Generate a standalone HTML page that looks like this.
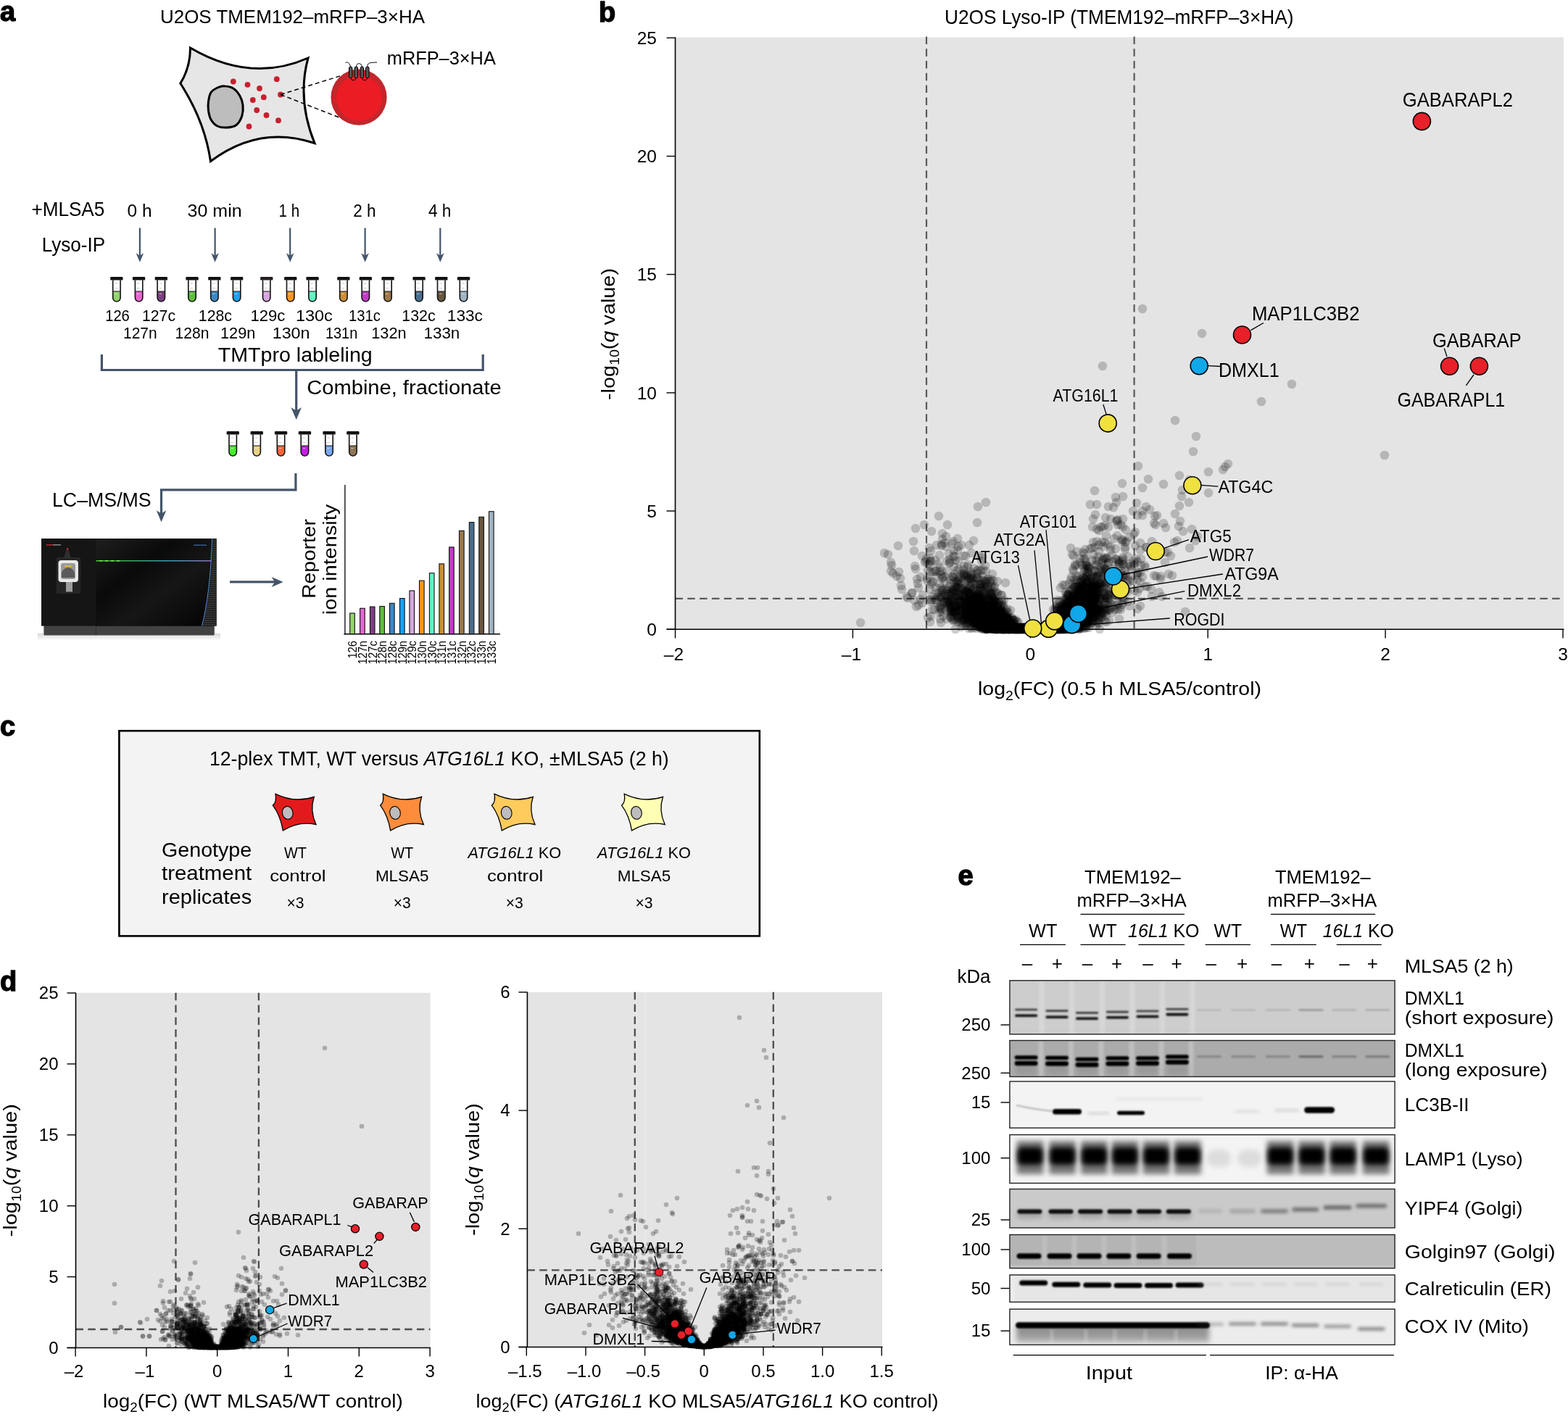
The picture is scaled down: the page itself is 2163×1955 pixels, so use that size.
<!DOCTYPE html>
<html><head><meta charset="utf-8"><title>Figure</title>
<style>
html,body{margin:0;padding:0;background:#fff;}
body{width:2163px;height:1955px;overflow:hidden;}
svg{display:block;font-family:"Liberation Sans", Arial, sans-serif;}
</style></head><body>
<svg width="2163" height="1955" viewBox="0 0 2163 1955">
<defs>
<filter id="b1" x="-20%" y="-100%" width="140%" height="300%"><feGaussianBlur stdDeviation="1.2"/></filter>
<filter id="b2" x="-20%" y="-100%" width="140%" height="300%"><feGaussianBlur stdDeviation="2"/></filter>
<filter id="b3" x="-20%" y="-100%" width="140%" height="300%"><feGaussianBlur stdDeviation="3.5"/></filter>
<filter id="b4" x="-20%" y="-100%" width="140%" height="300%"><feGaussianBlur stdDeviation="6"/></filter>
<filter id="bh" x="-30%" y="-100%" width="160%" height="300%"><feGaussianBlur stdDeviation="2.5 1.2"/></filter>
</defs>
<rect width="2163" height="1955" fill="#fff"/>
<text x="0" y="28.6" font-size="38" font-weight="bold" stroke="#000" stroke-width="1.3">a</text>
<text x="221" y="32" font-size="26" textLength="365" lengthAdjust="spacingAndGlyphs">U2OS TMEM192–mRFP–3×HA</text>
<path d="M262.5 66 Q346 115 425 80 Q409.5 137 434 197.5 Q357.7 172 290.5 222.5 Q282.4 167 248.8 115 Q262.4 93.5 262.5 66 Z" fill="#e6e6e6" stroke="#000" stroke-width="3" stroke-linejoin="miter"/>
<path d="M287.5 140 C288.1 135.8 288.9 130.7 291 127.5 C293.1 124.3 296.8 122.5 300 121 C303.2 119.5 306.2 118.5 310 118.8 C313.8 119 319 120.2 322.5 122.5 C326 124.8 328.9 128.8 331 132.5 C333.1 136.2 334.5 140.4 335 145 C335.5 149.6 335.2 155.4 333.8 160 C332.2 164.6 329.5 169.8 326 172.5 C322.5 175.2 316.8 175.8 312.5 176 C308.2 176.2 303.6 175.8 300 174 C296.4 172.2 293.1 168.6 291 165 C288.9 161.4 288.1 156.7 287.5 152.5 C286.9 148.3 286.9 144.2 287.5 140Z" fill="#bdbdbd" stroke="#000" stroke-width="3"/>
<circle cx="321.8" cy="112.5" r="3.9" fill="#c8202f"/>
<circle cx="341.5" cy="116.8" r="3.9" fill="#c8202f"/>
<circle cx="358" cy="122" r="3.9" fill="#c8202f"/>
<circle cx="381.8" cy="109.2" r="3.9" fill="#c8202f"/>
<circle cx="363.8" cy="134.2" r="3.9" fill="#c8202f"/>
<circle cx="387" cy="130.5" r="3.9" fill="#c8202f"/>
<circle cx="348.8" cy="138" r="3.9" fill="#c8202f"/>
<circle cx="354.2" cy="152" r="3.9" fill="#c8202f"/>
<circle cx="367.5" cy="159" r="3.9" fill="#c8202f"/>
<circle cx="384" cy="166.2" r="3.9" fill="#c8202f"/>
<circle cx="343.5" cy="174.5" r="3.9" fill="#c8202f"/>
<line x1="387" y1="130.5" x2="472.5" y2="103.8" stroke="#000" stroke-width="1.5" stroke-dasharray="6 4"/>
<line x1="387" y1="130.5" x2="475.5" y2="165" stroke="#000" stroke-width="1.5" stroke-dasharray="6 4"/>
<circle cx="495" cy="134.2" r="38.6" fill="#c1272d"/>
<circle cx="495.4" cy="135.2" r="31.6" fill="#ec1c24"/>
<path d="M476.5 86.5 C479 85 482 86 483.7 92.5 M483.7 107 C484 112 491 112 491.3 107 M491.3 92.5 C491.5 86 499 86 499.3 92.5 M499.3 107 C499.5 112 506.5 112 506.8 107 M506.8 92.5 C507 86 510 86.5 520 86" fill="none" stroke="#000" stroke-width="1"/>
<rect x="481.5" y="92" width="4.4" height="15.5" rx="2" fill="#555" stroke="#000" stroke-width="1"/>
<rect x="489.1" y="92" width="4.4" height="15.5" rx="2" fill="#555" stroke="#000" stroke-width="1"/>
<rect x="497.1" y="92" width="4.4" height="15.5" rx="2" fill="#555" stroke="#000" stroke-width="1"/>
<rect x="504.6" y="92" width="4.4" height="15.5" rx="2" fill="#555" stroke="#000" stroke-width="1"/>
<text x="533.8" y="88.8" font-size="26" textLength="150" lengthAdjust="spacingAndGlyphs">mRFP–3×HA</text>
<text x="43.4" y="298" font-size="27" textLength="100.9" lengthAdjust="spacingAndGlyphs">+MLSA5</text>
<text x="57.7" y="346.6" font-size="27" textLength="87.5" lengthAdjust="spacingAndGlyphs">Lyso-IP</text>
<text x="175.5" y="299.3" font-size="23" textLength="34" lengthAdjust="spacingAndGlyphs">0 h</text>
<text x="258.6" y="299.3" font-size="23" textLength="75" lengthAdjust="spacingAndGlyphs">30 min</text>
<text x="384.6" y="299.3" font-size="23" textLength="28.6" lengthAdjust="spacingAndGlyphs">1 h</text>
<text x="487.3" y="299.3" font-size="23" textLength="31.3" lengthAdjust="spacingAndGlyphs">2 h</text>
<text x="590.9" y="299.3" font-size="23" textLength="31.6" lengthAdjust="spacingAndGlyphs">4 h</text>
<line x1="192.9" y1="314.5" x2="192.9" y2="355.6" stroke="#44546a" stroke-width="2.2"/>
<path d="M192.9 361.8 L187.6 349.3 L192.9 352.8 L198.2 349.3 Z" fill="#44546a"/>
<line x1="296.6" y1="314.5" x2="296.6" y2="355.6" stroke="#44546a" stroke-width="2.2"/>
<path d="M296.6 361.8 L291.3 349.3 L296.6 352.8 L301.9 349.3 Z" fill="#44546a"/>
<line x1="400.2" y1="314.5" x2="400.2" y2="355.6" stroke="#44546a" stroke-width="2.2"/>
<path d="M400.2 361.8 L394.9 349.3 L400.2 352.8 L405.5 349.3 Z" fill="#44546a"/>
<line x1="503.6" y1="314.5" x2="503.6" y2="355.6" stroke="#44546a" stroke-width="2.2"/>
<path d="M503.6 361.8 L498.3 349.3 L503.6 352.8 L508.9 349.3 Z" fill="#44546a"/>
<line x1="607.3" y1="314.5" x2="607.3" y2="355.6" stroke="#44546a" stroke-width="2.2"/>
<path d="M607.3 361.8 L602 349.3 L607.3 352.8 L612.6 349.3 Z" fill="#44546a"/>
<rect x="152.2" y="382" width="17.3" height="4.6" rx="1.2" fill="#111"/>
<path d="M155.9 402 L165.9 402 L165.9 410.8 A5 5 0 0 1 155.9 410.8 Z" fill="#93d46d"/>
<path d="M155.7 386.6 L155.7 410.8 A5.2 5.2 0 0 0 166.1 410.8 L166.1 386.6" fill="none" stroke="#111" stroke-width="1.6"/>
<line x1="155.9" y1="402" x2="165.9" y2="402" stroke="#222" stroke-width="1.1"/>
<line x1="158.4" y1="391" x2="161.9" y2="391" stroke="#bbb" stroke-width="0.8"/>
<line x1="158.4" y1="397.5" x2="161.9" y2="397.5" stroke="#bbb" stroke-width="0.8"/>
<line x1="158.4" y1="405.5" x2="161.4" y2="405.5" stroke="#eee" stroke-width="1.0" opacity="0.7"/>
<rect x="182.9" y="382" width="17.3" height="4.6" rx="1.2" fill="#111"/>
<path d="M186.6 402 L196.6 402 L196.6 410.8 A5 5 0 0 1 186.6 410.8 Z" fill="#e865d0"/>
<path d="M186.4 386.6 L186.4 410.8 A5.2 5.2 0 0 0 196.8 410.8 L196.8 386.6" fill="none" stroke="#111" stroke-width="1.6"/>
<line x1="186.6" y1="402" x2="196.6" y2="402" stroke="#222" stroke-width="1.1"/>
<line x1="189.1" y1="391" x2="192.6" y2="391" stroke="#bbb" stroke-width="0.8"/>
<line x1="189.1" y1="397.5" x2="192.6" y2="397.5" stroke="#bbb" stroke-width="0.8"/>
<line x1="189.1" y1="405.5" x2="192.1" y2="405.5" stroke="#eee" stroke-width="1.0" opacity="0.7"/>
<rect x="213.7" y="382" width="17.3" height="4.6" rx="1.2" fill="#111"/>
<path d="M217.3 402 L227.3 402 L227.3 410.8 A5 5 0 0 1 217.3 410.8 Z" fill="#7d3f80"/>
<path d="M217.1 386.6 L217.1 410.8 A5.2 5.2 0 0 0 227.5 410.8 L227.5 386.6" fill="none" stroke="#111" stroke-width="1.6"/>
<line x1="217.3" y1="402" x2="227.3" y2="402" stroke="#222" stroke-width="1.1"/>
<line x1="219.8" y1="391" x2="223.3" y2="391" stroke="#bbb" stroke-width="0.8"/>
<line x1="219.8" y1="397.5" x2="223.3" y2="397.5" stroke="#bbb" stroke-width="0.8"/>
<line x1="219.8" y1="405.5" x2="222.8" y2="405.5" stroke="#eee" stroke-width="1.0" opacity="0.7"/>
<rect x="256.4" y="382" width="17.3" height="4.6" rx="1.2" fill="#111"/>
<path d="M260 402 L270 402 L270 410.8 A5 5 0 0 1 260 410.8 Z" fill="#5fbe3c"/>
<path d="M259.8 386.6 L259.8 410.8 A5.2 5.2 0 0 0 270.2 410.8 L270.2 386.6" fill="none" stroke="#111" stroke-width="1.6"/>
<line x1="260" y1="402" x2="270" y2="402" stroke="#222" stroke-width="1.1"/>
<line x1="262.5" y1="391" x2="266" y2="391" stroke="#bbb" stroke-width="0.8"/>
<line x1="262.5" y1="397.5" x2="266" y2="397.5" stroke="#bbb" stroke-width="0.8"/>
<line x1="262.5" y1="405.5" x2="265.5" y2="405.5" stroke="#eee" stroke-width="1.0" opacity="0.7"/>
<rect x="287.2" y="382" width="17.3" height="4.6" rx="1.2" fill="#111"/>
<path d="M290.9 402 L300.9 402 L300.9 410.8 A5 5 0 0 1 290.9 410.8 Z" fill="#3b88c4"/>
<path d="M290.7 386.6 L290.7 410.8 A5.2 5.2 0 0 0 301.1 410.8 L301.1 386.6" fill="none" stroke="#111" stroke-width="1.6"/>
<line x1="290.9" y1="402" x2="300.9" y2="402" stroke="#222" stroke-width="1.1"/>
<line x1="293.4" y1="391" x2="296.9" y2="391" stroke="#bbb" stroke-width="0.8"/>
<line x1="293.4" y1="397.5" x2="296.9" y2="397.5" stroke="#bbb" stroke-width="0.8"/>
<line x1="293.4" y1="405.5" x2="296.4" y2="405.5" stroke="#eee" stroke-width="1.0" opacity="0.7"/>
<rect x="318" y="382" width="17.3" height="4.6" rx="1.2" fill="#111"/>
<path d="M321.6 402 L331.6 402 L331.6 410.8 A5 5 0 0 1 321.6 410.8 Z" fill="#19a1f2"/>
<path d="M321.4 386.6 L321.4 410.8 A5.2 5.2 0 0 0 331.8 410.8 L331.8 386.6" fill="none" stroke="#111" stroke-width="1.6"/>
<line x1="321.6" y1="402" x2="331.6" y2="402" stroke="#222" stroke-width="1.1"/>
<line x1="324.1" y1="391" x2="327.6" y2="391" stroke="#bbb" stroke-width="0.8"/>
<line x1="324.1" y1="397.5" x2="327.6" y2="397.5" stroke="#bbb" stroke-width="0.8"/>
<line x1="324.1" y1="405.5" x2="327.1" y2="405.5" stroke="#eee" stroke-width="1.0" opacity="0.7"/>
<rect x="359.1" y="382" width="17.3" height="4.6" rx="1.2" fill="#231f20"/>
<path d="M362.7 402 L372.7 402 L372.7 410.8 A5 5 0 0 1 362.7 410.8 Z" fill="#d6a6dc"/>
<path d="M362.5 386.6 L362.5 410.8 A5.2 5.2 0 0 0 372.9 410.8 L372.9 386.6" fill="none" stroke="#111" stroke-width="1.6"/>
<line x1="362.7" y1="402" x2="372.7" y2="402" stroke="#222" stroke-width="1.1"/>
<line x1="365.2" y1="391" x2="368.7" y2="391" stroke="#bbb" stroke-width="0.8"/>
<line x1="365.2" y1="397.5" x2="368.7" y2="397.5" stroke="#bbb" stroke-width="0.8"/>
<line x1="365.2" y1="405.5" x2="368.2" y2="405.5" stroke="#eee" stroke-width="1.0" opacity="0.7"/>
<rect x="392.1" y="382" width="17.3" height="4.6" rx="1.2" fill="#111"/>
<path d="M395.7 402 L405.7 402 L405.7 410.8 A5 5 0 0 1 395.7 410.8 Z" fill="#f8961e"/>
<path d="M395.5 386.6 L395.5 410.8 A5.2 5.2 0 0 0 405.9 410.8 L405.9 386.6" fill="none" stroke="#111" stroke-width="1.6"/>
<line x1="395.7" y1="402" x2="405.7" y2="402" stroke="#222" stroke-width="1.1"/>
<line x1="398.2" y1="391" x2="401.7" y2="391" stroke="#bbb" stroke-width="0.8"/>
<line x1="398.2" y1="397.5" x2="401.7" y2="397.5" stroke="#bbb" stroke-width="0.8"/>
<line x1="398.2" y1="405.5" x2="401.2" y2="405.5" stroke="#eee" stroke-width="1.0" opacity="0.7"/>
<rect x="422.4" y="382" width="17.3" height="4.6" rx="1.2" fill="#111"/>
<path d="M426 402 L436 402 L436 410.8 A5 5 0 0 1 426 410.8 Z" fill="#5ff2c4"/>
<path d="M425.8 386.6 L425.8 410.8 A5.2 5.2 0 0 0 436.2 410.8 L436.2 386.6" fill="none" stroke="#111" stroke-width="1.6"/>
<line x1="426" y1="402" x2="436" y2="402" stroke="#222" stroke-width="1.1"/>
<line x1="428.5" y1="391" x2="432" y2="391" stroke="#bbb" stroke-width="0.8"/>
<line x1="428.5" y1="397.5" x2="432" y2="397.5" stroke="#bbb" stroke-width="0.8"/>
<line x1="428.5" y1="405.5" x2="431.5" y2="405.5" stroke="#eee" stroke-width="1.0" opacity="0.7"/>
<rect x="465.2" y="382" width="17.3" height="4.6" rx="1.2" fill="#111"/>
<path d="M468.9 402 L478.9 402 L478.9 410.8 A5 5 0 0 1 468.9 410.8 Z" fill="#c98e3a"/>
<path d="M468.7 386.6 L468.7 410.8 A5.2 5.2 0 0 0 479.1 410.8 L479.1 386.6" fill="none" stroke="#111" stroke-width="1.6"/>
<line x1="468.9" y1="402" x2="478.9" y2="402" stroke="#222" stroke-width="1.1"/>
<line x1="471.4" y1="391" x2="474.9" y2="391" stroke="#bbb" stroke-width="0.8"/>
<line x1="471.4" y1="397.5" x2="474.9" y2="397.5" stroke="#bbb" stroke-width="0.8"/>
<line x1="471.4" y1="405.5" x2="474.4" y2="405.5" stroke="#eee" stroke-width="1.0" opacity="0.7"/>
<rect x="495.7" y="382" width="17.3" height="4.6" rx="1.2" fill="#111"/>
<path d="M499.3 402 L509.3 402 L509.3 410.8 A5 5 0 0 1 499.3 410.8 Z" fill="#c23ac6"/>
<path d="M499.1 386.6 L499.1 410.8 A5.2 5.2 0 0 0 509.5 410.8 L509.5 386.6" fill="none" stroke="#111" stroke-width="1.6"/>
<line x1="499.3" y1="402" x2="509.3" y2="402" stroke="#222" stroke-width="1.1"/>
<line x1="501.8" y1="391" x2="505.3" y2="391" stroke="#bbb" stroke-width="0.8"/>
<line x1="501.8" y1="397.5" x2="505.3" y2="397.5" stroke="#bbb" stroke-width="0.8"/>
<line x1="501.8" y1="405.5" x2="504.8" y2="405.5" stroke="#eee" stroke-width="1.0" opacity="0.7"/>
<rect x="526.4" y="382" width="17.3" height="4.6" rx="1.2" fill="#111"/>
<path d="M530 402 L540 402 L540 410.8 A5 5 0 0 1 530 410.8 Z" fill="#9a7848"/>
<path d="M529.8 386.6 L529.8 410.8 A5.2 5.2 0 0 0 540.2 410.8 L540.2 386.6" fill="none" stroke="#111" stroke-width="1.6"/>
<line x1="530" y1="402" x2="540" y2="402" stroke="#222" stroke-width="1.1"/>
<line x1="532.5" y1="391" x2="536" y2="391" stroke="#bbb" stroke-width="0.8"/>
<line x1="532.5" y1="397.5" x2="536" y2="397.5" stroke="#bbb" stroke-width="0.8"/>
<line x1="532.5" y1="405.5" x2="535.5" y2="405.5" stroke="#eee" stroke-width="1.0" opacity="0.7"/>
<rect x="569.4" y="382" width="17.3" height="4.6" rx="1.2" fill="#111"/>
<path d="M573 402 L583 402 L583 410.8 A5 5 0 0 1 573 410.8 Z" fill="#4a6e8c"/>
<path d="M572.8 386.6 L572.8 410.8 A5.2 5.2 0 0 0 583.2 410.8 L583.2 386.6" fill="none" stroke="#111" stroke-width="1.6"/>
<line x1="573" y1="402" x2="583" y2="402" stroke="#222" stroke-width="1.1"/>
<line x1="575.5" y1="391" x2="579" y2="391" stroke="#bbb" stroke-width="0.8"/>
<line x1="575.5" y1="397.5" x2="579" y2="397.5" stroke="#bbb" stroke-width="0.8"/>
<line x1="575.5" y1="405.5" x2="578.5" y2="405.5" stroke="#eee" stroke-width="1.0" opacity="0.7"/>
<rect x="600.1" y="382" width="17.3" height="4.6" rx="1.2" fill="#111"/>
<path d="M603.8 402 L613.8 402 L613.8 410.8 A5 5 0 0 1 603.8 410.8 Z" fill="#67563f"/>
<path d="M603.5 386.6 L603.5 410.8 A5.2 5.2 0 0 0 614 410.8 L614 386.6" fill="none" stroke="#111" stroke-width="1.6"/>
<line x1="603.8" y1="402" x2="613.8" y2="402" stroke="#222" stroke-width="1.1"/>
<line x1="606.2" y1="391" x2="609.8" y2="391" stroke="#bbb" stroke-width="0.8"/>
<line x1="606.2" y1="397.5" x2="609.8" y2="397.5" stroke="#bbb" stroke-width="0.8"/>
<line x1="606.2" y1="405.5" x2="609.2" y2="405.5" stroke="#eee" stroke-width="1.0" opacity="0.7"/>
<rect x="630.9" y="382" width="17.3" height="4.6" rx="1.2" fill="#111"/>
<path d="M634.5 402 L644.5 402 L644.5 410.8 A5 5 0 0 1 634.5 410.8 Z" fill="#9fb3c2"/>
<path d="M634.3 386.6 L634.3 410.8 A5.2 5.2 0 0 0 644.7 410.8 L644.7 386.6" fill="none" stroke="#111" stroke-width="1.6"/>
<line x1="634.5" y1="402" x2="644.5" y2="402" stroke="#222" stroke-width="1.1"/>
<line x1="637" y1="391" x2="640.5" y2="391" stroke="#bbb" stroke-width="0.8"/>
<line x1="637" y1="397.5" x2="640.5" y2="397.5" stroke="#bbb" stroke-width="0.8"/>
<line x1="637" y1="405.5" x2="640" y2="405.5" stroke="#eee" stroke-width="1.0" opacity="0.7"/>
<text x="145.2" y="442.5" font-size="22.5" textLength="33.6" lengthAdjust="spacingAndGlyphs">126</text>
<text x="196" y="442.5" font-size="22.5" textLength="46" lengthAdjust="spacingAndGlyphs">127c</text>
<text x="273.8" y="442.5" font-size="22.5" textLength="46.2" lengthAdjust="spacingAndGlyphs">128c</text>
<text x="345.4" y="442.5" font-size="22.5" textLength="47.8" lengthAdjust="spacingAndGlyphs">129c</text>
<text x="407.9" y="442.5" font-size="22.5" textLength="50.9" lengthAdjust="spacingAndGlyphs">130c</text>
<text x="481" y="442.5" font-size="22.5" textLength="43.8" lengthAdjust="spacingAndGlyphs">131c</text>
<text x="554.3" y="442.5" font-size="22.5" textLength="46.4" lengthAdjust="spacingAndGlyphs">132c</text>
<text x="616.8" y="442.5" font-size="22.5" textLength="49.1" lengthAdjust="spacingAndGlyphs">133c</text>
<text x="170" y="466.8" font-size="22.5" textLength="46.6" lengthAdjust="spacingAndGlyphs">127n</text>
<text x="241.6" y="466.8" font-size="22.5" textLength="46.8" lengthAdjust="spacingAndGlyphs">128n</text>
<text x="304" y="466.8" font-size="22.5" textLength="48.3" lengthAdjust="spacingAndGlyphs">129n</text>
<text x="375.7" y="466.8" font-size="22.5" textLength="51.8" lengthAdjust="spacingAndGlyphs">130n</text>
<text x="449" y="466.8" font-size="22.5" textLength="44.2" lengthAdjust="spacingAndGlyphs">131n</text>
<text x="512.3" y="466.8" font-size="22.5" textLength="48.2" lengthAdjust="spacingAndGlyphs">132n</text>
<text x="584.6" y="466.8" font-size="22.5" textLength="49.7" lengthAdjust="spacingAndGlyphs">133n</text>
<path d="M140.4 489 V510.5 H666.2 V489" fill="none" stroke="#44546a" stroke-width="3.2"/>
<text x="300.8" y="499.4" font-size="27" textLength="212.9" lengthAdjust="spacingAndGlyphs">TMTpro lableling</text>
<line x1="408.7" y1="510.5" x2="408.7" y2="570.5" stroke="#44546a" stroke-width="3.2"/>
<path d="M408.7 579 L401.4 562 L408.7 566.8 L416 562 Z" fill="#44546a"/>
<text x="423.3" y="544" font-size="27" textLength="268.4" lengthAdjust="spacingAndGlyphs">Combine, fractionate</text>
<rect x="312.6" y="595" width="17.3" height="4.6" rx="1.2" fill="#111"/>
<path d="M316.2 615 L326.2 615 L326.2 623.8 A5 5 0 0 1 316.2 623.8 Z" fill="#48ef2e"/>
<path d="M316 599.6 L316 623.8 A5.2 5.2 0 0 0 326.4 623.8 L326.4 599.6" fill="none" stroke="#111" stroke-width="1.6"/>
<line x1="316.2" y1="615" x2="326.2" y2="615" stroke="#222" stroke-width="1.1"/>
<line x1="318.7" y1="604" x2="322.2" y2="604" stroke="#bbb" stroke-width="0.8"/>
<line x1="318.7" y1="610.5" x2="322.2" y2="610.5" stroke="#bbb" stroke-width="0.8"/>
<line x1="318.7" y1="618.5" x2="321.7" y2="618.5" stroke="#eee" stroke-width="1.0" opacity="0.7"/>
<rect x="345.6" y="595" width="17.3" height="4.6" rx="1.2" fill="#111"/>
<path d="M349.2 615 L359.2 615 L359.2 623.8 A5 5 0 0 1 349.2 623.8 Z" fill="#ebd182"/>
<path d="M349 599.6 L349 623.8 A5.2 5.2 0 0 0 359.4 623.8 L359.4 599.6" fill="none" stroke="#111" stroke-width="1.6"/>
<line x1="349.2" y1="615" x2="359.2" y2="615" stroke="#222" stroke-width="1.1"/>
<line x1="351.7" y1="604" x2="355.2" y2="604" stroke="#bbb" stroke-width="0.8"/>
<line x1="351.7" y1="610.5" x2="355.2" y2="610.5" stroke="#bbb" stroke-width="0.8"/>
<line x1="351.7" y1="618.5" x2="354.7" y2="618.5" stroke="#eee" stroke-width="1.0" opacity="0.7"/>
<rect x="378.9" y="595" width="17.3" height="4.6" rx="1.2" fill="#111"/>
<path d="M382.5 615 L392.5 615 L392.5 623.8 A5 5 0 0 1 382.5 623.8 Z" fill="#f4693a"/>
<path d="M382.3 599.6 L382.3 623.8 A5.2 5.2 0 0 0 392.7 623.8 L392.7 599.6" fill="none" stroke="#111" stroke-width="1.6"/>
<line x1="382.5" y1="615" x2="392.5" y2="615" stroke="#222" stroke-width="1.1"/>
<line x1="385" y1="604" x2="388.5" y2="604" stroke="#bbb" stroke-width="0.8"/>
<line x1="385" y1="610.5" x2="388.5" y2="610.5" stroke="#bbb" stroke-width="0.8"/>
<line x1="385" y1="618.5" x2="388" y2="618.5" stroke="#eee" stroke-width="1.0" opacity="0.7"/>
<rect x="411.8" y="595" width="17.3" height="4.6" rx="1.2" fill="#111"/>
<path d="M415.4 615 L425.4 615 L425.4 623.8 A5 5 0 0 1 415.4 623.8 Z" fill="#c41fe6"/>
<path d="M415.2 599.6 L415.2 623.8 A5.2 5.2 0 0 0 425.6 623.8 L425.6 599.6" fill="none" stroke="#111" stroke-width="1.6"/>
<line x1="415.4" y1="615" x2="425.4" y2="615" stroke="#222" stroke-width="1.1"/>
<line x1="417.9" y1="604" x2="421.4" y2="604" stroke="#bbb" stroke-width="0.8"/>
<line x1="417.9" y1="610.5" x2="421.4" y2="610.5" stroke="#bbb" stroke-width="0.8"/>
<line x1="417.9" y1="618.5" x2="420.9" y2="618.5" stroke="#eee" stroke-width="1.0" opacity="0.7"/>
<rect x="445.4" y="595" width="17.3" height="4.6" rx="1.2" fill="#111"/>
<path d="M449 615 L459 615 L459 623.8 A5 5 0 0 1 449 623.8 Z" fill="#7aa9f3"/>
<path d="M448.8 599.6 L448.8 623.8 A5.2 5.2 0 0 0 459.2 623.8 L459.2 599.6" fill="none" stroke="#111" stroke-width="1.6"/>
<line x1="449" y1="615" x2="459" y2="615" stroke="#222" stroke-width="1.1"/>
<line x1="451.5" y1="604" x2="455" y2="604" stroke="#bbb" stroke-width="0.8"/>
<line x1="451.5" y1="610.5" x2="455" y2="610.5" stroke="#bbb" stroke-width="0.8"/>
<line x1="451.5" y1="618.5" x2="454.5" y2="618.5" stroke="#eee" stroke-width="1.0" opacity="0.7"/>
<rect x="478.2" y="595" width="17.3" height="4.6" rx="1.2" fill="#111"/>
<path d="M481.9 615 L491.9 615 L491.9 623.8 A5 5 0 0 1 481.9 623.8 Z" fill="#8d7554"/>
<path d="M481.7 599.6 L481.7 623.8 A5.2 5.2 0 0 0 492.1 623.8 L492.1 599.6" fill="none" stroke="#111" stroke-width="1.6"/>
<line x1="481.9" y1="615" x2="491.9" y2="615" stroke="#222" stroke-width="1.1"/>
<line x1="484.4" y1="604" x2="487.9" y2="604" stroke="#bbb" stroke-width="0.8"/>
<line x1="484.4" y1="610.5" x2="487.9" y2="610.5" stroke="#bbb" stroke-width="0.8"/>
<line x1="484.4" y1="618.5" x2="487.4" y2="618.5" stroke="#eee" stroke-width="1.0" opacity="0.7"/>
<path d="M407.9 653 V675.8 H222.5 V712" fill="none" stroke="#44546a" stroke-width="3.2"/>
<path d="M222.5 720.3 L215.8 704.3 L222.5 708.5 L229.2 704.3 Z" fill="#44546a"/>
<text x="72" y="698.6" font-size="27" textLength="136.7" lengthAdjust="spacingAndGlyphs">LC–MS/MS</text>
<defs><linearGradient id="msg" x1="0" y1="0" x2="1" y2="1">
<stop offset="0" stop-color="#1e1e1e"/><stop offset="0.35" stop-color="#0a0a0a"/><stop offset="0.6" stop-color="#161616"/><stop offset="1" stop-color="#030303"/></linearGradient>
<linearGradient id="lcl" x1="0" x2="1"><stop offset="0" stop-color="#58e03a"/><stop offset="0.25" stop-color="#3cc85a"/><stop offset="0.6" stop-color="#38b6c8"/><stop offset="1" stop-color="#9a7fd0"/></linearGradient>
<linearGradient id="shd" x1="0" y1="0" x2="0" y2="1"><stop offset="0" stop-color="#d8d8d8"/><stop offset="1" stop-color="#fff"/></linearGradient></defs>
<rect x="52" y="874" width="252" height="10" fill="url(#shd)"/>
<rect x="60.4" y="862" width="235.4" height="14.4" fill="#424242" rx="1.5"/>
<line x1="132.4" y1="863" x2="132.4" y2="876.4" stroke="#2a2a2a" stroke-width="0.8"/>
<rect x="57" y="743" width="241.6" height="120.6" fill="#151515"/>
<rect x="132.4" y="743" width="160" height="120.6" fill="url(#msg)"/>
<path d="M292.6 743 L298.6 743 L298.6 863.6 L278.5 863.6 Q290 820 292.6 743 Z" fill="#1a1a1a"/>
<line x1="293.6" y1="745" x2="298.4" y2="745" stroke="#4d4d4d" stroke-width="1"/>
<line x1="293.6" y1="748" x2="298.4" y2="748" stroke="#4d4d4d" stroke-width="1"/>
<line x1="293.5" y1="751" x2="298.4" y2="751" stroke="#4d4d4d" stroke-width="1"/>
<line x1="293.5" y1="754" x2="298.4" y2="754" stroke="#4d4d4d" stroke-width="1"/>
<line x1="293.4" y1="757" x2="298.4" y2="757" stroke="#4d4d4d" stroke-width="1"/>
<line x1="293.3" y1="760" x2="298.4" y2="760" stroke="#4d4d4d" stroke-width="1"/>
<line x1="293.2" y1="763" x2="298.4" y2="763" stroke="#4d4d4d" stroke-width="1"/>
<line x1="293.1" y1="766" x2="298.4" y2="766" stroke="#4d4d4d" stroke-width="1"/>
<line x1="293" y1="769" x2="298.4" y2="769" stroke="#4d4d4d" stroke-width="1"/>
<line x1="292.8" y1="772" x2="298.4" y2="772" stroke="#4d4d4d" stroke-width="1"/>
<line x1="292.6" y1="775" x2="298.4" y2="775" stroke="#4d4d4d" stroke-width="1"/>
<line x1="292.4" y1="778" x2="298.4" y2="778" stroke="#4d4d4d" stroke-width="1"/>
<line x1="292.2" y1="781" x2="298.4" y2="781" stroke="#4d4d4d" stroke-width="1"/>
<line x1="292" y1="784" x2="298.4" y2="784" stroke="#4d4d4d" stroke-width="1"/>
<line x1="291.8" y1="787" x2="298.4" y2="787" stroke="#4d4d4d" stroke-width="1"/>
<line x1="291.5" y1="790" x2="298.4" y2="790" stroke="#4d4d4d" stroke-width="1"/>
<line x1="291.2" y1="793" x2="298.4" y2="793" stroke="#4d4d4d" stroke-width="1"/>
<line x1="290.9" y1="796" x2="298.4" y2="796" stroke="#4d4d4d" stroke-width="1"/>
<line x1="290.6" y1="799" x2="298.4" y2="799" stroke="#4d4d4d" stroke-width="1"/>
<line x1="290.3" y1="802" x2="298.4" y2="802" stroke="#4d4d4d" stroke-width="1"/>
<line x1="289.9" y1="805" x2="298.4" y2="805" stroke="#4d4d4d" stroke-width="1"/>
<line x1="289.5" y1="808" x2="298.4" y2="808" stroke="#4d4d4d" stroke-width="1"/>
<line x1="289.1" y1="811" x2="298.4" y2="811" stroke="#4d4d4d" stroke-width="1"/>
<line x1="288.7" y1="814" x2="298.4" y2="814" stroke="#4d4d4d" stroke-width="1"/>
<line x1="288.3" y1="817" x2="298.4" y2="817" stroke="#4d4d4d" stroke-width="1"/>
<line x1="287.9" y1="820" x2="298.4" y2="820" stroke="#4d4d4d" stroke-width="1"/>
<line x1="287.4" y1="823" x2="298.4" y2="823" stroke="#4d4d4d" stroke-width="1"/>
<line x1="286.9" y1="826" x2="298.4" y2="826" stroke="#4d4d4d" stroke-width="1"/>
<line x1="286.5" y1="829" x2="298.4" y2="829" stroke="#4d4d4d" stroke-width="1"/>
<line x1="285.9" y1="832" x2="298.4" y2="832" stroke="#4d4d4d" stroke-width="1"/>
<line x1="285.4" y1="835" x2="298.4" y2="835" stroke="#4d4d4d" stroke-width="1"/>
<line x1="284.9" y1="838" x2="298.4" y2="838" stroke="#4d4d4d" stroke-width="1"/>
<line x1="284.3" y1="841" x2="298.4" y2="841" stroke="#4d4d4d" stroke-width="1"/>
<line x1="283.7" y1="844" x2="298.4" y2="844" stroke="#4d4d4d" stroke-width="1"/>
<line x1="283.1" y1="847" x2="298.4" y2="847" stroke="#4d4d4d" stroke-width="1"/>
<line x1="282.5" y1="850" x2="298.4" y2="850" stroke="#4d4d4d" stroke-width="1"/>
<line x1="281.9" y1="853" x2="298.4" y2="853" stroke="#4d4d4d" stroke-width="1"/>
<line x1="281.2" y1="856" x2="298.4" y2="856" stroke="#4d4d4d" stroke-width="1"/>
<line x1="280.6" y1="859" x2="298.4" y2="859" stroke="#4d4d4d" stroke-width="1"/>
<line x1="279.9" y1="862" x2="298.4" y2="862" stroke="#4d4d4d" stroke-width="1"/>
<path d="M292.6 743.5 Q290 820 278.5 863.6" fill="none" stroke="#4f8fd8" stroke-width="1"/>
<rect x="132.4" y="773.1" width="159.1" height="1.3" fill="url(#lcl)"/>
<line x1="137" y1="773.7" x2="141" y2="773.7" stroke="#7dff4a" stroke-width="1.4"/>
<line x1="145" y1="773.7" x2="149" y2="773.7" stroke="#7dff4a" stroke-width="1.4"/>
<line x1="153" y1="773.7" x2="157" y2="773.7" stroke="#7dff4a" stroke-width="1.4"/>
<line x1="161" y1="773.7" x2="165" y2="773.7" stroke="#7dff4a" stroke-width="1.4"/>
<rect x="77.7" y="769" width="33.5" height="50" fill="#262626" rx="2"/>
<rect x="80.5" y="773" width="27.4" height="30" fill="#e9e9e9" rx="4"/>
<rect x="84" y="777" width="20" height="22" fill="#9a9a9a" rx="3"/>
<path d="M85 792 A9 9 0 0 1 103 792 L103 797 L85 797 Z" fill="#5a5a5a"/>
<rect x="91" y="803" width="9" height="13.5" fill="#9c9c9c"/>
<path d="M88 770 L91 760 L93 758 L95 760 L98 770 Z" fill="#2e2e2e"/>
<circle cx="93" cy="757.5" r="1.2" fill="#d33"/>
<rect x="89.5" y="780" width="4" height="2" fill="#e8c01a"/>
<rect x="94.5" y="780" width="4" height="2" fill="#e8c01a"/>
<rect x="64" y="751" width="9" height="1.5" fill="#c0262d"/>
<rect x="73" y="751" width="11" height="1.5" fill="#888"/>
<rect x="267" y="751.5" width="18" height="1.2" fill="#3a6fae"/>
<line x1="317" y1="802.9" x2="382.6" y2="802.9" stroke="#44546a" stroke-width="3.2"/>
<path d="M390.6 802.9 L374.6 795.9 L379.1 802.9 L374.6 809.9 Z" fill="#44546a"/>
<line x1="475.9" y1="668.9" x2="475.9" y2="875.5" stroke="#000" stroke-width="1.3"/>
<line x1="474.4" y1="874.7" x2="689.9" y2="874.7" stroke="#000" stroke-width="1.6"/>
<rect x="482.7" y="846" width="6.6" height="28.7" fill="#93d46d" stroke="#111" stroke-width="1.1"/>
<rect x="496.6" y="839.3" width="6.6" height="35.4" fill="#e865d0" stroke="#111" stroke-width="1.1"/>
<rect x="510.4" y="837.1" width="6.6" height="37.6" fill="#7d3f80" stroke="#111" stroke-width="1.1"/>
<rect x="523.8" y="836.6" width="6.6" height="38.1" fill="#5fbe3c" stroke="#111" stroke-width="1.1"/>
<rect x="537.5" y="832.3" width="6.6" height="42.4" fill="#3b88c4" stroke="#111" stroke-width="1.1"/>
<rect x="551.5" y="825.6" width="6.6" height="49.1" fill="#19a1f2" stroke="#111" stroke-width="1.1"/>
<rect x="564.9" y="815" width="6.6" height="59.7" fill="#d6a6dc" stroke="#111" stroke-width="1.1"/>
<rect x="578.5" y="801.1" width="6.6" height="73.6" fill="#f8961e" stroke="#111" stroke-width="1.1"/>
<rect x="592.4" y="790.7" width="6.6" height="84" fill="#5ff2c4" stroke="#111" stroke-width="1.1"/>
<rect x="605.9" y="777.9" width="6.6" height="96.8" fill="#c98e3a" stroke="#111" stroke-width="1.1"/>
<rect x="619.6" y="754.9" width="6.6" height="119.8" fill="#c23ac6" stroke="#111" stroke-width="1.1"/>
<rect x="633.5" y="732.2" width="6.6" height="142.5" fill="#9a7848" stroke="#111" stroke-width="1.1"/>
<rect x="647.3" y="720.6" width="6.6" height="154.1" fill="#4a6e8c" stroke="#111" stroke-width="1.1"/>
<rect x="660.8" y="713.3" width="6.6" height="161.4" fill="#67563f" stroke="#111" stroke-width="1.1"/>
<rect x="674.5" y="705.7" width="6.6" height="169" fill="#9fb3c2" stroke="#111" stroke-width="1.1"/>
<text x="491.8" y="884" font-size="17" text-anchor="end" textLength="24.6" lengthAdjust="spacingAndGlyphs" transform="rotate(-90 491.8 884)">126</text>
<text x="505.7" y="884" font-size="17" text-anchor="end" textLength="32.5" lengthAdjust="spacingAndGlyphs" transform="rotate(-90 505.7 884)">127n</text>
<text x="519.5" y="884" font-size="17" text-anchor="end" textLength="32.5" lengthAdjust="spacingAndGlyphs" transform="rotate(-90 519.5 884)">127c</text>
<text x="532.9" y="884" font-size="17" text-anchor="end" textLength="32.5" lengthAdjust="spacingAndGlyphs" transform="rotate(-90 532.9 884)">128n</text>
<text x="546.6" y="884" font-size="17" text-anchor="end" textLength="32.5" lengthAdjust="spacingAndGlyphs" transform="rotate(-90 546.6 884)">128c</text>
<text x="560.6" y="884" font-size="17" text-anchor="end" textLength="32.5" lengthAdjust="spacingAndGlyphs" transform="rotate(-90 560.6 884)">129n</text>
<text x="574" y="884" font-size="17" text-anchor="end" textLength="32.5" lengthAdjust="spacingAndGlyphs" transform="rotate(-90 574 884)">129c</text>
<text x="587.6" y="884" font-size="17" text-anchor="end" textLength="32.5" lengthAdjust="spacingAndGlyphs" transform="rotate(-90 587.6 884)">130n</text>
<text x="601.5" y="884" font-size="17" text-anchor="end" textLength="32.5" lengthAdjust="spacingAndGlyphs" transform="rotate(-90 601.5 884)">130c</text>
<text x="615" y="884" font-size="17" text-anchor="end" textLength="32.5" lengthAdjust="spacingAndGlyphs" transform="rotate(-90 615 884)">131n</text>
<text x="628.7" y="884" font-size="17" text-anchor="end" textLength="32.5" lengthAdjust="spacingAndGlyphs" transform="rotate(-90 628.7 884)">131c</text>
<text x="642.6" y="884" font-size="17" text-anchor="end" textLength="32.5" lengthAdjust="spacingAndGlyphs" transform="rotate(-90 642.6 884)">132n</text>
<text x="656.4" y="884" font-size="17" text-anchor="end" textLength="32.5" lengthAdjust="spacingAndGlyphs" transform="rotate(-90 656.4 884)">132c</text>
<text x="669.9" y="884" font-size="17" text-anchor="end" textLength="32.5" lengthAdjust="spacingAndGlyphs" transform="rotate(-90 669.9 884)">133n</text>
<text x="683.6" y="884" font-size="17" text-anchor="end" textLength="32.5" lengthAdjust="spacingAndGlyphs" transform="rotate(-90 683.6 884)">133c</text>
<text x="435" y="771" font-size="26" text-anchor="middle" textLength="109.5" lengthAdjust="spacingAndGlyphs" transform="rotate(-90 435 771)">Reporter</text>
<text x="463.5" y="772" font-size="26" text-anchor="middle" textLength="152.5" lengthAdjust="spacingAndGlyphs" transform="rotate(-90 463.5 772)">ion intensity</text>
<text x="826" y="29.5" font-size="38" font-weight="bold" stroke="#000" stroke-width="1.3">b</text>
<text x="1303" y="32.7" font-size="28" textLength="481.4" lengthAdjust="spacingAndGlyphs">U2OS Lyso-IP (TMEM192–mRFP–3×HA)</text>
<rect x="931.5" y="51.4" width="1225.5" height="816.9" fill="#e4e4e4"/>
<line x1="1278" y1="50.4" x2="1278" y2="868" stroke="#5a5a5a" stroke-width="2.2" stroke-dasharray="10.5 6.3"/>
<line x1="1564.6" y1="50.4" x2="1564.6" y2="868" stroke="#5a5a5a" stroke-width="2.2" stroke-dasharray="10.5 6.3"/>
<line x1="931.5" y1="825.8" x2="2157" y2="825.8" stroke="#5a5a5a" stroke-width="2.2" stroke-dasharray="10.5 6.3"/>
<line x1="931.5" y1="51.4" x2="931.5" y2="868.2" stroke="#000" stroke-width="1.6"/>
<line x1="919.5" y1="868.2" x2="2157.5" y2="868.2" stroke="#000" stroke-width="1.6"/>
<line x1="919.5" y1="868.2" x2="931.5" y2="868.2" stroke="#000" stroke-width="1.4"/>
<line x1="919.5" y1="705" x2="931.5" y2="705" stroke="#000" stroke-width="1.4"/>
<line x1="919.5" y1="541.9" x2="931.5" y2="541.9" stroke="#000" stroke-width="1.4"/>
<line x1="919.5" y1="378.6" x2="931.5" y2="378.6" stroke="#000" stroke-width="1.4"/>
<line x1="919.5" y1="215.5" x2="931.5" y2="215.5" stroke="#000" stroke-width="1.4"/>
<line x1="919.5" y1="52.2" x2="931.5" y2="52.2" stroke="#000" stroke-width="1.4"/>
<line x1="931.5" y1="868.2" x2="931.5" y2="880.5" stroke="#000" stroke-width="1.4"/>
<line x1="1176.4" y1="868.2" x2="1176.4" y2="880.5" stroke="#000" stroke-width="1.4"/>
<line x1="1421.3" y1="868.2" x2="1421.3" y2="880.5" stroke="#000" stroke-width="1.4"/>
<line x1="1666.2" y1="868.2" x2="1666.2" y2="880.5" stroke="#000" stroke-width="1.4"/>
<line x1="1911.1" y1="868.2" x2="1911.1" y2="880.5" stroke="#000" stroke-width="1.4"/>
<line x1="2156" y1="868.2" x2="2156" y2="880.5" stroke="#000" stroke-width="1.4"/>
<g fill="#000" fill-opacity="0.2"><circle cx="1576" cy="426" r="6.3"/><circle cx="1658" cy="460" r="6.3"/><circle cx="1521" cy="505" r="6.3"/><circle cx="1782" cy="530" r="6.3"/><circle cx="1740" cy="554" r="6.3"/><circle cx="1621" cy="580" r="6.3"/><circle cx="1646" cy="623" r="6.3"/><circle cx="1910" cy="628" r="6.3"/><circle cx="1694" cy="640" r="6.3"/><circle cx="1690" cy="644" r="6.3"/><circle cx="1687" cy="648" r="6.3"/><circle cx="1667" cy="651" r="6.3"/><circle cx="1627" cy="656" r="6.3"/><circle cx="1584" cy="661" r="6.3"/><circle cx="1605" cy="668" r="6.3"/><circle cx="1548" cy="667" r="6.3"/><circle cx="1539" cy="686" r="6.3"/><circle cx="1549" cy="685" r="6.3"/><circle cx="1630" cy="685" r="6.3"/><circle cx="1540" cy="693" r="6.3"/><circle cx="1640" cy="693" r="6.3"/><circle cx="1581" cy="699" r="6.3"/><circle cx="1627" cy="698" r="6.3"/><circle cx="1576" cy="711" r="6.3"/><circle cx="1592" cy="722" r="6.3"/><circle cx="1540" cy="719" r="6.3"/><circle cx="1549" cy="727" r="6.3"/><circle cx="1507" cy="727" r="6.3"/><circle cx="1518" cy="727" r="6.3"/><circle cx="1608" cy="728" r="6.3"/><circle cx="1626" cy="726" r="6.3"/><circle cx="1644" cy="730" r="6.3"/><circle cx="1566" cy="734" r="6.3"/><circle cx="1649" cy="746" r="6.3"/><circle cx="1624" cy="746" r="6.3"/><circle cx="1581" cy="755" r="6.3"/><circle cx="1617" cy="794" r="6.3"/><circle cx="1599" cy="817" r="6.3"/><circle cx="1573" cy="803" r="6.3"/><circle cx="1592" cy="794" r="6.3"/><circle cx="1607" cy="776" r="6.3"/><circle cx="1579" cy="780" r="6.3"/><circle cx="1566" cy="753" r="6.3"/><circle cx="1360" cy="693" r="6.3"/><circle cx="1349" cy="699" r="6.3"/><circle cx="1295" cy="712" r="6.3"/><circle cx="1348" cy="721" r="6.3"/><circle cx="1263" cy="729" r="6.3"/><circle cx="1305" cy="740" r="6.3"/><circle cx="1315" cy="747" r="6.3"/><circle cx="1343" cy="746" r="6.3"/><circle cx="1220" cy="763" r="6.3"/><circle cx="1240" cy="789" r="6.3"/><circle cx="1262" cy="781" r="6.3"/><circle cx="1267" cy="811" r="6.3"/><circle cx="1187" cy="859" r="6.3"/><circle cx="1284" cy="760" r="6.3"/><circle cx="1272" cy="832" r="6.3"/><circle cx="1357" cy="852" r="6.3"/><circle cx="1361" cy="847" r="6.3"/><circle cx="1383" cy="853" r="6.3"/><circle cx="1324" cy="839" r="6.3"/><circle cx="1315" cy="767" r="6.3"/><circle cx="1414" cy="868" r="6.3"/><circle cx="1404" cy="867" r="6.3"/><circle cx="1318" cy="823" r="6.3"/><circle cx="1353" cy="841" r="6.3"/><circle cx="1403" cy="868" r="6.3"/><circle cx="1416" cy="867" r="6.3"/><circle cx="1348" cy="820" r="6.3"/><circle cx="1384" cy="862" r="6.3"/><circle cx="1350" cy="851" r="6.3"/><circle cx="1379" cy="866" r="6.3"/><circle cx="1390" cy="868" r="6.3"/><circle cx="1412" cy="867" r="6.3"/><circle cx="1375" cy="867" r="6.3"/><circle cx="1375" cy="867" r="6.3"/><circle cx="1348" cy="824" r="6.3"/><circle cx="1404" cy="867" r="6.3"/><circle cx="1415" cy="868" r="6.3"/><circle cx="1356" cy="856" r="6.3"/><circle cx="1375" cy="867" r="6.3"/><circle cx="1360" cy="825" r="6.3"/><circle cx="1369" cy="838" r="6.3"/><circle cx="1416" cy="866" r="6.3"/><circle cx="1386" cy="861" r="6.3"/><circle cx="1283" cy="774" r="6.3"/><circle cx="1412" cy="867" r="6.3"/><circle cx="1367" cy="868" r="6.3"/><circle cx="1355" cy="822" r="6.3"/><circle cx="1395" cy="868" r="6.3"/><circle cx="1403" cy="867" r="6.3"/><circle cx="1399" cy="866" r="6.3"/><circle cx="1358" cy="842" r="6.3"/><circle cx="1411" cy="866" r="6.3"/><circle cx="1403" cy="866" r="6.3"/><circle cx="1343" cy="833" r="6.3"/><circle cx="1359" cy="855" r="6.3"/><circle cx="1415" cy="866" r="6.3"/><circle cx="1358" cy="862" r="6.3"/><circle cx="1327" cy="838" r="6.3"/><circle cx="1394" cy="867" r="6.3"/><circle cx="1349" cy="850" r="6.3"/><circle cx="1414" cy="867" r="6.3"/><circle cx="1319" cy="824" r="6.3"/><circle cx="1354" cy="848" r="6.3"/><circle cx="1407" cy="866" r="6.3"/><circle cx="1419" cy="866" r="6.3"/><circle cx="1409" cy="867" r="6.3"/><circle cx="1306" cy="812" r="6.3"/><circle cx="1398" cy="866" r="6.3"/><circle cx="1393" cy="867" r="6.3"/><circle cx="1373" cy="866" r="6.3"/><circle cx="1407" cy="868" r="6.3"/><circle cx="1382" cy="867" r="6.3"/><circle cx="1391" cy="865" r="6.3"/><circle cx="1372" cy="858" r="6.3"/><circle cx="1410" cy="867" r="6.3"/><circle cx="1370" cy="868" r="6.3"/><circle cx="1409" cy="868" r="6.3"/><circle cx="1409" cy="867" r="6.3"/><circle cx="1388" cy="859" r="6.3"/><circle cx="1409" cy="868" r="6.3"/><circle cx="1367" cy="857" r="6.3"/><circle cx="1411" cy="867" r="6.3"/><circle cx="1380" cy="850" r="6.3"/><circle cx="1404" cy="866" r="6.3"/><circle cx="1375" cy="866" r="6.3"/><circle cx="1363" cy="862" r="6.3"/><circle cx="1378" cy="859" r="6.3"/><circle cx="1411" cy="866" r="6.3"/><circle cx="1375" cy="866" r="6.3"/><circle cx="1352" cy="827" r="6.3"/><circle cx="1399" cy="867" r="6.3"/><circle cx="1358" cy="834" r="6.3"/><circle cx="1414" cy="868" r="6.3"/><circle cx="1353" cy="864" r="6.3"/><circle cx="1352" cy="834" r="6.3"/><circle cx="1376" cy="858" r="6.3"/><circle cx="1404" cy="866" r="6.3"/><circle cx="1393" cy="866" r="6.3"/><circle cx="1397" cy="866" r="6.3"/><circle cx="1377" cy="867" r="6.3"/><circle cx="1395" cy="867" r="6.3"/><circle cx="1411" cy="867" r="6.3"/><circle cx="1327" cy="842" r="6.3"/><circle cx="1414" cy="867" r="6.3"/><circle cx="1339" cy="798" r="6.3"/><circle cx="1376" cy="866" r="6.3"/><circle cx="1379" cy="864" r="6.3"/><circle cx="1400" cy="868" r="6.3"/><circle cx="1405" cy="867" r="6.3"/><circle cx="1364" cy="864" r="6.3"/><circle cx="1369" cy="865" r="6.3"/><circle cx="1375" cy="859" r="6.3"/><circle cx="1394" cy="867" r="6.3"/><circle cx="1393" cy="866" r="6.3"/><circle cx="1402" cy="866" r="6.3"/><circle cx="1392" cy="866" r="6.3"/><circle cx="1318" cy="868" r="6.3"/><circle cx="1411" cy="868" r="6.3"/><circle cx="1402" cy="868" r="6.3"/><circle cx="1345" cy="852" r="6.3"/><circle cx="1398" cy="864" r="6.3"/><circle cx="1345" cy="829" r="6.3"/><circle cx="1412" cy="868" r="6.3"/><circle cx="1374" cy="856" r="6.3"/><circle cx="1404" cy="866" r="6.3"/><circle cx="1402" cy="866" r="6.3"/><circle cx="1335" cy="832" r="6.3"/><circle cx="1373" cy="860" r="6.3"/><circle cx="1405" cy="867" r="6.3"/><circle cx="1417" cy="868" r="6.3"/><circle cx="1411" cy="866" r="6.3"/><circle cx="1406" cy="867" r="6.3"/><circle cx="1385" cy="861" r="6.3"/><circle cx="1408" cy="866" r="6.3"/><circle cx="1406" cy="866" r="6.3"/><circle cx="1404" cy="867" r="6.3"/><circle cx="1416" cy="867" r="6.3"/><circle cx="1376" cy="862" r="6.3"/><circle cx="1392" cy="867" r="6.3"/><circle cx="1397" cy="867" r="6.3"/><circle cx="1355" cy="842" r="6.3"/><circle cx="1409" cy="866" r="6.3"/><circle cx="1416" cy="868" r="6.3"/><circle cx="1403" cy="866" r="6.3"/><circle cx="1374" cy="855" r="6.3"/><circle cx="1356" cy="844" r="6.3"/><circle cx="1374" cy="844" r="6.3"/><circle cx="1382" cy="867" r="6.3"/><circle cx="1408" cy="867" r="6.3"/><circle cx="1364" cy="848" r="6.3"/><circle cx="1396" cy="866" r="6.3"/><circle cx="1417" cy="868" r="6.3"/><circle cx="1353" cy="861" r="6.3"/><circle cx="1419" cy="866" r="6.3"/><circle cx="1300" cy="814" r="6.3"/><circle cx="1387" cy="866" r="6.3"/><circle cx="1413" cy="866" r="6.3"/><circle cx="1403" cy="867" r="6.3"/><circle cx="1414" cy="868" r="6.3"/><circle cx="1345" cy="845" r="6.3"/><circle cx="1385" cy="863" r="6.3"/><circle cx="1310" cy="777" r="6.3"/><circle cx="1307" cy="834" r="6.3"/><circle cx="1391" cy="867" r="6.3"/><circle cx="1378" cy="854" r="6.3"/><circle cx="1417" cy="866" r="6.3"/><circle cx="1403" cy="867" r="6.3"/><circle cx="1406" cy="868" r="6.3"/><circle cx="1345" cy="849" r="6.3"/><circle cx="1372" cy="867" r="6.3"/><circle cx="1417" cy="868" r="6.3"/><circle cx="1404" cy="868" r="6.3"/><circle cx="1384" cy="867" r="6.3"/><circle cx="1385" cy="828" r="6.3"/><circle cx="1418" cy="867" r="6.3"/><circle cx="1309" cy="832" r="6.3"/><circle cx="1378" cy="859" r="6.3"/><circle cx="1416" cy="867" r="6.3"/><circle cx="1381" cy="866" r="6.3"/><circle cx="1413" cy="866" r="6.3"/><circle cx="1402" cy="867" r="6.3"/><circle cx="1356" cy="806" r="6.3"/><circle cx="1409" cy="867" r="6.3"/><circle cx="1353" cy="814" r="6.3"/><circle cx="1383" cy="867" r="6.3"/><circle cx="1390" cy="867" r="6.3"/><circle cx="1398" cy="866" r="6.3"/><circle cx="1397" cy="867" r="6.3"/><circle cx="1369" cy="851" r="6.3"/><circle cx="1414" cy="866" r="6.3"/><circle cx="1402" cy="866" r="6.3"/><circle cx="1350" cy="851" r="6.3"/><circle cx="1403" cy="866" r="6.3"/><circle cx="1349" cy="830" r="6.3"/><circle cx="1360" cy="841" r="6.3"/><circle cx="1399" cy="866" r="6.3"/><circle cx="1393" cy="858" r="6.3"/><circle cx="1355" cy="837" r="6.3"/><circle cx="1395" cy="866" r="6.3"/><circle cx="1397" cy="867" r="6.3"/><circle cx="1347" cy="867" r="6.3"/><circle cx="1353" cy="858" r="6.3"/><circle cx="1366" cy="858" r="6.3"/><circle cx="1397" cy="868" r="6.3"/><circle cx="1408" cy="868" r="6.3"/><circle cx="1400" cy="866" r="6.3"/><circle cx="1388" cy="867" r="6.3"/><circle cx="1407" cy="867" r="6.3"/><circle cx="1335" cy="782" r="6.3"/><circle cx="1287" cy="789" r="6.3"/><circle cx="1369" cy="852" r="6.3"/><circle cx="1404" cy="867" r="6.3"/><circle cx="1335" cy="851" r="6.3"/><circle cx="1402" cy="868" r="6.3"/><circle cx="1392" cy="864" r="6.3"/><circle cx="1410" cy="866" r="6.3"/><circle cx="1336" cy="819" r="6.3"/><circle cx="1384" cy="868" r="6.3"/><circle cx="1367" cy="856" r="6.3"/><circle cx="1400" cy="867" r="6.3"/><circle cx="1403" cy="868" r="6.3"/><circle cx="1372" cy="853" r="6.3"/><circle cx="1400" cy="867" r="6.3"/><circle cx="1342" cy="836" r="6.3"/><circle cx="1376" cy="865" r="6.3"/><circle cx="1398" cy="867" r="6.3"/><circle cx="1396" cy="867" r="6.3"/><circle cx="1403" cy="867" r="6.3"/><circle cx="1417" cy="867" r="6.3"/><circle cx="1372" cy="853" r="6.3"/><circle cx="1411" cy="868" r="6.3"/><circle cx="1400" cy="867" r="6.3"/><circle cx="1398" cy="868" r="6.3"/><circle cx="1404" cy="868" r="6.3"/><circle cx="1384" cy="862" r="6.3"/><circle cx="1414" cy="867" r="6.3"/><circle cx="1412" cy="866" r="6.3"/><circle cx="1346" cy="826" r="6.3"/><circle cx="1378" cy="863" r="6.3"/><circle cx="1377" cy="866" r="6.3"/><circle cx="1400" cy="866" r="6.3"/><circle cx="1383" cy="859" r="6.3"/><circle cx="1352" cy="860" r="6.3"/><circle cx="1409" cy="866" r="6.3"/><circle cx="1401" cy="868" r="6.3"/><circle cx="1371" cy="845" r="6.3"/><circle cx="1376" cy="866" r="6.3"/><circle cx="1310" cy="843" r="6.3"/><circle cx="1389" cy="866" r="6.3"/><circle cx="1402" cy="866" r="6.3"/><circle cx="1374" cy="867" r="6.3"/><circle cx="1407" cy="868" r="6.3"/><circle cx="1390" cy="866" r="6.3"/><circle cx="1402" cy="866" r="6.3"/><circle cx="1360" cy="862" r="6.3"/><circle cx="1397" cy="867" r="6.3"/><circle cx="1396" cy="868" r="6.3"/><circle cx="1387" cy="867" r="6.3"/><circle cx="1409" cy="867" r="6.3"/><circle cx="1371" cy="859" r="6.3"/><circle cx="1417" cy="866" r="6.3"/><circle cx="1392" cy="859" r="6.3"/><circle cx="1352" cy="811" r="6.3"/><circle cx="1301" cy="813" r="6.3"/><circle cx="1412" cy="867" r="6.3"/><circle cx="1419" cy="868" r="6.3"/><circle cx="1375" cy="867" r="6.3"/><circle cx="1342" cy="842" r="6.3"/><circle cx="1398" cy="868" r="6.3"/><circle cx="1356" cy="795" r="6.3"/><circle cx="1325" cy="834" r="6.3"/><circle cx="1353" cy="811" r="6.3"/><circle cx="1366" cy="865" r="6.3"/><circle cx="1417" cy="868" r="6.3"/><circle cx="1374" cy="842" r="6.3"/><circle cx="1408" cy="866" r="6.3"/><circle cx="1392" cy="866" r="6.3"/><circle cx="1388" cy="866" r="6.3"/><circle cx="1398" cy="867" r="6.3"/><circle cx="1391" cy="866" r="6.3"/><circle cx="1390" cy="866" r="6.3"/><circle cx="1398" cy="867" r="6.3"/><circle cx="1370" cy="833" r="6.3"/><circle cx="1402" cy="868" r="6.3"/><circle cx="1410" cy="868" r="6.3"/><circle cx="1402" cy="866" r="6.3"/><circle cx="1354" cy="859" r="6.3"/><circle cx="1412" cy="867" r="6.3"/><circle cx="1402" cy="866" r="6.3"/><circle cx="1360" cy="856" r="6.3"/><circle cx="1394" cy="866" r="6.3"/><circle cx="1383" cy="868" r="6.3"/><circle cx="1403" cy="866" r="6.3"/><circle cx="1407" cy="866" r="6.3"/><circle cx="1292" cy="828" r="6.3"/><circle cx="1368" cy="846" r="6.3"/><circle cx="1411" cy="866" r="6.3"/><circle cx="1404" cy="868" r="6.3"/><circle cx="1415" cy="868" r="6.3"/><circle cx="1331" cy="833" r="6.3"/><circle cx="1412" cy="867" r="6.3"/><circle cx="1407" cy="866" r="6.3"/><circle cx="1358" cy="823" r="6.3"/><circle cx="1365" cy="854" r="6.3"/><circle cx="1407" cy="866" r="6.3"/><circle cx="1376" cy="856" r="6.3"/><circle cx="1390" cy="867" r="6.3"/><circle cx="1389" cy="864" r="6.3"/><circle cx="1322" cy="836" r="6.3"/><circle cx="1363" cy="865" r="6.3"/><circle cx="1371" cy="862" r="6.3"/><circle cx="1406" cy="866" r="6.3"/><circle cx="1394" cy="866" r="6.3"/><circle cx="1385" cy="868" r="6.3"/><circle cx="1384" cy="868" r="6.3"/><circle cx="1413" cy="868" r="6.3"/><circle cx="1298" cy="793" r="6.3"/><circle cx="1361" cy="846" r="6.3"/><circle cx="1411" cy="866" r="6.3"/><circle cx="1391" cy="864" r="6.3"/><circle cx="1319" cy="839" r="6.3"/><circle cx="1402" cy="868" r="6.3"/><circle cx="1407" cy="868" r="6.3"/><circle cx="1401" cy="866" r="6.3"/><circle cx="1413" cy="868" r="6.3"/><circle cx="1384" cy="864" r="6.3"/><circle cx="1412" cy="867" r="6.3"/><circle cx="1306" cy="823" r="6.3"/><circle cx="1404" cy="868" r="6.3"/><circle cx="1393" cy="868" r="6.3"/><circle cx="1394" cy="868" r="6.3"/><circle cx="1397" cy="866" r="6.3"/><circle cx="1375" cy="866" r="6.3"/><circle cx="1404" cy="868" r="6.3"/><circle cx="1352" cy="844" r="6.3"/><circle cx="1383" cy="864" r="6.3"/><circle cx="1395" cy="866" r="6.3"/><circle cx="1400" cy="868" r="6.3"/><circle cx="1373" cy="864" r="6.3"/><circle cx="1384" cy="868" r="6.3"/><circle cx="1367" cy="862" r="6.3"/><circle cx="1417" cy="867" r="6.3"/><circle cx="1370" cy="867" r="6.3"/><circle cx="1416" cy="867" r="6.3"/><circle cx="1371" cy="862" r="6.3"/><circle cx="1383" cy="862" r="6.3"/><circle cx="1376" cy="863" r="6.3"/><circle cx="1371" cy="819" r="6.3"/><circle cx="1360" cy="834" r="6.3"/><circle cx="1372" cy="863" r="6.3"/><circle cx="1393" cy="868" r="6.3"/><circle cx="1372" cy="867" r="6.3"/><circle cx="1394" cy="868" r="6.3"/><circle cx="1389" cy="867" r="6.3"/><circle cx="1367" cy="846" r="6.3"/><circle cx="1382" cy="863" r="6.3"/><circle cx="1374" cy="866" r="6.3"/><circle cx="1348" cy="822" r="6.3"/><circle cx="1360" cy="850" r="6.3"/><circle cx="1419" cy="868" r="6.3"/><circle cx="1404" cy="868" r="6.3"/><circle cx="1372" cy="865" r="6.3"/><circle cx="1337" cy="860" r="6.3"/><circle cx="1417" cy="867" r="6.3"/><circle cx="1413" cy="867" r="6.3"/><circle cx="1358" cy="864" r="6.3"/><circle cx="1382" cy="861" r="6.3"/><circle cx="1396" cy="864" r="6.3"/><circle cx="1406" cy="868" r="6.3"/><circle cx="1358" cy="809" r="6.3"/><circle cx="1337" cy="752" r="6.3"/><circle cx="1409" cy="866" r="6.3"/><circle cx="1396" cy="868" r="6.3"/><circle cx="1374" cy="857" r="6.3"/><circle cx="1380" cy="851" r="6.3"/><circle cx="1406" cy="868" r="6.3"/><circle cx="1408" cy="868" r="6.3"/><circle cx="1396" cy="868" r="6.3"/><circle cx="1398" cy="868" r="6.3"/><circle cx="1408" cy="868" r="6.3"/><circle cx="1403" cy="867" r="6.3"/><circle cx="1391" cy="866" r="6.3"/><circle cx="1369" cy="867" r="6.3"/><circle cx="1395" cy="866" r="6.3"/><circle cx="1376" cy="802" r="6.3"/><circle cx="1415" cy="868" r="6.3"/><circle cx="1405" cy="866" r="6.3"/><circle cx="1390" cy="868" r="6.3"/><circle cx="1413" cy="866" r="6.3"/><circle cx="1407" cy="866" r="6.3"/><circle cx="1380" cy="862" r="6.3"/><circle cx="1411" cy="868" r="6.3"/><circle cx="1379" cy="866" r="6.3"/><circle cx="1359" cy="863" r="6.3"/><circle cx="1391" cy="867" r="6.3"/><circle cx="1418" cy="867" r="6.3"/><circle cx="1409" cy="868" r="6.3"/><circle cx="1382" cy="867" r="6.3"/><circle cx="1381" cy="866" r="6.3"/><circle cx="1369" cy="866" r="6.3"/><circle cx="1229" cy="788" r="6.3"/><circle cx="1407" cy="868" r="6.3"/><circle cx="1396" cy="868" r="6.3"/><circle cx="1396" cy="868" r="6.3"/><circle cx="1375" cy="836" r="6.3"/><circle cx="1362" cy="848" r="6.3"/><circle cx="1391" cy="867" r="6.3"/><circle cx="1380" cy="857" r="6.3"/><circle cx="1415" cy="866" r="6.3"/><circle cx="1408" cy="868" r="6.3"/><circle cx="1386" cy="857" r="6.3"/><circle cx="1359" cy="854" r="6.3"/><circle cx="1389" cy="857" r="6.3"/><circle cx="1413" cy="868" r="6.3"/><circle cx="1375" cy="833" r="6.3"/><circle cx="1384" cy="868" r="6.3"/><circle cx="1392" cy="868" r="6.3"/><circle cx="1379" cy="853" r="6.3"/><circle cx="1370" cy="850" r="6.3"/><circle cx="1352" cy="838" r="6.3"/><circle cx="1322" cy="832" r="6.3"/><circle cx="1316" cy="782" r="6.3"/><circle cx="1410" cy="866" r="6.3"/><circle cx="1381" cy="867" r="6.3"/><circle cx="1383" cy="863" r="6.3"/><circle cx="1280" cy="787" r="6.3"/><circle cx="1396" cy="867" r="6.3"/><circle cx="1398" cy="865" r="6.3"/><circle cx="1303" cy="828" r="6.3"/><circle cx="1346" cy="856" r="6.3"/><circle cx="1365" cy="813" r="6.3"/><circle cx="1399" cy="866" r="6.3"/><circle cx="1403" cy="858" r="6.3"/><circle cx="1349" cy="852" r="6.3"/><circle cx="1418" cy="867" r="6.3"/><circle cx="1383" cy="853" r="6.3"/><circle cx="1325" cy="811" r="6.3"/><circle cx="1331" cy="847" r="6.3"/><circle cx="1364" cy="864" r="6.3"/><circle cx="1378" cy="860" r="6.3"/><circle cx="1353" cy="854" r="6.3"/><circle cx="1413" cy="866" r="6.3"/><circle cx="1397" cy="866" r="6.3"/><circle cx="1386" cy="853" r="6.3"/><circle cx="1372" cy="851" r="6.3"/><circle cx="1384" cy="868" r="6.3"/><circle cx="1378" cy="867" r="6.3"/><circle cx="1367" cy="860" r="6.3"/><circle cx="1360" cy="856" r="6.3"/><circle cx="1386" cy="867" r="6.3"/><circle cx="1373" cy="861" r="6.3"/><circle cx="1360" cy="802" r="6.3"/><circle cx="1387" cy="867" r="6.3"/><circle cx="1389" cy="866" r="6.3"/><circle cx="1399" cy="868" r="6.3"/><circle cx="1394" cy="866" r="6.3"/><circle cx="1351" cy="846" r="6.3"/><circle cx="1413" cy="866" r="6.3"/><circle cx="1396" cy="853" r="6.3"/><circle cx="1368" cy="860" r="6.3"/><circle cx="1417" cy="866" r="6.3"/><circle cx="1399" cy="868" r="6.3"/><circle cx="1332" cy="862" r="6.3"/><circle cx="1315" cy="843" r="6.3"/><circle cx="1349" cy="837" r="6.3"/><circle cx="1338" cy="849" r="6.3"/><circle cx="1382" cy="859" r="6.3"/><circle cx="1410" cy="868" r="6.3"/><circle cx="1321" cy="827" r="6.3"/><circle cx="1351" cy="849" r="6.3"/><circle cx="1419" cy="866" r="6.3"/><circle cx="1344" cy="839" r="6.3"/><circle cx="1393" cy="868" r="6.3"/><circle cx="1415" cy="866" r="6.3"/><circle cx="1377" cy="868" r="6.3"/><circle cx="1419" cy="868" r="6.3"/><circle cx="1386" cy="861" r="6.3"/><circle cx="1390" cy="853" r="6.3"/><circle cx="1291" cy="795" r="6.3"/><circle cx="1376" cy="857" r="6.3"/><circle cx="1400" cy="867" r="6.3"/><circle cx="1357" cy="849" r="6.3"/><circle cx="1388" cy="859" r="6.3"/><circle cx="1392" cy="867" r="6.3"/><circle cx="1366" cy="851" r="6.3"/><circle cx="1364" cy="865" r="6.3"/><circle cx="1342" cy="798" r="6.3"/><circle cx="1365" cy="854" r="6.3"/><circle cx="1384" cy="860" r="6.3"/><circle cx="1318" cy="773" r="6.3"/><circle cx="1377" cy="830" r="6.3"/><circle cx="1417" cy="868" r="6.3"/><circle cx="1414" cy="866" r="6.3"/><circle cx="1332" cy="840" r="6.3"/><circle cx="1225" cy="765" r="6.3"/><circle cx="1351" cy="767" r="6.3"/><circle cx="1330" cy="822" r="6.3"/><circle cx="1371" cy="866" r="6.3"/><circle cx="1312" cy="850" r="6.3"/><circle cx="1382" cy="853" r="6.3"/><circle cx="1391" cy="868" r="6.3"/><circle cx="1369" cy="851" r="6.3"/><circle cx="1402" cy="868" r="6.3"/><circle cx="1373" cy="867" r="6.3"/><circle cx="1391" cy="867" r="6.3"/><circle cx="1417" cy="866" r="6.3"/><circle cx="1354" cy="843" r="6.3"/><circle cx="1360" cy="858" r="6.3"/><circle cx="1402" cy="866" r="6.3"/><circle cx="1345" cy="851" r="6.3"/><circle cx="1317" cy="792" r="6.3"/><circle cx="1366" cy="854" r="6.3"/><circle cx="1352" cy="844" r="6.3"/><circle cx="1400" cy="868" r="6.3"/><circle cx="1396" cy="864" r="6.3"/><circle cx="1372" cy="857" r="6.3"/><circle cx="1367" cy="854" r="6.3"/><circle cx="1395" cy="862" r="6.3"/><circle cx="1348" cy="860" r="6.3"/><circle cx="1371" cy="848" r="6.3"/><circle cx="1242" cy="798" r="6.3"/><circle cx="1385" cy="854" r="6.3"/><circle cx="1349" cy="799" r="6.3"/><circle cx="1381" cy="868" r="6.3"/><circle cx="1323" cy="857" r="6.3"/><circle cx="1367" cy="847" r="6.3"/><circle cx="1319" cy="814" r="6.3"/><circle cx="1418" cy="867" r="6.3"/><circle cx="1416" cy="868" r="6.3"/><circle cx="1373" cy="867" r="6.3"/><circle cx="1416" cy="866" r="6.3"/><circle cx="1395" cy="866" r="6.3"/><circle cx="1391" cy="868" r="6.3"/><circle cx="1372" cy="866" r="6.3"/><circle cx="1294" cy="778" r="6.3"/><circle cx="1383" cy="867" r="6.3"/><circle cx="1377" cy="866" r="6.3"/><circle cx="1349" cy="853" r="6.3"/><circle cx="1341" cy="840" r="6.3"/><circle cx="1358" cy="846" r="6.3"/><circle cx="1377" cy="867" r="6.3"/><circle cx="1365" cy="857" r="6.3"/><circle cx="1308" cy="838" r="6.3"/><circle cx="1347" cy="853" r="6.3"/><circle cx="1347" cy="846" r="6.3"/><circle cx="1322" cy="754" r="6.3"/><circle cx="1398" cy="866" r="6.3"/><circle cx="1354" cy="867" r="6.3"/><circle cx="1398" cy="865" r="6.3"/><circle cx="1418" cy="867" r="6.3"/><circle cx="1395" cy="867" r="6.3"/><circle cx="1371" cy="854" r="6.3"/><circle cx="1381" cy="854" r="6.3"/><circle cx="1307" cy="724" r="6.3"/><circle cx="1348" cy="860" r="6.3"/><circle cx="1354" cy="860" r="6.3"/><circle cx="1377" cy="834" r="6.3"/><circle cx="1398" cy="865" r="6.3"/><circle cx="1373" cy="852" r="6.3"/><circle cx="1402" cy="866" r="6.3"/><circle cx="1374" cy="849" r="6.3"/><circle cx="1343" cy="840" r="6.3"/><circle cx="1368" cy="851" r="6.3"/><circle cx="1252" cy="825" r="6.3"/><circle cx="1386" cy="867" r="6.3"/><circle cx="1418" cy="867" r="6.3"/><circle cx="1385" cy="858" r="6.3"/><circle cx="1369" cy="851" r="6.3"/><circle cx="1417" cy="868" r="6.3"/><circle cx="1383" cy="849" r="6.3"/><circle cx="1418" cy="867" r="6.3"/><circle cx="1369" cy="792" r="6.3"/><circle cx="1401" cy="868" r="6.3"/><circle cx="1384" cy="868" r="6.3"/><circle cx="1347" cy="797" r="6.3"/><circle cx="1380" cy="857" r="6.3"/><circle cx="1378" cy="853" r="6.3"/><circle cx="1387" cy="868" r="6.3"/><circle cx="1332" cy="837" r="6.3"/><circle cx="1331" cy="827" r="6.3"/><circle cx="1392" cy="866" r="6.3"/><circle cx="1390" cy="864" r="6.3"/><circle cx="1414" cy="866" r="6.3"/><circle cx="1390" cy="867" r="6.3"/><circle cx="1393" cy="864" r="6.3"/><circle cx="1363" cy="857" r="6.3"/><circle cx="1312" cy="826" r="6.3"/><circle cx="1323" cy="817" r="6.3"/><circle cx="1416" cy="866" r="6.3"/><circle cx="1394" cy="868" r="6.3"/><circle cx="1386" cy="868" r="6.3"/><circle cx="1388" cy="868" r="6.3"/><circle cx="1400" cy="868" r="6.3"/><circle cx="1385" cy="860" r="6.3"/><circle cx="1349" cy="858" r="6.3"/><circle cx="1390" cy="858" r="6.3"/><circle cx="1342" cy="805" r="6.3"/><circle cx="1334" cy="815" r="6.3"/><circle cx="1382" cy="868" r="6.3"/><circle cx="1379" cy="867" r="6.3"/><circle cx="1381" cy="821" r="6.3"/><circle cx="1343" cy="834" r="6.3"/><circle cx="1380" cy="867" r="6.3"/><circle cx="1417" cy="868" r="6.3"/><circle cx="1414" cy="866" r="6.3"/><circle cx="1417" cy="868" r="6.3"/><circle cx="1387" cy="861" r="6.3"/><circle cx="1395" cy="852" r="6.3"/><circle cx="1343" cy="825" r="6.3"/><circle cx="1340" cy="822" r="6.3"/><circle cx="1375" cy="847" r="6.3"/><circle cx="1314" cy="845" r="6.3"/><circle cx="1378" cy="849" r="6.3"/><circle cx="1373" cy="844" r="6.3"/><circle cx="1368" cy="847" r="6.3"/><circle cx="1372" cy="841" r="6.3"/><circle cx="1370" cy="865" r="6.3"/><circle cx="1418" cy="868" r="6.3"/><circle cx="1363" cy="846" r="6.3"/><circle cx="1380" cy="855" r="6.3"/><circle cx="1373" cy="817" r="6.3"/><circle cx="1378" cy="867" r="6.3"/><circle cx="1397" cy="864" r="6.3"/><circle cx="1418" cy="866" r="6.3"/><circle cx="1390" cy="868" r="6.3"/><circle cx="1361" cy="865" r="6.3"/><circle cx="1378" cy="867" r="6.3"/><circle cx="1383" cy="868" r="6.3"/><circle cx="1386" cy="855" r="6.3"/><circle cx="1305" cy="842" r="6.3"/><circle cx="1332" cy="850" r="6.3"/><circle cx="1362" cy="847" r="6.3"/><circle cx="1417" cy="866" r="6.3"/><circle cx="1352" cy="836" r="6.3"/><circle cx="1392" cy="867" r="6.3"/><circle cx="1366" cy="859" r="6.3"/><circle cx="1363" cy="849" r="6.3"/><circle cx="1383" cy="868" r="6.3"/><circle cx="1285" cy="733" r="6.3"/><circle cx="1343" cy="861" r="6.3"/><circle cx="1417" cy="868" r="6.3"/><circle cx="1367" cy="860" r="6.3"/><circle cx="1344" cy="842" r="6.3"/><circle cx="1355" cy="825" r="6.3"/><circle cx="1339" cy="829" r="6.3"/><circle cx="1377" cy="868" r="6.3"/><circle cx="1400" cy="864" r="6.3"/><circle cx="1395" cy="865" r="6.3"/><circle cx="1360" cy="858" r="6.3"/><circle cx="1360" cy="856" r="6.3"/><circle cx="1419" cy="866" r="6.3"/><circle cx="1378" cy="850" r="6.3"/><circle cx="1366" cy="849" r="6.3"/><circle cx="1367" cy="824" r="6.3"/><circle cx="1283" cy="827" r="6.3"/><circle cx="1348" cy="859" r="6.3"/><circle cx="1357" cy="868" r="6.3"/><circle cx="1340" cy="847" r="6.3"/><circle cx="1375" cy="866" r="6.3"/><circle cx="1353" cy="850" r="6.3"/><circle cx="1369" cy="837" r="6.3"/><circle cx="1349" cy="845" r="6.3"/><circle cx="1388" cy="868" r="6.3"/><circle cx="1417" cy="866" r="6.3"/><circle cx="1409" cy="866" r="6.3"/><circle cx="1362" cy="827" r="6.3"/><circle cx="1320" cy="803" r="6.3"/><circle cx="1403" cy="868" r="6.3"/><circle cx="1388" cy="868" r="6.3"/><circle cx="1342" cy="847" r="6.3"/><circle cx="1322" cy="810" r="6.3"/><circle cx="1399" cy="866" r="6.3"/><circle cx="1398" cy="856" r="6.3"/><circle cx="1384" cy="857" r="6.3"/><circle cx="1362" cy="846" r="6.3"/><circle cx="1386" cy="868" r="6.3"/><circle cx="1325" cy="833" r="6.3"/><circle cx="1392" cy="868" r="6.3"/><circle cx="1360" cy="867" r="6.3"/><circle cx="1386" cy="868" r="6.3"/><circle cx="1345" cy="827" r="6.3"/><circle cx="1387" cy="860" r="6.3"/><circle cx="1345" cy="847" r="6.3"/><circle cx="1355" cy="769" r="6.3"/><circle cx="1307" cy="815" r="6.3"/><circle cx="1330" cy="794" r="6.3"/><circle cx="1418" cy="868" r="6.3"/><circle cx="1284" cy="830" r="6.3"/><circle cx="1286" cy="841" r="6.3"/><circle cx="1351" cy="851" r="6.3"/><circle cx="1418" cy="867" r="6.3"/><circle cx="1343" cy="850" r="6.3"/><circle cx="1290" cy="828" r="6.3"/><circle cx="1237" cy="795" r="6.3"/><circle cx="1325" cy="836" r="6.3"/><circle cx="1353" cy="858" r="6.3"/><circle cx="1378" cy="852" r="6.3"/><circle cx="1320" cy="811" r="6.3"/><circle cx="1315" cy="796" r="6.3"/><circle cx="1312" cy="821" r="6.3"/><circle cx="1374" cy="830" r="6.3"/><circle cx="1344" cy="845" r="6.3"/><circle cx="1369" cy="867" r="6.3"/><circle cx="1296" cy="845" r="6.3"/><circle cx="1347" cy="859" r="6.3"/><circle cx="1360" cy="827" r="6.3"/><circle cx="1367" cy="819" r="6.3"/><circle cx="1385" cy="851" r="6.3"/><circle cx="1361" cy="868" r="6.3"/><circle cx="1345" cy="839" r="6.3"/><circle cx="1353" cy="787" r="6.3"/><circle cx="1415" cy="866" r="6.3"/><circle cx="1381" cy="868" r="6.3"/><circle cx="1292" cy="752" r="6.3"/><circle cx="1312" cy="818" r="6.3"/><circle cx="1359" cy="851" r="6.3"/><circle cx="1316" cy="857" r="6.3"/><circle cx="1348" cy="815" r="6.3"/><circle cx="1371" cy="851" r="6.3"/><circle cx="1229" cy="776" r="6.3"/><circle cx="1331" cy="816" r="6.3"/><circle cx="1361" cy="843" r="6.3"/><circle cx="1376" cy="851" r="6.3"/><circle cx="1352" cy="838" r="6.3"/><circle cx="1371" cy="843" r="6.3"/><circle cx="1348" cy="853" r="6.3"/><circle cx="1360" cy="858" r="6.3"/><circle cx="1358" cy="844" r="6.3"/><circle cx="1323" cy="830" r="6.3"/><circle cx="1390" cy="852" r="6.3"/><circle cx="1417" cy="868" r="6.3"/><circle cx="1341" cy="823" r="6.3"/><circle cx="1370" cy="801" r="6.3"/><circle cx="1414" cy="866" r="6.3"/><circle cx="1397" cy="865" r="6.3"/><circle cx="1285" cy="806" r="6.3"/><circle cx="1363" cy="810" r="6.3"/><circle cx="1381" cy="847" r="6.3"/><circle cx="1353" cy="833" r="6.3"/><circle cx="1381" cy="854" r="6.3"/><circle cx="1335" cy="855" r="6.3"/><circle cx="1378" cy="867" r="6.3"/><circle cx="1354" cy="860" r="6.3"/><circle cx="1383" cy="854" r="6.3"/><circle cx="1386" cy="868" r="6.3"/><circle cx="1418" cy="867" r="6.3"/><circle cx="1410" cy="866" r="6.3"/><circle cx="1350" cy="839" r="6.3"/><circle cx="1391" cy="868" r="6.3"/><circle cx="1418" cy="866" r="6.3"/><circle cx="1328" cy="821" r="6.3"/><circle cx="1373" cy="866" r="6.3"/><circle cx="1287" cy="803" r="6.3"/><circle cx="1359" cy="836" r="6.3"/><circle cx="1373" cy="866" r="6.3"/><circle cx="1284" cy="774" r="6.3"/><circle cx="1352" cy="850" r="6.3"/><circle cx="1365" cy="866" r="6.3"/><circle cx="1414" cy="866" r="6.3"/><circle cx="1379" cy="849" r="6.3"/><circle cx="1377" cy="868" r="6.3"/><circle cx="1390" cy="851" r="6.3"/><circle cx="1387" cy="868" r="6.3"/><circle cx="1391" cy="862" r="6.3"/><circle cx="1338" cy="834" r="6.3"/><circle cx="1337" cy="841" r="6.3"/><circle cx="1340" cy="851" r="6.3"/><circle cx="1393" cy="861" r="6.3"/><circle cx="1419" cy="867" r="6.3"/><circle cx="1417" cy="866" r="6.3"/><circle cx="1335" cy="801" r="6.3"/><circle cx="1299" cy="753" r="6.3"/><circle cx="1386" cy="854" r="6.3"/><circle cx="1354" cy="846" r="6.3"/><circle cx="1364" cy="840" r="6.3"/><circle cx="1348" cy="859" r="6.3"/><circle cx="1329" cy="831" r="6.3"/><circle cx="1375" cy="868" r="6.3"/><circle cx="1335" cy="799" r="6.3"/><circle cx="1392" cy="868" r="6.3"/><circle cx="1365" cy="835" r="6.3"/><circle cx="1350" cy="842" r="6.3"/><circle cx="1365" cy="867" r="6.3"/><circle cx="1328" cy="838" r="6.3"/><circle cx="1293" cy="823" r="6.3"/><circle cx="1400" cy="868" r="6.3"/><circle cx="1281" cy="778" r="6.3"/><circle cx="1366" cy="847" r="6.3"/><circle cx="1384" cy="853" r="6.3"/><circle cx="1339" cy="823" r="6.3"/><circle cx="1418" cy="867" r="6.3"/><circle cx="1374" cy="846" r="6.3"/><circle cx="1401" cy="865" r="6.3"/><circle cx="1346" cy="854" r="6.3"/><circle cx="1399" cy="860" r="6.3"/><circle cx="1333" cy="808" r="6.3"/><circle cx="1395" cy="865" r="6.3"/><circle cx="1363" cy="824" r="6.3"/><circle cx="1359" cy="838" r="6.3"/><circle cx="1368" cy="865" r="6.3"/><circle cx="1349" cy="823" r="6.3"/><circle cx="1381" cy="867" r="6.3"/><circle cx="1409" cy="866" r="6.3"/><circle cx="1381" cy="840" r="6.3"/><circle cx="1327" cy="849" r="6.3"/><circle cx="1356" cy="801" r="6.3"/><circle cx="1364" cy="845" r="6.3"/><circle cx="1324" cy="829" r="6.3"/><circle cx="1384" cy="867" r="6.3"/><circle cx="1337" cy="817" r="6.3"/><circle cx="1373" cy="866" r="6.3"/><circle cx="1350" cy="836" r="6.3"/><circle cx="1317" cy="768" r="6.3"/><circle cx="1337" cy="819" r="6.3"/><circle cx="1410" cy="866" r="6.3"/><circle cx="1317" cy="838" r="6.3"/><circle cx="1412" cy="868" r="6.3"/><circle cx="1347" cy="824" r="6.3"/><circle cx="1362" cy="836" r="6.3"/><circle cx="1315" cy="844" r="6.3"/><circle cx="1363" cy="866" r="6.3"/><circle cx="1316" cy="803" r="6.3"/><circle cx="1412" cy="866" r="6.3"/><circle cx="1381" cy="844" r="6.3"/><circle cx="1367" cy="831" r="6.3"/><circle cx="1302" cy="830" r="6.3"/><circle cx="1298" cy="821" r="6.3"/><circle cx="1380" cy="849" r="6.3"/><circle cx="1402" cy="866" r="6.3"/><circle cx="1368" cy="847" r="6.3"/><circle cx="1331" cy="826" r="6.3"/><circle cx="1413" cy="866" r="6.3"/><circle cx="1415" cy="866" r="6.3"/><circle cx="1327" cy="797" r="6.3"/><circle cx="1335" cy="796" r="6.3"/><circle cx="1414" cy="866" r="6.3"/><circle cx="1353" cy="807" r="6.3"/><circle cx="1313" cy="816" r="6.3"/><circle cx="1364" cy="837" r="6.3"/><circle cx="1354" cy="834" r="6.3"/><circle cx="1343" cy="838" r="6.3"/><circle cx="1390" cy="861" r="6.3"/><circle cx="1385" cy="868" r="6.3"/><circle cx="1320" cy="842" r="6.3"/><circle cx="1365" cy="842" r="6.3"/><circle cx="1359" cy="838" r="6.3"/><circle cx="1310" cy="776" r="6.3"/><circle cx="1344" cy="847" r="6.3"/><circle cx="1276" cy="776" r="6.3"/><circle cx="1419" cy="866" r="6.3"/><circle cx="1355" cy="834" r="6.3"/><circle cx="1341" cy="852" r="6.3"/><circle cx="1373" cy="848" r="6.3"/><circle cx="1339" cy="800" r="6.3"/><circle cx="1321" cy="824" r="6.3"/><circle cx="1369" cy="835" r="6.3"/><circle cx="1390" cy="860" r="6.3"/><circle cx="1360" cy="863" r="6.3"/><circle cx="1380" cy="849" r="6.3"/><circle cx="1345" cy="852" r="6.3"/><circle cx="1317" cy="855" r="6.3"/><circle cx="1417" cy="866" r="6.3"/><circle cx="1358" cy="835" r="6.3"/><circle cx="1346" cy="854" r="6.3"/><circle cx="1388" cy="857" r="6.3"/><circle cx="1415" cy="868" r="6.3"/><circle cx="1322" cy="851" r="6.3"/><circle cx="1398" cy="868" r="6.3"/><circle cx="1380" cy="850" r="6.3"/><circle cx="1326" cy="865" r="6.3"/><circle cx="1382" cy="868" r="6.3"/><circle cx="1299" cy="824" r="6.3"/><circle cx="1351" cy="829" r="6.3"/><circle cx="1404" cy="868" r="6.3"/><circle cx="1411" cy="866" r="6.3"/><circle cx="1418" cy="866" r="6.3"/><circle cx="1310" cy="835" r="6.3"/><circle cx="1381" cy="851" r="6.3"/><circle cx="1293" cy="832" r="6.3"/><circle cx="1396" cy="864" r="6.3"/><circle cx="1408" cy="866" r="6.3"/><circle cx="1377" cy="848" r="6.3"/><circle cx="1312" cy="838" r="6.3"/><circle cx="1320" cy="837" r="6.3"/><circle cx="1295" cy="818" r="6.3"/><circle cx="1355" cy="863" r="6.3"/><circle cx="1395" cy="861" r="6.3"/><circle cx="1367" cy="865" r="6.3"/><circle cx="1323" cy="820" r="6.3"/><circle cx="1349" cy="834" r="6.3"/><circle cx="1333" cy="854" r="6.3"/><circle cx="1327" cy="860" r="6.3"/><circle cx="1350" cy="819" r="6.3"/><circle cx="1348" cy="842" r="6.3"/><circle cx="1375" cy="868" r="6.3"/><circle cx="1403" cy="868" r="6.3"/><circle cx="1296" cy="789" r="6.3"/><circle cx="1311" cy="852" r="6.3"/><circle cx="1338" cy="798" r="6.3"/><circle cx="1283" cy="789" r="6.3"/><circle cx="1372" cy="867" r="6.3"/><circle cx="1301" cy="832" r="6.3"/><circle cx="1366" cy="867" r="6.3"/><circle cx="1351" cy="824" r="6.3"/><circle cx="1366" cy="802" r="6.3"/><circle cx="1367" cy="845" r="6.3"/><circle cx="1367" cy="866" r="6.3"/><circle cx="1343" cy="855" r="6.3"/><circle cx="1395" cy="861" r="6.3"/><circle cx="1412" cy="868" r="6.3"/><circle cx="1277" cy="774" r="6.3"/><circle cx="1312" cy="847" r="6.3"/><circle cx="1406" cy="866" r="6.3"/><circle cx="1338" cy="835" r="6.3"/><circle cx="1390" cy="860" r="6.3"/><circle cx="1419" cy="867" r="6.3"/><circle cx="1384" cy="850" r="6.3"/><circle cx="1330" cy="781" r="6.3"/><circle cx="1364" cy="841" r="6.3"/><circle cx="1405" cy="866" r="6.3"/><circle cx="1284" cy="850" r="6.3"/><circle cx="1401" cy="861" r="6.3"/><circle cx="1350" cy="858" r="6.3"/><circle cx="1338" cy="856" r="6.3"/><circle cx="1382" cy="830" r="6.3"/><circle cx="1354" cy="861" r="6.3"/><circle cx="1409" cy="866" r="6.3"/><circle cx="1371" cy="868" r="6.3"/><circle cx="1418" cy="866" r="6.3"/><circle cx="1356" cy="864" r="6.3"/><circle cx="1335" cy="858" r="6.3"/><circle cx="1270" cy="827" r="6.3"/><circle cx="1298" cy="811" r="6.3"/><circle cx="1244" cy="813" r="6.3"/><circle cx="1384" cy="838" r="6.3"/><circle cx="1297" cy="783" r="6.3"/><circle cx="1409" cy="866" r="6.3"/><circle cx="1379" cy="847" r="6.3"/><circle cx="1359" cy="829" r="6.3"/><circle cx="1348" cy="852" r="6.3"/><circle cx="1366" cy="803" r="6.3"/><circle cx="1350" cy="786" r="6.3"/><circle cx="1284" cy="802" r="6.3"/><circle cx="1300" cy="798" r="6.3"/><circle cx="1363" cy="865" r="6.3"/><circle cx="1367" cy="810" r="6.3"/><circle cx="1419" cy="868" r="6.3"/><circle cx="1311" cy="818" r="6.3"/><circle cx="1404" cy="858" r="6.3"/><circle cx="1332" cy="803" r="6.3"/><circle cx="1354" cy="864" r="6.3"/><circle cx="1391" cy="845" r="6.3"/><circle cx="1354" cy="868" r="6.3"/><circle cx="1321" cy="854" r="6.3"/><circle cx="1337" cy="833" r="6.3"/><circle cx="1361" cy="821" r="6.3"/><circle cx="1383" cy="868" r="6.3"/><circle cx="1368" cy="809" r="6.3"/><circle cx="1339" cy="827" r="6.3"/><circle cx="1407" cy="868" r="6.3"/><circle cx="1376" cy="819" r="6.3"/><circle cx="1335" cy="829" r="6.3"/><circle cx="1374" cy="868" r="6.3"/><circle cx="1385" cy="853" r="6.3"/><circle cx="1280" cy="852" r="6.3"/><circle cx="1413" cy="866" r="6.3"/><circle cx="1414" cy="868" r="6.3"/><circle cx="1418" cy="868" r="6.3"/><circle cx="1371" cy="844" r="6.3"/><circle cx="1382" cy="868" r="6.3"/><circle cx="1362" cy="866" r="6.3"/><circle cx="1353" cy="864" r="6.3"/><circle cx="1380" cy="844" r="6.3"/><circle cx="1325" cy="804" r="6.3"/><circle cx="1336" cy="867" r="6.3"/><circle cx="1316" cy="830" r="6.3"/><circle cx="1332" cy="829" r="6.3"/><circle cx="1339" cy="829" r="6.3"/><circle cx="1381" cy="841" r="6.3"/><circle cx="1377" cy="837" r="6.3"/><circle cx="1413" cy="866" r="6.3"/><circle cx="1361" cy="845" r="6.3"/><circle cx="1381" cy="868" r="6.3"/><circle cx="1351" cy="865" r="6.3"/><circle cx="1409" cy="866" r="6.3"/><circle cx="1344" cy="846" r="6.3"/><circle cx="1368" cy="866" r="6.3"/><circle cx="1289" cy="841" r="6.3"/><circle cx="1375" cy="849" r="6.3"/><circle cx="1347" cy="855" r="6.3"/><circle cx="1337" cy="818" r="6.3"/><circle cx="1409" cy="866" r="6.3"/><circle cx="1390" cy="868" r="6.3"/><circle cx="1316" cy="760" r="6.3"/><circle cx="1354" cy="823" r="6.3"/><circle cx="1298" cy="859" r="6.3"/><circle cx="1299" cy="844" r="6.3"/><circle cx="1346" cy="830" r="6.3"/><circle cx="1413" cy="868" r="6.3"/><circle cx="1356" cy="816" r="6.3"/><circle cx="1363" cy="867" r="6.3"/><circle cx="1360" cy="866" r="6.3"/><circle cx="1338" cy="809" r="6.3"/><circle cx="1346" cy="836" r="6.3"/><circle cx="1418" cy="868" r="6.3"/><circle cx="1361" cy="843" r="6.3"/><circle cx="1357" cy="842" r="6.3"/><circle cx="1412" cy="866" r="6.3"/><circle cx="1360" cy="868" r="6.3"/><circle cx="1351" cy="862" r="6.3"/><circle cx="1418" cy="866" r="6.3"/><circle cx="1318" cy="842" r="6.3"/><circle cx="1355" cy="810" r="6.3"/><circle cx="1362" cy="868" r="6.3"/><circle cx="1368" cy="837" r="6.3"/><circle cx="1321" cy="850" r="6.3"/><circle cx="1374" cy="848" r="6.3"/><circle cx="1373" cy="847" r="6.3"/><circle cx="1361" cy="834" r="6.3"/><circle cx="1389" cy="852" r="6.3"/><circle cx="1380" cy="836" r="6.3"/><circle cx="1343" cy="854" r="6.3"/><circle cx="1368" cy="843" r="6.3"/><circle cx="1342" cy="859" r="6.3"/><circle cx="1360" cy="837" r="6.3"/><circle cx="1356" cy="831" r="6.3"/><circle cx="1313" cy="833" r="6.3"/><circle cx="1366" cy="819" r="6.3"/><circle cx="1419" cy="868" r="6.3"/><circle cx="1306" cy="826" r="6.3"/><circle cx="1345" cy="848" r="6.3"/><circle cx="1392" cy="861" r="6.3"/><circle cx="1382" cy="851" r="6.3"/><circle cx="1337" cy="849" r="6.3"/><circle cx="1387" cy="852" r="6.3"/><circle cx="1364" cy="836" r="6.3"/><circle cx="1343" cy="843" r="6.3"/><circle cx="1279" cy="801" r="6.3"/><circle cx="1402" cy="866" r="6.3"/><circle cx="1394" cy="862" r="6.3"/><circle cx="1417" cy="866" r="6.3"/><circle cx="1370" cy="827" r="6.3"/><circle cx="1368" cy="866" r="6.3"/><circle cx="1362" cy="837" r="6.3"/><circle cx="1418" cy="867" r="6.3"/><circle cx="1354" cy="862" r="6.3"/><circle cx="1419" cy="868" r="6.3"/><circle cx="1322" cy="800" r="6.3"/><circle cx="1329" cy="862" r="6.3"/><circle cx="1348" cy="860" r="6.3"/><circle cx="1412" cy="866" r="6.3"/><circle cx="1341" cy="819" r="6.3"/><circle cx="1381" cy="842" r="6.3"/><circle cx="1333" cy="862" r="6.3"/><circle cx="1392" cy="860" r="6.3"/><circle cx="1393" cy="860" r="6.3"/><circle cx="1285" cy="828" r="6.3"/><circle cx="1414" cy="866" r="6.3"/><circle cx="1346" cy="860" r="6.3"/><circle cx="1418" cy="868" r="6.3"/><circle cx="1391" cy="860" r="6.3"/><circle cx="1383" cy="852" r="6.3"/><circle cx="1265" cy="799" r="6.3"/><circle cx="1408" cy="866" r="6.3"/><circle cx="1291" cy="811" r="6.3"/><circle cx="1325" cy="851" r="6.3"/><circle cx="1353" cy="865" r="6.3"/><circle cx="1304" cy="819" r="6.3"/><circle cx="1264" cy="837" r="6.3"/><circle cx="1342" cy="854" r="6.3"/><circle cx="1417" cy="868" r="6.3"/><circle cx="1419" cy="868" r="6.3"/><circle cx="1414" cy="866" r="6.3"/><circle cx="1380" cy="867" r="6.3"/><circle cx="1335" cy="812" r="6.3"/><circle cx="1372" cy="867" r="6.3"/><circle cx="1401" cy="868" r="6.3"/><circle cx="1391" cy="856" r="6.3"/><circle cx="1273" cy="821" r="6.3"/><circle cx="1356" cy="866" r="6.3"/><circle cx="1411" cy="866" r="6.3"/><circle cx="1323" cy="797" r="6.3"/><circle cx="1342" cy="849" r="6.3"/><circle cx="1370" cy="835" r="6.3"/><circle cx="1367" cy="830" r="6.3"/><circle cx="1334" cy="792" r="6.3"/><circle cx="1239" cy="753" r="6.3"/><circle cx="1354" cy="865" r="6.3"/><circle cx="1377" cy="841" r="6.3"/><circle cx="1375" cy="868" r="6.3"/><circle cx="1338" cy="819" r="6.3"/><circle cx="1395" cy="862" r="6.3"/><circle cx="1343" cy="838" r="6.3"/><circle cx="1390" cy="854" r="6.3"/><circle cx="1416" cy="866" r="6.3"/><circle cx="1310" cy="822" r="6.3"/><circle cx="1367" cy="838" r="6.3"/><circle cx="1327" cy="812" r="6.3"/><circle cx="1334" cy="829" r="6.3"/><circle cx="1349" cy="837" r="6.3"/><circle cx="1349" cy="861" r="6.3"/><circle cx="1338" cy="832" r="6.3"/><circle cx="1371" cy="868" r="6.3"/><circle cx="1313" cy="837" r="6.3"/><circle cx="1398" cy="855" r="6.3"/><circle cx="1317" cy="818" r="6.3"/><circle cx="1292" cy="788" r="6.3"/><circle cx="1368" cy="867" r="6.3"/><circle cx="1409" cy="866" r="6.3"/><circle cx="1416" cy="868" r="6.3"/><circle cx="1386" cy="847" r="6.3"/><circle cx="1309" cy="820" r="6.3"/><circle cx="1311" cy="809" r="6.3"/><circle cx="1306" cy="854" r="6.3"/><circle cx="1335" cy="841" r="6.3"/><circle cx="1301" cy="850" r="6.3"/><circle cx="1329" cy="792" r="6.3"/><circle cx="1345" cy="852" r="6.3"/><circle cx="1263" cy="785" r="6.3"/><circle cx="1391" cy="868" r="6.3"/><circle cx="1384" cy="845" r="6.3"/><circle cx="1419" cy="867" r="6.3"/><circle cx="1314" cy="819" r="6.3"/><circle cx="1411" cy="868" r="6.3"/><circle cx="1312" cy="844" r="6.3"/><circle cx="1267" cy="835" r="6.3"/><circle cx="1372" cy="841" r="6.3"/><circle cx="1384" cy="868" r="6.3"/><circle cx="1314" cy="855" r="6.3"/><circle cx="1329" cy="854" r="6.3"/><circle cx="1405" cy="868" r="6.3"/><circle cx="1343" cy="812" r="6.3"/><circle cx="1377" cy="846" r="6.3"/><circle cx="1344" cy="828" r="6.3"/><circle cx="1230" cy="780" r="6.3"/><circle cx="1300" cy="817" r="6.3"/><circle cx="1397" cy="861" r="6.3"/><circle cx="1370" cy="832" r="6.3"/><circle cx="1335" cy="851" r="6.3"/><circle cx="1332" cy="847" r="6.3"/><circle cx="1419" cy="868" r="6.3"/><circle cx="1375" cy="868" r="6.3"/><circle cx="1371" cy="830" r="6.3"/><circle cx="1341" cy="824" r="6.3"/><circle cx="1406" cy="868" r="6.3"/><circle cx="1372" cy="867" r="6.3"/><circle cx="1336" cy="841" r="6.3"/><circle cx="1349" cy="859" r="6.3"/><circle cx="1325" cy="854" r="6.3"/><circle cx="1369" cy="825" r="6.3"/><circle cx="1392" cy="858" r="6.3"/><circle cx="1352" cy="806" r="6.3"/><circle cx="1348" cy="858" r="6.3"/><circle cx="1300" cy="736" r="6.3"/><circle cx="1364" cy="866" r="6.3"/><circle cx="1352" cy="806" r="6.3"/><circle cx="1353" cy="864" r="6.3"/><circle cx="1258" cy="818" r="6.3"/><circle cx="1323" cy="805" r="6.3"/><circle cx="1302" cy="822" r="6.3"/><circle cx="1361" cy="800" r="6.3"/><circle cx="1314" cy="795" r="6.3"/><circle cx="1346" cy="823" r="6.3"/><circle cx="1322" cy="774" r="6.3"/><circle cx="1378" cy="846" r="6.3"/><circle cx="1381" cy="842" r="6.3"/><circle cx="1317" cy="837" r="6.3"/><circle cx="1332" cy="831" r="6.3"/><circle cx="1322" cy="802" r="6.3"/><circle cx="1368" cy="867" r="6.3"/><circle cx="1356" cy="867" r="6.3"/><circle cx="1260" cy="747" r="6.3"/><circle cx="1323" cy="836" r="6.3"/><circle cx="1417" cy="868" r="6.3"/><circle cx="1402" cy="866" r="6.3"/><circle cx="1365" cy="839" r="6.3"/><circle cx="1301" cy="796" r="6.3"/><circle cx="1332" cy="794" r="6.3"/><circle cx="1380" cy="868" r="6.3"/><circle cx="1313" cy="750" r="6.3"/><circle cx="1359" cy="867" r="6.3"/><circle cx="1270" cy="796" r="6.3"/><circle cx="1418" cy="866" r="6.3"/><circle cx="1382" cy="835" r="6.3"/><circle cx="1340" cy="803" r="6.3"/><circle cx="1322" cy="847" r="6.3"/><circle cx="1296" cy="839" r="6.3"/><circle cx="1361" cy="868" r="6.3"/><circle cx="1344" cy="859" r="6.3"/><circle cx="1355" cy="806" r="6.3"/><circle cx="1311" cy="805" r="6.3"/><circle cx="1342" cy="850" r="6.3"/><circle cx="1347" cy="857" r="6.3"/><circle cx="1345" cy="837" r="6.3"/><circle cx="1324" cy="822" r="6.3"/><circle cx="1388" cy="856" r="6.3"/><circle cx="1369" cy="825" r="6.3"/><circle cx="1416" cy="868" r="6.3"/><circle cx="1333" cy="844" r="6.3"/><circle cx="1336" cy="844" r="6.3"/><circle cx="1348" cy="787" r="6.3"/><circle cx="1368" cy="837" r="6.3"/><circle cx="1348" cy="858" r="6.3"/><circle cx="1299" cy="824" r="6.3"/><circle cx="1419" cy="868" r="6.3"/><circle cx="1370" cy="827" r="6.3"/><circle cx="1339" cy="841" r="6.3"/><circle cx="1327" cy="848" r="6.3"/><circle cx="1418" cy="866" r="6.3"/><circle cx="1338" cy="839" r="6.3"/><circle cx="1315" cy="797" r="6.3"/><circle cx="1317" cy="844" r="6.3"/><circle cx="1363" cy="866" r="6.3"/><circle cx="1311" cy="834" r="6.3"/><circle cx="1363" cy="814" r="6.3"/><circle cx="1342" cy="813" r="6.3"/><circle cx="1364" cy="827" r="6.3"/><circle cx="1419" cy="868" r="6.3"/><circle cx="1334" cy="847" r="6.3"/><circle cx="1348" cy="826" r="6.3"/><circle cx="1414" cy="866" r="6.3"/><circle cx="1321" cy="811" r="6.3"/><circle cx="1356" cy="864" r="6.3"/><circle cx="1282" cy="813" r="6.3"/><circle cx="1337" cy="829" r="6.3"/><circle cx="1332" cy="856" r="6.3"/><circle cx="1381" cy="844" r="6.3"/><circle cx="1330" cy="856" r="6.3"/><circle cx="1390" cy="858" r="6.3"/><circle cx="1315" cy="814" r="6.3"/><circle cx="1417" cy="866" r="6.3"/><circle cx="1366" cy="821" r="6.3"/><circle cx="1319" cy="810" r="6.3"/><circle cx="1334" cy="828" r="6.3"/><circle cx="1321" cy="826" r="6.3"/><circle cx="1322" cy="843" r="6.3"/><circle cx="1337" cy="833" r="6.3"/><circle cx="1333" cy="839" r="6.3"/><circle cx="1329" cy="818" r="6.3"/><circle cx="1330" cy="828" r="6.3"/><circle cx="1370" cy="868" r="6.3"/><circle cx="1403" cy="866" r="6.3"/><circle cx="1344" cy="784" r="6.3"/><circle cx="1331" cy="815" r="6.3"/><circle cx="1331" cy="829" r="6.3"/><circle cx="1378" cy="868" r="6.3"/><circle cx="1318" cy="847" r="6.3"/><circle cx="1404" cy="866" r="6.3"/><circle cx="1356" cy="786" r="6.3"/><circle cx="1405" cy="866" r="6.3"/><circle cx="1340" cy="862" r="6.3"/><circle cx="1334" cy="844" r="6.3"/><circle cx="1387" cy="842" r="6.3"/><circle cx="1310" cy="832" r="6.3"/><circle cx="1323" cy="785" r="6.3"/><circle cx="1389" cy="849" r="6.3"/><circle cx="1366" cy="867" r="6.3"/><circle cx="1326" cy="814" r="6.3"/><circle cx="1333" cy="845" r="6.3"/><circle cx="1367" cy="868" r="6.3"/><circle cx="1343" cy="858" r="6.3"/><circle cx="1290" cy="788" r="6.3"/><circle cx="1394" cy="856" r="6.3"/><circle cx="1358" cy="866" r="6.3"/><circle cx="1290" cy="773" r="6.3"/><circle cx="1332" cy="847" r="6.3"/><circle cx="1345" cy="862" r="6.3"/><circle cx="1312" cy="852" r="6.3"/><circle cx="1283" cy="781" r="6.3"/><circle cx="1419" cy="868" r="6.3"/><circle cx="1358" cy="813" r="6.3"/><circle cx="1370" cy="867" r="6.3"/><circle cx="1338" cy="829" r="6.3"/><circle cx="1370" cy="840" r="6.3"/><circle cx="1387" cy="851" r="6.3"/><circle cx="1347" cy="815" r="6.3"/><circle cx="1418" cy="866" r="6.3"/><circle cx="1345" cy="836" r="6.3"/><circle cx="1322" cy="822" r="6.3"/><circle cx="1350" cy="862" r="6.3"/><circle cx="1331" cy="821" r="6.3"/><circle cx="1362" cy="866" r="6.3"/><circle cx="1381" cy="868" r="6.3"/><circle cx="1329" cy="767" r="6.3"/><circle cx="1350" cy="796" r="6.3"/><circle cx="1303" cy="813" r="6.3"/><circle cx="1266" cy="805" r="6.3"/><circle cx="1315" cy="814" r="6.3"/><circle cx="1336" cy="855" r="6.3"/><circle cx="1375" cy="868" r="6.3"/><circle cx="1359" cy="802" r="6.3"/><circle cx="1402" cy="868" r="6.3"/><circle cx="1363" cy="799" r="6.3"/><circle cx="1392" cy="868" r="6.3"/><circle cx="1419" cy="868" r="6.3"/><circle cx="1329" cy="839" r="6.3"/><circle cx="1320" cy="802" r="6.3"/><circle cx="1374" cy="868" r="6.3"/><circle cx="1371" cy="811" r="6.3"/><circle cx="1380" cy="867" r="6.3"/><circle cx="1379" cy="844" r="6.3"/><circle cx="1352" cy="828" r="6.3"/><circle cx="1392" cy="858" r="6.3"/><circle cx="1418" cy="868" r="6.3"/><circle cx="1275" cy="724" r="6.3"/><circle cx="1392" cy="868" r="6.3"/><circle cx="1376" cy="867" r="6.3"/><circle cx="1407" cy="866" r="6.3"/><circle cx="1368" cy="867" r="6.3"/><circle cx="1314" cy="831" r="6.3"/><circle cx="1414" cy="866" r="6.3"/><circle cx="1314" cy="830" r="6.3"/><circle cx="1312" cy="844" r="6.3"/><circle cx="1367" cy="799" r="6.3"/><circle cx="1373" cy="868" r="6.3"/><circle cx="1360" cy="868" r="6.3"/><circle cx="1359" cy="805" r="6.3"/><circle cx="1389" cy="845" r="6.3"/><circle cx="1337" cy="852" r="6.3"/><circle cx="1374" cy="840" r="6.3"/><circle cx="1348" cy="797" r="6.3"/><circle cx="1331" cy="842" r="6.3"/><circle cx="1340" cy="843" r="6.3"/><circle cx="1414" cy="866" r="6.3"/><circle cx="1353" cy="818" r="6.3"/><circle cx="1377" cy="867" r="6.3"/><circle cx="1291" cy="818" r="6.3"/><circle cx="1351" cy="822" r="6.3"/><circle cx="1326" cy="752" r="6.3"/><circle cx="1376" cy="841" r="6.3"/><circle cx="1332" cy="811" r="6.3"/><circle cx="1415" cy="866" r="6.3"/><circle cx="1412" cy="868" r="6.3"/><circle cx="1332" cy="767" r="6.3"/><circle cx="1328" cy="856" r="6.3"/><circle cx="1335" cy="779" r="6.3"/><circle cx="1387" cy="804" r="6.3"/><circle cx="1360" cy="866" r="6.3"/><circle cx="1333" cy="816" r="6.3"/><circle cx="1351" cy="835" r="6.3"/><circle cx="1232" cy="791" r="6.3"/><circle cx="1355" cy="864" r="6.3"/><circle cx="1388" cy="855" r="6.3"/><circle cx="1310" cy="838" r="6.3"/><circle cx="1373" cy="829" r="6.3"/><circle cx="1397" cy="868" r="6.3"/><circle cx="1419" cy="866" r="6.3"/><circle cx="1391" cy="856" r="6.3"/><circle cx="1372" cy="809" r="6.3"/><circle cx="1364" cy="868" r="6.3"/><circle cx="1401" cy="855" r="6.3"/><circle cx="1393" cy="858" r="6.3"/><circle cx="1379" cy="845" r="6.3"/><circle cx="1368" cy="819" r="6.3"/><circle cx="1378" cy="831" r="6.3"/><circle cx="1365" cy="818" r="6.3"/><circle cx="1419" cy="866" r="6.3"/><circle cx="1348" cy="831" r="6.3"/><circle cx="1409" cy="868" r="6.3"/><circle cx="1358" cy="830" r="6.3"/><circle cx="1339" cy="829" r="6.3"/><circle cx="1369" cy="823" r="6.3"/><circle cx="1299" cy="751" r="6.3"/><circle cx="1405" cy="868" r="6.3"/><circle cx="1350" cy="865" r="6.3"/><circle cx="1335" cy="839" r="6.3"/><circle cx="1339" cy="789" r="6.3"/><circle cx="1386" cy="868" r="6.3"/><circle cx="1368" cy="867" r="6.3"/><circle cx="1334" cy="814" r="6.3"/><circle cx="1305" cy="754" r="6.3"/><circle cx="1412" cy="866" r="6.3"/><circle cx="1338" cy="836" r="6.3"/><circle cx="1326" cy="831" r="6.3"/><circle cx="1297" cy="854" r="6.3"/><circle cx="1359" cy="827" r="6.3"/><circle cx="1368" cy="831" r="6.3"/><circle cx="1309" cy="830" r="6.3"/><circle cx="1398" cy="863" r="6.3"/><circle cx="1336" cy="831" r="6.3"/><circle cx="1419" cy="866" r="6.3"/><circle cx="1340" cy="763" r="6.3"/><circle cx="1418" cy="868" r="6.3"/><circle cx="1355" cy="866" r="6.3"/><circle cx="1375" cy="838" r="6.3"/><circle cx="1338" cy="812" r="6.3"/><circle cx="1350" cy="822" r="6.3"/><circle cx="1359" cy="780" r="6.3"/><circle cx="1418" cy="866" r="6.3"/><circle cx="1333" cy="859" r="6.3"/><circle cx="1347" cy="858" r="6.3"/><circle cx="1318" cy="833" r="6.3"/><circle cx="1331" cy="854" r="6.3"/><circle cx="1390" cy="868" r="6.3"/><circle cx="1330" cy="791" r="6.3"/><circle cx="1243" cy="808" r="6.3"/><circle cx="1327" cy="821" r="6.3"/><circle cx="1411" cy="866" r="6.3"/><circle cx="1278" cy="771" r="6.3"/><circle cx="1272" cy="767" r="6.3"/><circle cx="1251" cy="823" r="6.3"/><circle cx="1382" cy="821" r="6.3"/><circle cx="1361" cy="868" r="6.3"/><circle cx="1372" cy="828" r="6.3"/><circle cx="1327" cy="844" r="6.3"/><circle cx="1384" cy="835" r="6.3"/><circle cx="1368" cy="867" r="6.3"/><circle cx="1332" cy="826" r="6.3"/><circle cx="1372" cy="868" r="6.3"/><circle cx="1344" cy="821" r="6.3"/><circle cx="1314" cy="813" r="6.3"/><circle cx="1298" cy="841" r="6.3"/><circle cx="1332" cy="828" r="6.3"/><circle cx="1345" cy="811" r="6.3"/><circle cx="1324" cy="842" r="6.3"/><circle cx="1303" cy="749" r="6.3"/><circle cx="1306" cy="832" r="6.3"/><circle cx="1343" cy="816" r="6.3"/><circle cx="1348" cy="791" r="6.3"/><circle cx="1354" cy="774" r="6.3"/><circle cx="1410" cy="866" r="6.3"/><circle cx="1334" cy="837" r="6.3"/><circle cx="1303" cy="801" r="6.3"/><circle cx="1282" cy="756" r="6.3"/><circle cx="1344" cy="859" r="6.3"/><circle cx="1418" cy="866" r="6.3"/><circle cx="1312" cy="827" r="6.3"/><circle cx="1384" cy="847" r="6.3"/><circle cx="1316" cy="843" r="6.3"/><circle cx="1376" cy="818" r="6.3"/><circle cx="1310" cy="828" r="6.3"/><circle cx="1332" cy="817" r="6.3"/><circle cx="1396" cy="855" r="6.3"/><circle cx="1352" cy="831" r="6.3"/><circle cx="1297" cy="837" r="6.3"/><circle cx="1346" cy="859" r="6.3"/><circle cx="1361" cy="811" r="6.3"/><circle cx="1306" cy="774" r="6.3"/><circle cx="1321" cy="743" r="6.3"/><circle cx="1353" cy="865" r="6.3"/><circle cx="1389" cy="840" r="6.3"/><circle cx="1296" cy="766" r="6.3"/><circle cx="1416" cy="868" r="6.3"/><circle cx="1347" cy="864" r="6.3"/><circle cx="1409" cy="866" r="6.3"/><circle cx="1400" cy="868" r="6.3"/><circle cx="1360" cy="788" r="6.3"/><circle cx="1349" cy="827" r="6.3"/><circle cx="1340" cy="793" r="6.3"/><circle cx="1389" cy="853" r="6.3"/><circle cx="1345" cy="824" r="6.3"/><circle cx="1403" cy="866" r="6.3"/><circle cx="1321" cy="858" r="6.3"/><circle cx="1315" cy="849" r="6.3"/><circle cx="1329" cy="786" r="6.3"/><circle cx="1321" cy="759" r="6.3"/><circle cx="1372" cy="831" r="6.3"/><circle cx="1315" cy="828" r="6.3"/><circle cx="1339" cy="865" r="6.3"/><circle cx="1373" cy="867" r="6.3"/><circle cx="1336" cy="836" r="6.3"/><circle cx="1394" cy="855" r="6.3"/><circle cx="1394" cy="842" r="6.3"/><circle cx="1341" cy="857" r="6.3"/><circle cx="1368" cy="820" r="6.3"/><circle cx="1296" cy="824" r="6.3"/><circle cx="1298" cy="839" r="6.3"/><circle cx="1286" cy="823" r="6.3"/><circle cx="1390" cy="854" r="6.3"/><circle cx="1336" cy="838" r="6.3"/><circle cx="1346" cy="808" r="6.3"/><circle cx="1418" cy="866" r="6.3"/><circle cx="1310" cy="772" r="6.3"/><circle cx="1340" cy="867" r="6.3"/><circle cx="1319" cy="835" r="6.3"/><circle cx="1307" cy="788" r="6.3"/><circle cx="1414" cy="866" r="6.3"/><circle cx="1356" cy="827" r="6.3"/><circle cx="1283" cy="858" r="6.3"/><circle cx="1324" cy="821" r="6.3"/><circle cx="1261" cy="760" r="6.3"/><circle cx="1261" cy="828" r="6.3"/><circle cx="1377" cy="842" r="6.3"/><circle cx="1336" cy="854" r="6.3"/><circle cx="1321" cy="807" r="6.3"/><circle cx="1324" cy="849" r="6.3"/><circle cx="1413" cy="868" r="6.3"/><circle cx="1350" cy="820" r="6.3"/><circle cx="1381" cy="830" r="6.3"/><circle cx="1303" cy="795" r="6.3"/><circle cx="1407" cy="866" r="6.3"/><circle cx="1283" cy="770" r="6.3"/><circle cx="1399" cy="862" r="6.3"/><circle cx="1330" cy="794" r="6.3"/><circle cx="1312" cy="841" r="6.3"/><circle cx="1416" cy="866" r="6.3"/><circle cx="1377" cy="868" r="6.3"/><circle cx="1258" cy="818" r="6.3"/><circle cx="1409" cy="866" r="6.3"/><circle cx="1336" cy="818" r="6.3"/><circle cx="1311" cy="800" r="6.3"/><circle cx="1373" cy="868" r="6.3"/><circle cx="1376" cy="868" r="6.3"/><circle cx="1358" cy="820" r="6.3"/><circle cx="1312" cy="841" r="6.3"/><circle cx="1361" cy="835" r="6.3"/><circle cx="1339" cy="795" r="6.3"/><circle cx="1322" cy="853" r="6.3"/><circle cx="1341" cy="791" r="6.3"/><circle cx="1320" cy="787" r="6.3"/><circle cx="1373" cy="868" r="6.3"/><circle cx="1326" cy="792" r="6.3"/><circle cx="1361" cy="868" r="6.3"/><circle cx="1372" cy="829" r="6.3"/><circle cx="1370" cy="867" r="6.3"/><circle cx="1299" cy="834" r="6.3"/><circle cx="1299" cy="788" r="6.3"/><circle cx="1368" cy="867" r="6.3"/><circle cx="1392" cy="868" r="6.3"/><circle cx="1300" cy="744" r="6.3"/><circle cx="1304" cy="831" r="6.3"/><circle cx="1355" cy="832" r="6.3"/><circle cx="1414" cy="866" r="6.3"/><circle cx="1344" cy="866" r="6.3"/><circle cx="1344" cy="801" r="6.3"/><circle cx="1350" cy="865" r="6.3"/><circle cx="1343" cy="858" r="6.3"/><circle cx="1334" cy="842" r="6.3"/><circle cx="1345" cy="805" r="6.3"/><circle cx="1317" cy="810" r="6.3"/><circle cx="1332" cy="849" r="6.3"/><circle cx="1366" cy="830" r="6.3"/><circle cx="1279" cy="798" r="6.3"/><circle cx="1340" cy="825" r="6.3"/><circle cx="1371" cy="833" r="6.3"/><circle cx="1309" cy="764" r="6.3"/><circle cx="1359" cy="817" r="6.3"/><circle cx="1325" cy="843" r="6.3"/><circle cx="1333" cy="847" r="6.3"/><circle cx="1318" cy="845" r="6.3"/><circle cx="1350" cy="823" r="6.3"/><circle cx="1399" cy="856" r="6.3"/><circle cx="1316" cy="816" r="6.3"/><circle cx="1296" cy="805" r="6.3"/><circle cx="1385" cy="847" r="6.3"/><circle cx="1363" cy="867" r="6.3"/><circle cx="1437" cy="866" r="6.3"/><circle cx="1463" cy="866" r="6.3"/><circle cx="1441" cy="868" r="6.3"/><circle cx="1452" cy="867" r="6.3"/><circle cx="1451" cy="868" r="6.3"/><circle cx="1472" cy="868" r="6.3"/><circle cx="1473" cy="867" r="6.3"/><circle cx="1461" cy="855" r="6.3"/><circle cx="1487" cy="859" r="6.3"/><circle cx="1507" cy="837" r="6.3"/><circle cx="1460" cy="866" r="6.3"/><circle cx="1437" cy="867" r="6.3"/><circle cx="1438" cy="868" r="6.3"/><circle cx="1456" cy="867" r="6.3"/><circle cx="1452" cy="866" r="6.3"/><circle cx="1466" cy="846" r="6.3"/><circle cx="1460" cy="867" r="6.3"/><circle cx="1504" cy="840" r="6.3"/><circle cx="1468" cy="855" r="6.3"/><circle cx="1507" cy="842" r="6.3"/><circle cx="1473" cy="860" r="6.3"/><circle cx="1456" cy="868" r="6.3"/><circle cx="1487" cy="859" r="6.3"/><circle cx="1438" cy="868" r="6.3"/><circle cx="1438" cy="868" r="6.3"/><circle cx="1563" cy="705" r="6.3"/><circle cx="1437" cy="866" r="6.3"/><circle cx="1448" cy="867" r="6.3"/><circle cx="1489" cy="828" r="6.3"/><circle cx="1459" cy="866" r="6.3"/><circle cx="1450" cy="868" r="6.3"/><circle cx="1450" cy="866" r="6.3"/><circle cx="1549" cy="796" r="6.3"/><circle cx="1469" cy="847" r="6.3"/><circle cx="1457" cy="868" r="6.3"/><circle cx="1478" cy="826" r="6.3"/><circle cx="1441" cy="866" r="6.3"/><circle cx="1470" cy="856" r="6.3"/><circle cx="1470" cy="861" r="6.3"/><circle cx="1462" cy="856" r="6.3"/><circle cx="1479" cy="858" r="6.3"/><circle cx="1451" cy="868" r="6.3"/><circle cx="1448" cy="867" r="6.3"/><circle cx="1435" cy="867" r="6.3"/><circle cx="1471" cy="860" r="6.3"/><circle cx="1487" cy="856" r="6.3"/><circle cx="1465" cy="851" r="6.3"/><circle cx="1450" cy="867" r="6.3"/><circle cx="1467" cy="868" r="6.3"/><circle cx="1469" cy="867" r="6.3"/><circle cx="1449" cy="866" r="6.3"/><circle cx="1468" cy="859" r="6.3"/><circle cx="1456" cy="868" r="6.3"/><circle cx="1499" cy="796" r="6.3"/><circle cx="1457" cy="867" r="6.3"/><circle cx="1473" cy="867" r="6.3"/><circle cx="1452" cy="868" r="6.3"/><circle cx="1499" cy="861" r="6.3"/><circle cx="1469" cy="861" r="6.3"/><circle cx="1457" cy="856" r="6.3"/><circle cx="1450" cy="868" r="6.3"/><circle cx="1466" cy="866" r="6.3"/><circle cx="1440" cy="867" r="6.3"/><circle cx="1453" cy="867" r="6.3"/><circle cx="1455" cy="866" r="6.3"/><circle cx="1439" cy="866" r="6.3"/><circle cx="1441" cy="867" r="6.3"/><circle cx="1467" cy="866" r="6.3"/><circle cx="1434" cy="867" r="6.3"/><circle cx="1475" cy="851" r="6.3"/><circle cx="1489" cy="863" r="6.3"/><circle cx="1435" cy="867" r="6.3"/><circle cx="1460" cy="865" r="6.3"/><circle cx="1434" cy="867" r="6.3"/><circle cx="1454" cy="866" r="6.3"/><circle cx="1436" cy="868" r="6.3"/><circle cx="1465" cy="856" r="6.3"/><circle cx="1485" cy="864" r="6.3"/><circle cx="1506" cy="840" r="6.3"/><circle cx="1537" cy="743" r="6.3"/><circle cx="1449" cy="867" r="6.3"/><circle cx="1475" cy="847" r="6.3"/><circle cx="1445" cy="868" r="6.3"/><circle cx="1452" cy="866" r="6.3"/><circle cx="1437" cy="866" r="6.3"/><circle cx="1441" cy="867" r="6.3"/><circle cx="1499" cy="812" r="6.3"/><circle cx="1442" cy="866" r="6.3"/><circle cx="1487" cy="847" r="6.3"/><circle cx="1498" cy="775" r="6.3"/><circle cx="1497" cy="758" r="6.3"/><circle cx="1452" cy="867" r="6.3"/><circle cx="1479" cy="856" r="6.3"/><circle cx="1441" cy="868" r="6.3"/><circle cx="1492" cy="841" r="6.3"/><circle cx="1510" cy="819" r="6.3"/><circle cx="1494" cy="839" r="6.3"/><circle cx="1544" cy="778" r="6.3"/><circle cx="1492" cy="831" r="6.3"/><circle cx="1467" cy="867" r="6.3"/><circle cx="1473" cy="856" r="6.3"/><circle cx="1465" cy="863" r="6.3"/><circle cx="1459" cy="851" r="6.3"/><circle cx="1465" cy="866" r="6.3"/><circle cx="1435" cy="867" r="6.3"/><circle cx="1470" cy="866" r="6.3"/><circle cx="1465" cy="866" r="6.3"/><circle cx="1464" cy="867" r="6.3"/><circle cx="1436" cy="866" r="6.3"/><circle cx="1454" cy="866" r="6.3"/><circle cx="1465" cy="862" r="6.3"/><circle cx="1442" cy="867" r="6.3"/><circle cx="1479" cy="846" r="6.3"/><circle cx="1451" cy="868" r="6.3"/><circle cx="1456" cy="867" r="6.3"/><circle cx="1447" cy="867" r="6.3"/><circle cx="1449" cy="867" r="6.3"/><circle cx="1480" cy="858" r="6.3"/><circle cx="1497" cy="819" r="6.3"/><circle cx="1442" cy="866" r="6.3"/><circle cx="1467" cy="867" r="6.3"/><circle cx="1506" cy="829" r="6.3"/><circle cx="1503" cy="842" r="6.3"/><circle cx="1513" cy="780" r="6.3"/><circle cx="1443" cy="868" r="6.3"/><circle cx="1476" cy="859" r="6.3"/><circle cx="1449" cy="866" r="6.3"/><circle cx="1446" cy="868" r="6.3"/><circle cx="1510" cy="803" r="6.3"/><circle cx="1457" cy="867" r="6.3"/><circle cx="1459" cy="868" r="6.3"/><circle cx="1443" cy="866" r="6.3"/><circle cx="1561" cy="785" r="6.3"/><circle cx="1450" cy="867" r="6.3"/><circle cx="1467" cy="853" r="6.3"/><circle cx="1467" cy="861" r="6.3"/><circle cx="1437" cy="868" r="6.3"/><circle cx="1480" cy="806" r="6.3"/><circle cx="1470" cy="817" r="6.3"/><circle cx="1451" cy="868" r="6.3"/><circle cx="1499" cy="828" r="6.3"/><circle cx="1445" cy="868" r="6.3"/><circle cx="1442" cy="868" r="6.3"/><circle cx="1449" cy="867" r="6.3"/><circle cx="1448" cy="868" r="6.3"/><circle cx="1440" cy="866" r="6.3"/><circle cx="1442" cy="866" r="6.3"/><circle cx="1491" cy="854" r="6.3"/><circle cx="1453" cy="866" r="6.3"/><circle cx="1462" cy="866" r="6.3"/><circle cx="1436" cy="866" r="6.3"/><circle cx="1442" cy="868" r="6.3"/><circle cx="1481" cy="866" r="6.3"/><circle cx="1444" cy="867" r="6.3"/><circle cx="1447" cy="867" r="6.3"/><circle cx="1446" cy="867" r="6.3"/><circle cx="1490" cy="846" r="6.3"/><circle cx="1436" cy="867" r="6.3"/><circle cx="1471" cy="853" r="6.3"/><circle cx="1465" cy="854" r="6.3"/><circle cx="1552" cy="755" r="6.3"/><circle cx="1448" cy="866" r="6.3"/><circle cx="1576" cy="705" r="6.3"/><circle cx="1463" cy="867" r="6.3"/><circle cx="1450" cy="866" r="6.3"/><circle cx="1458" cy="853" r="6.3"/><circle cx="1442" cy="866" r="6.3"/><circle cx="1434" cy="867" r="6.3"/><circle cx="1487" cy="854" r="6.3"/><circle cx="1486" cy="803" r="6.3"/><circle cx="1485" cy="854" r="6.3"/><circle cx="1483" cy="857" r="6.3"/><circle cx="1461" cy="866" r="6.3"/><circle cx="1471" cy="858" r="6.3"/><circle cx="1489" cy="849" r="6.3"/><circle cx="1463" cy="864" r="6.3"/><circle cx="1487" cy="813" r="6.3"/><circle cx="1448" cy="866" r="6.3"/><circle cx="1466" cy="866" r="6.3"/><circle cx="1457" cy="861" r="6.3"/><circle cx="1443" cy="866" r="6.3"/><circle cx="1461" cy="858" r="6.3"/><circle cx="1443" cy="867" r="6.3"/><circle cx="1444" cy="867" r="6.3"/><circle cx="1444" cy="867" r="6.3"/><circle cx="1501" cy="854" r="6.3"/><circle cx="1448" cy="867" r="6.3"/><circle cx="1442" cy="866" r="6.3"/><circle cx="1545" cy="838" r="6.3"/><circle cx="1439" cy="866" r="6.3"/><circle cx="1442" cy="866" r="6.3"/><circle cx="1512" cy="827" r="6.3"/><circle cx="1446" cy="868" r="6.3"/><circle cx="1455" cy="868" r="6.3"/><circle cx="1512" cy="814" r="6.3"/><circle cx="1438" cy="868" r="6.3"/><circle cx="1479" cy="848" r="6.3"/><circle cx="1451" cy="866" r="6.3"/><circle cx="1448" cy="868" r="6.3"/><circle cx="1491" cy="815" r="6.3"/><circle cx="1511" cy="816" r="6.3"/><circle cx="1480" cy="851" r="6.3"/><circle cx="1447" cy="866" r="6.3"/><circle cx="1454" cy="866" r="6.3"/><circle cx="1443" cy="868" r="6.3"/><circle cx="1460" cy="868" r="6.3"/><circle cx="1490" cy="818" r="6.3"/><circle cx="1495" cy="783" r="6.3"/><circle cx="1468" cy="866" r="6.3"/><circle cx="1443" cy="868" r="6.3"/><circle cx="1444" cy="866" r="6.3"/><circle cx="1434" cy="868" r="6.3"/><circle cx="1472" cy="855" r="6.3"/><circle cx="1448" cy="867" r="6.3"/><circle cx="1459" cy="867" r="6.3"/><circle cx="1484" cy="848" r="6.3"/><circle cx="1447" cy="868" r="6.3"/><circle cx="1506" cy="851" r="6.3"/><circle cx="1442" cy="866" r="6.3"/><circle cx="1477" cy="821" r="6.3"/><circle cx="1454" cy="866" r="6.3"/><circle cx="1461" cy="866" r="6.3"/><circle cx="1492" cy="862" r="6.3"/><circle cx="1445" cy="868" r="6.3"/><circle cx="1528" cy="751" r="6.3"/><circle cx="1554" cy="814" r="6.3"/><circle cx="1469" cy="864" r="6.3"/><circle cx="1469" cy="866" r="6.3"/><circle cx="1441" cy="868" r="6.3"/><circle cx="1484" cy="853" r="6.3"/><circle cx="1447" cy="868" r="6.3"/><circle cx="1451" cy="865" r="6.3"/><circle cx="1438" cy="866" r="6.3"/><circle cx="1436" cy="867" r="6.3"/><circle cx="1451" cy="866" r="6.3"/><circle cx="1482" cy="863" r="6.3"/><circle cx="1439" cy="868" r="6.3"/><circle cx="1495" cy="828" r="6.3"/><circle cx="1446" cy="866" r="6.3"/><circle cx="1436" cy="868" r="6.3"/><circle cx="1434" cy="867" r="6.3"/><circle cx="1480" cy="840" r="6.3"/><circle cx="1477" cy="836" r="6.3"/><circle cx="1502" cy="853" r="6.3"/><circle cx="1442" cy="866" r="6.3"/><circle cx="1434" cy="867" r="6.3"/><circle cx="1459" cy="860" r="6.3"/><circle cx="1441" cy="868" r="6.3"/><circle cx="1446" cy="866" r="6.3"/><circle cx="1435" cy="868" r="6.3"/><circle cx="1477" cy="867" r="6.3"/><circle cx="1453" cy="863" r="6.3"/><circle cx="1448" cy="866" r="6.3"/><circle cx="1469" cy="854" r="6.3"/><circle cx="1583" cy="809" r="6.3"/><circle cx="1513" cy="818" r="6.3"/><circle cx="1455" cy="867" r="6.3"/><circle cx="1499" cy="854" r="6.3"/><circle cx="1522" cy="754" r="6.3"/><circle cx="1435" cy="867" r="6.3"/><circle cx="1529" cy="820" r="6.3"/><circle cx="1499" cy="843" r="6.3"/><circle cx="1485" cy="846" r="6.3"/><circle cx="1493" cy="780" r="6.3"/><circle cx="1439" cy="866" r="6.3"/><circle cx="1589" cy="823" r="6.3"/><circle cx="1465" cy="855" r="6.3"/><circle cx="1491" cy="866" r="6.3"/><circle cx="1445" cy="867" r="6.3"/><circle cx="1483" cy="828" r="6.3"/><circle cx="1448" cy="866" r="6.3"/><circle cx="1462" cy="867" r="6.3"/><circle cx="1458" cy="867" r="6.3"/><circle cx="1478" cy="844" r="6.3"/><circle cx="1473" cy="820" r="6.3"/><circle cx="1449" cy="866" r="6.3"/><circle cx="1463" cy="860" r="6.3"/><circle cx="1450" cy="868" r="6.3"/><circle cx="1505" cy="834" r="6.3"/><circle cx="1452" cy="866" r="6.3"/><circle cx="1490" cy="824" r="6.3"/><circle cx="1498" cy="801" r="6.3"/><circle cx="1448" cy="868" r="6.3"/><circle cx="1489" cy="851" r="6.3"/><circle cx="1459" cy="867" r="6.3"/><circle cx="1502" cy="827" r="6.3"/><circle cx="1456" cy="868" r="6.3"/><circle cx="1440" cy="866" r="6.3"/><circle cx="1450" cy="866" r="6.3"/><circle cx="1446" cy="868" r="6.3"/><circle cx="1456" cy="868" r="6.3"/><circle cx="1463" cy="861" r="6.3"/><circle cx="1440" cy="868" r="6.3"/><circle cx="1482" cy="858" r="6.3"/><circle cx="1442" cy="866" r="6.3"/><circle cx="1486" cy="849" r="6.3"/><circle cx="1437" cy="868" r="6.3"/><circle cx="1493" cy="809" r="6.3"/><circle cx="1454" cy="868" r="6.3"/><circle cx="1469" cy="866" r="6.3"/><circle cx="1456" cy="863" r="6.3"/><circle cx="1442" cy="868" r="6.3"/><circle cx="1508" cy="816" r="6.3"/><circle cx="1435" cy="867" r="6.3"/><circle cx="1456" cy="868" r="6.3"/><circle cx="1473" cy="863" r="6.3"/><circle cx="1438" cy="868" r="6.3"/><circle cx="1457" cy="867" r="6.3"/><circle cx="1554" cy="747" r="6.3"/><circle cx="1544" cy="782" r="6.3"/><circle cx="1454" cy="862" r="6.3"/><circle cx="1443" cy="867" r="6.3"/><circle cx="1511" cy="840" r="6.3"/><circle cx="1449" cy="867" r="6.3"/><circle cx="1496" cy="799" r="6.3"/><circle cx="1443" cy="867" r="6.3"/><circle cx="1466" cy="867" r="6.3"/><circle cx="1475" cy="839" r="6.3"/><circle cx="1473" cy="840" r="6.3"/><circle cx="1491" cy="837" r="6.3"/><circle cx="1473" cy="862" r="6.3"/><circle cx="1435" cy="868" r="6.3"/><circle cx="1445" cy="866" r="6.3"/><circle cx="1456" cy="867" r="6.3"/><circle cx="1479" cy="846" r="6.3"/><circle cx="1467" cy="867" r="6.3"/><circle cx="1473" cy="862" r="6.3"/><circle cx="1437" cy="866" r="6.3"/><circle cx="1457" cy="862" r="6.3"/><circle cx="1469" cy="866" r="6.3"/><circle cx="1469" cy="867" r="6.3"/><circle cx="1508" cy="716" r="6.3"/><circle cx="1480" cy="822" r="6.3"/><circle cx="1505" cy="811" r="6.3"/><circle cx="1471" cy="866" r="6.3"/><circle cx="1459" cy="867" r="6.3"/><circle cx="1475" cy="839" r="6.3"/><circle cx="1461" cy="858" r="6.3"/><circle cx="1488" cy="863" r="6.3"/><circle cx="1441" cy="868" r="6.3"/><circle cx="1487" cy="855" r="6.3"/><circle cx="1593" cy="712" r="6.3"/><circle cx="1458" cy="857" r="6.3"/><circle cx="1437" cy="866" r="6.3"/><circle cx="1498" cy="847" r="6.3"/><circle cx="1500" cy="824" r="6.3"/><circle cx="1438" cy="867" r="6.3"/><circle cx="1455" cy="867" r="6.3"/><circle cx="1490" cy="771" r="6.3"/><circle cx="1485" cy="866" r="6.3"/><circle cx="1490" cy="844" r="6.3"/><circle cx="1457" cy="863" r="6.3"/><circle cx="1446" cy="866" r="6.3"/><circle cx="1457" cy="863" r="6.3"/><circle cx="1545" cy="800" r="6.3"/><circle cx="1445" cy="866" r="6.3"/><circle cx="1456" cy="866" r="6.3"/><circle cx="1471" cy="837" r="6.3"/><circle cx="1494" cy="858" r="6.3"/><circle cx="1439" cy="866" r="6.3"/><circle cx="1444" cy="868" r="6.3"/><circle cx="1434" cy="868" r="6.3"/><circle cx="1469" cy="858" r="6.3"/><circle cx="1461" cy="866" r="6.3"/><circle cx="1631" cy="676" r="6.3"/><circle cx="1443" cy="868" r="6.3"/><circle cx="1451" cy="868" r="6.3"/><circle cx="1467" cy="853" r="6.3"/><circle cx="1481" cy="788" r="6.3"/><circle cx="1437" cy="866" r="6.3"/><circle cx="1514" cy="839" r="6.3"/><circle cx="1453" cy="868" r="6.3"/><circle cx="1569" cy="711" r="6.3"/><circle cx="1489" cy="843" r="6.3"/><circle cx="1476" cy="836" r="6.3"/><circle cx="1434" cy="866" r="6.3"/><circle cx="1445" cy="867" r="6.3"/><circle cx="1435" cy="868" r="6.3"/><circle cx="1475" cy="858" r="6.3"/><circle cx="1466" cy="868" r="6.3"/><circle cx="1438" cy="867" r="6.3"/><circle cx="1438" cy="866" r="6.3"/><circle cx="1605" cy="722" r="6.3"/><circle cx="1467" cy="854" r="6.3"/><circle cx="1498" cy="821" r="6.3"/><circle cx="1517" cy="805" r="6.3"/><circle cx="1489" cy="851" r="6.3"/><circle cx="1506" cy="828" r="6.3"/><circle cx="1443" cy="866" r="6.3"/><circle cx="1480" cy="834" r="6.3"/><circle cx="1468" cy="853" r="6.3"/><circle cx="1518" cy="794" r="6.3"/><circle cx="1471" cy="854" r="6.3"/><circle cx="1452" cy="868" r="6.3"/><circle cx="1496" cy="830" r="6.3"/><circle cx="1445" cy="868" r="6.3"/><circle cx="1452" cy="868" r="6.3"/><circle cx="1461" cy="868" r="6.3"/><circle cx="1456" cy="851" r="6.3"/><circle cx="1474" cy="866" r="6.3"/><circle cx="1463" cy="867" r="6.3"/><circle cx="1453" cy="865" r="6.3"/><circle cx="1438" cy="868" r="6.3"/><circle cx="1434" cy="866" r="6.3"/><circle cx="1515" cy="812" r="6.3"/><circle cx="1434" cy="866" r="6.3"/><circle cx="1446" cy="868" r="6.3"/><circle cx="1470" cy="867" r="6.3"/><circle cx="1497" cy="850" r="6.3"/><circle cx="1485" cy="850" r="6.3"/><circle cx="1447" cy="866" r="6.3"/><circle cx="1468" cy="849" r="6.3"/><circle cx="1493" cy="844" r="6.3"/><circle cx="1540" cy="810" r="6.3"/><circle cx="1470" cy="847" r="6.3"/><circle cx="1495" cy="854" r="6.3"/><circle cx="1471" cy="851" r="6.3"/><circle cx="1447" cy="866" r="6.3"/><circle cx="1580" cy="783" r="6.3"/><circle cx="1548" cy="774" r="6.3"/><circle cx="1573" cy="790" r="6.3"/><circle cx="1487" cy="830" r="6.3"/><circle cx="1539" cy="757" r="6.3"/><circle cx="1436" cy="868" r="6.3"/><circle cx="1472" cy="848" r="6.3"/><circle cx="1437" cy="868" r="6.3"/><circle cx="1484" cy="826" r="6.3"/><circle cx="1467" cy="866" r="6.3"/><circle cx="1478" cy="843" r="6.3"/><circle cx="1466" cy="867" r="6.3"/><circle cx="1441" cy="866" r="6.3"/><circle cx="1465" cy="855" r="6.3"/><circle cx="1557" cy="778" r="6.3"/><circle cx="1544" cy="773" r="6.3"/><circle cx="1469" cy="867" r="6.3"/><circle cx="1485" cy="832" r="6.3"/><circle cx="1434" cy="868" r="6.3"/><circle cx="1459" cy="867" r="6.3"/><circle cx="1515" cy="844" r="6.3"/><circle cx="1486" cy="866" r="6.3"/><circle cx="1458" cy="859" r="6.3"/><circle cx="1465" cy="867" r="6.3"/><circle cx="1449" cy="858" r="6.3"/><circle cx="1488" cy="858" r="6.3"/><circle cx="1516" cy="853" r="6.3"/><circle cx="1442" cy="866" r="6.3"/><circle cx="1475" cy="847" r="6.3"/><circle cx="1471" cy="834" r="6.3"/><circle cx="1549" cy="831" r="6.3"/><circle cx="1503" cy="784" r="6.3"/><circle cx="1475" cy="864" r="6.3"/><circle cx="1466" cy="836" r="6.3"/><circle cx="1461" cy="867" r="6.3"/><circle cx="1451" cy="868" r="6.3"/><circle cx="1462" cy="868" r="6.3"/><circle cx="1455" cy="867" r="6.3"/><circle cx="1514" cy="853" r="6.3"/><circle cx="1567" cy="771" r="6.3"/><circle cx="1455" cy="868" r="6.3"/><circle cx="1457" cy="867" r="6.3"/><circle cx="1532" cy="828" r="6.3"/><circle cx="1434" cy="866" r="6.3"/><circle cx="1455" cy="843" r="6.3"/><circle cx="1484" cy="867" r="6.3"/><circle cx="1484" cy="864" r="6.3"/><circle cx="1434" cy="868" r="6.3"/><circle cx="1549" cy="825" r="6.3"/><circle cx="1588" cy="813" r="6.3"/><circle cx="1455" cy="868" r="6.3"/><circle cx="1506" cy="829" r="6.3"/><circle cx="1522" cy="841" r="6.3"/><circle cx="1475" cy="846" r="6.3"/><circle cx="1484" cy="850" r="6.3"/><circle cx="1464" cy="868" r="6.3"/><circle cx="1513" cy="797" r="6.3"/><circle cx="1456" cy="858" r="6.3"/><circle cx="1434" cy="868" r="6.3"/><circle cx="1436" cy="866" r="6.3"/><circle cx="1507" cy="834" r="6.3"/><circle cx="1466" cy="867" r="6.3"/><circle cx="1472" cy="867" r="6.3"/><circle cx="1480" cy="864" r="6.3"/><circle cx="1563" cy="801" r="6.3"/><circle cx="1523" cy="780" r="6.3"/><circle cx="1451" cy="866" r="6.3"/><circle cx="1461" cy="867" r="6.3"/><circle cx="1547" cy="744" r="6.3"/><circle cx="1479" cy="862" r="6.3"/><circle cx="1461" cy="841" r="6.3"/><circle cx="1500" cy="807" r="6.3"/><circle cx="1472" cy="857" r="6.3"/><circle cx="1494" cy="865" r="6.3"/><circle cx="1500" cy="782" r="6.3"/><circle cx="1475" cy="860" r="6.3"/><circle cx="1436" cy="866" r="6.3"/><circle cx="1488" cy="852" r="6.3"/><circle cx="1437" cy="866" r="6.3"/><circle cx="1435" cy="866" r="6.3"/><circle cx="1529" cy="803" r="6.3"/><circle cx="1483" cy="851" r="6.3"/><circle cx="1487" cy="852" r="6.3"/><circle cx="1468" cy="853" r="6.3"/><circle cx="1513" cy="823" r="6.3"/><circle cx="1470" cy="854" r="6.3"/><circle cx="1462" cy="850" r="6.3"/><circle cx="1434" cy="867" r="6.3"/><circle cx="1469" cy="807" r="6.3"/><circle cx="1434" cy="867" r="6.3"/><circle cx="1489" cy="846" r="6.3"/><circle cx="1467" cy="850" r="6.3"/><circle cx="1471" cy="855" r="6.3"/><circle cx="1478" cy="857" r="6.3"/><circle cx="1569" cy="775" r="6.3"/><circle cx="1471" cy="866" r="6.3"/><circle cx="1530" cy="826" r="6.3"/><circle cx="1458" cy="861" r="6.3"/><circle cx="1491" cy="840" r="6.3"/><circle cx="1480" cy="863" r="6.3"/><circle cx="1489" cy="857" r="6.3"/><circle cx="1473" cy="866" r="6.3"/><circle cx="1499" cy="819" r="6.3"/><circle cx="1479" cy="828" r="6.3"/><circle cx="1467" cy="867" r="6.3"/><circle cx="1458" cy="868" r="6.3"/><circle cx="1489" cy="868" r="6.3"/><circle cx="1473" cy="832" r="6.3"/><circle cx="1498" cy="780" r="6.3"/><circle cx="1453" cy="868" r="6.3"/><circle cx="1479" cy="765" r="6.3"/><circle cx="1482" cy="849" r="6.3"/><circle cx="1506" cy="813" r="6.3"/><circle cx="1494" cy="846" r="6.3"/><circle cx="1483" cy="847" r="6.3"/><circle cx="1468" cy="852" r="6.3"/><circle cx="1435" cy="868" r="6.3"/><circle cx="1506" cy="839" r="6.3"/><circle cx="1488" cy="852" r="6.3"/><circle cx="1464" cy="847" r="6.3"/><circle cx="1455" cy="862" r="6.3"/><circle cx="1458" cy="867" r="6.3"/><circle cx="1467" cy="849" r="6.3"/><circle cx="1495" cy="847" r="6.3"/><circle cx="1480" cy="847" r="6.3"/><circle cx="1512" cy="826" r="6.3"/><circle cx="1505" cy="825" r="6.3"/><circle cx="1496" cy="855" r="6.3"/><circle cx="1479" cy="857" r="6.3"/><circle cx="1456" cy="867" r="6.3"/><circle cx="1477" cy="856" r="6.3"/><circle cx="1524" cy="748" r="6.3"/><circle cx="1456" cy="849" r="6.3"/><circle cx="1466" cy="867" r="6.3"/><circle cx="1467" cy="867" r="6.3"/><circle cx="1531" cy="841" r="6.3"/><circle cx="1615" cy="767" r="6.3"/><circle cx="1487" cy="822" r="6.3"/><circle cx="1435" cy="867" r="6.3"/><circle cx="1464" cy="868" r="6.3"/><circle cx="1472" cy="866" r="6.3"/><circle cx="1494" cy="837" r="6.3"/><circle cx="1490" cy="854" r="6.3"/><circle cx="1470" cy="868" r="6.3"/><circle cx="1525" cy="834" r="6.3"/><circle cx="1434" cy="867" r="6.3"/><circle cx="1461" cy="860" r="6.3"/><circle cx="1474" cy="851" r="6.3"/><circle cx="1502" cy="792" r="6.3"/><circle cx="1458" cy="842" r="6.3"/><circle cx="1483" cy="831" r="6.3"/><circle cx="1477" cy="845" r="6.3"/><circle cx="1460" cy="868" r="6.3"/><circle cx="1478" cy="856" r="6.3"/><circle cx="1469" cy="838" r="6.3"/><circle cx="1513" cy="730" r="6.3"/><circle cx="1434" cy="868" r="6.3"/><circle cx="1494" cy="797" r="6.3"/><circle cx="1484" cy="855" r="6.3"/><circle cx="1447" cy="866" r="6.3"/><circle cx="1450" cy="863" r="6.3"/><circle cx="1513" cy="841" r="6.3"/><circle cx="1450" cy="860" r="6.3"/><circle cx="1596" cy="711" r="6.3"/><circle cx="1482" cy="842" r="6.3"/><circle cx="1489" cy="837" r="6.3"/><circle cx="1508" cy="765" r="6.3"/><circle cx="1476" cy="848" r="6.3"/><circle cx="1494" cy="847" r="6.3"/><circle cx="1504" cy="757" r="6.3"/><circle cx="1453" cy="865" r="6.3"/><circle cx="1512" cy="849" r="6.3"/><circle cx="1434" cy="866" r="6.3"/><circle cx="1488" cy="842" r="6.3"/><circle cx="1552" cy="758" r="6.3"/><circle cx="1480" cy="868" r="6.3"/><circle cx="1451" cy="863" r="6.3"/><circle cx="1512" cy="773" r="6.3"/><circle cx="1467" cy="845" r="6.3"/><circle cx="1553" cy="731" r="6.3"/><circle cx="1435" cy="866" r="6.3"/><circle cx="1435" cy="866" r="6.3"/><circle cx="1521" cy="789" r="6.3"/><circle cx="1489" cy="815" r="6.3"/><circle cx="1520" cy="806" r="6.3"/><circle cx="1513" cy="747" r="6.3"/><circle cx="1451" cy="866" r="6.3"/><circle cx="1489" cy="855" r="6.3"/><circle cx="1458" cy="868" r="6.3"/><circle cx="1484" cy="866" r="6.3"/><circle cx="1473" cy="866" r="6.3"/><circle cx="1459" cy="867" r="6.3"/><circle cx="1465" cy="854" r="6.3"/><circle cx="1435" cy="868" r="6.3"/><circle cx="1546" cy="788" r="6.3"/><circle cx="1461" cy="837" r="6.3"/><circle cx="1495" cy="836" r="6.3"/><circle cx="1504" cy="831" r="6.3"/><circle cx="1489" cy="821" r="6.3"/><circle cx="1467" cy="867" r="6.3"/><circle cx="1515" cy="832" r="6.3"/><circle cx="1473" cy="868" r="6.3"/><circle cx="1468" cy="867" r="6.3"/><circle cx="1506" cy="817" r="6.3"/><circle cx="1463" cy="856" r="6.3"/><circle cx="1468" cy="840" r="6.3"/><circle cx="1521" cy="803" r="6.3"/><circle cx="1436" cy="866" r="6.3"/><circle cx="1493" cy="852" r="6.3"/><circle cx="1505" cy="823" r="6.3"/><circle cx="1479" cy="850" r="6.3"/><circle cx="1434" cy="867" r="6.3"/><circle cx="1486" cy="867" r="6.3"/><circle cx="1434" cy="867" r="6.3"/><circle cx="1473" cy="841" r="6.3"/><circle cx="1474" cy="867" r="6.3"/><circle cx="1482" cy="859" r="6.3"/><circle cx="1503" cy="857" r="6.3"/><circle cx="1495" cy="809" r="6.3"/><circle cx="1529" cy="776" r="6.3"/><circle cx="1477" cy="847" r="6.3"/><circle cx="1520" cy="848" r="6.3"/><circle cx="1445" cy="868" r="6.3"/><circle cx="1492" cy="857" r="6.3"/><circle cx="1492" cy="824" r="6.3"/><circle cx="1434" cy="867" r="6.3"/><circle cx="1500" cy="853" r="6.3"/><circle cx="1508" cy="846" r="6.3"/><circle cx="1506" cy="756" r="6.3"/><circle cx="1469" cy="838" r="6.3"/><circle cx="1489" cy="840" r="6.3"/><circle cx="1518" cy="827" r="6.3"/><circle cx="1551" cy="813" r="6.3"/><circle cx="1496" cy="844" r="6.3"/><circle cx="1522" cy="796" r="6.3"/><circle cx="1435" cy="866" r="6.3"/><circle cx="1576" cy="796" r="6.3"/><circle cx="1458" cy="867" r="6.3"/><circle cx="1457" cy="861" r="6.3"/><circle cx="1480" cy="861" r="6.3"/><circle cx="1486" cy="835" r="6.3"/><circle cx="1493" cy="802" r="6.3"/><circle cx="1458" cy="867" r="6.3"/><circle cx="1524" cy="769" r="6.3"/><circle cx="1489" cy="820" r="6.3"/><circle cx="1492" cy="814" r="6.3"/><circle cx="1477" cy="866" r="6.3"/><circle cx="1620" cy="748" r="6.3"/><circle cx="1504" cy="838" r="6.3"/><circle cx="1601" cy="799" r="6.3"/><circle cx="1437" cy="868" r="6.3"/><circle cx="1441" cy="866" r="6.3"/><circle cx="1499" cy="795" r="6.3"/><circle cx="1474" cy="867" r="6.3"/><circle cx="1517" cy="826" r="6.3"/><circle cx="1478" cy="867" r="6.3"/><circle cx="1458" cy="860" r="6.3"/><circle cx="1457" cy="856" r="6.3"/><circle cx="1483" cy="838" r="6.3"/><circle cx="1434" cy="866" r="6.3"/><circle cx="1499" cy="823" r="6.3"/><circle cx="1434" cy="866" r="6.3"/><circle cx="1434" cy="868" r="6.3"/><circle cx="1488" cy="846" r="6.3"/><circle cx="1490" cy="842" r="6.3"/><circle cx="1465" cy="868" r="6.3"/><circle cx="1501" cy="857" r="6.3"/><circle cx="1493" cy="807" r="6.3"/><circle cx="1458" cy="857" r="6.3"/><circle cx="1462" cy="868" r="6.3"/><circle cx="1526" cy="825" r="6.3"/><circle cx="1456" cy="860" r="6.3"/><circle cx="1499" cy="859" r="6.3"/><circle cx="1487" cy="838" r="6.3"/><circle cx="1448" cy="864" r="6.3"/><circle cx="1464" cy="868" r="6.3"/><circle cx="1435" cy="866" r="6.3"/><circle cx="1503" cy="804" r="6.3"/><circle cx="1518" cy="838" r="6.3"/><circle cx="1519" cy="852" r="6.3"/><circle cx="1525" cy="839" r="6.3"/><circle cx="1491" cy="846" r="6.3"/><circle cx="1459" cy="852" r="6.3"/><circle cx="1470" cy="866" r="6.3"/><circle cx="1490" cy="851" r="6.3"/><circle cx="1488" cy="859" r="6.3"/><circle cx="1459" cy="848" r="6.3"/><circle cx="1461" cy="868" r="6.3"/><circle cx="1459" cy="868" r="6.3"/><circle cx="1495" cy="855" r="6.3"/><circle cx="1443" cy="866" r="6.3"/><circle cx="1514" cy="810" r="6.3"/><circle cx="1482" cy="833" r="6.3"/><circle cx="1511" cy="795" r="6.3"/><circle cx="1474" cy="830" r="6.3"/><circle cx="1493" cy="854" r="6.3"/><circle cx="1482" cy="828" r="6.3"/><circle cx="1474" cy="850" r="6.3"/><circle cx="1466" cy="851" r="6.3"/><circle cx="1493" cy="836" r="6.3"/><circle cx="1503" cy="844" r="6.3"/><circle cx="1458" cy="855" r="6.3"/><circle cx="1524" cy="857" r="6.3"/><circle cx="1466" cy="848" r="6.3"/><circle cx="1460" cy="868" r="6.3"/><circle cx="1524" cy="784" r="6.3"/><circle cx="1440" cy="866" r="6.3"/><circle cx="1463" cy="854" r="6.3"/><circle cx="1468" cy="867" r="6.3"/><circle cx="1485" cy="828" r="6.3"/><circle cx="1447" cy="866" r="6.3"/><circle cx="1461" cy="868" r="6.3"/><circle cx="1488" cy="866" r="6.3"/><circle cx="1511" cy="806" r="6.3"/><circle cx="1489" cy="818" r="6.3"/><circle cx="1495" cy="816" r="6.3"/><circle cx="1534" cy="766" r="6.3"/><circle cx="1478" cy="847" r="6.3"/><circle cx="1493" cy="867" r="6.3"/><circle cx="1475" cy="816" r="6.3"/><circle cx="1443" cy="866" r="6.3"/><circle cx="1558" cy="836" r="6.3"/><circle cx="1512" cy="824" r="6.3"/><circle cx="1524" cy="804" r="6.3"/><circle cx="1486" cy="837" r="6.3"/><circle cx="1515" cy="849" r="6.3"/><circle cx="1516" cy="860" r="6.3"/><circle cx="1515" cy="819" r="6.3"/><circle cx="1491" cy="846" r="6.3"/><circle cx="1506" cy="841" r="6.3"/><circle cx="1478" cy="863" r="6.3"/><circle cx="1487" cy="815" r="6.3"/><circle cx="1465" cy="868" r="6.3"/><circle cx="1517" cy="838" r="6.3"/><circle cx="1478" cy="829" r="6.3"/><circle cx="1434" cy="866" r="6.3"/><circle cx="1525" cy="845" r="6.3"/><circle cx="1508" cy="824" r="6.3"/><circle cx="1435" cy="868" r="6.3"/><circle cx="1492" cy="853" r="6.3"/><circle cx="1492" cy="826" r="6.3"/><circle cx="1491" cy="811" r="6.3"/><circle cx="1513" cy="816" r="6.3"/><circle cx="1470" cy="838" r="6.3"/><circle cx="1444" cy="866" r="6.3"/><circle cx="1470" cy="867" r="6.3"/><circle cx="1501" cy="789" r="6.3"/><circle cx="1484" cy="834" r="6.3"/><circle cx="1465" cy="844" r="6.3"/><circle cx="1452" cy="859" r="6.3"/><circle cx="1498" cy="848" r="6.3"/><circle cx="1531" cy="839" r="6.3"/><circle cx="1472" cy="841" r="6.3"/><circle cx="1569" cy="790" r="6.3"/><circle cx="1516" cy="732" r="6.3"/><circle cx="1521" cy="819" r="6.3"/><circle cx="1473" cy="847" r="6.3"/><circle cx="1510" cy="825" r="6.3"/><circle cx="1508" cy="856" r="6.3"/><circle cx="1460" cy="856" r="6.3"/><circle cx="1568" cy="793" r="6.3"/><circle cx="1523" cy="825" r="6.3"/><circle cx="1650" cy="602" r="6.3"/><circle cx="1514" cy="842" r="6.3"/><circle cx="1497" cy="842" r="6.3"/><circle cx="1484" cy="822" r="6.3"/><circle cx="1486" cy="844" r="6.3"/><circle cx="1472" cy="846" r="6.3"/><circle cx="1498" cy="785" r="6.3"/><circle cx="1434" cy="867" r="6.3"/><circle cx="1499" cy="858" r="6.3"/><circle cx="1499" cy="845" r="6.3"/><circle cx="1569" cy="817" r="6.3"/><circle cx="1508" cy="813" r="6.3"/><circle cx="1451" cy="862" r="6.3"/><circle cx="1457" cy="860" r="6.3"/><circle cx="1477" cy="756" r="6.3"/><circle cx="1434" cy="866" r="6.3"/><circle cx="1541" cy="809" r="6.3"/><circle cx="1507" cy="859" r="6.3"/><circle cx="1435" cy="868" r="6.3"/><circle cx="1477" cy="866" r="6.3"/><circle cx="1463" cy="848" r="6.3"/><circle cx="1514" cy="833" r="6.3"/><circle cx="1488" cy="825" r="6.3"/><circle cx="1461" cy="853" r="6.3"/><circle cx="1471" cy="827" r="6.3"/><circle cx="1545" cy="818" r="6.3"/><circle cx="1434" cy="866" r="6.3"/><circle cx="1451" cy="868" r="6.3"/><circle cx="1470" cy="848" r="6.3"/><circle cx="1503" cy="844" r="6.3"/><circle cx="1474" cy="820" r="6.3"/><circle cx="1495" cy="797" r="6.3"/><circle cx="1490" cy="829" r="6.3"/><circle cx="1467" cy="849" r="6.3"/><circle cx="1496" cy="860" r="6.3"/><circle cx="1436" cy="868" r="6.3"/><circle cx="1519" cy="829" r="6.3"/><circle cx="1537" cy="819" r="6.3"/><circle cx="1482" cy="842" r="6.3"/><circle cx="1512" cy="810" r="6.3"/><circle cx="1516" cy="855" r="6.3"/><circle cx="1441" cy="866" r="6.3"/><circle cx="1480" cy="824" r="6.3"/><circle cx="1479" cy="865" r="6.3"/><circle cx="1494" cy="822" r="6.3"/><circle cx="1500" cy="841" r="6.3"/><circle cx="1521" cy="837" r="6.3"/><circle cx="1486" cy="835" r="6.3"/><circle cx="1456" cy="856" r="6.3"/><circle cx="1434" cy="867" r="6.3"/><circle cx="1535" cy="838" r="6.3"/><circle cx="1505" cy="830" r="6.3"/><circle cx="1515" cy="795" r="6.3"/><circle cx="1497" cy="855" r="6.3"/><circle cx="1482" cy="800" r="6.3"/><circle cx="1440" cy="868" r="6.3"/><circle cx="1469" cy="867" r="6.3"/><circle cx="1486" cy="828" r="6.3"/><circle cx="1503" cy="854" r="6.3"/><circle cx="1466" cy="837" r="6.3"/><circle cx="1434" cy="866" r="6.3"/><circle cx="1549" cy="716" r="6.3"/><circle cx="1526" cy="788" r="6.3"/><circle cx="1493" cy="853" r="6.3"/><circle cx="1482" cy="823" r="6.3"/><circle cx="1434" cy="866" r="6.3"/><circle cx="1526" cy="858" r="6.3"/><circle cx="1527" cy="770" r="6.3"/><circle cx="1444" cy="866" r="6.3"/><circle cx="1444" cy="866" r="6.3"/><circle cx="1508" cy="841" r="6.3"/><circle cx="1481" cy="822" r="6.3"/><circle cx="1508" cy="825" r="6.3"/><circle cx="1512" cy="845" r="6.3"/><circle cx="1506" cy="830" r="6.3"/><circle cx="1558" cy="741" r="6.3"/><circle cx="1481" cy="831" r="6.3"/><circle cx="1516" cy="840" r="6.3"/><circle cx="1492" cy="841" r="6.3"/><circle cx="1475" cy="844" r="6.3"/><circle cx="1435" cy="868" r="6.3"/><circle cx="1467" cy="846" r="6.3"/><circle cx="1516" cy="808" r="6.3"/><circle cx="1496" cy="764" r="6.3"/><circle cx="1490" cy="826" r="6.3"/><circle cx="1518" cy="799" r="6.3"/><circle cx="1483" cy="835" r="6.3"/><circle cx="1525" cy="807" r="6.3"/><circle cx="1520" cy="809" r="6.3"/><circle cx="1529" cy="827" r="6.3"/><circle cx="1549" cy="771" r="6.3"/><circle cx="1481" cy="843" r="6.3"/><circle cx="1529" cy="842" r="6.3"/><circle cx="1528" cy="825" r="6.3"/><circle cx="1459" cy="868" r="6.3"/><circle cx="1508" cy="829" r="6.3"/><circle cx="1468" cy="868" r="6.3"/><circle cx="1565" cy="777" r="6.3"/><circle cx="1526" cy="804" r="6.3"/><circle cx="1466" cy="867" r="6.3"/><circle cx="1497" cy="848" r="6.3"/><circle cx="1457" cy="856" r="6.3"/><circle cx="1481" cy="821" r="6.3"/><circle cx="1488" cy="862" r="6.3"/><circle cx="1482" cy="836" r="6.3"/><circle cx="1548" cy="818" r="6.3"/><circle cx="1483" cy="779" r="6.3"/><circle cx="1503" cy="862" r="6.3"/><circle cx="1510" cy="787" r="6.3"/><circle cx="1488" cy="839" r="6.3"/><circle cx="1514" cy="839" r="6.3"/><circle cx="1468" cy="840" r="6.3"/><circle cx="1555" cy="817" r="6.3"/><circle cx="1471" cy="828" r="6.3"/><circle cx="1450" cy="868" r="6.3"/><circle cx="1480" cy="785" r="6.3"/><circle cx="1434" cy="868" r="6.3"/><circle cx="1570" cy="791" r="6.3"/><circle cx="1580" cy="809" r="6.3"/><circle cx="1515" cy="768" r="6.3"/><circle cx="1667" cy="680" r="6.3"/><circle cx="1507" cy="834" r="6.3"/><circle cx="1436" cy="866" r="6.3"/><circle cx="1458" cy="834" r="6.3"/><circle cx="1476" cy="842" r="6.3"/><circle cx="1497" cy="825" r="6.3"/><circle cx="1495" cy="833" r="6.3"/><circle cx="1467" cy="868" r="6.3"/><circle cx="1488" cy="859" r="6.3"/><circle cx="1526" cy="843" r="6.3"/><circle cx="1492" cy="856" r="6.3"/><circle cx="1499" cy="828" r="6.3"/><circle cx="1467" cy="849" r="6.3"/><circle cx="1484" cy="834" r="6.3"/><circle cx="1493" cy="832" r="6.3"/><circle cx="1482" cy="810" r="6.3"/><circle cx="1492" cy="845" r="6.3"/><circle cx="1474" cy="823" r="6.3"/><circle cx="1543" cy="823" r="6.3"/><circle cx="1434" cy="868" r="6.3"/><circle cx="1434" cy="866" r="6.3"/><circle cx="1496" cy="867" r="6.3"/><circle cx="1524" cy="817" r="6.3"/><circle cx="1527" cy="770" r="6.3"/><circle cx="1473" cy="842" r="6.3"/><circle cx="1462" cy="854" r="6.3"/><circle cx="1498" cy="856" r="6.3"/><circle cx="1490" cy="858" r="6.3"/><circle cx="1481" cy="865" r="6.3"/><circle cx="1447" cy="866" r="6.3"/><circle cx="1500" cy="803" r="6.3"/><circle cx="1487" cy="823" r="6.3"/><circle cx="1435" cy="866" r="6.3"/><circle cx="1500" cy="859" r="6.3"/><circle cx="1459" cy="847" r="6.3"/><circle cx="1493" cy="839" r="6.3"/><circle cx="1434" cy="868" r="6.3"/><circle cx="1495" cy="841" r="6.3"/><circle cx="1498" cy="833" r="6.3"/><circle cx="1513" cy="809" r="6.3"/><circle cx="1488" cy="820" r="6.3"/><circle cx="1493" cy="831" r="6.3"/><circle cx="1517" cy="841" r="6.3"/><circle cx="1538" cy="841" r="6.3"/><circle cx="1464" cy="867" r="6.3"/><circle cx="1534" cy="819" r="6.3"/><circle cx="1477" cy="867" r="6.3"/><circle cx="1437" cy="866" r="6.3"/><circle cx="1440" cy="866" r="6.3"/><circle cx="1519" cy="783" r="6.3"/><circle cx="1434" cy="866" r="6.3"/><circle cx="1464" cy="852" r="6.3"/><circle cx="1473" cy="867" r="6.3"/><circle cx="1504" cy="825" r="6.3"/><circle cx="1447" cy="860" r="6.3"/><circle cx="1466" cy="807" r="6.3"/><circle cx="1483" cy="834" r="6.3"/><circle cx="1502" cy="855" r="6.3"/><circle cx="1500" cy="861" r="6.3"/><circle cx="1438" cy="868" r="6.3"/><circle cx="1490" cy="810" r="6.3"/><circle cx="1455" cy="863" r="6.3"/><circle cx="1470" cy="867" r="6.3"/><circle cx="1496" cy="852" r="6.3"/><circle cx="1500" cy="790" r="6.3"/><circle cx="1437" cy="866" r="6.3"/><circle cx="1479" cy="812" r="6.3"/><circle cx="1494" cy="762" r="6.3"/><circle cx="1467" cy="845" r="6.3"/><circle cx="1537" cy="816" r="6.3"/><circle cx="1498" cy="846" r="6.3"/><circle cx="1463" cy="840" r="6.3"/><circle cx="1497" cy="857" r="6.3"/><circle cx="1475" cy="835" r="6.3"/><circle cx="1488" cy="809" r="6.3"/><circle cx="1475" cy="867" r="6.3"/><circle cx="1475" cy="866" r="6.3"/><circle cx="1500" cy="795" r="6.3"/><circle cx="1492" cy="835" r="6.3"/><circle cx="1491" cy="813" r="6.3"/><circle cx="1572" cy="812" r="6.3"/><circle cx="1548" cy="747" r="6.3"/><circle cx="1504" cy="843" r="6.3"/><circle cx="1500" cy="814" r="6.3"/><circle cx="1486" cy="863" r="6.3"/><circle cx="1568" cy="694" r="6.3"/><circle cx="1481" cy="825" r="6.3"/><circle cx="1589" cy="747" r="6.3"/><circle cx="1457" cy="868" r="6.3"/><circle cx="1641" cy="756" r="6.3"/><circle cx="1539" cy="806" r="6.3"/><circle cx="1508" cy="834" r="6.3"/><circle cx="1485" cy="810" r="6.3"/><circle cx="1472" cy="868" r="6.3"/><circle cx="1499" cy="823" r="6.3"/><circle cx="1506" cy="826" r="6.3"/><circle cx="1482" cy="831" r="6.3"/><circle cx="1512" cy="841" r="6.3"/><circle cx="1472" cy="835" r="6.3"/><circle cx="1474" cy="837" r="6.3"/><circle cx="1497" cy="852" r="6.3"/><circle cx="1480" cy="864" r="6.3"/><circle cx="1490" cy="807" r="6.3"/><circle cx="1497" cy="851" r="6.3"/><circle cx="1454" cy="862" r="6.3"/><circle cx="1508" cy="809" r="6.3"/><circle cx="1467" cy="835" r="6.3"/><circle cx="1542" cy="841" r="6.3"/><circle cx="1546" cy="724" r="6.3"/><circle cx="1501" cy="826" r="6.3"/><circle cx="1440" cy="868" r="6.3"/><circle cx="1569" cy="840" r="6.3"/><circle cx="1471" cy="842" r="6.3"/><circle cx="1469" cy="846" r="6.3"/><circle cx="1573" cy="759" r="6.3"/><circle cx="1481" cy="830" r="6.3"/><circle cx="1532" cy="759" r="6.3"/><circle cx="1499" cy="853" r="6.3"/><circle cx="1508" cy="851" r="6.3"/><circle cx="1480" cy="844" r="6.3"/><circle cx="1486" cy="839" r="6.3"/><circle cx="1499" cy="840" r="6.3"/><circle cx="1483" cy="830" r="6.3"/><circle cx="1506" cy="814" r="6.3"/><circle cx="1509" cy="808" r="6.3"/><circle cx="1450" cy="868" r="6.3"/><circle cx="1512" cy="846" r="6.3"/><circle cx="1539" cy="771" r="6.3"/><circle cx="1574" cy="780" r="6.3"/><circle cx="1490" cy="831" r="6.3"/><circle cx="1509" cy="855" r="6.3"/><circle cx="1483" cy="781" r="6.3"/><circle cx="1460" cy="868" r="6.3"/><circle cx="1469" cy="868" r="6.3"/><circle cx="1548" cy="834" r="6.3"/><circle cx="1506" cy="841" r="6.3"/><circle cx="1611" cy="762" r="6.3"/><circle cx="1508" cy="841" r="6.3"/><circle cx="1461" cy="839" r="6.3"/><circle cx="1511" cy="821" r="6.3"/><circle cx="1497" cy="865" r="6.3"/><circle cx="1487" cy="822" r="6.3"/><circle cx="1573" cy="836" r="6.3"/><circle cx="1511" cy="807" r="6.3"/><circle cx="1486" cy="809" r="6.3"/><circle cx="1507" cy="809" r="6.3"/><circle cx="1506" cy="838" r="6.3"/><circle cx="1497" cy="855" r="6.3"/><circle cx="1435" cy="866" r="6.3"/><circle cx="1489" cy="867" r="6.3"/><circle cx="1478" cy="865" r="6.3"/><circle cx="1478" cy="867" r="6.3"/><circle cx="1462" cy="868" r="6.3"/><circle cx="1448" cy="868" r="6.3"/><circle cx="1498" cy="848" r="6.3"/><circle cx="1461" cy="868" r="6.3"/><circle cx="1524" cy="771" r="6.3"/><circle cx="1456" cy="838" r="6.3"/><circle cx="1454" cy="857" r="6.3"/><circle cx="1494" cy="859" r="6.3"/><circle cx="1504" cy="845" r="6.3"/><circle cx="1546" cy="841" r="6.3"/><circle cx="1461" cy="853" r="6.3"/><circle cx="1480" cy="867" r="6.3"/><circle cx="1489" cy="804" r="6.3"/><circle cx="1499" cy="839" r="6.3"/><circle cx="1441" cy="866" r="6.3"/><circle cx="1488" cy="865" r="6.3"/><circle cx="1541" cy="835" r="6.3"/><circle cx="1434" cy="866" r="6.3"/><circle cx="1463" cy="867" r="6.3"/><circle cx="1441" cy="866" r="6.3"/><circle cx="1527" cy="795" r="6.3"/><circle cx="1521" cy="845" r="6.3"/><circle cx="1500" cy="844" r="6.3"/><circle cx="1434" cy="866" r="6.3"/><circle cx="1508" cy="828" r="6.3"/><circle cx="1500" cy="855" r="6.3"/><circle cx="1556" cy="795" r="6.3"/><circle cx="1505" cy="847" r="6.3"/><circle cx="1469" cy="832" r="6.3"/><circle cx="1491" cy="861" r="6.3"/><circle cx="1459" cy="858" r="6.3"/><circle cx="1491" cy="815" r="6.3"/><circle cx="1493" cy="829" r="6.3"/><circle cx="1511" cy="828" r="6.3"/><circle cx="1446" cy="868" r="6.3"/><circle cx="1509" cy="831" r="6.3"/><circle cx="1492" cy="824" r="6.3"/><circle cx="1506" cy="825" r="6.3"/><circle cx="1504" cy="814" r="6.3"/><circle cx="1496" cy="838" r="6.3"/><circle cx="1537" cy="835" r="6.3"/><circle cx="1522" cy="819" r="6.3"/><circle cx="1481" cy="835" r="6.3"/><circle cx="1460" cy="843" r="6.3"/><circle cx="1510" cy="755" r="6.3"/><circle cx="1499" cy="822" r="6.3"/><circle cx="1453" cy="860" r="6.3"/><circle cx="1504" cy="837" r="6.3"/><circle cx="1521" cy="786" r="6.3"/><circle cx="1520" cy="852" r="6.3"/><circle cx="1462" cy="868" r="6.3"/><circle cx="1486" cy="820" r="6.3"/><circle cx="1506" cy="825" r="6.3"/><circle cx="1537" cy="820" r="6.3"/><circle cx="1496" cy="787" r="6.3"/><circle cx="1518" cy="805" r="6.3"/><circle cx="1491" cy="800" r="6.3"/><circle cx="1632" cy="733" r="6.3"/><circle cx="1498" cy="821" r="6.3"/><circle cx="1515" cy="774" r="6.3"/><circle cx="1607" cy="762" r="6.3"/><circle cx="1490" cy="817" r="6.3"/><circle cx="1519" cy="847" r="6.3"/><circle cx="1515" cy="807" r="6.3"/><circle cx="1471" cy="839" r="6.3"/><circle cx="1465" cy="845" r="6.3"/><circle cx="1440" cy="866" r="6.3"/><circle cx="1464" cy="847" r="6.3"/><circle cx="1434" cy="866" r="6.3"/><circle cx="1555" cy="806" r="6.3"/><circle cx="1482" cy="810" r="6.3"/><circle cx="1462" cy="852" r="6.3"/><circle cx="1494" cy="809" r="6.3"/><circle cx="1564" cy="774" r="6.3"/><circle cx="1510" cy="852" r="6.3"/><circle cx="1544" cy="854" r="6.3"/><circle cx="1549" cy="778" r="6.3"/><circle cx="1505" cy="814" r="6.3"/><circle cx="1434" cy="868" r="6.3"/><circle cx="1582" cy="755" r="6.3"/><circle cx="1486" cy="827" r="6.3"/><circle cx="1503" cy="857" r="6.3"/><circle cx="1482" cy="825" r="6.3"/><circle cx="1464" cy="843" r="6.3"/><circle cx="1496" cy="840" r="6.3"/><circle cx="1474" cy="868" r="6.3"/><circle cx="1471" cy="868" r="6.3"/><circle cx="1529" cy="777" r="6.3"/><circle cx="1434" cy="868" r="6.3"/><circle cx="1437" cy="866" r="6.3"/><circle cx="1541" cy="819" r="6.3"/><circle cx="1445" cy="866" r="6.3"/><circle cx="1495" cy="819" r="6.3"/><circle cx="1518" cy="826" r="6.3"/><circle cx="1477" cy="868" r="6.3"/><circle cx="1481" cy="767" r="6.3"/><circle cx="1435" cy="868" r="6.3"/><circle cx="1445" cy="866" r="6.3"/><circle cx="1469" cy="867" r="6.3"/><circle cx="1481" cy="819" r="6.3"/><circle cx="1480" cy="866" r="6.3"/><circle cx="1505" cy="857" r="6.3"/><circle cx="1525" cy="714" r="6.3"/><circle cx="1497" cy="841" r="6.3"/><circle cx="1464" cy="868" r="6.3"/><circle cx="1434" cy="868" r="6.3"/><circle cx="1505" cy="809" r="6.3"/><circle cx="1434" cy="868" r="6.3"/><circle cx="1641" cy="662" r="6.3"/><circle cx="1594" cy="724" r="6.3"/><circle cx="1492" cy="859" r="6.3"/><circle cx="1511" cy="779" r="6.3"/><circle cx="1531" cy="821" r="6.3"/><circle cx="1509" cy="851" r="6.3"/><circle cx="1486" cy="814" r="6.3"/><circle cx="1464" cy="868" r="6.3"/><circle cx="1514" cy="840" r="6.3"/><circle cx="1504" cy="817" r="6.3"/><circle cx="1458" cy="857" r="6.3"/><circle cx="1434" cy="868" r="6.3"/><circle cx="1479" cy="827" r="6.3"/><circle cx="1512" cy="830" r="6.3"/><circle cx="1434" cy="866" r="6.3"/><circle cx="1503" cy="811" r="6.3"/><circle cx="1443" cy="866" r="6.3"/><circle cx="1502" cy="837" r="6.3"/><circle cx="1499" cy="831" r="6.3"/><circle cx="1520" cy="748" r="6.3"/><circle cx="1510" cy="830" r="6.3"/><circle cx="1508" cy="809" r="6.3"/><circle cx="1506" cy="808" r="6.3"/><circle cx="1472" cy="833" r="6.3"/><circle cx="1569" cy="800" r="6.3"/><circle cx="1556" cy="768" r="6.3"/><circle cx="1531" cy="793" r="6.3"/><circle cx="1517" cy="842" r="6.3"/><circle cx="1493" cy="807" r="6.3"/><circle cx="1486" cy="761" r="6.3"/><circle cx="1533" cy="816" r="6.3"/><circle cx="1434" cy="867" r="6.3"/><circle cx="1529" cy="699" r="6.3"/><circle cx="1480" cy="821" r="6.3"/><circle cx="1485" cy="800" r="6.3"/><circle cx="1457" cy="854" r="6.3"/><circle cx="1478" cy="796" r="6.3"/><circle cx="1497" cy="857" r="6.3"/><circle cx="1504" cy="696" r="6.3"/><circle cx="1526" cy="787" r="6.3"/><circle cx="1509" cy="822" r="6.3"/><circle cx="1506" cy="836" r="6.3"/><circle cx="1532" cy="754" r="6.3"/><circle cx="1448" cy="866" r="6.3"/><circle cx="1533" cy="793" r="6.3"/><circle cx="1471" cy="833" r="6.3"/><circle cx="1508" cy="849" r="6.3"/><circle cx="1459" cy="840" r="6.3"/><circle cx="1474" cy="832" r="6.3"/><circle cx="1524" cy="785" r="6.3"/><circle cx="1556" cy="800" r="6.3"/><circle cx="1453" cy="857" r="6.3"/><circle cx="1513" cy="696" r="6.3"/><circle cx="1499" cy="836" r="6.3"/><circle cx="1500" cy="804" r="6.3"/><circle cx="1450" cy="859" r="6.3"/><circle cx="1439" cy="866" r="6.3"/><circle cx="1510" cy="677" r="6.3"/><circle cx="1435" cy="866" r="6.3"/><circle cx="1483" cy="810" r="6.3"/><circle cx="1434" cy="867" r="6.3"/><circle cx="1508" cy="748" r="6.3"/><circle cx="1437" cy="866" r="6.3"/><circle cx="1451" cy="861" r="6.3"/><circle cx="1519" cy="822" r="6.3"/><circle cx="1477" cy="866" r="6.3"/><circle cx="1464" cy="843" r="6.3"/><circle cx="1533" cy="791" r="6.3"/><circle cx="1493" cy="860" r="6.3"/><circle cx="1434" cy="868" r="6.3"/><circle cx="1482" cy="866" r="6.3"/><circle cx="1434" cy="868" r="6.3"/><circle cx="1621" cy="709" r="6.3"/><circle cx="1550" cy="779" r="6.3"/><circle cx="1504" cy="844" r="6.3"/><circle cx="1518" cy="825" r="6.3"/><circle cx="1518" cy="805" r="6.3"/><circle cx="1496" cy="837" r="6.3"/><circle cx="1446" cy="868" r="6.3"/><circle cx="1530" cy="831" r="6.3"/><circle cx="1559" cy="802" r="6.3"/><circle cx="1506" cy="804" r="6.3"/><circle cx="1434" cy="868" r="6.3"/><circle cx="1493" cy="794" r="6.3"/><circle cx="1524" cy="822" r="6.3"/><circle cx="1553" cy="793" r="6.3"/><circle cx="1536" cy="700" r="6.3"/><circle cx="1514" cy="859" r="6.3"/><circle cx="1465" cy="868" r="6.3"/><circle cx="1541" cy="739" r="6.3"/><circle cx="1484" cy="865" r="6.3"/><circle cx="1450" cy="868" r="6.3"/><circle cx="1551" cy="828" r="6.3"/><circle cx="1635" cy="844" r="6.3"/><circle cx="1546" cy="791" r="6.3"/><circle cx="1475" cy="805" r="6.3"/><circle cx="1477" cy="866" r="6.3"/><circle cx="1550" cy="794" r="6.3"/><circle cx="1467" cy="867" r="6.3"/><circle cx="1441" cy="866" r="6.3"/><circle cx="1564" cy="780" r="6.3"/><circle cx="1513" cy="836" r="6.3"/><circle cx="1434" cy="866" r="6.3"/><circle cx="1533" cy="807" r="6.3"/><circle cx="1499" cy="834" r="6.3"/><circle cx="1458" cy="851" r="6.3"/><circle cx="1478" cy="868" r="6.3"/><circle cx="1453" cy="841" r="6.3"/><circle cx="1455" cy="857" r="6.3"/><circle cx="1595" cy="795" r="6.3"/><circle cx="1461" cy="848" r="6.3"/><circle cx="1437" cy="866" r="6.3"/><circle cx="1499" cy="863" r="6.3"/><circle cx="1514" cy="816" r="6.3"/><circle cx="1512" cy="818" r="6.3"/><circle cx="1510" cy="849" r="6.3"/><circle cx="1501" cy="784" r="6.3"/><circle cx="1491" cy="864" r="6.3"/><circle cx="1470" cy="836" r="6.3"/><circle cx="1489" cy="866" r="6.3"/><circle cx="1471" cy="832" r="6.3"/><circle cx="1508" cy="832" r="6.3"/><circle cx="1495" cy="771" r="6.3"/><circle cx="1458" cy="868" r="6.3"/><circle cx="1652" cy="740" r="6.3"/><circle cx="1535" cy="845" r="6.3"/><circle cx="1517" cy="844" r="6.3"/><circle cx="1526" cy="812" r="6.3"/><circle cx="1479" cy="868" r="6.3"/><circle cx="1462" cy="850" r="6.3"/><circle cx="1504" cy="848" r="6.3"/><circle cx="1508" cy="810" r="6.3"/><circle cx="1502" cy="802" r="6.3"/><circle cx="1542" cy="833" r="6.3"/><circle cx="1496" cy="818" r="6.3"/><circle cx="1478" cy="831" r="6.3"/><circle cx="1526" cy="841" r="6.3"/><circle cx="1570" cy="643" r="6.3"/><circle cx="1451" cy="853" r="6.3"/><circle cx="1471" cy="826" r="6.3"/><circle cx="1456" cy="850" r="6.3"/><circle cx="1476" cy="815" r="6.3"/><circle cx="1460" cy="852" r="6.3"/><circle cx="1501" cy="824" r="6.3"/><circle cx="1488" cy="818" r="6.3"/><circle cx="1502" cy="784" r="6.3"/><circle cx="1529" cy="727" r="6.3"/><circle cx="1517" cy="868" r="6.3"/><circle cx="1522" cy="771" r="6.3"/><circle cx="1463" cy="846" r="6.3"/><circle cx="1524" cy="725" r="6.3"/><circle cx="1436" cy="866" r="6.3"/><circle cx="1505" cy="797" r="6.3"/><circle cx="1503" cy="818" r="6.3"/><circle cx="1548" cy="823" r="6.3"/><circle cx="1449" cy="864" r="6.3"/><circle cx="1473" cy="867" r="6.3"/><circle cx="1482" cy="864" r="6.3"/><circle cx="1438" cy="866" r="6.3"/><circle cx="1436" cy="868" r="6.3"/><circle cx="1460" cy="848" r="6.3"/><circle cx="1441" cy="866" r="6.3"/><circle cx="1517" cy="849" r="6.3"/><circle cx="1456" cy="857" r="6.3"/><circle cx="1552" cy="795" r="6.3"/><circle cx="1499" cy="780" r="6.3"/><circle cx="1473" cy="867" r="6.3"/><circle cx="1465" cy="842" r="6.3"/><circle cx="1504" cy="847" r="6.3"/><circle cx="1506" cy="859" r="6.3"/><circle cx="1512" cy="863" r="6.3"/><circle cx="1467" cy="828" r="6.3"/><circle cx="1483" cy="867" r="6.3"/><circle cx="1507" cy="811" r="6.3"/><circle cx="1552" cy="748" r="6.3"/><circle cx="1439" cy="868" r="6.3"/><circle cx="1508" cy="835" r="6.3"/><circle cx="1516" cy="836" r="6.3"/><circle cx="1480" cy="813" r="6.3"/><circle cx="1510" cy="788" r="6.3"/><circle cx="1490" cy="776" r="6.3"/><circle cx="1514" cy="786" r="6.3"/><circle cx="1443" cy="868" r="6.3"/><circle cx="1524" cy="831" r="6.3"/><circle cx="1509" cy="844" r="6.3"/><circle cx="1467" cy="868" r="6.3"/><circle cx="1440" cy="866" r="6.3"/><circle cx="1508" cy="833" r="6.3"/><circle cx="1493" cy="812" r="6.3"/><circle cx="1434" cy="868" r="6.3"/><circle cx="1471" cy="820" r="6.3"/><circle cx="1493" cy="820" r="6.3"/><circle cx="1565" cy="815" r="6.3"/><circle cx="1507" cy="805" r="6.3"/><circle cx="1542" cy="724" r="6.3"/><circle cx="1502" cy="853" r="6.3"/><circle cx="1459" cy="837" r="6.3"/><circle cx="1586" cy="703" r="6.3"/><circle cx="1495" cy="808" r="6.3"/><circle cx="1434" cy="867" r="6.3"/><circle cx="1472" cy="836" r="6.3"/><circle cx="1506" cy="811" r="6.3"/><circle cx="1442" cy="866" r="6.3"/><circle cx="1499" cy="866" r="6.3"/><circle cx="1435" cy="866" r="6.3"/><circle cx="1474" cy="821" r="6.3"/><circle cx="1440" cy="868" r="6.3"/><circle cx="1556" cy="830" r="6.3"/><circle cx="1576" cy="673" r="6.3"/><circle cx="1487" cy="818" r="6.3"/><circle cx="1546" cy="807" r="6.3"/><circle cx="1446" cy="868" r="6.3"/><circle cx="1509" cy="826" r="6.3"/><circle cx="1507" cy="821" r="6.3"/><circle cx="1471" cy="867" r="6.3"/><circle cx="1444" cy="866" r="6.3"/><circle cx="1504" cy="818" r="6.3"/><circle cx="1549" cy="769" r="6.3"/><circle cx="1511" cy="809" r="6.3"/><circle cx="1564" cy="737" r="6.3"/><circle cx="1459" cy="852" r="6.3"/><circle cx="1516" cy="752" r="6.3"/><circle cx="1473" cy="867" r="6.3"/><circle cx="1526" cy="739" r="6.3"/><circle cx="1473" cy="821" r="6.3"/><circle cx="1501" cy="858" r="6.3"/><circle cx="1508" cy="815" r="6.3"/><circle cx="1489" cy="794" r="6.3"/><circle cx="1512" cy="857" r="6.3"/><circle cx="1497" cy="809" r="6.3"/><circle cx="1540" cy="772" r="6.3"/><circle cx="1526" cy="785" r="6.3"/><circle cx="1496" cy="818" r="6.3"/><circle cx="1511" cy="816" r="6.3"/><circle cx="1628" cy="719" r="6.3"/><circle cx="1508" cy="805" r="6.3"/><circle cx="1516" cy="761" r="6.3"/><circle cx="1448" cy="861" r="6.3"/><circle cx="1507" cy="794" r="6.3"/><circle cx="1536" cy="785" r="6.3"/><circle cx="1452" cy="868" r="6.3"/><circle cx="1510" cy="797" r="6.3"/><circle cx="1555" cy="781" r="6.3"/><circle cx="1543" cy="775" r="6.3"/><circle cx="1542" cy="717" r="6.3"/><circle cx="1517" cy="811" r="6.3"/><circle cx="1530" cy="814" r="6.3"/><circle cx="1439" cy="868" r="6.3"/><circle cx="1498" cy="858" r="6.3"/><circle cx="1513" cy="821" r="6.3"/><circle cx="1523" cy="793" r="6.3"/><circle cx="1492" cy="816" r="6.3"/><circle cx="1480" cy="866" r="6.3"/><circle cx="1453" cy="858" r="6.3"/><circle cx="1502" cy="866" r="6.3"/><circle cx="1491" cy="803" r="6.3"/><circle cx="1479" cy="868" r="6.3"/><circle cx="1507" cy="802" r="6.3"/><circle cx="1473" cy="835" r="6.3"/><circle cx="1506" cy="844" r="6.3"/><circle cx="1467" cy="868" r="6.3"/><circle cx="1501" cy="806" r="6.3"/><circle cx="1546" cy="800" r="6.3"/><circle cx="1504" cy="811" r="6.3"/><circle cx="1509" cy="827" r="6.3"/><circle cx="1464" cy="841" r="6.3"/><circle cx="1506" cy="795" r="6.3"/><circle cx="1453" cy="859" r="6.3"/><circle cx="1437" cy="866" r="6.3"/><circle cx="1530" cy="856" r="6.3"/><circle cx="1434" cy="866" r="6.3"/><circle cx="1469" cy="826" r="6.3"/><circle cx="1560" cy="781" r="6.3"/><circle cx="1523" cy="846" r="6.3"/><circle cx="1477" cy="827" r="6.3"/><circle cx="1499" cy="802" r="6.3"/><circle cx="1523" cy="817" r="6.3"/><circle cx="1507" cy="847" r="6.3"/><circle cx="1442" cy="866" r="6.3"/><circle cx="1468" cy="868" r="6.3"/><circle cx="1535" cy="775" r="6.3"/><circle cx="1485" cy="795" r="6.3"/><circle cx="1458" cy="853" r="6.3"/><circle cx="1474" cy="868" r="6.3"/><circle cx="1471" cy="867" r="6.3"/><circle cx="1448" cy="868" r="6.3"/><circle cx="1476" cy="829" r="6.3"/><circle cx="1461" cy="868" r="6.3"/><circle cx="1517" cy="806" r="6.3"/><circle cx="1528" cy="833" r="6.3"/><circle cx="1549" cy="745" r="6.3"/><circle cx="1484" cy="867" r="6.3"/><circle cx="1437" cy="868" r="6.3"/><circle cx="1522" cy="810" r="6.3"/><circle cx="1524" cy="840" r="6.3"/><circle cx="1483" cy="866" r="6.3"/><circle cx="1434" cy="866" r="6.3"/><circle cx="1515" cy="790" r="6.3"/><circle cx="1440" cy="866" r="6.3"/><circle cx="1521" cy="773" r="6.3"/><circle cx="1544" cy="777" r="6.3"/><circle cx="1505" cy="799" r="6.3"/><circle cx="1516" cy="815" r="6.3"/><circle cx="1541" cy="718" r="6.3"/><circle cx="1469" cy="868" r="6.3"/><circle cx="1507" cy="853" r="6.3"/><circle cx="1500" cy="811" r="6.3"/><circle cx="1574" cy="771" r="6.3"/><circle cx="1534" cy="791" r="6.3"/><circle cx="1454" cy="868" r="6.3"/><circle cx="1544" cy="795" r="6.3"/><circle cx="1511" cy="710" r="6.3"/><circle cx="1459" cy="828" r="6.3"/><circle cx="1573" cy="749" r="6.3"/><circle cx="1552" cy="787" r="6.3"/><circle cx="1486" cy="779" r="6.3"/><circle cx="1462" cy="830" r="6.3"/><circle cx="1502" cy="781" r="6.3"/><circle cx="1497" cy="810" r="6.3"/><circle cx="1510" cy="821" r="6.3"/><circle cx="1477" cy="800" r="6.3"/><circle cx="1515" cy="794" r="6.3"/><circle cx="1519" cy="845" r="6.3"/><circle cx="1467" cy="832" r="6.3"/><circle cx="1526" cy="849" r="6.3"/><circle cx="1467" cy="838" r="6.3"/><circle cx="1487" cy="817" r="6.3"/><circle cx="1486" cy="866" r="6.3"/><circle cx="1464" cy="835" r="6.3"/><circle cx="1479" cy="867" r="6.3"/><circle cx="1439" cy="866" r="6.3"/><circle cx="1445" cy="868" r="6.3"/><circle cx="1463" cy="811" r="6.3"/><circle cx="1520" cy="777" r="6.3"/><circle cx="1506" cy="773" r="6.3"/><circle cx="1603" cy="823" r="6.3"/><circle cx="1512" cy="796" r="6.3"/><circle cx="1457" cy="856" r="6.3"/><circle cx="1442" cy="866" r="6.3"/><circle cx="1612" cy="792" r="6.3"/><circle cx="1497" cy="771" r="6.3"/><circle cx="1541" cy="808" r="6.3"/><circle cx="1481" cy="867" r="6.3"/><circle cx="1483" cy="866" r="6.3"/><circle cx="1494" cy="805" r="6.3"/><circle cx="1521" cy="727" r="6.3"/><circle cx="1497" cy="799" r="6.3"/><circle cx="1536" cy="795" r="6.3"/><circle cx="1525" cy="819" r="6.3"/><circle cx="1524" cy="833" r="6.3"/><circle cx="1476" cy="868" r="6.3"/><circle cx="1488" cy="868" r="6.3"/><circle cx="1601" cy="795" r="6.3"/><circle cx="1460" cy="850" r="6.3"/><circle cx="1469" cy="867" r="6.3"/><circle cx="1532" cy="716" r="6.3"/></g>
<line x1="1521.8" y1="558" x2="1526.3" y2="571.9" stroke="#000" stroke-width="1.3"/>
<line x1="1656.8" y1="669.3" x2="1680.4" y2="671.2" stroke="#000" stroke-width="1.3"/>
<line x1="1605.5" y1="756.3" x2="1640" y2="744.7" stroke="#000" stroke-width="1.3"/>
<line x1="1548" y1="793" x2="1666" y2="768" stroke="#000" stroke-width="1.3"/>
<line x1="1557.5" y1="811.8" x2="1686.8" y2="792" stroke="#000" stroke-width="1.3"/>
<line x1="1499.3" y1="843" x2="1634.3" y2="815.6" stroke="#000" stroke-width="1.3"/>
<line x1="1490" y1="862.5" x2="1613.7" y2="853" stroke="#000" stroke-width="1.3"/>
<line x1="1443" y1="731" x2="1454.4" y2="851" stroke="#000" stroke-width="1.3"/>
<line x1="1427" y1="759.4" x2="1436.7" y2="862.5" stroke="#000" stroke-width="1.3"/>
<line x1="1404.5" y1="780" x2="1420.6" y2="855" stroke="#000" stroke-width="1.3"/>
<line x1="1667" y1="504.7" x2="1683" y2="505.5" stroke="#000" stroke-width="1.3"/>
<line x1="1725.4" y1="455.6" x2="1743" y2="445.5" stroke="#000" stroke-width="1.3"/>
<line x1="1992.3" y1="480.6" x2="1996" y2="492" stroke="#000" stroke-width="1.3"/>
<line x1="2033" y1="517" x2="2022.4" y2="531.8" stroke="#000" stroke-width="1.3"/>
<circle cx="1961.4" cy="167.4" r="12" fill="#e8202a" stroke="#000" stroke-width="1.6"/>
<circle cx="1713.5" cy="462" r="12" fill="#e8202a" stroke="#000" stroke-width="1.6"/>
<circle cx="1999.6" cy="505.2" r="12" fill="#e8202a" stroke="#000" stroke-width="1.6"/>
<circle cx="2040.4" cy="505.2" r="12" fill="#e8202a" stroke="#000" stroke-width="1.6"/>
<circle cx="1654.2" cy="504.7" r="12" fill="#10a8e8" stroke="#000" stroke-width="1.6"/>
<circle cx="1528.2" cy="583.9" r="12" fill="#f0e040" stroke="#000" stroke-width="1.6"/>
<circle cx="1644.9" cy="669.7" r="12" fill="#f0e040" stroke="#000" stroke-width="1.6"/>
<circle cx="1594.2" cy="760.5" r="12" fill="#f0e040" stroke="#000" stroke-width="1.6"/>
<circle cx="1545.5" cy="813" r="12" fill="#f0e040" stroke="#000" stroke-width="1.6"/>
<circle cx="1535.7" cy="795" r="12" fill="#10a8e8" stroke="#000" stroke-width="1.6"/>
<circle cx="1478.7" cy="861.7" r="12" fill="#10a8e8" stroke="#000" stroke-width="1.6"/>
<circle cx="1487.4" cy="846.7" r="12" fill="#10a8e8" stroke="#000" stroke-width="1.6"/>
<circle cx="1446.5" cy="867.4" r="12" fill="#f0e040" stroke="#000" stroke-width="1.6"/>
<circle cx="1424.7" cy="867" r="12" fill="#f0e040" stroke="#000" stroke-width="1.6"/>
<circle cx="1454.7" cy="856.9" r="12" fill="#f0e040" stroke="#000" stroke-width="1.6"/>
<text x="1452.5" y="553.9" font-size="23" textLength="90" lengthAdjust="spacingAndGlyphs">ATG16L1</text>
<text x="1680.4" y="679.5" font-size="23" textLength="75.8" lengthAdjust="spacingAndGlyphs">ATG4C</text>
<text x="1641.8" y="748" font-size="23" textLength="57" lengthAdjust="spacingAndGlyphs">ATG5</text>
<text x="1668" y="774.3" font-size="23" textLength="62" lengthAdjust="spacingAndGlyphs">WDR7</text>
<text x="1689.5" y="799.8" font-size="23" textLength="74.2" lengthAdjust="spacingAndGlyphs">ATG9A</text>
<text x="1638" y="823" font-size="23" textLength="74" lengthAdjust="spacingAndGlyphs">DMXL2</text>
<text x="1619.3" y="862.5" font-size="23" textLength="70.2" lengthAdjust="spacingAndGlyphs">ROGDI</text>
<text x="1406.7" y="728.2" font-size="23" textLength="78.8" lengthAdjust="spacingAndGlyphs">ATG101</text>
<text x="1370.7" y="753" font-size="23" textLength="71.3" lengthAdjust="spacingAndGlyphs">ATG2A</text>
<text x="1340" y="777" font-size="23" textLength="66.7" lengthAdjust="spacingAndGlyphs">ATG13</text>
<text x="1934.8" y="147" font-size="27.5" textLength="152.2" lengthAdjust="spacingAndGlyphs">GABARAPL2</text>
<text x="1975.9" y="478.9" font-size="27.5" textLength="122.7" lengthAdjust="spacingAndGlyphs">GABARAP</text>
<text x="1927.5" y="561.1" font-size="27.5" textLength="148.7" lengthAdjust="spacingAndGlyphs">GABARAPL1</text>
<text x="1726.9" y="442" font-size="27.5" textLength="148.7" lengthAdjust="spacingAndGlyphs">MAP1LC3B2</text>
<text x="1680.9" y="520.3" font-size="27.5" textLength="83.8" lengthAdjust="spacingAndGlyphs">DMXL1</text>
<text x="906" y="876.9" font-size="24.5" text-anchor="end">0</text>
<text x="906" y="713.6" font-size="24.5" text-anchor="end">5</text>
<text x="906" y="550.5" font-size="24.5" text-anchor="end">10</text>
<text x="906" y="387.2" font-size="24.5" text-anchor="end">15</text>
<text x="906" y="224.1" font-size="24.5" text-anchor="end">20</text>
<text x="906" y="60.9" font-size="24.5" text-anchor="end">25</text>
<text x="929.5" y="911.2" font-size="24.5" text-anchor="middle">–2</text>
<text x="1174.4" y="911.2" font-size="24.5" text-anchor="middle">–1</text>
<text x="1421.3" y="911.2" font-size="24.5" text-anchor="middle">0</text>
<text x="1666.2" y="911.2" font-size="24.5" text-anchor="middle">1</text>
<text x="1911.1" y="911.2" font-size="24.5" text-anchor="middle">2</text>
<text x="2156" y="911.2" font-size="24.5" text-anchor="middle">3</text>
<text x="1349" y="958.5" font-size="26.5" textLength="391" lengthAdjust="spacingAndGlyphs">log<tspan font-size="18" dy="7.5">2</tspan><tspan dy="-7.5">(FC) (0.5 h MLSA5/control)</tspan></text>
<text transform="translate(847.5 552) rotate(-90)" x="0" y="0" font-size="26.5" textLength="182" lengthAdjust="spacingAndGlyphs">-log<tspan font-size="18" dy="6">10</tspan><tspan dy="-6">(</tspan><tspan font-style="italic">q</tspan> value)</text>
<text x="0" y="1015" font-size="38" font-weight="bold" stroke="#000" stroke-width="1.3">c</text>
<rect x="164.4" y="1008.3" width="883.4" height="283.1" fill="#f3f3f3" stroke="#000" stroke-width="2.6"/>
<text x="288.9" y="1056" font-size="28" textLength="633.8" lengthAdjust="spacingAndGlyphs">12-plex TMT, WT versus <tspan font-style="italic">ATG16L1</tspan> KO, ±MLSA5 (2 h)</text>
<text x="347.2" y="1181.7" font-size="27.5" text-anchor="end" textLength="124.2" lengthAdjust="spacingAndGlyphs">Genotype</text>
<text x="347.2" y="1214.4" font-size="27.5" text-anchor="end" textLength="124.2" lengthAdjust="spacingAndGlyphs">treatment</text>
<text x="347.2" y="1247" font-size="27.5" text-anchor="end" textLength="124.2" lengthAdjust="spacingAndGlyphs">replicates</text>
<path d="M380 1095.3 Q407 1108.3 433.3 1099.3 Q427 1118.3 436 1137.5 Q412 1132.3 390.3 1145.9 Q387 1125.3 376.4 1111.1 Q382 1106.3 380 1095.3 Z" fill="#e31a1c" stroke="#000" stroke-width="1.3" stroke-linejoin="miter"/>
<ellipse cx="396.7" cy="1121.4" rx="7.3" ry="8.9" transform="rotate(-10 396.7 1121.4)" fill="#bdbdbd" stroke="#000" stroke-width="1.1"/>
<path d="M528.3 1095.3 Q555.3 1108.3 581.6 1099.3 Q575.3 1118.3 584.3 1137.5 Q560.3 1132.3 538.6 1145.9 Q535.3 1125.3 524.7 1111.1 Q530.3 1106.3 528.3 1095.3 Z" fill="#fd8c3c" stroke="#000" stroke-width="1.3" stroke-linejoin="miter"/>
<ellipse cx="545" cy="1121.4" rx="7.3" ry="8.9" transform="rotate(-10 545 1121.4)" fill="#bdbdbd" stroke="#000" stroke-width="1.1"/>
<path d="M682 1095.3 Q709 1108.3 735.3 1099.3 Q729 1118.3 738 1137.5 Q714 1132.3 692.3 1145.9 Q689 1125.3 678.4 1111.1 Q684 1106.3 682 1095.3 Z" fill="#fecb5c" stroke="#000" stroke-width="1.3" stroke-linejoin="miter"/>
<ellipse cx="698.7" cy="1121.4" rx="7.3" ry="8.9" transform="rotate(-10 698.7 1121.4)" fill="#bdbdbd" stroke="#000" stroke-width="1.1"/>
<path d="M861.2 1095.3 Q888.2 1108.3 914.5 1099.3 Q908.2 1118.3 917.2 1137.5 Q893.2 1132.3 871.5 1145.9 Q868.2 1125.3 857.6 1111.1 Q863.2 1106.3 861.2 1095.3 Z" fill="#ffffb4" stroke="#000" stroke-width="1.3" stroke-linejoin="miter"/>
<ellipse cx="877.9" cy="1121.4" rx="7.3" ry="8.9" transform="rotate(-10 877.9 1121.4)" fill="#bdbdbd" stroke="#000" stroke-width="1.1"/>
<text x="407.5" y="1183.6" font-size="22.5" text-anchor="middle" textLength="31" lengthAdjust="spacingAndGlyphs">WT</text>
<text x="554.7" y="1183.6" font-size="22.5" text-anchor="middle" textLength="31" lengthAdjust="spacingAndGlyphs">WT</text>
<text x="709.8" y="1183.6" font-size="22.5" text-anchor="middle" textLength="128.8" lengthAdjust="spacingAndGlyphs"><tspan font-style="italic">ATG16L1</tspan> KO</text>
<text x="888.5" y="1183.6" font-size="22.5" text-anchor="middle" textLength="128.8" lengthAdjust="spacingAndGlyphs"><tspan font-style="italic">ATG16L1</tspan> KO</text>
<text x="410.8" y="1216.4" font-size="22.5" text-anchor="middle" textLength="77.3" lengthAdjust="spacingAndGlyphs">control</text>
<text x="554.7" y="1216.4" font-size="22.5" text-anchor="middle" textLength="73.6" lengthAdjust="spacingAndGlyphs">MLSA5</text>
<text x="710.6" y="1216.4" font-size="22.5" text-anchor="middle" textLength="77.3" lengthAdjust="spacingAndGlyphs">control</text>
<text x="888.5" y="1216.4" font-size="22.5" text-anchor="middle" textLength="73.6" lengthAdjust="spacingAndGlyphs">MLSA5</text>
<text x="407.5" y="1252.5" font-size="22.5" text-anchor="middle" textLength="24" lengthAdjust="spacingAndGlyphs">×3</text>
<text x="554.7" y="1252.5" font-size="22.5" text-anchor="middle" textLength="24" lengthAdjust="spacingAndGlyphs">×3</text>
<text x="709.8" y="1252.5" font-size="22.5" text-anchor="middle" textLength="24" lengthAdjust="spacingAndGlyphs">×3</text>
<text x="888.5" y="1252.5" font-size="22.5" text-anchor="middle" textLength="24" lengthAdjust="spacingAndGlyphs">×3</text>
<text x="0" y="1367" font-size="38" font-weight="bold" stroke="#000" stroke-width="1.3">d</text>
<rect x="104.5" y="1369.8" width="489" height="489.7" fill="#e4e4e4"/>
<line x1="242.5" y1="1369.8" x2="242.5" y2="1859" stroke="#4d4d4d" stroke-width="2.3" stroke-dasharray="10.5 6.3"/>
<line x1="356.9" y1="1369.8" x2="356.9" y2="1859" stroke="#4d4d4d" stroke-width="2.3" stroke-dasharray="10.5 6.3"/>
<line x1="104.5" y1="1834" x2="593.5" y2="1834" stroke="#4d4d4d" stroke-width="2.3" stroke-dasharray="10.5 6.3"/>
<line x1="104.5" y1="1369.8" x2="104.5" y2="1859.5" stroke="#000" stroke-width="1.6"/>
<line x1="92.5" y1="1859.5" x2="594" y2="1859.5" stroke="#000" stroke-width="1.6"/>
<line x1="92.5" y1="1859.5" x2="104.5" y2="1859.5" stroke="#000" stroke-width="1.4"/>
<line x1="92.5" y1="1761.6" x2="104.5" y2="1761.6" stroke="#000" stroke-width="1.4"/>
<line x1="92.5" y1="1663.7" x2="104.5" y2="1663.7" stroke="#000" stroke-width="1.4"/>
<line x1="92.5" y1="1565.8" x2="104.5" y2="1565.8" stroke="#000" stroke-width="1.4"/>
<line x1="92.5" y1="1467.9" x2="104.5" y2="1467.9" stroke="#000" stroke-width="1.4"/>
<line x1="92.5" y1="1370" x2="104.5" y2="1370" stroke="#000" stroke-width="1.4"/>
<line x1="104.1" y1="1859.5" x2="104.1" y2="1871.5" stroke="#000" stroke-width="1.4"/>
<line x1="201.9" y1="1859.5" x2="201.9" y2="1871.5" stroke="#000" stroke-width="1.4"/>
<line x1="299.7" y1="1859.5" x2="299.7" y2="1871.5" stroke="#000" stroke-width="1.4"/>
<line x1="397.5" y1="1859.5" x2="397.5" y2="1871.5" stroke="#000" stroke-width="1.4"/>
<line x1="495.3" y1="1859.5" x2="495.3" y2="1871.5" stroke="#000" stroke-width="1.4"/>
<line x1="593.1" y1="1859.5" x2="593.1" y2="1871.5" stroke="#000" stroke-width="1.4"/>
<g fill="#000" fill-opacity="0.25"><circle cx="285" cy="1848" r="3.3"/><circle cx="299" cy="1859" r="3.3"/><circle cx="278" cy="1845" r="3.3"/><circle cx="284" cy="1857" r="3.3"/><circle cx="286" cy="1857" r="3.3"/><circle cx="299" cy="1859" r="3.3"/><circle cx="290" cy="1859" r="3.3"/><circle cx="261" cy="1859" r="3.3"/><circle cx="279" cy="1849" r="3.3"/><circle cx="277" cy="1842" r="3.3"/><circle cx="291" cy="1859" r="3.3"/><circle cx="282" cy="1857" r="3.3"/><circle cx="294" cy="1858" r="3.3"/><circle cx="282" cy="1855" r="3.3"/><circle cx="225" cy="1798" r="3.3"/><circle cx="298" cy="1859" r="3.3"/><circle cx="297" cy="1859" r="3.3"/><circle cx="288" cy="1858" r="3.3"/><circle cx="285" cy="1855" r="3.3"/><circle cx="298" cy="1858" r="3.3"/><circle cx="297" cy="1859" r="3.3"/><circle cx="276" cy="1857" r="3.3"/><circle cx="282" cy="1851" r="3.3"/><circle cx="296" cy="1858" r="3.3"/><circle cx="288" cy="1858" r="3.3"/><circle cx="282" cy="1853" r="3.3"/><circle cx="293" cy="1859" r="3.3"/><circle cx="296" cy="1858" r="3.3"/><circle cx="264" cy="1850" r="3.3"/><circle cx="298" cy="1859" r="3.3"/><circle cx="293" cy="1858" r="3.3"/><circle cx="287" cy="1836" r="3.3"/><circle cx="298" cy="1859" r="3.3"/><circle cx="284" cy="1858" r="3.3"/><circle cx="288" cy="1857" r="3.3"/><circle cx="290" cy="1859" r="3.3"/><circle cx="296" cy="1858" r="3.3"/><circle cx="299" cy="1859" r="3.3"/><circle cx="264" cy="1834" r="3.3"/><circle cx="278" cy="1845" r="3.3"/><circle cx="287" cy="1857" r="3.3"/><circle cx="293" cy="1859" r="3.3"/><circle cx="288" cy="1853" r="3.3"/><circle cx="289" cy="1850" r="3.3"/><circle cx="280" cy="1850" r="3.3"/><circle cx="289" cy="1848" r="3.3"/><circle cx="297" cy="1858" r="3.3"/><circle cx="281" cy="1846" r="3.3"/><circle cx="297" cy="1859" r="3.3"/><circle cx="283" cy="1859" r="3.3"/><circle cx="293" cy="1859" r="3.3"/><circle cx="299" cy="1859" r="3.3"/><circle cx="293" cy="1859" r="3.3"/><circle cx="270" cy="1853" r="3.3"/><circle cx="299" cy="1859" r="3.3"/><circle cx="291" cy="1859" r="3.3"/><circle cx="270" cy="1845" r="3.3"/><circle cx="278" cy="1857" r="3.3"/><circle cx="254" cy="1837" r="3.3"/><circle cx="274" cy="1855" r="3.3"/><circle cx="276" cy="1844" r="3.3"/><circle cx="290" cy="1859" r="3.3"/><circle cx="272" cy="1855" r="3.3"/><circle cx="285" cy="1858" r="3.3"/><circle cx="224" cy="1828" r="3.3"/><circle cx="289" cy="1859" r="3.3"/><circle cx="228" cy="1848" r="3.3"/><circle cx="289" cy="1859" r="3.3"/><circle cx="281" cy="1859" r="3.3"/><circle cx="285" cy="1856" r="3.3"/><circle cx="299" cy="1858" r="3.3"/><circle cx="287" cy="1858" r="3.3"/><circle cx="283" cy="1845" r="3.3"/><circle cx="287" cy="1859" r="3.3"/><circle cx="280" cy="1850" r="3.3"/><circle cx="295" cy="1859" r="3.3"/><circle cx="277" cy="1831" r="3.3"/><circle cx="297" cy="1858" r="3.3"/><circle cx="289" cy="1857" r="3.3"/><circle cx="250" cy="1840" r="3.3"/><circle cx="297" cy="1858" r="3.3"/><circle cx="283" cy="1856" r="3.3"/><circle cx="279" cy="1858" r="3.3"/><circle cx="293" cy="1858" r="3.3"/><circle cx="285" cy="1858" r="3.3"/><circle cx="298" cy="1858" r="3.3"/><circle cx="269" cy="1838" r="3.3"/><circle cx="290" cy="1858" r="3.3"/><circle cx="286" cy="1859" r="3.3"/><circle cx="288" cy="1856" r="3.3"/><circle cx="290" cy="1859" r="3.3"/><circle cx="270" cy="1847" r="3.3"/><circle cx="280" cy="1858" r="3.3"/><circle cx="250" cy="1808" r="3.3"/><circle cx="297" cy="1859" r="3.3"/><circle cx="284" cy="1852" r="3.3"/><circle cx="287" cy="1857" r="3.3"/><circle cx="288" cy="1858" r="3.3"/><circle cx="275" cy="1859" r="3.3"/><circle cx="296" cy="1859" r="3.3"/><circle cx="293" cy="1859" r="3.3"/><circle cx="298" cy="1859" r="3.3"/><circle cx="234" cy="1843" r="3.3"/><circle cx="272" cy="1855" r="3.3"/><circle cx="277" cy="1858" r="3.3"/><circle cx="255" cy="1847" r="3.3"/><circle cx="251" cy="1831" r="3.3"/><circle cx="278" cy="1842" r="3.3"/><circle cx="286" cy="1858" r="3.3"/><circle cx="255" cy="1819" r="3.3"/><circle cx="288" cy="1857" r="3.3"/><circle cx="292" cy="1859" r="3.3"/><circle cx="293" cy="1859" r="3.3"/><circle cx="288" cy="1859" r="3.3"/><circle cx="247" cy="1813" r="3.3"/><circle cx="293" cy="1858" r="3.3"/><circle cx="267" cy="1850" r="3.3"/><circle cx="299" cy="1859" r="3.3"/><circle cx="299" cy="1858" r="3.3"/><circle cx="285" cy="1859" r="3.3"/><circle cx="291" cy="1850" r="3.3"/><circle cx="298" cy="1858" r="3.3"/><circle cx="294" cy="1858" r="3.3"/><circle cx="282" cy="1855" r="3.3"/><circle cx="286" cy="1855" r="3.3"/><circle cx="299" cy="1859" r="3.3"/><circle cx="299" cy="1859" r="3.3"/><circle cx="233" cy="1796" r="3.3"/><circle cx="273" cy="1853" r="3.3"/><circle cx="273" cy="1853" r="3.3"/><circle cx="293" cy="1859" r="3.3"/><circle cx="273" cy="1846" r="3.3"/><circle cx="295" cy="1859" r="3.3"/><circle cx="258" cy="1842" r="3.3"/><circle cx="293" cy="1859" r="3.3"/><circle cx="270" cy="1849" r="3.3"/><circle cx="299" cy="1858" r="3.3"/><circle cx="299" cy="1858" r="3.3"/><circle cx="288" cy="1843" r="3.3"/><circle cx="291" cy="1859" r="3.3"/><circle cx="288" cy="1858" r="3.3"/><circle cx="298" cy="1859" r="3.3"/><circle cx="286" cy="1839" r="3.3"/><circle cx="280" cy="1856" r="3.3"/><circle cx="278" cy="1837" r="3.3"/><circle cx="288" cy="1859" r="3.3"/><circle cx="275" cy="1836" r="3.3"/><circle cx="285" cy="1854" r="3.3"/><circle cx="298" cy="1858" r="3.3"/><circle cx="225" cy="1795" r="3.3"/><circle cx="255" cy="1821" r="3.3"/><circle cx="300" cy="1859" r="3.3"/><circle cx="265" cy="1826" r="3.3"/><circle cx="290" cy="1859" r="3.3"/><circle cx="287" cy="1858" r="3.3"/><circle cx="292" cy="1856" r="3.3"/><circle cx="288" cy="1859" r="3.3"/><circle cx="294" cy="1858" r="3.3"/><circle cx="273" cy="1855" r="3.3"/><circle cx="279" cy="1841" r="3.3"/><circle cx="299" cy="1858" r="3.3"/><circle cx="293" cy="1857" r="3.3"/><circle cx="290" cy="1859" r="3.3"/><circle cx="277" cy="1848" r="3.3"/><circle cx="283" cy="1850" r="3.3"/><circle cx="283" cy="1839" r="3.3"/><circle cx="299" cy="1859" r="3.3"/><circle cx="291" cy="1853" r="3.3"/><circle cx="272" cy="1851" r="3.3"/><circle cx="291" cy="1859" r="3.3"/><circle cx="290" cy="1859" r="3.3"/><circle cx="293" cy="1858" r="3.3"/><circle cx="290" cy="1846" r="3.3"/><circle cx="287" cy="1843" r="3.3"/><circle cx="259" cy="1845" r="3.3"/><circle cx="283" cy="1830" r="3.3"/><circle cx="286" cy="1859" r="3.3"/><circle cx="292" cy="1858" r="3.3"/><circle cx="283" cy="1854" r="3.3"/><circle cx="267" cy="1851" r="3.3"/><circle cx="293" cy="1858" r="3.3"/><circle cx="298" cy="1859" r="3.3"/><circle cx="269" cy="1839" r="3.3"/><circle cx="277" cy="1853" r="3.3"/><circle cx="283" cy="1858" r="3.3"/><circle cx="276" cy="1847" r="3.3"/><circle cx="280" cy="1857" r="3.3"/><circle cx="279" cy="1854" r="3.3"/><circle cx="268" cy="1859" r="3.3"/><circle cx="283" cy="1858" r="3.3"/><circle cx="293" cy="1858" r="3.3"/><circle cx="269" cy="1847" r="3.3"/><circle cx="246" cy="1832" r="3.3"/><circle cx="263" cy="1851" r="3.3"/><circle cx="283" cy="1857" r="3.3"/><circle cx="284" cy="1859" r="3.3"/><circle cx="280" cy="1836" r="3.3"/><circle cx="290" cy="1849" r="3.3"/><circle cx="290" cy="1859" r="3.3"/><circle cx="287" cy="1858" r="3.3"/><circle cx="260" cy="1848" r="3.3"/><circle cx="272" cy="1840" r="3.3"/><circle cx="274" cy="1812" r="3.3"/><circle cx="296" cy="1859" r="3.3"/><circle cx="254" cy="1817" r="3.3"/><circle cx="273" cy="1845" r="3.3"/><circle cx="282" cy="1855" r="3.3"/><circle cx="286" cy="1855" r="3.3"/><circle cx="270" cy="1812" r="3.3"/><circle cx="247" cy="1849" r="3.3"/><circle cx="298" cy="1858" r="3.3"/><circle cx="287" cy="1859" r="3.3"/><circle cx="279" cy="1858" r="3.3"/><circle cx="224" cy="1837" r="3.3"/><circle cx="259" cy="1822" r="3.3"/><circle cx="263" cy="1849" r="3.3"/><circle cx="276" cy="1859" r="3.3"/><circle cx="288" cy="1848" r="3.3"/><circle cx="287" cy="1848" r="3.3"/><circle cx="286" cy="1855" r="3.3"/><circle cx="289" cy="1859" r="3.3"/><circle cx="285" cy="1852" r="3.3"/><circle cx="296" cy="1859" r="3.3"/><circle cx="287" cy="1854" r="3.3"/><circle cx="298" cy="1859" r="3.3"/><circle cx="291" cy="1856" r="3.3"/><circle cx="269" cy="1852" r="3.3"/><circle cx="282" cy="1858" r="3.3"/><circle cx="297" cy="1859" r="3.3"/><circle cx="286" cy="1854" r="3.3"/><circle cx="275" cy="1853" r="3.3"/><circle cx="290" cy="1859" r="3.3"/><circle cx="269" cy="1852" r="3.3"/><circle cx="294" cy="1859" r="3.3"/><circle cx="283" cy="1851" r="3.3"/><circle cx="283" cy="1851" r="3.3"/><circle cx="277" cy="1854" r="3.3"/><circle cx="272" cy="1856" r="3.3"/><circle cx="299" cy="1858" r="3.3"/><circle cx="260" cy="1848" r="3.3"/><circle cx="290" cy="1856" r="3.3"/><circle cx="295" cy="1859" r="3.3"/><circle cx="278" cy="1855" r="3.3"/><circle cx="289" cy="1855" r="3.3"/><circle cx="251" cy="1835" r="3.3"/><circle cx="297" cy="1859" r="3.3"/><circle cx="295" cy="1859" r="3.3"/><circle cx="280" cy="1851" r="3.3"/><circle cx="266" cy="1825" r="3.3"/><circle cx="299" cy="1859" r="3.3"/><circle cx="265" cy="1843" r="3.3"/><circle cx="295" cy="1859" r="3.3"/><circle cx="295" cy="1859" r="3.3"/><circle cx="284" cy="1848" r="3.3"/><circle cx="254" cy="1821" r="3.3"/><circle cx="281" cy="1856" r="3.3"/><circle cx="283" cy="1858" r="3.3"/><circle cx="284" cy="1848" r="3.3"/><circle cx="278" cy="1853" r="3.3"/><circle cx="266" cy="1846" r="3.3"/><circle cx="300" cy="1859" r="3.3"/><circle cx="268" cy="1828" r="3.3"/><circle cx="288" cy="1859" r="3.3"/><circle cx="274" cy="1846" r="3.3"/><circle cx="252" cy="1852" r="3.3"/><circle cx="261" cy="1830" r="3.3"/><circle cx="286" cy="1853" r="3.3"/><circle cx="254" cy="1833" r="3.3"/><circle cx="291" cy="1858" r="3.3"/><circle cx="282" cy="1857" r="3.3"/><circle cx="280" cy="1859" r="3.3"/><circle cx="267" cy="1847" r="3.3"/><circle cx="274" cy="1849" r="3.3"/><circle cx="287" cy="1859" r="3.3"/><circle cx="295" cy="1859" r="3.3"/><circle cx="263" cy="1858" r="3.3"/><circle cx="238" cy="1844" r="3.3"/><circle cx="286" cy="1859" r="3.3"/><circle cx="263" cy="1826" r="3.3"/><circle cx="290" cy="1857" r="3.3"/><circle cx="280" cy="1858" r="3.3"/><circle cx="272" cy="1855" r="3.3"/><circle cx="262" cy="1840" r="3.3"/><circle cx="299" cy="1859" r="3.3"/><circle cx="291" cy="1859" r="3.3"/><circle cx="263" cy="1824" r="3.3"/><circle cx="286" cy="1818" r="3.3"/><circle cx="298" cy="1859" r="3.3"/><circle cx="235" cy="1824" r="3.3"/><circle cx="282" cy="1843" r="3.3"/><circle cx="292" cy="1859" r="3.3"/><circle cx="267" cy="1859" r="3.3"/><circle cx="290" cy="1855" r="3.3"/><circle cx="289" cy="1853" r="3.3"/><circle cx="260" cy="1827" r="3.3"/><circle cx="288" cy="1852" r="3.3"/><circle cx="273" cy="1846" r="3.3"/><circle cx="274" cy="1849" r="3.3"/><circle cx="279" cy="1847" r="3.3"/><circle cx="280" cy="1858" r="3.3"/><circle cx="235" cy="1829" r="3.3"/><circle cx="298" cy="1859" r="3.3"/><circle cx="240" cy="1832" r="3.3"/><circle cx="280" cy="1859" r="3.3"/><circle cx="276" cy="1849" r="3.3"/><circle cx="277" cy="1845" r="3.3"/><circle cx="286" cy="1851" r="3.3"/><circle cx="286" cy="1851" r="3.3"/><circle cx="267" cy="1783" r="3.3"/><circle cx="272" cy="1834" r="3.3"/><circle cx="271" cy="1843" r="3.3"/><circle cx="276" cy="1820" r="3.3"/><circle cx="287" cy="1852" r="3.3"/><circle cx="270" cy="1842" r="3.3"/><circle cx="259" cy="1856" r="3.3"/><circle cx="300" cy="1859" r="3.3"/><circle cx="274" cy="1858" r="3.3"/><circle cx="300" cy="1859" r="3.3"/><circle cx="275" cy="1855" r="3.3"/><circle cx="269" cy="1824" r="3.3"/><circle cx="248" cy="1822" r="3.3"/><circle cx="278" cy="1828" r="3.3"/><circle cx="279" cy="1850" r="3.3"/><circle cx="288" cy="1855" r="3.3"/><circle cx="280" cy="1857" r="3.3"/><circle cx="278" cy="1859" r="3.3"/><circle cx="244" cy="1831" r="3.3"/><circle cx="298" cy="1858" r="3.3"/><circle cx="290" cy="1859" r="3.3"/><circle cx="271" cy="1826" r="3.3"/><circle cx="250" cy="1855" r="3.3"/><circle cx="289" cy="1849" r="3.3"/><circle cx="280" cy="1855" r="3.3"/><circle cx="230" cy="1820" r="3.3"/><circle cx="295" cy="1859" r="3.3"/><circle cx="279" cy="1859" r="3.3"/><circle cx="265" cy="1838" r="3.3"/><circle cx="244" cy="1806" r="3.3"/><circle cx="280" cy="1846" r="3.3"/><circle cx="297" cy="1859" r="3.3"/><circle cx="267" cy="1840" r="3.3"/><circle cx="265" cy="1843" r="3.3"/><circle cx="260" cy="1859" r="3.3"/><circle cx="285" cy="1849" r="3.3"/><circle cx="227" cy="1845" r="3.3"/><circle cx="279" cy="1845" r="3.3"/><circle cx="271" cy="1852" r="3.3"/><circle cx="284" cy="1843" r="3.3"/><circle cx="275" cy="1852" r="3.3"/><circle cx="300" cy="1859" r="3.3"/><circle cx="256" cy="1846" r="3.3"/><circle cx="291" cy="1858" r="3.3"/><circle cx="280" cy="1840" r="3.3"/><circle cx="283" cy="1849" r="3.3"/><circle cx="245" cy="1828" r="3.3"/><circle cx="287" cy="1846" r="3.3"/><circle cx="263" cy="1810" r="3.3"/><circle cx="286" cy="1826" r="3.3"/><circle cx="266" cy="1851" r="3.3"/><circle cx="299" cy="1859" r="3.3"/><circle cx="282" cy="1858" r="3.3"/><circle cx="281" cy="1846" r="3.3"/><circle cx="256" cy="1818" r="3.3"/><circle cx="283" cy="1851" r="3.3"/><circle cx="277" cy="1856" r="3.3"/><circle cx="244" cy="1826" r="3.3"/><circle cx="296" cy="1859" r="3.3"/><circle cx="300" cy="1858" r="3.3"/><circle cx="278" cy="1856" r="3.3"/><circle cx="269" cy="1815" r="3.3"/><circle cx="253" cy="1821" r="3.3"/><circle cx="251" cy="1820" r="3.3"/><circle cx="274" cy="1850" r="3.3"/><circle cx="277" cy="1857" r="3.3"/><circle cx="288" cy="1848" r="3.3"/><circle cx="286" cy="1858" r="3.3"/><circle cx="237" cy="1823" r="3.3"/><circle cx="280" cy="1858" r="3.3"/><circle cx="266" cy="1844" r="3.3"/><circle cx="282" cy="1859" r="3.3"/><circle cx="253" cy="1831" r="3.3"/><circle cx="278" cy="1852" r="3.3"/><circle cx="275" cy="1855" r="3.3"/><circle cx="299" cy="1859" r="3.3"/><circle cx="299" cy="1859" r="3.3"/><circle cx="265" cy="1853" r="3.3"/><circle cx="275" cy="1841" r="3.3"/><circle cx="265" cy="1848" r="3.3"/><circle cx="274" cy="1852" r="3.3"/><circle cx="284" cy="1858" r="3.3"/><circle cx="269" cy="1853" r="3.3"/><circle cx="281" cy="1830" r="3.3"/><circle cx="285" cy="1842" r="3.3"/><circle cx="284" cy="1858" r="3.3"/><circle cx="248" cy="1842" r="3.3"/><circle cx="287" cy="1859" r="3.3"/><circle cx="266" cy="1858" r="3.3"/><circle cx="264" cy="1844" r="3.3"/><circle cx="299" cy="1859" r="3.3"/><circle cx="249" cy="1828" r="3.3"/><circle cx="239" cy="1807" r="3.3"/><circle cx="279" cy="1858" r="3.3"/><circle cx="300" cy="1859" r="3.3"/><circle cx="264" cy="1852" r="3.3"/><circle cx="262" cy="1848" r="3.3"/><circle cx="250" cy="1850" r="3.3"/><circle cx="276" cy="1850" r="3.3"/><circle cx="267" cy="1833" r="3.3"/><circle cx="288" cy="1856" r="3.3"/><circle cx="274" cy="1856" r="3.3"/><circle cx="229" cy="1812" r="3.3"/><circle cx="293" cy="1857" r="3.3"/><circle cx="218" cy="1821" r="3.3"/><circle cx="245" cy="1821" r="3.3"/><circle cx="283" cy="1859" r="3.3"/><circle cx="281" cy="1859" r="3.3"/><circle cx="285" cy="1858" r="3.3"/><circle cx="297" cy="1859" r="3.3"/><circle cx="293" cy="1859" r="3.3"/><circle cx="282" cy="1859" r="3.3"/><circle cx="230" cy="1823" r="3.3"/><circle cx="279" cy="1846" r="3.3"/><circle cx="281" cy="1859" r="3.3"/><circle cx="279" cy="1849" r="3.3"/><circle cx="273" cy="1856" r="3.3"/><circle cx="297" cy="1859" r="3.3"/><circle cx="281" cy="1849" r="3.3"/><circle cx="269" cy="1843" r="3.3"/><circle cx="291" cy="1856" r="3.3"/><circle cx="274" cy="1848" r="3.3"/><circle cx="264" cy="1836" r="3.3"/><circle cx="270" cy="1853" r="3.3"/><circle cx="288" cy="1850" r="3.3"/><circle cx="264" cy="1827" r="3.3"/><circle cx="277" cy="1859" r="3.3"/><circle cx="299" cy="1858" r="3.3"/><circle cx="274" cy="1801" r="3.3"/><circle cx="292" cy="1856" r="3.3"/><circle cx="252" cy="1839" r="3.3"/><circle cx="272" cy="1857" r="3.3"/><circle cx="299" cy="1858" r="3.3"/><circle cx="277" cy="1826" r="3.3"/><circle cx="293" cy="1859" r="3.3"/><circle cx="294" cy="1859" r="3.3"/><circle cx="260" cy="1835" r="3.3"/><circle cx="259" cy="1848" r="3.3"/><circle cx="290" cy="1859" r="3.3"/><circle cx="265" cy="1842" r="3.3"/><circle cx="225" cy="1847" r="3.3"/><circle cx="290" cy="1856" r="3.3"/><circle cx="295" cy="1859" r="3.3"/><circle cx="278" cy="1857" r="3.3"/><circle cx="243" cy="1841" r="3.3"/><circle cx="282" cy="1847" r="3.3"/><circle cx="279" cy="1838" r="3.3"/><circle cx="297" cy="1859" r="3.3"/><circle cx="227" cy="1831" r="3.3"/><circle cx="268" cy="1844" r="3.3"/><circle cx="263" cy="1842" r="3.3"/><circle cx="281" cy="1849" r="3.3"/><circle cx="300" cy="1859" r="3.3"/><circle cx="262" cy="1846" r="3.3"/><circle cx="299" cy="1858" r="3.3"/><circle cx="264" cy="1841" r="3.3"/><circle cx="277" cy="1858" r="3.3"/><circle cx="289" cy="1859" r="3.3"/><circle cx="292" cy="1851" r="3.3"/><circle cx="266" cy="1831" r="3.3"/><circle cx="282" cy="1833" r="3.3"/><circle cx="288" cy="1854" r="3.3"/><circle cx="278" cy="1839" r="3.3"/><circle cx="296" cy="1859" r="3.3"/><circle cx="286" cy="1859" r="3.3"/><circle cx="296" cy="1859" r="3.3"/><circle cx="263" cy="1801" r="3.3"/><circle cx="289" cy="1859" r="3.3"/><circle cx="288" cy="1854" r="3.3"/><circle cx="273" cy="1856" r="3.3"/><circle cx="299" cy="1858" r="3.3"/><circle cx="271" cy="1851" r="3.3"/><circle cx="261" cy="1846" r="3.3"/><circle cx="294" cy="1859" r="3.3"/><circle cx="295" cy="1857" r="3.3"/><circle cx="254" cy="1823" r="3.3"/><circle cx="274" cy="1849" r="3.3"/><circle cx="270" cy="1851" r="3.3"/><circle cx="284" cy="1859" r="3.3"/><circle cx="285" cy="1859" r="3.3"/><circle cx="278" cy="1817" r="3.3"/><circle cx="290" cy="1843" r="3.3"/><circle cx="289" cy="1839" r="3.3"/><circle cx="263" cy="1820" r="3.3"/><circle cx="266" cy="1853" r="3.3"/><circle cx="286" cy="1851" r="3.3"/><circle cx="253" cy="1829" r="3.3"/><circle cx="271" cy="1846" r="3.3"/><circle cx="233" cy="1844" r="3.3"/><circle cx="248" cy="1841" r="3.3"/><circle cx="267" cy="1830" r="3.3"/><circle cx="293" cy="1859" r="3.3"/><circle cx="278" cy="1859" r="3.3"/><circle cx="295" cy="1859" r="3.3"/><circle cx="272" cy="1835" r="3.3"/><circle cx="273" cy="1842" r="3.3"/><circle cx="235" cy="1808" r="3.3"/><circle cx="283" cy="1846" r="3.3"/><circle cx="292" cy="1855" r="3.3"/><circle cx="263" cy="1802" r="3.3"/><circle cx="272" cy="1841" r="3.3"/><circle cx="251" cy="1820" r="3.3"/><circle cx="248" cy="1826" r="3.3"/><circle cx="293" cy="1859" r="3.3"/><circle cx="283" cy="1859" r="3.3"/><circle cx="294" cy="1859" r="3.3"/><circle cx="281" cy="1859" r="3.3"/><circle cx="264" cy="1857" r="3.3"/><circle cx="263" cy="1806" r="3.3"/><circle cx="251" cy="1823" r="3.3"/><circle cx="288" cy="1852" r="3.3"/><circle cx="270" cy="1848" r="3.3"/><circle cx="274" cy="1841" r="3.3"/><circle cx="267" cy="1850" r="3.3"/><circle cx="276" cy="1827" r="3.3"/><circle cx="285" cy="1847" r="3.3"/><circle cx="293" cy="1859" r="3.3"/><circle cx="265" cy="1854" r="3.3"/><circle cx="299" cy="1859" r="3.3"/><circle cx="294" cy="1859" r="3.3"/><circle cx="229" cy="1813" r="3.3"/><circle cx="280" cy="1845" r="3.3"/><circle cx="257" cy="1840" r="3.3"/><circle cx="279" cy="1813" r="3.3"/><circle cx="265" cy="1838" r="3.3"/><circle cx="284" cy="1843" r="3.3"/><circle cx="255" cy="1824" r="3.3"/><circle cx="233" cy="1857" r="3.3"/><circle cx="278" cy="1846" r="3.3"/><circle cx="245" cy="1853" r="3.3"/><circle cx="253" cy="1831" r="3.3"/><circle cx="295" cy="1855" r="3.3"/><circle cx="291" cy="1859" r="3.3"/><circle cx="268" cy="1853" r="3.3"/><circle cx="300" cy="1859" r="3.3"/><circle cx="253" cy="1814" r="3.3"/><circle cx="250" cy="1833" r="3.3"/><circle cx="255" cy="1833" r="3.3"/><circle cx="275" cy="1857" r="3.3"/><circle cx="269" cy="1838" r="3.3"/><circle cx="285" cy="1826" r="3.3"/><circle cx="272" cy="1840" r="3.3"/><circle cx="274" cy="1856" r="3.3"/><circle cx="272" cy="1817" r="3.3"/><circle cx="278" cy="1859" r="3.3"/><circle cx="251" cy="1851" r="3.3"/><circle cx="259" cy="1854" r="3.3"/><circle cx="270" cy="1849" r="3.3"/><circle cx="264" cy="1848" r="3.3"/><circle cx="293" cy="1857" r="3.3"/><circle cx="251" cy="1848" r="3.3"/><circle cx="283" cy="1859" r="3.3"/><circle cx="285" cy="1842" r="3.3"/><circle cx="282" cy="1830" r="3.3"/><circle cx="281" cy="1845" r="3.3"/><circle cx="248" cy="1846" r="3.3"/><circle cx="272" cy="1856" r="3.3"/><circle cx="266" cy="1849" r="3.3"/><circle cx="228" cy="1849" r="3.3"/><circle cx="300" cy="1859" r="3.3"/><circle cx="273" cy="1855" r="3.3"/><circle cx="275" cy="1832" r="3.3"/><circle cx="266" cy="1832" r="3.3"/><circle cx="292" cy="1851" r="3.3"/><circle cx="262" cy="1847" r="3.3"/><circle cx="262" cy="1845" r="3.3"/><circle cx="268" cy="1853" r="3.3"/><circle cx="279" cy="1830" r="3.3"/><circle cx="276" cy="1858" r="3.3"/><circle cx="291" cy="1856" r="3.3"/><circle cx="275" cy="1827" r="3.3"/><circle cx="241" cy="1824" r="3.3"/><circle cx="260" cy="1819" r="3.3"/><circle cx="261" cy="1832" r="3.3"/><circle cx="273" cy="1838" r="3.3"/><circle cx="288" cy="1859" r="3.3"/><circle cx="276" cy="1859" r="3.3"/><circle cx="250" cy="1813" r="3.3"/><circle cx="271" cy="1842" r="3.3"/><circle cx="276" cy="1840" r="3.3"/><circle cx="271" cy="1826" r="3.3"/><circle cx="291" cy="1855" r="3.3"/><circle cx="285" cy="1859" r="3.3"/><circle cx="274" cy="1857" r="3.3"/><circle cx="249" cy="1811" r="3.3"/><circle cx="260" cy="1840" r="3.3"/><circle cx="281" cy="1859" r="3.3"/><circle cx="272" cy="1809" r="3.3"/><circle cx="275" cy="1844" r="3.3"/><circle cx="264" cy="1799" r="3.3"/><circle cx="269" cy="1844" r="3.3"/><circle cx="261" cy="1845" r="3.3"/><circle cx="255" cy="1829" r="3.3"/><circle cx="251" cy="1840" r="3.3"/><circle cx="249" cy="1812" r="3.3"/><circle cx="286" cy="1847" r="3.3"/><circle cx="265" cy="1837" r="3.3"/><circle cx="281" cy="1797" r="3.3"/><circle cx="279" cy="1845" r="3.3"/><circle cx="300" cy="1859" r="3.3"/><circle cx="264" cy="1837" r="3.3"/><circle cx="292" cy="1859" r="3.3"/><circle cx="287" cy="1846" r="3.3"/><circle cx="245" cy="1832" r="3.3"/><circle cx="277" cy="1846" r="3.3"/><circle cx="258" cy="1828" r="3.3"/><circle cx="268" cy="1834" r="3.3"/><circle cx="282" cy="1838" r="3.3"/><circle cx="264" cy="1850" r="3.3"/><circle cx="291" cy="1859" r="3.3"/><circle cx="262" cy="1858" r="3.3"/><circle cx="267" cy="1849" r="3.3"/><circle cx="269" cy="1846" r="3.3"/><circle cx="257" cy="1857" r="3.3"/><circle cx="274" cy="1858" r="3.3"/><circle cx="282" cy="1837" r="3.3"/><circle cx="242" cy="1817" r="3.3"/><circle cx="287" cy="1859" r="3.3"/><circle cx="237" cy="1820" r="3.3"/><circle cx="266" cy="1855" r="3.3"/><circle cx="258" cy="1845" r="3.3"/><circle cx="268" cy="1824" r="3.3"/><circle cx="250" cy="1838" r="3.3"/><circle cx="291" cy="1854" r="3.3"/><circle cx="273" cy="1855" r="3.3"/><circle cx="243" cy="1847" r="3.3"/><circle cx="281" cy="1830" r="3.3"/><circle cx="291" cy="1852" r="3.3"/><circle cx="239" cy="1812" r="3.3"/><circle cx="257" cy="1828" r="3.3"/><circle cx="273" cy="1843" r="3.3"/><circle cx="253" cy="1830" r="3.3"/><circle cx="270" cy="1857" r="3.3"/><circle cx="283" cy="1844" r="3.3"/><circle cx="263" cy="1838" r="3.3"/><circle cx="272" cy="1836" r="3.3"/><circle cx="272" cy="1828" r="3.3"/><circle cx="238" cy="1836" r="3.3"/><circle cx="287" cy="1859" r="3.3"/><circle cx="288" cy="1859" r="3.3"/><circle cx="268" cy="1828" r="3.3"/><circle cx="264" cy="1834" r="3.3"/><circle cx="255" cy="1848" r="3.3"/><circle cx="274" cy="1830" r="3.3"/><circle cx="282" cy="1842" r="3.3"/><circle cx="271" cy="1842" r="3.3"/><circle cx="261" cy="1840" r="3.3"/><circle cx="272" cy="1842" r="3.3"/><circle cx="263" cy="1826" r="3.3"/><circle cx="241" cy="1781" r="3.3"/><circle cx="268" cy="1854" r="3.3"/><circle cx="274" cy="1859" r="3.3"/><circle cx="282" cy="1838" r="3.3"/><circle cx="291" cy="1855" r="3.3"/><circle cx="271" cy="1844" r="3.3"/><circle cx="266" cy="1846" r="3.3"/><circle cx="285" cy="1846" r="3.3"/><circle cx="292" cy="1857" r="3.3"/><circle cx="268" cy="1845" r="3.3"/><circle cx="288" cy="1850" r="3.3"/><circle cx="279" cy="1859" r="3.3"/><circle cx="271" cy="1853" r="3.3"/><circle cx="266" cy="1841" r="3.3"/><circle cx="276" cy="1844" r="3.3"/><circle cx="280" cy="1842" r="3.3"/><circle cx="275" cy="1859" r="3.3"/><circle cx="286" cy="1840" r="3.3"/><circle cx="291" cy="1855" r="3.3"/><circle cx="285" cy="1834" r="3.3"/><circle cx="290" cy="1850" r="3.3"/><circle cx="250" cy="1848" r="3.3"/><circle cx="289" cy="1859" r="3.3"/><circle cx="268" cy="1841" r="3.3"/><circle cx="266" cy="1845" r="3.3"/><circle cx="277" cy="1836" r="3.3"/><circle cx="290" cy="1852" r="3.3"/><circle cx="268" cy="1838" r="3.3"/><circle cx="281" cy="1859" r="3.3"/><circle cx="276" cy="1827" r="3.3"/><circle cx="290" cy="1859" r="3.3"/><circle cx="270" cy="1858" r="3.3"/><circle cx="264" cy="1841" r="3.3"/><circle cx="279" cy="1842" r="3.3"/><circle cx="242" cy="1834" r="3.3"/><circle cx="277" cy="1828" r="3.3"/><circle cx="266" cy="1843" r="3.3"/><circle cx="275" cy="1833" r="3.3"/><circle cx="265" cy="1841" r="3.3"/><circle cx="239" cy="1828" r="3.3"/><circle cx="266" cy="1831" r="3.3"/><circle cx="255" cy="1845" r="3.3"/><circle cx="282" cy="1859" r="3.3"/><circle cx="277" cy="1843" r="3.3"/><circle cx="291" cy="1853" r="3.3"/><circle cx="286" cy="1859" r="3.3"/><circle cx="264" cy="1811" r="3.3"/><circle cx="280" cy="1844" r="3.3"/><circle cx="268" cy="1831" r="3.3"/><circle cx="273" cy="1799" r="3.3"/><circle cx="269" cy="1856" r="3.3"/><circle cx="270" cy="1854" r="3.3"/><circle cx="300" cy="1859" r="3.3"/><circle cx="252" cy="1833" r="3.3"/><circle cx="290" cy="1854" r="3.3"/><circle cx="263" cy="1836" r="3.3"/><circle cx="268" cy="1839" r="3.3"/><circle cx="263" cy="1815" r="3.3"/><circle cx="259" cy="1837" r="3.3"/><circle cx="245" cy="1827" r="3.3"/><circle cx="243" cy="1804" r="3.3"/><circle cx="267" cy="1806" r="3.3"/><circle cx="280" cy="1844" r="3.3"/><circle cx="292" cy="1846" r="3.3"/><circle cx="289" cy="1859" r="3.3"/><circle cx="253" cy="1824" r="3.3"/><circle cx="293" cy="1859" r="3.3"/><circle cx="269" cy="1817" r="3.3"/><circle cx="283" cy="1859" r="3.3"/><circle cx="267" cy="1856" r="3.3"/><circle cx="267" cy="1852" r="3.3"/><circle cx="247" cy="1840" r="3.3"/><circle cx="276" cy="1843" r="3.3"/><circle cx="265" cy="1817" r="3.3"/><circle cx="257" cy="1801" r="3.3"/><circle cx="299" cy="1858" r="3.3"/><circle cx="254" cy="1833" r="3.3"/><circle cx="285" cy="1859" r="3.3"/><circle cx="275" cy="1832" r="3.3"/><circle cx="252" cy="1845" r="3.3"/><circle cx="251" cy="1840" r="3.3"/><circle cx="269" cy="1858" r="3.3"/><circle cx="275" cy="1842" r="3.3"/><circle cx="287" cy="1859" r="3.3"/><circle cx="237" cy="1823" r="3.3"/><circle cx="244" cy="1807" r="3.3"/><circle cx="269" cy="1816" r="3.3"/><circle cx="245" cy="1815" r="3.3"/><circle cx="239" cy="1802" r="3.3"/><circle cx="271" cy="1842" r="3.3"/><circle cx="276" cy="1822" r="3.3"/><circle cx="262" cy="1839" r="3.3"/><circle cx="259" cy="1830" r="3.3"/><circle cx="292" cy="1859" r="3.3"/><circle cx="264" cy="1793" r="3.3"/><circle cx="293" cy="1856" r="3.3"/><circle cx="275" cy="1832" r="3.3"/><circle cx="257" cy="1853" r="3.3"/><circle cx="284" cy="1841" r="3.3"/><circle cx="257" cy="1823" r="3.3"/><circle cx="286" cy="1859" r="3.3"/><circle cx="262" cy="1834" r="3.3"/><circle cx="285" cy="1859" r="3.3"/><circle cx="238" cy="1837" r="3.3"/><circle cx="300" cy="1858" r="3.3"/><circle cx="292" cy="1859" r="3.3"/><circle cx="276" cy="1840" r="3.3"/><circle cx="257" cy="1852" r="3.3"/><circle cx="270" cy="1856" r="3.3"/><circle cx="274" cy="1841" r="3.3"/><circle cx="264" cy="1837" r="3.3"/><circle cx="272" cy="1857" r="3.3"/><circle cx="267" cy="1857" r="3.3"/><circle cx="256" cy="1833" r="3.3"/><circle cx="291" cy="1859" r="3.3"/><circle cx="292" cy="1859" r="3.3"/><circle cx="257" cy="1812" r="3.3"/><circle cx="269" cy="1824" r="3.3"/><circle cx="264" cy="1840" r="3.3"/><circle cx="274" cy="1815" r="3.3"/><circle cx="257" cy="1852" r="3.3"/><circle cx="279" cy="1837" r="3.3"/><circle cx="261" cy="1850" r="3.3"/><circle cx="256" cy="1824" r="3.3"/><circle cx="277" cy="1821" r="3.3"/><circle cx="261" cy="1829" r="3.3"/><circle cx="286" cy="1847" r="3.3"/><circle cx="241" cy="1841" r="3.3"/><circle cx="254" cy="1826" r="3.3"/><circle cx="289" cy="1859" r="3.3"/><circle cx="264" cy="1852" r="3.3"/><circle cx="271" cy="1831" r="3.3"/><circle cx="258" cy="1835" r="3.3"/><circle cx="255" cy="1850" r="3.3"/><circle cx="222" cy="1848" r="3.3"/><circle cx="268" cy="1840" r="3.3"/><circle cx="266" cy="1806" r="3.3"/><circle cx="248" cy="1829" r="3.3"/><circle cx="269" cy="1809" r="3.3"/><circle cx="270" cy="1829" r="3.3"/><circle cx="282" cy="1859" r="3.3"/><circle cx="264" cy="1820" r="3.3"/><circle cx="273" cy="1835" r="3.3"/><circle cx="233" cy="1841" r="3.3"/><circle cx="235" cy="1796" r="3.3"/><circle cx="232" cy="1842" r="3.3"/><circle cx="293" cy="1859" r="3.3"/><circle cx="277" cy="1828" r="3.3"/><circle cx="260" cy="1838" r="3.3"/><circle cx="294" cy="1857" r="3.3"/><circle cx="273" cy="1859" r="3.3"/><circle cx="269" cy="1825" r="3.3"/><circle cx="267" cy="1830" r="3.3"/><circle cx="258" cy="1824" r="3.3"/><circle cx="281" cy="1838" r="3.3"/><circle cx="289" cy="1848" r="3.3"/><circle cx="236" cy="1831" r="3.3"/><circle cx="292" cy="1855" r="3.3"/><circle cx="270" cy="1857" r="3.3"/><circle cx="276" cy="1834" r="3.3"/><circle cx="246" cy="1818" r="3.3"/><circle cx="277" cy="1859" r="3.3"/><circle cx="276" cy="1823" r="3.3"/><circle cx="272" cy="1856" r="3.3"/><circle cx="273" cy="1858" r="3.3"/><circle cx="257" cy="1852" r="3.3"/><circle cx="256" cy="1825" r="3.3"/><circle cx="270" cy="1805" r="3.3"/><circle cx="277" cy="1836" r="3.3"/><circle cx="265" cy="1852" r="3.3"/><circle cx="294" cy="1857" r="3.3"/><circle cx="266" cy="1813" r="3.3"/><circle cx="289" cy="1859" r="3.3"/><circle cx="255" cy="1853" r="3.3"/><circle cx="275" cy="1859" r="3.3"/><circle cx="279" cy="1859" r="3.3"/><circle cx="291" cy="1859" r="3.3"/><circle cx="255" cy="1846" r="3.3"/><circle cx="262" cy="1829" r="3.3"/><circle cx="291" cy="1848" r="3.3"/><circle cx="283" cy="1844" r="3.3"/><circle cx="256" cy="1784" r="3.3"/><circle cx="261" cy="1843" r="3.3"/><circle cx="247" cy="1846" r="3.3"/><circle cx="259" cy="1801" r="3.3"/><circle cx="273" cy="1859" r="3.3"/><circle cx="262" cy="1835" r="3.3"/><circle cx="287" cy="1845" r="3.3"/><circle cx="244" cy="1853" r="3.3"/><circle cx="268" cy="1834" r="3.3"/><circle cx="273" cy="1776" r="3.3"/><circle cx="249" cy="1846" r="3.3"/><circle cx="271" cy="1858" r="3.3"/><circle cx="263" cy="1801" r="3.3"/><circle cx="292" cy="1859" r="3.3"/><circle cx="261" cy="1834" r="3.3"/><circle cx="258" cy="1847" r="3.3"/><circle cx="282" cy="1859" r="3.3"/><circle cx="269" cy="1824" r="3.3"/><circle cx="283" cy="1841" r="3.3"/><circle cx="287" cy="1859" r="3.3"/><circle cx="283" cy="1842" r="3.3"/><circle cx="275" cy="1842" r="3.3"/><circle cx="289" cy="1843" r="3.3"/><circle cx="271" cy="1831" r="3.3"/><circle cx="263" cy="1791" r="3.3"/><circle cx="288" cy="1846" r="3.3"/><circle cx="235" cy="1833" r="3.3"/><circle cx="277" cy="1859" r="3.3"/><circle cx="236" cy="1830" r="3.3"/><circle cx="224" cy="1837" r="3.3"/><circle cx="260" cy="1832" r="3.3"/><circle cx="286" cy="1859" r="3.3"/><circle cx="274" cy="1836" r="3.3"/><circle cx="280" cy="1815" r="3.3"/><circle cx="272" cy="1857" r="3.3"/><circle cx="271" cy="1839" r="3.3"/><circle cx="276" cy="1825" r="3.3"/><circle cx="270" cy="1808" r="3.3"/><circle cx="248" cy="1837" r="3.3"/><circle cx="273" cy="1820" r="3.3"/><circle cx="255" cy="1812" r="3.3"/><circle cx="269" cy="1856" r="3.3"/><circle cx="260" cy="1847" r="3.3"/><circle cx="257" cy="1837" r="3.3"/><circle cx="268" cy="1857" r="3.3"/><circle cx="259" cy="1857" r="3.3"/><circle cx="268" cy="1830" r="3.3"/><circle cx="273" cy="1825" r="3.3"/><circle cx="284" cy="1841" r="3.3"/><circle cx="283" cy="1822" r="3.3"/><circle cx="256" cy="1856" r="3.3"/><circle cx="275" cy="1859" r="3.3"/><circle cx="221" cy="1774" r="3.3"/><circle cx="272" cy="1859" r="3.3"/><circle cx="264" cy="1839" r="3.3"/><circle cx="283" cy="1835" r="3.3"/><circle cx="270" cy="1836" r="3.3"/><circle cx="282" cy="1839" r="3.3"/><circle cx="270" cy="1833" r="3.3"/><circle cx="288" cy="1848" r="3.3"/><circle cx="262" cy="1764" r="3.3"/><circle cx="269" cy="1834" r="3.3"/><circle cx="243" cy="1845" r="3.3"/><circle cx="227" cy="1804" r="3.3"/><circle cx="228" cy="1824" r="3.3"/><circle cx="286" cy="1845" r="3.3"/><circle cx="262" cy="1845" r="3.3"/><circle cx="251" cy="1808" r="3.3"/><circle cx="273" cy="1833" r="3.3"/><circle cx="280" cy="1859" r="3.3"/><circle cx="224" cy="1819" r="3.3"/><circle cx="274" cy="1839" r="3.3"/><circle cx="279" cy="1859" r="3.3"/><circle cx="282" cy="1841" r="3.3"/><circle cx="272" cy="1833" r="3.3"/><circle cx="275" cy="1859" r="3.3"/><circle cx="300" cy="1859" r="3.3"/><circle cx="265" cy="1837" r="3.3"/><circle cx="244" cy="1816" r="3.3"/><circle cx="284" cy="1838" r="3.3"/><circle cx="295" cy="1854" r="3.3"/><circle cx="289" cy="1833" r="3.3"/><circle cx="244" cy="1810" r="3.3"/><circle cx="245" cy="1826" r="3.3"/><circle cx="281" cy="1830" r="3.3"/><circle cx="255" cy="1853" r="3.3"/><circle cx="223" cy="1815" r="3.3"/><circle cx="247" cy="1833" r="3.3"/><circle cx="223" cy="1767" r="3.3"/><circle cx="251" cy="1847" r="3.3"/><circle cx="253" cy="1831" r="3.3"/><circle cx="251" cy="1833" r="3.3"/><circle cx="221" cy="1823" r="3.3"/><circle cx="286" cy="1845" r="3.3"/><circle cx="276" cy="1840" r="3.3"/><circle cx="270" cy="1835" r="3.3"/><circle cx="247" cy="1806" r="3.3"/><circle cx="262" cy="1846" r="3.3"/><circle cx="271" cy="1859" r="3.3"/><circle cx="278" cy="1836" r="3.3"/><circle cx="260" cy="1843" r="3.3"/><circle cx="260" cy="1803" r="3.3"/><circle cx="249" cy="1845" r="3.3"/><circle cx="245" cy="1831" r="3.3"/><circle cx="289" cy="1849" r="3.3"/><circle cx="292" cy="1855" r="3.3"/><circle cx="268" cy="1858" r="3.3"/><circle cx="291" cy="1848" r="3.3"/><circle cx="257" cy="1840" r="3.3"/><circle cx="273" cy="1833" r="3.3"/><circle cx="258" cy="1828" r="3.3"/><circle cx="261" cy="1820" r="3.3"/><circle cx="279" cy="1836" r="3.3"/><circle cx="268" cy="1814" r="3.3"/><circle cx="266" cy="1816" r="3.3"/><circle cx="238" cy="1848" r="3.3"/><circle cx="259" cy="1855" r="3.3"/><circle cx="274" cy="1838" r="3.3"/><circle cx="244" cy="1812" r="3.3"/><circle cx="286" cy="1840" r="3.3"/><circle cx="289" cy="1844" r="3.3"/><circle cx="252" cy="1825" r="3.3"/><circle cx="266" cy="1851" r="3.3"/><circle cx="257" cy="1834" r="3.3"/><circle cx="249" cy="1821" r="3.3"/><circle cx="292" cy="1844" r="3.3"/><circle cx="258" cy="1837" r="3.3"/><circle cx="282" cy="1859" r="3.3"/><circle cx="287" cy="1842" r="3.3"/><circle cx="285" cy="1859" r="3.3"/><circle cx="250" cy="1845" r="3.3"/><circle cx="259" cy="1845" r="3.3"/><circle cx="273" cy="1819" r="3.3"/><circle cx="260" cy="1827" r="3.3"/><circle cx="295" cy="1856" r="3.3"/><circle cx="259" cy="1855" r="3.3"/><circle cx="241" cy="1843" r="3.3"/><circle cx="258" cy="1836" r="3.3"/><circle cx="245" cy="1825" r="3.3"/><circle cx="261" cy="1831" r="3.3"/><circle cx="262" cy="1828" r="3.3"/><circle cx="247" cy="1827" r="3.3"/><circle cx="279" cy="1825" r="3.3"/><circle cx="263" cy="1849" r="3.3"/><circle cx="278" cy="1827" r="3.3"/><circle cx="264" cy="1833" r="3.3"/><circle cx="308" cy="1859" r="3.3"/><circle cx="314" cy="1855" r="3.3"/><circle cx="307" cy="1859" r="3.3"/><circle cx="305" cy="1859" r="3.3"/><circle cx="321" cy="1858" r="3.3"/><circle cx="308" cy="1857" r="3.3"/><circle cx="332" cy="1832" r="3.3"/><circle cx="301" cy="1858" r="3.3"/><circle cx="306" cy="1856" r="3.3"/><circle cx="326" cy="1842" r="3.3"/><circle cx="308" cy="1859" r="3.3"/><circle cx="300" cy="1859" r="3.3"/><circle cx="304" cy="1859" r="3.3"/><circle cx="319" cy="1855" r="3.3"/><circle cx="305" cy="1859" r="3.3"/><circle cx="301" cy="1859" r="3.3"/><circle cx="311" cy="1859" r="3.3"/><circle cx="305" cy="1859" r="3.3"/><circle cx="328" cy="1833" r="3.3"/><circle cx="308" cy="1859" r="3.3"/><circle cx="326" cy="1841" r="3.3"/><circle cx="345" cy="1768" r="3.3"/><circle cx="314" cy="1858" r="3.3"/><circle cx="318" cy="1844" r="3.3"/><circle cx="333" cy="1835" r="3.3"/><circle cx="316" cy="1850" r="3.3"/><circle cx="305" cy="1859" r="3.3"/><circle cx="349" cy="1817" r="3.3"/><circle cx="315" cy="1856" r="3.3"/><circle cx="325" cy="1843" r="3.3"/><circle cx="324" cy="1851" r="3.3"/><circle cx="310" cy="1859" r="3.3"/><circle cx="306" cy="1856" r="3.3"/><circle cx="303" cy="1859" r="3.3"/><circle cx="307" cy="1858" r="3.3"/><circle cx="309" cy="1859" r="3.3"/><circle cx="313" cy="1859" r="3.3"/><circle cx="300" cy="1858" r="3.3"/><circle cx="320" cy="1854" r="3.3"/><circle cx="314" cy="1853" r="3.3"/><circle cx="303" cy="1859" r="3.3"/><circle cx="310" cy="1858" r="3.3"/><circle cx="312" cy="1859" r="3.3"/><circle cx="340" cy="1833" r="3.3"/><circle cx="306" cy="1858" r="3.3"/><circle cx="302" cy="1859" r="3.3"/><circle cx="311" cy="1856" r="3.3"/><circle cx="323" cy="1856" r="3.3"/><circle cx="300" cy="1858" r="3.3"/><circle cx="313" cy="1848" r="3.3"/><circle cx="316" cy="1857" r="3.3"/><circle cx="309" cy="1859" r="3.3"/><circle cx="305" cy="1859" r="3.3"/><circle cx="370" cy="1779" r="3.3"/><circle cx="326" cy="1841" r="3.3"/><circle cx="306" cy="1858" r="3.3"/><circle cx="317" cy="1843" r="3.3"/><circle cx="352" cy="1836" r="3.3"/><circle cx="312" cy="1854" r="3.3"/><circle cx="336" cy="1840" r="3.3"/><circle cx="304" cy="1859" r="3.3"/><circle cx="305" cy="1858" r="3.3"/><circle cx="310" cy="1855" r="3.3"/><circle cx="325" cy="1840" r="3.3"/><circle cx="308" cy="1859" r="3.3"/><circle cx="324" cy="1833" r="3.3"/><circle cx="325" cy="1844" r="3.3"/><circle cx="304" cy="1859" r="3.3"/><circle cx="301" cy="1858" r="3.3"/><circle cx="300" cy="1858" r="3.3"/><circle cx="309" cy="1853" r="3.3"/><circle cx="302" cy="1859" r="3.3"/><circle cx="317" cy="1852" r="3.3"/><circle cx="316" cy="1855" r="3.3"/><circle cx="312" cy="1857" r="3.3"/><circle cx="355" cy="1795" r="3.3"/><circle cx="324" cy="1844" r="3.3"/><circle cx="303" cy="1859" r="3.3"/><circle cx="364" cy="1830" r="3.3"/><circle cx="303" cy="1859" r="3.3"/><circle cx="330" cy="1821" r="3.3"/><circle cx="312" cy="1858" r="3.3"/><circle cx="319" cy="1832" r="3.3"/><circle cx="306" cy="1855" r="3.3"/><circle cx="309" cy="1858" r="3.3"/><circle cx="315" cy="1859" r="3.3"/><circle cx="305" cy="1858" r="3.3"/><circle cx="309" cy="1859" r="3.3"/><circle cx="318" cy="1854" r="3.3"/><circle cx="312" cy="1858" r="3.3"/><circle cx="302" cy="1858" r="3.3"/><circle cx="304" cy="1858" r="3.3"/><circle cx="326" cy="1814" r="3.3"/><circle cx="382" cy="1827" r="3.3"/><circle cx="308" cy="1857" r="3.3"/><circle cx="314" cy="1846" r="3.3"/><circle cx="304" cy="1858" r="3.3"/><circle cx="317" cy="1858" r="3.3"/><circle cx="311" cy="1859" r="3.3"/><circle cx="303" cy="1859" r="3.3"/><circle cx="302" cy="1858" r="3.3"/><circle cx="317" cy="1856" r="3.3"/><circle cx="332" cy="1850" r="3.3"/><circle cx="314" cy="1844" r="3.3"/><circle cx="303" cy="1859" r="3.3"/><circle cx="343" cy="1800" r="3.3"/><circle cx="305" cy="1858" r="3.3"/><circle cx="321" cy="1855" r="3.3"/><circle cx="309" cy="1859" r="3.3"/><circle cx="325" cy="1843" r="3.3"/><circle cx="349" cy="1847" r="3.3"/><circle cx="324" cy="1854" r="3.3"/><circle cx="309" cy="1855" r="3.3"/><circle cx="322" cy="1842" r="3.3"/><circle cx="326" cy="1848" r="3.3"/><circle cx="303" cy="1858" r="3.3"/><circle cx="358" cy="1817" r="3.3"/><circle cx="330" cy="1848" r="3.3"/><circle cx="309" cy="1859" r="3.3"/><circle cx="338" cy="1853" r="3.3"/><circle cx="318" cy="1844" r="3.3"/><circle cx="311" cy="1852" r="3.3"/><circle cx="318" cy="1855" r="3.3"/><circle cx="314" cy="1857" r="3.3"/><circle cx="318" cy="1843" r="3.3"/><circle cx="317" cy="1853" r="3.3"/><circle cx="324" cy="1845" r="3.3"/><circle cx="303" cy="1858" r="3.3"/><circle cx="324" cy="1834" r="3.3"/><circle cx="336" cy="1825" r="3.3"/><circle cx="310" cy="1857" r="3.3"/><circle cx="320" cy="1855" r="3.3"/><circle cx="304" cy="1858" r="3.3"/><circle cx="321" cy="1858" r="3.3"/><circle cx="312" cy="1847" r="3.3"/><circle cx="313" cy="1851" r="3.3"/><circle cx="311" cy="1859" r="3.3"/><circle cx="366" cy="1840" r="3.3"/><circle cx="315" cy="1857" r="3.3"/><circle cx="302" cy="1859" r="3.3"/><circle cx="309" cy="1859" r="3.3"/><circle cx="304" cy="1859" r="3.3"/><circle cx="319" cy="1848" r="3.3"/><circle cx="334" cy="1833" r="3.3"/><circle cx="324" cy="1845" r="3.3"/><circle cx="306" cy="1859" r="3.3"/><circle cx="319" cy="1859" r="3.3"/><circle cx="321" cy="1853" r="3.3"/><circle cx="307" cy="1859" r="3.3"/><circle cx="323" cy="1854" r="3.3"/><circle cx="313" cy="1852" r="3.3"/><circle cx="314" cy="1859" r="3.3"/><circle cx="326" cy="1836" r="3.3"/><circle cx="323" cy="1845" r="3.3"/><circle cx="313" cy="1856" r="3.3"/><circle cx="308" cy="1856" r="3.3"/><circle cx="317" cy="1846" r="3.3"/><circle cx="322" cy="1858" r="3.3"/><circle cx="348" cy="1837" r="3.3"/><circle cx="311" cy="1856" r="3.3"/><circle cx="359" cy="1833" r="3.3"/><circle cx="331" cy="1849" r="3.3"/><circle cx="311" cy="1853" r="3.3"/><circle cx="329" cy="1849" r="3.3"/><circle cx="304" cy="1859" r="3.3"/><circle cx="389" cy="1771" r="3.3"/><circle cx="315" cy="1846" r="3.3"/><circle cx="322" cy="1850" r="3.3"/><circle cx="315" cy="1852" r="3.3"/><circle cx="313" cy="1858" r="3.3"/><circle cx="322" cy="1844" r="3.3"/><circle cx="313" cy="1847" r="3.3"/><circle cx="300" cy="1859" r="3.3"/><circle cx="315" cy="1848" r="3.3"/><circle cx="325" cy="1814" r="3.3"/><circle cx="337" cy="1844" r="3.3"/><circle cx="313" cy="1859" r="3.3"/><circle cx="338" cy="1854" r="3.3"/><circle cx="324" cy="1853" r="3.3"/><circle cx="322" cy="1847" r="3.3"/><circle cx="313" cy="1857" r="3.3"/><circle cx="310" cy="1856" r="3.3"/><circle cx="330" cy="1835" r="3.3"/><circle cx="319" cy="1835" r="3.3"/><circle cx="329" cy="1804" r="3.3"/><circle cx="311" cy="1856" r="3.3"/><circle cx="331" cy="1844" r="3.3"/><circle cx="312" cy="1858" r="3.3"/><circle cx="308" cy="1853" r="3.3"/><circle cx="322" cy="1840" r="3.3"/><circle cx="318" cy="1858" r="3.3"/><circle cx="323" cy="1841" r="3.3"/><circle cx="308" cy="1859" r="3.3"/><circle cx="318" cy="1856" r="3.3"/><circle cx="305" cy="1859" r="3.3"/><circle cx="318" cy="1831" r="3.3"/><circle cx="315" cy="1849" r="3.3"/><circle cx="323" cy="1856" r="3.3"/><circle cx="341" cy="1838" r="3.3"/><circle cx="326" cy="1846" r="3.3"/><circle cx="337" cy="1847" r="3.3"/><circle cx="320" cy="1836" r="3.3"/><circle cx="322" cy="1831" r="3.3"/><circle cx="301" cy="1859" r="3.3"/><circle cx="312" cy="1859" r="3.3"/><circle cx="318" cy="1853" r="3.3"/><circle cx="329" cy="1851" r="3.3"/><circle cx="326" cy="1843" r="3.3"/><circle cx="309" cy="1852" r="3.3"/><circle cx="316" cy="1857" r="3.3"/><circle cx="317" cy="1855" r="3.3"/><circle cx="319" cy="1806" r="3.3"/><circle cx="305" cy="1859" r="3.3"/><circle cx="328" cy="1843" r="3.3"/><circle cx="335" cy="1851" r="3.3"/><circle cx="316" cy="1802" r="3.3"/><circle cx="348" cy="1796" r="3.3"/><circle cx="345" cy="1825" r="3.3"/><circle cx="310" cy="1846" r="3.3"/><circle cx="319" cy="1853" r="3.3"/><circle cx="316" cy="1859" r="3.3"/><circle cx="308" cy="1854" r="3.3"/><circle cx="330" cy="1838" r="3.3"/><circle cx="330" cy="1840" r="3.3"/><circle cx="319" cy="1859" r="3.3"/><circle cx="321" cy="1842" r="3.3"/><circle cx="308" cy="1857" r="3.3"/><circle cx="304" cy="1859" r="3.3"/><circle cx="323" cy="1841" r="3.3"/><circle cx="314" cy="1856" r="3.3"/><circle cx="311" cy="1859" r="3.3"/><circle cx="321" cy="1856" r="3.3"/><circle cx="350" cy="1806" r="3.3"/><circle cx="371" cy="1779" r="3.3"/><circle cx="310" cy="1851" r="3.3"/><circle cx="325" cy="1836" r="3.3"/><circle cx="326" cy="1816" r="3.3"/><circle cx="302" cy="1859" r="3.3"/><circle cx="313" cy="1858" r="3.3"/><circle cx="314" cy="1851" r="3.3"/><circle cx="320" cy="1852" r="3.3"/><circle cx="309" cy="1855" r="3.3"/><circle cx="318" cy="1856" r="3.3"/><circle cx="333" cy="1762" r="3.3"/><circle cx="312" cy="1859" r="3.3"/><circle cx="317" cy="1849" r="3.3"/><circle cx="342" cy="1807" r="3.3"/><circle cx="329" cy="1852" r="3.3"/><circle cx="316" cy="1851" r="3.3"/><circle cx="335" cy="1816" r="3.3"/><circle cx="343" cy="1768" r="3.3"/><circle cx="303" cy="1859" r="3.3"/><circle cx="321" cy="1849" r="3.3"/><circle cx="317" cy="1830" r="3.3"/><circle cx="313" cy="1847" r="3.3"/><circle cx="321" cy="1840" r="3.3"/><circle cx="308" cy="1845" r="3.3"/><circle cx="313" cy="1859" r="3.3"/><circle cx="330" cy="1845" r="3.3"/><circle cx="338" cy="1821" r="3.3"/><circle cx="308" cy="1854" r="3.3"/><circle cx="336" cy="1835" r="3.3"/><circle cx="325" cy="1821" r="3.3"/><circle cx="316" cy="1859" r="3.3"/><circle cx="336" cy="1858" r="3.3"/><circle cx="320" cy="1859" r="3.3"/><circle cx="313" cy="1854" r="3.3"/><circle cx="322" cy="1850" r="3.3"/><circle cx="306" cy="1859" r="3.3"/><circle cx="302" cy="1859" r="3.3"/><circle cx="321" cy="1850" r="3.3"/><circle cx="316" cy="1847" r="3.3"/><circle cx="326" cy="1855" r="3.3"/><circle cx="339" cy="1834" r="3.3"/><circle cx="321" cy="1855" r="3.3"/><circle cx="319" cy="1853" r="3.3"/><circle cx="325" cy="1856" r="3.3"/><circle cx="323" cy="1850" r="3.3"/><circle cx="322" cy="1850" r="3.3"/><circle cx="318" cy="1846" r="3.3"/><circle cx="337" cy="1838" r="3.3"/><circle cx="322" cy="1855" r="3.3"/><circle cx="316" cy="1847" r="3.3"/><circle cx="353" cy="1827" r="3.3"/><circle cx="314" cy="1854" r="3.3"/><circle cx="302" cy="1859" r="3.3"/><circle cx="310" cy="1859" r="3.3"/><circle cx="307" cy="1857" r="3.3"/><circle cx="319" cy="1852" r="3.3"/><circle cx="325" cy="1855" r="3.3"/><circle cx="327" cy="1847" r="3.3"/><circle cx="320" cy="1853" r="3.3"/><circle cx="311" cy="1859" r="3.3"/><circle cx="332" cy="1844" r="3.3"/><circle cx="325" cy="1846" r="3.3"/><circle cx="306" cy="1858" r="3.3"/><circle cx="325" cy="1844" r="3.3"/><circle cx="343" cy="1787" r="3.3"/><circle cx="305" cy="1859" r="3.3"/><circle cx="315" cy="1837" r="3.3"/><circle cx="341" cy="1847" r="3.3"/><circle cx="338" cy="1826" r="3.3"/><circle cx="322" cy="1835" r="3.3"/><circle cx="314" cy="1845" r="3.3"/><circle cx="309" cy="1847" r="3.3"/><circle cx="304" cy="1859" r="3.3"/><circle cx="311" cy="1859" r="3.3"/><circle cx="326" cy="1850" r="3.3"/><circle cx="338" cy="1781" r="3.3"/><circle cx="306" cy="1859" r="3.3"/><circle cx="392" cy="1818" r="3.3"/><circle cx="316" cy="1858" r="3.3"/><circle cx="332" cy="1840" r="3.3"/><circle cx="321" cy="1853" r="3.3"/><circle cx="316" cy="1859" r="3.3"/><circle cx="329" cy="1846" r="3.3"/><circle cx="304" cy="1859" r="3.3"/><circle cx="337" cy="1851" r="3.3"/><circle cx="334" cy="1828" r="3.3"/><circle cx="320" cy="1848" r="3.3"/><circle cx="357" cy="1855" r="3.3"/><circle cx="338" cy="1836" r="3.3"/><circle cx="312" cy="1859" r="3.3"/><circle cx="322" cy="1836" r="3.3"/><circle cx="322" cy="1834" r="3.3"/><circle cx="330" cy="1856" r="3.3"/><circle cx="314" cy="1838" r="3.3"/><circle cx="330" cy="1825" r="3.3"/><circle cx="309" cy="1855" r="3.3"/><circle cx="326" cy="1851" r="3.3"/><circle cx="307" cy="1857" r="3.3"/><circle cx="315" cy="1850" r="3.3"/><circle cx="302" cy="1859" r="3.3"/><circle cx="319" cy="1857" r="3.3"/><circle cx="315" cy="1849" r="3.3"/><circle cx="313" cy="1849" r="3.3"/><circle cx="313" cy="1859" r="3.3"/><circle cx="317" cy="1829" r="3.3"/><circle cx="313" cy="1852" r="3.3"/><circle cx="321" cy="1851" r="3.3"/><circle cx="334" cy="1852" r="3.3"/><circle cx="302" cy="1859" r="3.3"/><circle cx="317" cy="1859" r="3.3"/><circle cx="319" cy="1842" r="3.3"/><circle cx="312" cy="1859" r="3.3"/><circle cx="359" cy="1834" r="3.3"/><circle cx="310" cy="1859" r="3.3"/><circle cx="325" cy="1857" r="3.3"/><circle cx="327" cy="1847" r="3.3"/><circle cx="301" cy="1859" r="3.3"/><circle cx="349" cy="1806" r="3.3"/><circle cx="315" cy="1859" r="3.3"/><circle cx="363" cy="1851" r="3.3"/><circle cx="302" cy="1859" r="3.3"/><circle cx="306" cy="1850" r="3.3"/><circle cx="327" cy="1844" r="3.3"/><circle cx="342" cy="1846" r="3.3"/><circle cx="324" cy="1859" r="3.3"/><circle cx="342" cy="1806" r="3.3"/><circle cx="320" cy="1858" r="3.3"/><circle cx="344" cy="1821" r="3.3"/><circle cx="312" cy="1859" r="3.3"/><circle cx="346" cy="1856" r="3.3"/><circle cx="325" cy="1835" r="3.3"/><circle cx="300" cy="1859" r="3.3"/><circle cx="316" cy="1849" r="3.3"/><circle cx="312" cy="1851" r="3.3"/><circle cx="325" cy="1847" r="3.3"/><circle cx="366" cy="1835" r="3.3"/><circle cx="327" cy="1858" r="3.3"/><circle cx="332" cy="1831" r="3.3"/><circle cx="315" cy="1859" r="3.3"/><circle cx="327" cy="1848" r="3.3"/><circle cx="334" cy="1828" r="3.3"/><circle cx="342" cy="1842" r="3.3"/><circle cx="338" cy="1846" r="3.3"/><circle cx="318" cy="1847" r="3.3"/><circle cx="312" cy="1859" r="3.3"/><circle cx="329" cy="1852" r="3.3"/><circle cx="358" cy="1772" r="3.3"/><circle cx="330" cy="1848" r="3.3"/><circle cx="301" cy="1859" r="3.3"/><circle cx="317" cy="1847" r="3.3"/><circle cx="341" cy="1837" r="3.3"/><circle cx="335" cy="1836" r="3.3"/><circle cx="306" cy="1859" r="3.3"/><circle cx="312" cy="1852" r="3.3"/><circle cx="300" cy="1859" r="3.3"/><circle cx="311" cy="1859" r="3.3"/><circle cx="319" cy="1837" r="3.3"/><circle cx="347" cy="1813" r="3.3"/><circle cx="313" cy="1853" r="3.3"/><circle cx="317" cy="1836" r="3.3"/><circle cx="319" cy="1847" r="3.3"/><circle cx="329" cy="1833" r="3.3"/><circle cx="322" cy="1852" r="3.3"/><circle cx="322" cy="1849" r="3.3"/><circle cx="324" cy="1854" r="3.3"/><circle cx="350" cy="1829" r="3.3"/><circle cx="343" cy="1844" r="3.3"/><circle cx="352" cy="1761" r="3.3"/><circle cx="305" cy="1858" r="3.3"/><circle cx="343" cy="1833" r="3.3"/><circle cx="331" cy="1845" r="3.3"/><circle cx="308" cy="1859" r="3.3"/><circle cx="330" cy="1819" r="3.3"/><circle cx="324" cy="1853" r="3.3"/><circle cx="325" cy="1855" r="3.3"/><circle cx="346" cy="1847" r="3.3"/><circle cx="389" cy="1786" r="3.3"/><circle cx="307" cy="1859" r="3.3"/><circle cx="379" cy="1761" r="3.3"/><circle cx="320" cy="1845" r="3.3"/><circle cx="320" cy="1848" r="3.3"/><circle cx="352" cy="1818" r="3.3"/><circle cx="325" cy="1853" r="3.3"/><circle cx="333" cy="1845" r="3.3"/><circle cx="320" cy="1848" r="3.3"/><circle cx="311" cy="1850" r="3.3"/><circle cx="300" cy="1859" r="3.3"/><circle cx="330" cy="1852" r="3.3"/><circle cx="314" cy="1859" r="3.3"/><circle cx="349" cy="1830" r="3.3"/><circle cx="318" cy="1857" r="3.3"/><circle cx="329" cy="1830" r="3.3"/><circle cx="325" cy="1815" r="3.3"/><circle cx="307" cy="1859" r="3.3"/><circle cx="314" cy="1859" r="3.3"/><circle cx="306" cy="1859" r="3.3"/><circle cx="335" cy="1819" r="3.3"/><circle cx="325" cy="1847" r="3.3"/><circle cx="311" cy="1844" r="3.3"/><circle cx="354" cy="1835" r="3.3"/><circle cx="358" cy="1827" r="3.3"/><circle cx="321" cy="1856" r="3.3"/><circle cx="306" cy="1847" r="3.3"/><circle cx="306" cy="1859" r="3.3"/><circle cx="325" cy="1843" r="3.3"/><circle cx="302" cy="1859" r="3.3"/><circle cx="333" cy="1853" r="3.3"/><circle cx="323" cy="1843" r="3.3"/><circle cx="325" cy="1858" r="3.3"/><circle cx="343" cy="1844" r="3.3"/><circle cx="324" cy="1849" r="3.3"/><circle cx="332" cy="1832" r="3.3"/><circle cx="328" cy="1846" r="3.3"/><circle cx="336" cy="1859" r="3.3"/><circle cx="306" cy="1859" r="3.3"/><circle cx="329" cy="1849" r="3.3"/><circle cx="329" cy="1858" r="3.3"/><circle cx="309" cy="1859" r="3.3"/><circle cx="306" cy="1857" r="3.3"/><circle cx="308" cy="1850" r="3.3"/><circle cx="345" cy="1859" r="3.3"/><circle cx="318" cy="1844" r="3.3"/><circle cx="314" cy="1859" r="3.3"/><circle cx="326" cy="1838" r="3.3"/><circle cx="305" cy="1859" r="3.3"/><circle cx="308" cy="1854" r="3.3"/><circle cx="334" cy="1840" r="3.3"/><circle cx="316" cy="1841" r="3.3"/><circle cx="318" cy="1842" r="3.3"/><circle cx="308" cy="1859" r="3.3"/><circle cx="324" cy="1810" r="3.3"/><circle cx="339" cy="1827" r="3.3"/><circle cx="318" cy="1859" r="3.3"/><circle cx="310" cy="1859" r="3.3"/><circle cx="309" cy="1852" r="3.3"/><circle cx="332" cy="1839" r="3.3"/><circle cx="313" cy="1803" r="3.3"/><circle cx="317" cy="1811" r="3.3"/><circle cx="301" cy="1859" r="3.3"/><circle cx="302" cy="1859" r="3.3"/><circle cx="308" cy="1852" r="3.3"/><circle cx="354" cy="1851" r="3.3"/><circle cx="317" cy="1859" r="3.3"/><circle cx="308" cy="1859" r="3.3"/><circle cx="318" cy="1845" r="3.3"/><circle cx="321" cy="1842" r="3.3"/><circle cx="321" cy="1826" r="3.3"/><circle cx="342" cy="1836" r="3.3"/><circle cx="311" cy="1847" r="3.3"/><circle cx="304" cy="1858" r="3.3"/><circle cx="329" cy="1809" r="3.3"/><circle cx="328" cy="1848" r="3.3"/><circle cx="341" cy="1845" r="3.3"/><circle cx="323" cy="1834" r="3.3"/><circle cx="341" cy="1837" r="3.3"/><circle cx="308" cy="1859" r="3.3"/><circle cx="309" cy="1847" r="3.3"/><circle cx="315" cy="1859" r="3.3"/><circle cx="327" cy="1859" r="3.3"/><circle cx="383" cy="1763" r="3.3"/><circle cx="320" cy="1836" r="3.3"/><circle cx="313" cy="1859" r="3.3"/><circle cx="337" cy="1843" r="3.3"/><circle cx="327" cy="1835" r="3.3"/><circle cx="329" cy="1852" r="3.3"/><circle cx="358" cy="1781" r="3.3"/><circle cx="307" cy="1859" r="3.3"/><circle cx="350" cy="1785" r="3.3"/><circle cx="332" cy="1855" r="3.3"/><circle cx="300" cy="1859" r="3.3"/><circle cx="312" cy="1843" r="3.3"/><circle cx="311" cy="1836" r="3.3"/><circle cx="322" cy="1858" r="3.3"/><circle cx="311" cy="1840" r="3.3"/><circle cx="343" cy="1847" r="3.3"/><circle cx="307" cy="1859" r="3.3"/><circle cx="331" cy="1858" r="3.3"/><circle cx="331" cy="1839" r="3.3"/><circle cx="331" cy="1848" r="3.3"/><circle cx="334" cy="1857" r="3.3"/><circle cx="332" cy="1857" r="3.3"/><circle cx="315" cy="1843" r="3.3"/><circle cx="313" cy="1859" r="3.3"/><circle cx="336" cy="1815" r="3.3"/><circle cx="348" cy="1853" r="3.3"/><circle cx="355" cy="1839" r="3.3"/><circle cx="323" cy="1856" r="3.3"/><circle cx="354" cy="1841" r="3.3"/><circle cx="320" cy="1844" r="3.3"/><circle cx="307" cy="1859" r="3.3"/><circle cx="349" cy="1792" r="3.3"/><circle cx="322" cy="1833" r="3.3"/><circle cx="318" cy="1858" r="3.3"/><circle cx="363" cy="1842" r="3.3"/><circle cx="323" cy="1859" r="3.3"/><circle cx="337" cy="1838" r="3.3"/><circle cx="308" cy="1855" r="3.3"/><circle cx="308" cy="1842" r="3.3"/><circle cx="376" cy="1837" r="3.3"/><circle cx="311" cy="1848" r="3.3"/><circle cx="310" cy="1859" r="3.3"/><circle cx="309" cy="1859" r="3.3"/><circle cx="319" cy="1840" r="3.3"/><circle cx="330" cy="1841" r="3.3"/><circle cx="325" cy="1856" r="3.3"/><circle cx="341" cy="1843" r="3.3"/><circle cx="317" cy="1859" r="3.3"/><circle cx="327" cy="1857" r="3.3"/><circle cx="346" cy="1843" r="3.3"/><circle cx="325" cy="1857" r="3.3"/><circle cx="304" cy="1859" r="3.3"/><circle cx="321" cy="1859" r="3.3"/><circle cx="317" cy="1833" r="3.3"/><circle cx="342" cy="1834" r="3.3"/><circle cx="313" cy="1859" r="3.3"/><circle cx="321" cy="1820" r="3.3"/><circle cx="335" cy="1829" r="3.3"/><circle cx="346" cy="1840" r="3.3"/><circle cx="316" cy="1859" r="3.3"/><circle cx="308" cy="1842" r="3.3"/><circle cx="325" cy="1824" r="3.3"/><circle cx="336" cy="1841" r="3.3"/><circle cx="320" cy="1834" r="3.3"/><circle cx="326" cy="1813" r="3.3"/><circle cx="306" cy="1858" r="3.3"/><circle cx="339" cy="1793" r="3.3"/><circle cx="330" cy="1852" r="3.3"/><circle cx="329" cy="1842" r="3.3"/><circle cx="347" cy="1817" r="3.3"/><circle cx="347" cy="1827" r="3.3"/><circle cx="333" cy="1853" r="3.3"/><circle cx="319" cy="1842" r="3.3"/><circle cx="342" cy="1835" r="3.3"/><circle cx="318" cy="1859" r="3.3"/><circle cx="328" cy="1845" r="3.3"/><circle cx="335" cy="1812" r="3.3"/><circle cx="344" cy="1820" r="3.3"/><circle cx="325" cy="1838" r="3.3"/><circle cx="338" cy="1825" r="3.3"/><circle cx="362" cy="1822" r="3.3"/><circle cx="338" cy="1801" r="3.3"/><circle cx="339" cy="1856" r="3.3"/><circle cx="377" cy="1826" r="3.3"/><circle cx="316" cy="1825" r="3.3"/><circle cx="343" cy="1813" r="3.3"/><circle cx="324" cy="1814" r="3.3"/><circle cx="311" cy="1848" r="3.3"/><circle cx="329" cy="1853" r="3.3"/><circle cx="329" cy="1847" r="3.3"/><circle cx="354" cy="1794" r="3.3"/><circle cx="364" cy="1828" r="3.3"/><circle cx="318" cy="1835" r="3.3"/><circle cx="305" cy="1856" r="3.3"/><circle cx="333" cy="1837" r="3.3"/><circle cx="316" cy="1839" r="3.3"/><circle cx="312" cy="1859" r="3.3"/><circle cx="351" cy="1796" r="3.3"/><circle cx="307" cy="1854" r="3.3"/><circle cx="328" cy="1809" r="3.3"/><circle cx="371" cy="1806" r="3.3"/><circle cx="354" cy="1840" r="3.3"/><circle cx="320" cy="1824" r="3.3"/><circle cx="339" cy="1843" r="3.3"/><circle cx="317" cy="1838" r="3.3"/><circle cx="330" cy="1851" r="3.3"/><circle cx="341" cy="1801" r="3.3"/><circle cx="323" cy="1856" r="3.3"/><circle cx="349" cy="1839" r="3.3"/><circle cx="318" cy="1836" r="3.3"/><circle cx="332" cy="1843" r="3.3"/><circle cx="313" cy="1847" r="3.3"/><circle cx="339" cy="1842" r="3.3"/><circle cx="324" cy="1824" r="3.3"/><circle cx="346" cy="1838" r="3.3"/><circle cx="310" cy="1852" r="3.3"/><circle cx="359" cy="1848" r="3.3"/><circle cx="314" cy="1859" r="3.3"/><circle cx="335" cy="1816" r="3.3"/><circle cx="321" cy="1838" r="3.3"/><circle cx="326" cy="1839" r="3.3"/><circle cx="324" cy="1857" r="3.3"/><circle cx="310" cy="1859" r="3.3"/><circle cx="315" cy="1845" r="3.3"/><circle cx="341" cy="1834" r="3.3"/><circle cx="381" cy="1829" r="3.3"/><circle cx="313" cy="1843" r="3.3"/><circle cx="368" cy="1838" r="3.3"/><circle cx="310" cy="1852" r="3.3"/><circle cx="339" cy="1819" r="3.3"/><circle cx="318" cy="1859" r="3.3"/><circle cx="336" cy="1856" r="3.3"/><circle cx="359" cy="1814" r="3.3"/><circle cx="343" cy="1815" r="3.3"/><circle cx="324" cy="1858" r="3.3"/><circle cx="330" cy="1844" r="3.3"/><circle cx="322" cy="1839" r="3.3"/><circle cx="326" cy="1856" r="3.3"/><circle cx="322" cy="1836" r="3.3"/><circle cx="325" cy="1857" r="3.3"/><circle cx="309" cy="1859" r="3.3"/><circle cx="342" cy="1838" r="3.3"/><circle cx="310" cy="1845" r="3.3"/><circle cx="330" cy="1853" r="3.3"/><circle cx="308" cy="1851" r="3.3"/><circle cx="329" cy="1850" r="3.3"/><circle cx="316" cy="1836" r="3.3"/><circle cx="319" cy="1832" r="3.3"/><circle cx="328" cy="1855" r="3.3"/><circle cx="336" cy="1840" r="3.3"/><circle cx="314" cy="1834" r="3.3"/><circle cx="323" cy="1830" r="3.3"/><circle cx="327" cy="1840" r="3.3"/><circle cx="328" cy="1820" r="3.3"/><circle cx="323" cy="1840" r="3.3"/><circle cx="328" cy="1839" r="3.3"/><circle cx="342" cy="1765" r="3.3"/><circle cx="326" cy="1816" r="3.3"/><circle cx="372" cy="1837" r="3.3"/><circle cx="332" cy="1808" r="3.3"/><circle cx="337" cy="1850" r="3.3"/><circle cx="333" cy="1840" r="3.3"/><circle cx="323" cy="1837" r="3.3"/><circle cx="329" cy="1847" r="3.3"/><circle cx="305" cy="1858" r="3.3"/><circle cx="338" cy="1845" r="3.3"/><circle cx="328" cy="1853" r="3.3"/><circle cx="314" cy="1840" r="3.3"/><circle cx="337" cy="1841" r="3.3"/><circle cx="319" cy="1841" r="3.3"/><circle cx="362" cy="1824" r="3.3"/><circle cx="317" cy="1859" r="3.3"/><circle cx="325" cy="1857" r="3.3"/><circle cx="325" cy="1837" r="3.3"/><circle cx="314" cy="1838" r="3.3"/><circle cx="344" cy="1788" r="3.3"/><circle cx="329" cy="1819" r="3.3"/><circle cx="319" cy="1859" r="3.3"/><circle cx="323" cy="1822" r="3.3"/><circle cx="343" cy="1853" r="3.3"/><circle cx="342" cy="1848" r="3.3"/><circle cx="334" cy="1850" r="3.3"/><circle cx="329" cy="1844" r="3.3"/><circle cx="341" cy="1823" r="3.3"/><circle cx="329" cy="1834" r="3.3"/><circle cx="329" cy="1845" r="3.3"/><circle cx="308" cy="1853" r="3.3"/><circle cx="334" cy="1849" r="3.3"/><circle cx="341" cy="1800" r="3.3"/><circle cx="343" cy="1832" r="3.3"/><circle cx="328" cy="1839" r="3.3"/><circle cx="319" cy="1826" r="3.3"/><circle cx="321" cy="1858" r="3.3"/><circle cx="340" cy="1753" r="3.3"/><circle cx="322" cy="1859" r="3.3"/><circle cx="330" cy="1832" r="3.3"/><circle cx="324" cy="1857" r="3.3"/><circle cx="318" cy="1843" r="3.3"/><circle cx="331" cy="1837" r="3.3"/><circle cx="332" cy="1827" r="3.3"/><circle cx="330" cy="1857" r="3.3"/><circle cx="334" cy="1855" r="3.3"/><circle cx="377" cy="1829" r="3.3"/><circle cx="329" cy="1836" r="3.3"/><circle cx="330" cy="1818" r="3.3"/><circle cx="317" cy="1838" r="3.3"/><circle cx="330" cy="1850" r="3.3"/><circle cx="344" cy="1827" r="3.3"/><circle cx="344" cy="1826" r="3.3"/><circle cx="353" cy="1838" r="3.3"/><circle cx="334" cy="1838" r="3.3"/><circle cx="341" cy="1836" r="3.3"/><circle cx="328" cy="1807" r="3.3"/><circle cx="334" cy="1844" r="3.3"/><circle cx="355" cy="1847" r="3.3"/><circle cx="344" cy="1833" r="3.3"/><circle cx="336" cy="1845" r="3.3"/><circle cx="337" cy="1781" r="3.3"/><circle cx="335" cy="1852" r="3.3"/><circle cx="309" cy="1846" r="3.3"/><circle cx="339" cy="1831" r="3.3"/><circle cx="334" cy="1820" r="3.3"/><circle cx="329" cy="1840" r="3.3"/><circle cx="337" cy="1832" r="3.3"/><circle cx="336" cy="1846" r="3.3"/><circle cx="338" cy="1828" r="3.3"/><circle cx="340" cy="1817" r="3.3"/><circle cx="358" cy="1825" r="3.3"/><circle cx="329" cy="1796" r="3.3"/><circle cx="341" cy="1799" r="3.3"/><circle cx="330" cy="1849" r="3.3"/><circle cx="360" cy="1825" r="3.3"/><circle cx="338" cy="1800" r="3.3"/><circle cx="326" cy="1856" r="3.3"/><circle cx="322" cy="1819" r="3.3"/><circle cx="327" cy="1819" r="3.3"/><circle cx="308" cy="1852" r="3.3"/><circle cx="311" cy="1846" r="3.3"/><circle cx="333" cy="1847" r="3.3"/><circle cx="312" cy="1834" r="3.3"/><circle cx="319" cy="1838" r="3.3"/><circle cx="326" cy="1780" r="3.3"/><circle cx="327" cy="1833" r="3.3"/><circle cx="307" cy="1851" r="3.3"/><circle cx="306" cy="1856" r="3.3"/><circle cx="326" cy="1858" r="3.3"/><circle cx="349" cy="1782" r="3.3"/><circle cx="313" cy="1859" r="3.3"/><circle cx="328" cy="1855" r="3.3"/><circle cx="351" cy="1826" r="3.3"/><circle cx="328" cy="1834" r="3.3"/><circle cx="314" cy="1843" r="3.3"/><circle cx="332" cy="1851" r="3.3"/><circle cx="328" cy="1824" r="3.3"/><circle cx="333" cy="1821" r="3.3"/><circle cx="333" cy="1796" r="3.3"/><circle cx="309" cy="1849" r="3.3"/><circle cx="335" cy="1837" r="3.3"/><circle cx="326" cy="1820" r="3.3"/><circle cx="323" cy="1858" r="3.3"/><circle cx="345" cy="1789" r="3.3"/><circle cx="352" cy="1843" r="3.3"/><circle cx="336" cy="1841" r="3.3"/><circle cx="343" cy="1822" r="3.3"/><circle cx="351" cy="1853" r="3.3"/><circle cx="318" cy="1858" r="3.3"/><circle cx="333" cy="1820" r="3.3"/><circle cx="324" cy="1825" r="3.3"/><circle cx="326" cy="1857" r="3.3"/><circle cx="307" cy="1856" r="3.3"/><circle cx="332" cy="1810" r="3.3"/><circle cx="340" cy="1836" r="3.3"/><circle cx="339" cy="1830" r="3.3"/><circle cx="333" cy="1794" r="3.3"/><circle cx="327" cy="1834" r="3.3"/><circle cx="327" cy="1820" r="3.3"/><circle cx="336" cy="1841" r="3.3"/><circle cx="350" cy="1802" r="3.3"/><circle cx="315" cy="1837" r="3.3"/><circle cx="353" cy="1803" r="3.3"/><circle cx="330" cy="1803" r="3.3"/><circle cx="312" cy="1834" r="3.3"/><circle cx="328" cy="1856" r="3.3"/><circle cx="338" cy="1843" r="3.3"/><circle cx="328" cy="1837" r="3.3"/><circle cx="316" cy="1833" r="3.3"/><circle cx="358" cy="1833" r="3.3"/><circle cx="329" cy="1845" r="3.3"/><circle cx="333" cy="1849" r="3.3"/><circle cx="345" cy="1839" r="3.3"/><circle cx="338" cy="1820" r="3.3"/><circle cx="332" cy="1841" r="3.3"/><circle cx="329" cy="1809" r="3.3"/><circle cx="332" cy="1857" r="3.3"/><circle cx="356" cy="1858" r="3.3"/><circle cx="330" cy="1823" r="3.3"/><circle cx="328" cy="1810" r="3.3"/><circle cx="335" cy="1835" r="3.3"/><circle cx="323" cy="1859" r="3.3"/><circle cx="355" cy="1828" r="3.3"/><circle cx="344" cy="1809" r="3.3"/><circle cx="346" cy="1825" r="3.3"/><circle cx="341" cy="1838" r="3.3"/><circle cx="333" cy="1848" r="3.3"/><circle cx="332" cy="1852" r="3.3"/><circle cx="331" cy="1818" r="3.3"/><circle cx="314" cy="1836" r="3.3"/><circle cx="340" cy="1836" r="3.3"/><circle cx="351" cy="1787" r="3.3"/><circle cx="312" cy="1847" r="3.3"/><circle cx="323" cy="1859" r="3.3"/><circle cx="337" cy="1837" r="3.3"/><circle cx="329" cy="1858" r="3.3"/><circle cx="315" cy="1837" r="3.3"/><circle cx="336" cy="1815" r="3.3"/><circle cx="326" cy="1825" r="3.3"/><circle cx="337" cy="1830" r="3.3"/><circle cx="356" cy="1842" r="3.3"/><circle cx="324" cy="1859" r="3.3"/><circle cx="332" cy="1840" r="3.3"/><circle cx="382" cy="1795" r="3.3"/><circle cx="328" cy="1859" r="3.3"/><circle cx="344" cy="1848" r="3.3"/><circle cx="386" cy="1841" r="3.3"/><circle cx="317" cy="1831" r="3.3"/><circle cx="325" cy="1858" r="3.3"/><circle cx="340" cy="1853" r="3.3"/><circle cx="322" cy="1824" r="3.3"/><circle cx="346" cy="1847" r="3.3"/><circle cx="317" cy="1859" r="3.3"/><circle cx="348" cy="1814" r="3.3"/><circle cx="361" cy="1815" r="3.3"/><circle cx="312" cy="1859" r="3.3"/><circle cx="324" cy="1833" r="3.3"/><circle cx="320" cy="1831" r="3.3"/><circle cx="348" cy="1824" r="3.3"/><circle cx="336" cy="1846" r="3.3"/><circle cx="359" cy="1834" r="3.3"/><circle cx="347" cy="1826" r="3.3"/><circle cx="312" cy="1841" r="3.3"/><circle cx="377" cy="1828" r="3.3"/><circle cx="337" cy="1850" r="3.3"/><circle cx="333" cy="1806" r="3.3"/><circle cx="319" cy="1831" r="3.3"/><circle cx="315" cy="1845" r="3.3"/><circle cx="354" cy="1769" r="3.3"/><circle cx="349" cy="1838" r="3.3"/><circle cx="347" cy="1834" r="3.3"/><circle cx="352" cy="1841" r="3.3"/><circle cx="361" cy="1821" r="3.3"/><circle cx="328" cy="1774" r="3.3"/><circle cx="313" cy="1844" r="3.3"/><circle cx="336" cy="1830" r="3.3"/><circle cx="340" cy="1827" r="3.3"/><circle cx="335" cy="1853" r="3.3"/><circle cx="315" cy="1827" r="3.3"/><circle cx="332" cy="1832" r="3.3"/><circle cx="364" cy="1824" r="3.3"/><circle cx="330" cy="1842" r="3.3"/><circle cx="306" cy="1856" r="3.3"/><circle cx="306" cy="1853" r="3.3"/><circle cx="312" cy="1845" r="3.3"/><circle cx="368" cy="1785" r="3.3"/><circle cx="332" cy="1824" r="3.3"/><circle cx="335" cy="1817" r="3.3"/><circle cx="318" cy="1833" r="3.3"/><circle cx="330" cy="1855" r="3.3"/><circle cx="330" cy="1834" r="3.3"/><circle cx="317" cy="1859" r="3.3"/><circle cx="327" cy="1776" r="3.3"/><circle cx="373" cy="1820" r="3.3"/><circle cx="315" cy="1833" r="3.3"/><circle cx="305" cy="1855" r="3.3"/><circle cx="332" cy="1830" r="3.3"/><circle cx="355" cy="1830" r="3.3"/><circle cx="342" cy="1835" r="3.3"/><circle cx="334" cy="1857" r="3.3"/><circle cx="375" cy="1838" r="3.3"/><circle cx="350" cy="1835" r="3.3"/><circle cx="324" cy="1830" r="3.3"/><circle cx="317" cy="1814" r="3.3"/><circle cx="341" cy="1838" r="3.3"/><circle cx="308" cy="1827" r="3.3"/><circle cx="348" cy="1840" r="3.3"/><circle cx="353" cy="1843" r="3.3"/><circle cx="327" cy="1823" r="3.3"/><circle cx="322" cy="1828" r="3.3"/><circle cx="332" cy="1844" r="3.3"/><circle cx="350" cy="1839" r="3.3"/><circle cx="333" cy="1844" r="3.3"/><circle cx="363" cy="1844" r="3.3"/><circle cx="327" cy="1827" r="3.3"/><circle cx="347" cy="1845" r="3.3"/><circle cx="334" cy="1775" r="3.3"/><circle cx="332" cy="1851" r="3.3"/><circle cx="334" cy="1838" r="3.3"/><circle cx="338" cy="1852" r="3.3"/><circle cx="336" cy="1776" r="3.3"/><circle cx="324" cy="1827" r="3.3"/><circle cx="332" cy="1834" r="3.3"/><circle cx="314" cy="1859" r="3.3"/><circle cx="337" cy="1847" r="3.3"/><circle cx="316" cy="1835" r="3.3"/><circle cx="359" cy="1762" r="3.3"/><circle cx="332" cy="1813" r="3.3"/><circle cx="329" cy="1830" r="3.3"/><circle cx="330" cy="1804" r="3.3"/><circle cx="328" cy="1818" r="3.3"/><circle cx="361" cy="1796" r="3.3"/><circle cx="352" cy="1755" r="3.3"/><circle cx="337" cy="1845" r="3.3"/><circle cx="334" cy="1834" r="3.3"/><circle cx="307" cy="1847" r="3.3"/><circle cx="343" cy="1840" r="3.3"/><circle cx="329" cy="1856" r="3.3"/><circle cx="326" cy="1824" r="3.3"/><circle cx="320" cy="1825" r="3.3"/><circle cx="322" cy="1858" r="3.3"/><circle cx="344" cy="1850" r="3.3"/><circle cx="312" cy="1841" r="3.3"/><circle cx="336" cy="1838" r="3.3"/><circle cx="340" cy="1777" r="3.3"/><circle cx="335" cy="1848" r="3.3"/><circle cx="336" cy="1831" r="3.3"/><circle cx="351" cy="1818" r="3.3"/><circle cx="315" cy="1859" r="3.3"/><circle cx="310" cy="1849" r="3.3"/><circle cx="346" cy="1828" r="3.3"/><circle cx="306" cy="1855" r="3.3"/><circle cx="358" cy="1809" r="3.3"/><circle cx="348" cy="1841" r="3.3"/><circle cx="339" cy="1840" r="3.3"/><circle cx="344" cy="1785" r="3.3"/><circle cx="330" cy="1825" r="3.3"/><circle cx="349" cy="1850" r="3.3"/><circle cx="338" cy="1827" r="3.3"/><circle cx="347" cy="1835" r="3.3"/><circle cx="310" cy="1839" r="3.3"/><circle cx="383" cy="1816" r="3.3"/><circle cx="332" cy="1800" r="3.3"/><circle cx="336" cy="1843" r="3.3"/><circle cx="326" cy="1832" r="3.3"/><circle cx="331" cy="1827" r="3.3"/><circle cx="342" cy="1812" r="3.3"/><circle cx="333" cy="1857" r="3.3"/><circle cx="324" cy="1833" r="3.3"/><circle cx="328" cy="1858" r="3.3"/><circle cx="316" cy="1859" r="3.3"/><circle cx="328" cy="1800" r="3.3"/><circle cx="305" cy="1851" r="3.3"/><circle cx="315" cy="1840" r="3.3"/><circle cx="359" cy="1816" r="3.3"/><circle cx="320" cy="1859" r="3.3"/><circle cx="312" cy="1832" r="3.3"/><circle cx="325" cy="1826" r="3.3"/><circle cx="315" cy="1824" r="3.3"/><circle cx="306" cy="1856" r="3.3"/><circle cx="333" cy="1856" r="3.3"/><circle cx="354" cy="1841" r="3.3"/><circle cx="332" cy="1854" r="3.3"/><circle cx="309" cy="1848" r="3.3"/><circle cx="341" cy="1835" r="3.3"/><circle cx="363" cy="1785" r="3.3"/><circle cx="340" cy="1846" r="3.3"/><circle cx="369" cy="1817" r="3.3"/><circle cx="335" cy="1855" r="3.3"/><circle cx="320" cy="1833" r="3.3"/><circle cx="326" cy="1814" r="3.3"/><circle cx="349" cy="1851" r="3.3"/><circle cx="319" cy="1859" r="3.3"/><circle cx="340" cy="1808" r="3.3"/><circle cx="346" cy="1817" r="3.3"/><circle cx="353" cy="1849" r="3.3"/><circle cx="386" cy="1843" r="3.3"/><circle cx="335" cy="1823" r="3.3"/><circle cx="316" cy="1859" r="3.3"/><circle cx="326" cy="1804" r="3.3"/><circle cx="330" cy="1823" r="3.3"/><circle cx="332" cy="1823" r="3.3"/><circle cx="448" cy="1446" r="3.3"/><circle cx="499" cy="1554" r="3.3"/><circle cx="329" cy="1700" r="3.3"/><circle cx="158" cy="1772" r="3.3"/><circle cx="158" cy="1798" r="3.3"/><circle cx="167" cy="1831" r="3.3"/><circle cx="159" cy="1838" r="3.3"/><circle cx="194" cy="1825" r="3.3"/><circle cx="203" cy="1820" r="3.3"/><circle cx="197" cy="1844" r="3.3"/><circle cx="206" cy="1844" r="3.3"/><circle cx="216" cy="1808" r="3.3"/><circle cx="221" cy="1813" r="3.3"/><circle cx="235" cy="1782" r="3.3"/><circle cx="240" cy="1740" r="3.3"/><circle cx="246" cy="1766" r="3.3"/><circle cx="258" cy="1778" r="3.3"/><circle cx="263" cy="1758" r="3.3"/><circle cx="269" cy="1742" r="3.3"/><circle cx="262" cy="1788" r="3.3"/><circle cx="268" cy="1792" r="3.3"/><circle cx="336" cy="1735" r="3.3"/><circle cx="351" cy="1741" r="3.3"/><circle cx="339" cy="1750" r="3.3"/><circle cx="349" cy="1750" r="3.3"/><circle cx="329" cy="1760" r="3.3"/><circle cx="339" cy="1764" r="3.3"/><circle cx="353" cy="1760" r="3.3"/><circle cx="327" cy="1772" r="3.3"/><circle cx="333" cy="1781" r="3.3"/><circle cx="339" cy="1778" r="3.3"/><circle cx="388" cy="1750" r="3.3"/><circle cx="394" cy="1781" r="3.3"/><circle cx="373" cy="1781" r="3.3"/><circle cx="396" cy="1840" r="3.3"/><circle cx="411" cy="1842" r="3.3"/><circle cx="381" cy="1841" r="3.3"/><circle cx="246" cy="1765" r="3.3"/><circle cx="263" cy="1757" r="3.3"/><circle cx="350" cy="1740" r="3.3"/><circle cx="338" cy="1749" r="3.3"/><circle cx="394" cy="1780" r="3.3"/><circle cx="193" cy="1824" r="3.3"/><circle cx="167" cy="1831" r="3.3"/><circle cx="197" cy="1843" r="3.3"/><circle cx="206" cy="1843" r="3.3"/><circle cx="216" cy="1808" r="3.3"/><circle cx="377" cy="1795" r="3.3"/><circle cx="370" cy="1790" r="3.3"/><circle cx="384" cy="1800" r="3.3"/><circle cx="365" cy="1800" r="3.3"/><circle cx="380" cy="1812" r="3.3"/><circle cx="386" cy="1822" r="3.3"/><circle cx="360" cy="1786" r="3.3"/><circle cx="355" cy="1795" r="3.3"/><circle cx="240" cy="1800" r="3.3"/><circle cx="232" cy="1808" r="3.3"/><circle cx="226" cy="1818" r="3.3"/><circle cx="250" cy="1792" r="3.3"/><circle cx="258" cy="1800" r="3.3"/></g>
<circle cx="573.3" cy="1692.9" r="5.6" fill="#e8202a" stroke="#000" stroke-width="1.3"/>
<circle cx="490" cy="1695.3" r="5.6" fill="#e8202a" stroke="#000" stroke-width="1.3"/>
<circle cx="523.4" cy="1705.8" r="5.6" fill="#e8202a" stroke="#000" stroke-width="1.3"/>
<circle cx="501.8" cy="1744.5" r="5.6" fill="#e8202a" stroke="#000" stroke-width="1.3"/>
<circle cx="372.2" cy="1807.2" r="5.6" fill="#10a8e8" stroke="#000" stroke-width="1.3"/>
<circle cx="349.6" cy="1846.9" r="5.6" fill="#10a8e8" stroke="#000" stroke-width="1.3"/>
<line x1="565.3" y1="1672.7" x2="571.5" y2="1685.9" stroke="#000" stroke-width="1.3"/>
<line x1="479.2" y1="1690.5" x2="486.2" y2="1692.9" stroke="#000" stroke-width="1.3"/>
<line x1="515.8" y1="1715.5" x2="521" y2="1709.6" stroke="#000" stroke-width="1.3"/>
<line x1="507" y1="1748.7" x2="515" y2="1755.6" stroke="#000" stroke-width="1.3"/>
<line x1="378" y1="1804.4" x2="395.5" y2="1798.1" stroke="#000" stroke-width="1.3"/>
<line x1="354.8" y1="1844.5" x2="396.6" y2="1826" stroke="#000" stroke-width="1.3"/>
<text x="486.2" y="1666.8" font-size="22.8" textLength="104.5" lengthAdjust="spacingAndGlyphs">GABARAP</text>
<text x="342.6" y="1690.1" font-size="22.8" textLength="127.9" lengthAdjust="spacingAndGlyphs">GABARAPL1</text>
<text x="385.1" y="1733" font-size="22.8" textLength="130" lengthAdjust="spacingAndGlyphs">GABARAPL2</text>
<text x="462.5" y="1775.8" font-size="22.8" textLength="126.5" lengthAdjust="spacingAndGlyphs">MAP1LC3B2</text>
<text x="397.3" y="1801" font-size="22.8" textLength="71.4" lengthAdjust="spacingAndGlyphs">DMXL1</text>
<text x="397.3" y="1829.9" font-size="22.8" textLength="61" lengthAdjust="spacingAndGlyphs">WDR7</text>
<text x="80.5" y="1867.8" font-size="24" text-anchor="end">0</text>
<text x="80.5" y="1769.9" font-size="24" text-anchor="end">5</text>
<text x="80.5" y="1672" font-size="24" text-anchor="end">10</text>
<text x="80.5" y="1574.1" font-size="24" text-anchor="end">15</text>
<text x="80.5" y="1476.2" font-size="24" text-anchor="end">20</text>
<text x="80.5" y="1378.3" font-size="24" text-anchor="end">25</text>
<text x="102.1" y="1900.2" font-size="24" text-anchor="middle">–2</text>
<text x="199.9" y="1900.2" font-size="24" text-anchor="middle">–1</text>
<text x="299.7" y="1900.2" font-size="24" text-anchor="middle">0</text>
<text x="397.5" y="1900.2" font-size="24" text-anchor="middle">1</text>
<text x="495.3" y="1900.2" font-size="24" text-anchor="middle">2</text>
<text x="593.1" y="1900.2" font-size="24" text-anchor="middle">3</text>
<text x="142" y="1942" font-size="26" textLength="413.8" lengthAdjust="spacingAndGlyphs">log<tspan font-size="17.5" dy="6">2</tspan><tspan dy="-6">(FC) (WT MLSA5/WT control)</tspan></text>
<text transform="translate(22.5 1706.5) rotate(-90)" x="0" y="0" font-size="26" textLength="183.5" lengthAdjust="spacingAndGlyphs">-log<tspan font-size="17.5" dy="6">10</tspan><tspan dy="-6">(</tspan><tspan font-style="italic">q</tspan> value)</text>
<rect x="727.4" y="1368.8" width="489.6" height="489.7" fill="#e4e4e4"/>
<line x1="890.1" y1="1368.8" x2="890.1" y2="1858" stroke="#f2f2f2" stroke-width="1" opacity="0.8"/>
<line x1="875.8" y1="1368.8" x2="875.8" y2="1858" stroke="#4d4d4d" stroke-width="2.3" stroke-dasharray="10.5 6.3"/>
<line x1="1066.8" y1="1368.8" x2="1066.8" y2="1858" stroke="#4d4d4d" stroke-width="2.3" stroke-dasharray="10.5 6.3"/>
<line x1="727.4" y1="1752.4" x2="1217" y2="1752.4" stroke="#4d4d4d" stroke-width="2.3" stroke-dasharray="10.5 6.3"/>
<line x1="727.4" y1="1368.8" x2="727.4" y2="1858.5" stroke="#000" stroke-width="1.6"/>
<line x1="715.4" y1="1858.5" x2="1217.5" y2="1858.5" stroke="#000" stroke-width="1.6"/>
<line x1="715.4" y1="1858.5" x2="727.4" y2="1858.5" stroke="#000" stroke-width="1.4"/>
<line x1="715.4" y1="1695.3" x2="727.4" y2="1695.3" stroke="#000" stroke-width="1.4"/>
<line x1="715.4" y1="1532.1" x2="727.4" y2="1532.1" stroke="#000" stroke-width="1.4"/>
<line x1="715.4" y1="1368.9" x2="727.4" y2="1368.9" stroke="#000" stroke-width="1.4"/>
<line x1="726.3" y1="1858.5" x2="726.3" y2="1870.5" stroke="#000" stroke-width="1.4"/>
<line x1="808" y1="1858.5" x2="808" y2="1870.5" stroke="#000" stroke-width="1.4"/>
<line x1="889.6" y1="1858.5" x2="889.6" y2="1870.5" stroke="#000" stroke-width="1.4"/>
<line x1="971.3" y1="1858.5" x2="971.3" y2="1870.5" stroke="#000" stroke-width="1.4"/>
<line x1="1053" y1="1858.5" x2="1053" y2="1870.5" stroke="#000" stroke-width="1.4"/>
<line x1="1134.6" y1="1858.5" x2="1134.6" y2="1870.5" stroke="#000" stroke-width="1.4"/>
<line x1="1216.2" y1="1858.5" x2="1216.2" y2="1870.5" stroke="#000" stroke-width="1.4"/>
<g fill="#000" fill-opacity="0.25"><circle cx="935" cy="1839" r="3.3"/><circle cx="929" cy="1829" r="3.3"/><circle cx="932" cy="1823" r="3.3"/><circle cx="964" cy="1856" r="3.3"/><circle cx="970" cy="1857" r="3.3"/><circle cx="935" cy="1814" r="3.3"/><circle cx="943" cy="1848" r="3.3"/><circle cx="957" cy="1855" r="3.3"/><circle cx="948" cy="1855" r="3.3"/><circle cx="963" cy="1857" r="3.3"/><circle cx="933" cy="1836" r="3.3"/><circle cx="958" cy="1854" r="3.3"/><circle cx="970" cy="1858" r="3.3"/><circle cx="956" cy="1854" r="3.3"/><circle cx="934" cy="1842" r="3.3"/><circle cx="954" cy="1851" r="3.3"/><circle cx="922" cy="1828" r="3.3"/><circle cx="929" cy="1855" r="3.3"/><circle cx="961" cy="1848" r="3.3"/><circle cx="936" cy="1840" r="3.3"/><circle cx="969" cy="1857" r="3.3"/><circle cx="944" cy="1839" r="3.3"/><circle cx="965" cy="1857" r="3.3"/><circle cx="947" cy="1850" r="3.3"/><circle cx="916" cy="1828" r="3.3"/><circle cx="904" cy="1796" r="3.3"/><circle cx="966" cy="1857" r="3.3"/><circle cx="944" cy="1856" r="3.3"/><circle cx="955" cy="1851" r="3.3"/><circle cx="959" cy="1853" r="3.3"/><circle cx="885" cy="1831" r="3.3"/><circle cx="959" cy="1855" r="3.3"/><circle cx="933" cy="1776" r="3.3"/><circle cx="955" cy="1853" r="3.3"/><circle cx="967" cy="1857" r="3.3"/><circle cx="969" cy="1858" r="3.3"/><circle cx="964" cy="1855" r="3.3"/><circle cx="962" cy="1857" r="3.3"/><circle cx="962" cy="1857" r="3.3"/><circle cx="949" cy="1850" r="3.3"/><circle cx="952" cy="1853" r="3.3"/><circle cx="904" cy="1745" r="3.3"/><circle cx="946" cy="1839" r="3.3"/><circle cx="961" cy="1856" r="3.3"/><circle cx="941" cy="1853" r="3.3"/><circle cx="963" cy="1855" r="3.3"/><circle cx="918" cy="1823" r="3.3"/><circle cx="956" cy="1857" r="3.3"/><circle cx="965" cy="1857" r="3.3"/><circle cx="960" cy="1854" r="3.3"/><circle cx="956" cy="1853" r="3.3"/><circle cx="925" cy="1827" r="3.3"/><circle cx="898" cy="1827" r="3.3"/><circle cx="884" cy="1684" r="3.3"/><circle cx="953" cy="1855" r="3.3"/><circle cx="968" cy="1857" r="3.3"/><circle cx="939" cy="1839" r="3.3"/><circle cx="939" cy="1839" r="3.3"/><circle cx="969" cy="1858" r="3.3"/><circle cx="964" cy="1857" r="3.3"/><circle cx="944" cy="1847" r="3.3"/><circle cx="969" cy="1858" r="3.3"/><circle cx="960" cy="1842" r="3.3"/><circle cx="923" cy="1786" r="3.3"/><circle cx="941" cy="1847" r="3.3"/><circle cx="938" cy="1840" r="3.3"/><circle cx="962" cy="1857" r="3.3"/><circle cx="942" cy="1838" r="3.3"/><circle cx="959" cy="1857" r="3.3"/><circle cx="964" cy="1855" r="3.3"/><circle cx="943" cy="1851" r="3.3"/><circle cx="942" cy="1827" r="3.3"/><circle cx="968" cy="1858" r="3.3"/><circle cx="955" cy="1851" r="3.3"/><circle cx="908" cy="1823" r="3.3"/><circle cx="967" cy="1858" r="3.3"/><circle cx="956" cy="1855" r="3.3"/><circle cx="921" cy="1814" r="3.3"/><circle cx="952" cy="1852" r="3.3"/><circle cx="966" cy="1858" r="3.3"/><circle cx="938" cy="1810" r="3.3"/><circle cx="969" cy="1857" r="3.3"/><circle cx="954" cy="1839" r="3.3"/><circle cx="939" cy="1849" r="3.3"/><circle cx="923" cy="1844" r="3.3"/><circle cx="910" cy="1757" r="3.3"/><circle cx="966" cy="1857" r="3.3"/><circle cx="955" cy="1856" r="3.3"/><circle cx="945" cy="1853" r="3.3"/><circle cx="889" cy="1743" r="3.3"/><circle cx="895" cy="1799" r="3.3"/><circle cx="940" cy="1794" r="3.3"/><circle cx="957" cy="1854" r="3.3"/><circle cx="967" cy="1856" r="3.3"/><circle cx="938" cy="1830" r="3.3"/><circle cx="965" cy="1857" r="3.3"/><circle cx="932" cy="1851" r="3.3"/><circle cx="968" cy="1857" r="3.3"/><circle cx="857" cy="1730" r="3.3"/><circle cx="930" cy="1844" r="3.3"/><circle cx="928" cy="1822" r="3.3"/><circle cx="955" cy="1852" r="3.3"/><circle cx="944" cy="1849" r="3.3"/><circle cx="952" cy="1843" r="3.3"/><circle cx="945" cy="1845" r="3.3"/><circle cx="968" cy="1858" r="3.3"/><circle cx="943" cy="1843" r="3.3"/><circle cx="931" cy="1832" r="3.3"/><circle cx="967" cy="1857" r="3.3"/><circle cx="921" cy="1837" r="3.3"/><circle cx="963" cy="1857" r="3.3"/><circle cx="964" cy="1857" r="3.3"/><circle cx="931" cy="1845" r="3.3"/><circle cx="962" cy="1855" r="3.3"/><circle cx="940" cy="1834" r="3.3"/><circle cx="951" cy="1832" r="3.3"/><circle cx="964" cy="1857" r="3.3"/><circle cx="941" cy="1845" r="3.3"/><circle cx="971" cy="1857" r="3.3"/><circle cx="963" cy="1856" r="3.3"/><circle cx="857" cy="1750" r="3.3"/><circle cx="938" cy="1850" r="3.3"/><circle cx="965" cy="1857" r="3.3"/><circle cx="907" cy="1723" r="3.3"/><circle cx="967" cy="1858" r="3.3"/><circle cx="924" cy="1838" r="3.3"/><circle cx="946" cy="1851" r="3.3"/><circle cx="948" cy="1841" r="3.3"/><circle cx="970" cy="1858" r="3.3"/><circle cx="955" cy="1849" r="3.3"/><circle cx="937" cy="1851" r="3.3"/><circle cx="939" cy="1829" r="3.3"/><circle cx="899" cy="1815" r="3.3"/><circle cx="922" cy="1822" r="3.3"/><circle cx="950" cy="1839" r="3.3"/><circle cx="967" cy="1857" r="3.3"/><circle cx="846" cy="1750" r="3.3"/><circle cx="969" cy="1858" r="3.3"/><circle cx="925" cy="1831" r="3.3"/><circle cx="969" cy="1857" r="3.3"/><circle cx="947" cy="1853" r="3.3"/><circle cx="960" cy="1848" r="3.3"/><circle cx="963" cy="1855" r="3.3"/><circle cx="931" cy="1840" r="3.3"/><circle cx="946" cy="1848" r="3.3"/><circle cx="959" cy="1855" r="3.3"/><circle cx="957" cy="1857" r="3.3"/><circle cx="970" cy="1857" r="3.3"/><circle cx="902" cy="1818" r="3.3"/><circle cx="950" cy="1852" r="3.3"/><circle cx="970" cy="1858" r="3.3"/><circle cx="967" cy="1857" r="3.3"/><circle cx="962" cy="1858" r="3.3"/><circle cx="921" cy="1821" r="3.3"/><circle cx="936" cy="1813" r="3.3"/><circle cx="965" cy="1857" r="3.3"/><circle cx="874" cy="1815" r="3.3"/><circle cx="936" cy="1847" r="3.3"/><circle cx="881" cy="1774" r="3.3"/><circle cx="968" cy="1858" r="3.3"/><circle cx="965" cy="1856" r="3.3"/><circle cx="949" cy="1852" r="3.3"/><circle cx="964" cy="1856" r="3.3"/><circle cx="913" cy="1833" r="3.3"/><circle cx="933" cy="1836" r="3.3"/><circle cx="939" cy="1849" r="3.3"/><circle cx="945" cy="1837" r="3.3"/><circle cx="909" cy="1794" r="3.3"/><circle cx="910" cy="1782" r="3.3"/><circle cx="947" cy="1853" r="3.3"/><circle cx="928" cy="1827" r="3.3"/><circle cx="969" cy="1858" r="3.3"/><circle cx="961" cy="1853" r="3.3"/><circle cx="948" cy="1849" r="3.3"/><circle cx="948" cy="1851" r="3.3"/><circle cx="943" cy="1852" r="3.3"/><circle cx="965" cy="1856" r="3.3"/><circle cx="968" cy="1857" r="3.3"/><circle cx="953" cy="1851" r="3.3"/><circle cx="915" cy="1836" r="3.3"/><circle cx="931" cy="1849" r="3.3"/><circle cx="845" cy="1832" r="3.3"/><circle cx="957" cy="1856" r="3.3"/><circle cx="970" cy="1858" r="3.3"/><circle cx="900" cy="1827" r="3.3"/><circle cx="964" cy="1857" r="3.3"/><circle cx="908" cy="1729" r="3.3"/><circle cx="957" cy="1851" r="3.3"/><circle cx="961" cy="1856" r="3.3"/><circle cx="961" cy="1855" r="3.3"/><circle cx="937" cy="1844" r="3.3"/><circle cx="971" cy="1858" r="3.3"/><circle cx="960" cy="1856" r="3.3"/><circle cx="952" cy="1857" r="3.3"/><circle cx="961" cy="1856" r="3.3"/><circle cx="925" cy="1835" r="3.3"/><circle cx="950" cy="1851" r="3.3"/><circle cx="937" cy="1843" r="3.3"/><circle cx="939" cy="1798" r="3.3"/><circle cx="965" cy="1858" r="3.3"/><circle cx="941" cy="1848" r="3.3"/><circle cx="939" cy="1848" r="3.3"/><circle cx="942" cy="1839" r="3.3"/><circle cx="951" cy="1833" r="3.3"/><circle cx="940" cy="1845" r="3.3"/><circle cx="929" cy="1841" r="3.3"/><circle cx="951" cy="1850" r="3.3"/><circle cx="960" cy="1854" r="3.3"/><circle cx="947" cy="1839" r="3.3"/><circle cx="937" cy="1827" r="3.3"/><circle cx="961" cy="1857" r="3.3"/><circle cx="946" cy="1809" r="3.3"/><circle cx="954" cy="1845" r="3.3"/><circle cx="965" cy="1855" r="3.3"/><circle cx="948" cy="1853" r="3.3"/><circle cx="943" cy="1853" r="3.3"/><circle cx="953" cy="1853" r="3.3"/><circle cx="897" cy="1787" r="3.3"/><circle cx="896" cy="1825" r="3.3"/><circle cx="970" cy="1858" r="3.3"/><circle cx="925" cy="1809" r="3.3"/><circle cx="922" cy="1817" r="3.3"/><circle cx="927" cy="1845" r="3.3"/><circle cx="956" cy="1856" r="3.3"/><circle cx="923" cy="1807" r="3.3"/><circle cx="903" cy="1803" r="3.3"/><circle cx="942" cy="1842" r="3.3"/><circle cx="965" cy="1858" r="3.3"/><circle cx="921" cy="1820" r="3.3"/><circle cx="910" cy="1830" r="3.3"/><circle cx="954" cy="1845" r="3.3"/><circle cx="928" cy="1828" r="3.3"/><circle cx="886" cy="1742" r="3.3"/><circle cx="925" cy="1847" r="3.3"/><circle cx="928" cy="1828" r="3.3"/><circle cx="896" cy="1813" r="3.3"/><circle cx="954" cy="1851" r="3.3"/><circle cx="971" cy="1858" r="3.3"/><circle cx="966" cy="1855" r="3.3"/><circle cx="859" cy="1810" r="3.3"/><circle cx="962" cy="1853" r="3.3"/><circle cx="933" cy="1818" r="3.3"/><circle cx="947" cy="1832" r="3.3"/><circle cx="951" cy="1841" r="3.3"/><circle cx="963" cy="1855" r="3.3"/><circle cx="942" cy="1828" r="3.3"/><circle cx="959" cy="1857" r="3.3"/><circle cx="910" cy="1835" r="3.3"/><circle cx="960" cy="1854" r="3.3"/><circle cx="943" cy="1824" r="3.3"/><circle cx="905" cy="1759" r="3.3"/><circle cx="948" cy="1827" r="3.3"/><circle cx="872" cy="1788" r="3.3"/><circle cx="884" cy="1813" r="3.3"/><circle cx="961" cy="1855" r="3.3"/><circle cx="951" cy="1843" r="3.3"/><circle cx="930" cy="1825" r="3.3"/><circle cx="926" cy="1822" r="3.3"/><circle cx="970" cy="1858" r="3.3"/><circle cx="948" cy="1853" r="3.3"/><circle cx="925" cy="1829" r="3.3"/><circle cx="903" cy="1808" r="3.3"/><circle cx="945" cy="1847" r="3.3"/><circle cx="916" cy="1793" r="3.3"/><circle cx="842" cy="1706" r="3.3"/><circle cx="952" cy="1844" r="3.3"/><circle cx="949" cy="1840" r="3.3"/><circle cx="913" cy="1829" r="3.3"/><circle cx="950" cy="1840" r="3.3"/><circle cx="950" cy="1850" r="3.3"/><circle cx="940" cy="1803" r="3.3"/><circle cx="964" cy="1857" r="3.3"/><circle cx="952" cy="1849" r="3.3"/><circle cx="945" cy="1848" r="3.3"/><circle cx="956" cy="1849" r="3.3"/><circle cx="940" cy="1829" r="3.3"/><circle cx="970" cy="1858" r="3.3"/><circle cx="965" cy="1858" r="3.3"/><circle cx="869" cy="1777" r="3.3"/><circle cx="921" cy="1815" r="3.3"/><circle cx="960" cy="1853" r="3.3"/><circle cx="930" cy="1846" r="3.3"/><circle cx="954" cy="1852" r="3.3"/><circle cx="940" cy="1814" r="3.3"/><circle cx="944" cy="1847" r="3.3"/><circle cx="940" cy="1811" r="3.3"/><circle cx="955" cy="1843" r="3.3"/><circle cx="953" cy="1848" r="3.3"/><circle cx="961" cy="1851" r="3.3"/><circle cx="958" cy="1856" r="3.3"/><circle cx="934" cy="1841" r="3.3"/><circle cx="957" cy="1853" r="3.3"/><circle cx="921" cy="1827" r="3.3"/><circle cx="950" cy="1851" r="3.3"/><circle cx="970" cy="1858" r="3.3"/><circle cx="959" cy="1857" r="3.3"/><circle cx="888" cy="1723" r="3.3"/><circle cx="929" cy="1842" r="3.3"/><circle cx="939" cy="1838" r="3.3"/><circle cx="894" cy="1797" r="3.3"/><circle cx="927" cy="1839" r="3.3"/><circle cx="971" cy="1858" r="3.3"/><circle cx="923" cy="1830" r="3.3"/><circle cx="955" cy="1846" r="3.3"/><circle cx="921" cy="1840" r="3.3"/><circle cx="897" cy="1810" r="3.3"/><circle cx="962" cy="1856" r="3.3"/><circle cx="920" cy="1796" r="3.3"/><circle cx="962" cy="1857" r="3.3"/><circle cx="939" cy="1837" r="3.3"/><circle cx="919" cy="1744" r="3.3"/><circle cx="958" cy="1852" r="3.3"/><circle cx="946" cy="1846" r="3.3"/><circle cx="952" cy="1848" r="3.3"/><circle cx="947" cy="1840" r="3.3"/><circle cx="932" cy="1843" r="3.3"/><circle cx="918" cy="1801" r="3.3"/><circle cx="862" cy="1794" r="3.3"/><circle cx="902" cy="1806" r="3.3"/><circle cx="957" cy="1854" r="3.3"/><circle cx="935" cy="1849" r="3.3"/><circle cx="934" cy="1839" r="3.3"/><circle cx="920" cy="1843" r="3.3"/><circle cx="953" cy="1850" r="3.3"/><circle cx="965" cy="1855" r="3.3"/><circle cx="933" cy="1829" r="3.3"/><circle cx="957" cy="1857" r="3.3"/><circle cx="926" cy="1832" r="3.3"/><circle cx="939" cy="1832" r="3.3"/><circle cx="967" cy="1858" r="3.3"/><circle cx="934" cy="1828" r="3.3"/><circle cx="923" cy="1826" r="3.3"/><circle cx="874" cy="1819" r="3.3"/><circle cx="876" cy="1823" r="3.3"/><circle cx="962" cy="1857" r="3.3"/><circle cx="858" cy="1784" r="3.3"/><circle cx="959" cy="1856" r="3.3"/><circle cx="971" cy="1858" r="3.3"/><circle cx="909" cy="1827" r="3.3"/><circle cx="944" cy="1828" r="3.3"/><circle cx="951" cy="1847" r="3.3"/><circle cx="929" cy="1830" r="3.3"/><circle cx="946" cy="1844" r="3.3"/><circle cx="957" cy="1844" r="3.3"/><circle cx="893" cy="1752" r="3.3"/><circle cx="934" cy="1830" r="3.3"/><circle cx="923" cy="1813" r="3.3"/><circle cx="934" cy="1833" r="3.3"/><circle cx="937" cy="1847" r="3.3"/><circle cx="954" cy="1855" r="3.3"/><circle cx="927" cy="1802" r="3.3"/><circle cx="955" cy="1849" r="3.3"/><circle cx="926" cy="1844" r="3.3"/><circle cx="964" cy="1854" r="3.3"/><circle cx="971" cy="1858" r="3.3"/><circle cx="948" cy="1845" r="3.3"/><circle cx="949" cy="1827" r="3.3"/><circle cx="945" cy="1840" r="3.3"/><circle cx="966" cy="1857" r="3.3"/><circle cx="927" cy="1845" r="3.3"/><circle cx="941" cy="1844" r="3.3"/><circle cx="953" cy="1848" r="3.3"/><circle cx="971" cy="1858" r="3.3"/><circle cx="927" cy="1829" r="3.3"/><circle cx="939" cy="1847" r="3.3"/><circle cx="935" cy="1811" r="3.3"/><circle cx="940" cy="1845" r="3.3"/><circle cx="906" cy="1839" r="3.3"/><circle cx="929" cy="1831" r="3.3"/><circle cx="954" cy="1850" r="3.3"/><circle cx="954" cy="1849" r="3.3"/><circle cx="957" cy="1856" r="3.3"/><circle cx="937" cy="1819" r="3.3"/><circle cx="964" cy="1858" r="3.3"/><circle cx="923" cy="1843" r="3.3"/><circle cx="949" cy="1853" r="3.3"/><circle cx="948" cy="1846" r="3.3"/><circle cx="931" cy="1843" r="3.3"/><circle cx="925" cy="1815" r="3.3"/><circle cx="933" cy="1841" r="3.3"/><circle cx="940" cy="1835" r="3.3"/><circle cx="929" cy="1814" r="3.3"/><circle cx="944" cy="1838" r="3.3"/><circle cx="923" cy="1801" r="3.3"/><circle cx="886" cy="1823" r="3.3"/><circle cx="918" cy="1808" r="3.3"/><circle cx="960" cy="1857" r="3.3"/><circle cx="966" cy="1856" r="3.3"/><circle cx="928" cy="1827" r="3.3"/><circle cx="898" cy="1823" r="3.3"/><circle cx="897" cy="1786" r="3.3"/><circle cx="946" cy="1846" r="3.3"/><circle cx="964" cy="1858" r="3.3"/><circle cx="868" cy="1678" r="3.3"/><circle cx="936" cy="1835" r="3.3"/><circle cx="927" cy="1842" r="3.3"/><circle cx="911" cy="1843" r="3.3"/><circle cx="941" cy="1842" r="3.3"/><circle cx="920" cy="1784" r="3.3"/><circle cx="935" cy="1843" r="3.3"/><circle cx="949" cy="1852" r="3.3"/><circle cx="923" cy="1798" r="3.3"/><circle cx="932" cy="1816" r="3.3"/><circle cx="927" cy="1822" r="3.3"/><circle cx="920" cy="1836" r="3.3"/><circle cx="949" cy="1853" r="3.3"/><circle cx="961" cy="1857" r="3.3"/><circle cx="970" cy="1858" r="3.3"/><circle cx="898" cy="1801" r="3.3"/><circle cx="927" cy="1843" r="3.3"/><circle cx="954" cy="1854" r="3.3"/><circle cx="958" cy="1854" r="3.3"/><circle cx="924" cy="1823" r="3.3"/><circle cx="905" cy="1811" r="3.3"/><circle cx="870" cy="1722" r="3.3"/><circle cx="936" cy="1828" r="3.3"/><circle cx="971" cy="1858" r="3.3"/><circle cx="947" cy="1849" r="3.3"/><circle cx="970" cy="1857" r="3.3"/><circle cx="927" cy="1838" r="3.3"/><circle cx="965" cy="1854" r="3.3"/><circle cx="908" cy="1796" r="3.3"/><circle cx="925" cy="1817" r="3.3"/><circle cx="950" cy="1838" r="3.3"/><circle cx="948" cy="1832" r="3.3"/><circle cx="956" cy="1849" r="3.3"/><circle cx="924" cy="1831" r="3.3"/><circle cx="941" cy="1800" r="3.3"/><circle cx="942" cy="1833" r="3.3"/><circle cx="953" cy="1842" r="3.3"/><circle cx="935" cy="1832" r="3.3"/><circle cx="970" cy="1857" r="3.3"/><circle cx="954" cy="1838" r="3.3"/><circle cx="951" cy="1854" r="3.3"/><circle cx="925" cy="1844" r="3.3"/><circle cx="928" cy="1814" r="3.3"/><circle cx="895" cy="1809" r="3.3"/><circle cx="906" cy="1779" r="3.3"/><circle cx="953" cy="1856" r="3.3"/><circle cx="940" cy="1816" r="3.3"/><circle cx="932" cy="1841" r="3.3"/><circle cx="962" cy="1858" r="3.3"/><circle cx="949" cy="1853" r="3.3"/><circle cx="942" cy="1846" r="3.3"/><circle cx="915" cy="1744" r="3.3"/><circle cx="924" cy="1803" r="3.3"/><circle cx="938" cy="1809" r="3.3"/><circle cx="925" cy="1847" r="3.3"/><circle cx="968" cy="1858" r="3.3"/><circle cx="913" cy="1815" r="3.3"/><circle cx="930" cy="1832" r="3.3"/><circle cx="899" cy="1806" r="3.3"/><circle cx="961" cy="1857" r="3.3"/><circle cx="859" cy="1783" r="3.3"/><circle cx="943" cy="1835" r="3.3"/><circle cx="929" cy="1836" r="3.3"/><circle cx="939" cy="1805" r="3.3"/><circle cx="967" cy="1858" r="3.3"/><circle cx="931" cy="1825" r="3.3"/><circle cx="945" cy="1834" r="3.3"/><circle cx="905" cy="1825" r="3.3"/><circle cx="929" cy="1839" r="3.3"/><circle cx="947" cy="1820" r="3.3"/><circle cx="950" cy="1854" r="3.3"/><circle cx="932" cy="1836" r="3.3"/><circle cx="952" cy="1853" r="3.3"/><circle cx="926" cy="1808" r="3.3"/><circle cx="951" cy="1851" r="3.3"/><circle cx="962" cy="1848" r="3.3"/><circle cx="943" cy="1843" r="3.3"/><circle cx="949" cy="1835" r="3.3"/><circle cx="925" cy="1794" r="3.3"/><circle cx="944" cy="1829" r="3.3"/><circle cx="939" cy="1843" r="3.3"/><circle cx="936" cy="1818" r="3.3"/><circle cx="903" cy="1835" r="3.3"/><circle cx="938" cy="1849" r="3.3"/><circle cx="843" cy="1783" r="3.3"/><circle cx="961" cy="1852" r="3.3"/><circle cx="944" cy="1741" r="3.3"/><circle cx="959" cy="1851" r="3.3"/><circle cx="935" cy="1833" r="3.3"/><circle cx="946" cy="1818" r="3.3"/><circle cx="948" cy="1854" r="3.3"/><circle cx="859" cy="1801" r="3.3"/><circle cx="930" cy="1817" r="3.3"/><circle cx="940" cy="1837" r="3.3"/><circle cx="930" cy="1795" r="3.3"/><circle cx="942" cy="1819" r="3.3"/><circle cx="950" cy="1845" r="3.3"/><circle cx="949" cy="1855" r="3.3"/><circle cx="947" cy="1853" r="3.3"/><circle cx="930" cy="1836" r="3.3"/><circle cx="883" cy="1787" r="3.3"/><circle cx="939" cy="1834" r="3.3"/><circle cx="965" cy="1858" r="3.3"/><circle cx="876" cy="1683" r="3.3"/><circle cx="954" cy="1854" r="3.3"/><circle cx="933" cy="1843" r="3.3"/><circle cx="958" cy="1851" r="3.3"/><circle cx="846" cy="1792" r="3.3"/><circle cx="952" cy="1856" r="3.3"/><circle cx="964" cy="1858" r="3.3"/><circle cx="945" cy="1834" r="3.3"/><circle cx="911" cy="1844" r="3.3"/><circle cx="945" cy="1845" r="3.3"/><circle cx="959" cy="1852" r="3.3"/><circle cx="945" cy="1843" r="3.3"/><circle cx="942" cy="1851" r="3.3"/><circle cx="899" cy="1798" r="3.3"/><circle cx="932" cy="1798" r="3.3"/><circle cx="951" cy="1849" r="3.3"/><circle cx="951" cy="1848" r="3.3"/><circle cx="940" cy="1842" r="3.3"/><circle cx="951" cy="1845" r="3.3"/><circle cx="940" cy="1846" r="3.3"/><circle cx="901" cy="1813" r="3.3"/><circle cx="964" cy="1858" r="3.3"/><circle cx="945" cy="1824" r="3.3"/><circle cx="965" cy="1858" r="3.3"/><circle cx="943" cy="1853" r="3.3"/><circle cx="943" cy="1852" r="3.3"/><circle cx="936" cy="1811" r="3.3"/><circle cx="953" cy="1846" r="3.3"/><circle cx="904" cy="1776" r="3.3"/><circle cx="962" cy="1853" r="3.3"/><circle cx="939" cy="1849" r="3.3"/><circle cx="920" cy="1839" r="3.3"/><circle cx="956" cy="1845" r="3.3"/><circle cx="876" cy="1735" r="3.3"/><circle cx="943" cy="1850" r="3.3"/><circle cx="948" cy="1825" r="3.3"/><circle cx="954" cy="1855" r="3.3"/><circle cx="852" cy="1785" r="3.3"/><circle cx="898" cy="1768" r="3.3"/><circle cx="933" cy="1852" r="3.3"/><circle cx="940" cy="1834" r="3.3"/><circle cx="927" cy="1838" r="3.3"/><circle cx="944" cy="1849" r="3.3"/><circle cx="922" cy="1824" r="3.3"/><circle cx="917" cy="1761" r="3.3"/><circle cx="926" cy="1829" r="3.3"/><circle cx="912" cy="1826" r="3.3"/><circle cx="922" cy="1830" r="3.3"/><circle cx="949" cy="1854" r="3.3"/><circle cx="945" cy="1851" r="3.3"/><circle cx="893" cy="1788" r="3.3"/><circle cx="970" cy="1858" r="3.3"/><circle cx="929" cy="1829" r="3.3"/><circle cx="969" cy="1858" r="3.3"/><circle cx="909" cy="1828" r="3.3"/><circle cx="957" cy="1856" r="3.3"/><circle cx="940" cy="1851" r="3.3"/><circle cx="909" cy="1829" r="3.3"/><circle cx="918" cy="1776" r="3.3"/><circle cx="929" cy="1831" r="3.3"/><circle cx="935" cy="1815" r="3.3"/><circle cx="971" cy="1858" r="3.3"/><circle cx="911" cy="1817" r="3.3"/><circle cx="955" cy="1855" r="3.3"/><circle cx="965" cy="1855" r="3.3"/><circle cx="945" cy="1854" r="3.3"/><circle cx="971" cy="1858" r="3.3"/><circle cx="971" cy="1858" r="3.3"/><circle cx="945" cy="1845" r="3.3"/><circle cx="929" cy="1773" r="3.3"/><circle cx="942" cy="1852" r="3.3"/><circle cx="901" cy="1702" r="3.3"/><circle cx="863" cy="1785" r="3.3"/><circle cx="963" cy="1857" r="3.3"/><circle cx="961" cy="1857" r="3.3"/><circle cx="961" cy="1854" r="3.3"/><circle cx="923" cy="1826" r="3.3"/><circle cx="959" cy="1831" r="3.3"/><circle cx="952" cy="1841" r="3.3"/><circle cx="862" cy="1786" r="3.3"/><circle cx="864" cy="1793" r="3.3"/><circle cx="958" cy="1851" r="3.3"/><circle cx="941" cy="1850" r="3.3"/><circle cx="943" cy="1838" r="3.3"/><circle cx="948" cy="1847" r="3.3"/><circle cx="897" cy="1809" r="3.3"/><circle cx="970" cy="1858" r="3.3"/><circle cx="942" cy="1820" r="3.3"/><circle cx="944" cy="1834" r="3.3"/><circle cx="953" cy="1855" r="3.3"/><circle cx="941" cy="1851" r="3.3"/><circle cx="952" cy="1844" r="3.3"/><circle cx="948" cy="1837" r="3.3"/><circle cx="909" cy="1791" r="3.3"/><circle cx="955" cy="1843" r="3.3"/><circle cx="922" cy="1831" r="3.3"/><circle cx="958" cy="1856" r="3.3"/><circle cx="970" cy="1858" r="3.3"/><circle cx="945" cy="1852" r="3.3"/><circle cx="936" cy="1818" r="3.3"/><circle cx="971" cy="1858" r="3.3"/><circle cx="944" cy="1853" r="3.3"/><circle cx="957" cy="1848" r="3.3"/><circle cx="956" cy="1846" r="3.3"/><circle cx="939" cy="1807" r="3.3"/><circle cx="859" cy="1723" r="3.3"/><circle cx="966" cy="1856" r="3.3"/><circle cx="969" cy="1858" r="3.3"/><circle cx="847" cy="1747" r="3.3"/><circle cx="960" cy="1853" r="3.3"/><circle cx="934" cy="1817" r="3.3"/><circle cx="937" cy="1853" r="3.3"/><circle cx="961" cy="1858" r="3.3"/><circle cx="917" cy="1830" r="3.3"/><circle cx="961" cy="1852" r="3.3"/><circle cx="959" cy="1856" r="3.3"/><circle cx="968" cy="1858" r="3.3"/><circle cx="930" cy="1843" r="3.3"/><circle cx="953" cy="1855" r="3.3"/><circle cx="952" cy="1844" r="3.3"/><circle cx="971" cy="1858" r="3.3"/><circle cx="928" cy="1839" r="3.3"/><circle cx="941" cy="1826" r="3.3"/><circle cx="950" cy="1847" r="3.3"/><circle cx="941" cy="1810" r="3.3"/><circle cx="954" cy="1857" r="3.3"/><circle cx="941" cy="1850" r="3.3"/><circle cx="955" cy="1850" r="3.3"/><circle cx="914" cy="1801" r="3.3"/><circle cx="955" cy="1857" r="3.3"/><circle cx="883" cy="1759" r="3.3"/><circle cx="906" cy="1783" r="3.3"/><circle cx="946" cy="1855" r="3.3"/><circle cx="946" cy="1846" r="3.3"/><circle cx="891" cy="1693" r="3.3"/><circle cx="935" cy="1836" r="3.3"/><circle cx="927" cy="1823" r="3.3"/><circle cx="922" cy="1823" r="3.3"/><circle cx="928" cy="1846" r="3.3"/><circle cx="895" cy="1832" r="3.3"/><circle cx="920" cy="1800" r="3.3"/><circle cx="952" cy="1844" r="3.3"/><circle cx="939" cy="1846" r="3.3"/><circle cx="962" cy="1857" r="3.3"/><circle cx="943" cy="1839" r="3.3"/><circle cx="941" cy="1837" r="3.3"/><circle cx="971" cy="1858" r="3.3"/><circle cx="925" cy="1850" r="3.3"/><circle cx="909" cy="1845" r="3.3"/><circle cx="967" cy="1858" r="3.3"/><circle cx="878" cy="1763" r="3.3"/><circle cx="923" cy="1837" r="3.3"/><circle cx="925" cy="1818" r="3.3"/><circle cx="942" cy="1825" r="3.3"/><circle cx="956" cy="1846" r="3.3"/><circle cx="970" cy="1858" r="3.3"/><circle cx="877" cy="1805" r="3.3"/><circle cx="929" cy="1837" r="3.3"/><circle cx="828" cy="1735" r="3.3"/><circle cx="854" cy="1829" r="3.3"/><circle cx="918" cy="1830" r="3.3"/><circle cx="887" cy="1761" r="3.3"/><circle cx="938" cy="1821" r="3.3"/><circle cx="959" cy="1851" r="3.3"/><circle cx="920" cy="1819" r="3.3"/><circle cx="953" cy="1856" r="3.3"/><circle cx="963" cy="1853" r="3.3"/><circle cx="961" cy="1852" r="3.3"/><circle cx="940" cy="1829" r="3.3"/><circle cx="910" cy="1838" r="3.3"/><circle cx="966" cy="1856" r="3.3"/><circle cx="942" cy="1855" r="3.3"/><circle cx="963" cy="1853" r="3.3"/><circle cx="842" cy="1780" r="3.3"/><circle cx="955" cy="1857" r="3.3"/><circle cx="851" cy="1811" r="3.3"/><circle cx="950" cy="1845" r="3.3"/><circle cx="893" cy="1778" r="3.3"/><circle cx="951" cy="1844" r="3.3"/><circle cx="924" cy="1830" r="3.3"/><circle cx="957" cy="1856" r="3.3"/><circle cx="942" cy="1854" r="3.3"/><circle cx="907" cy="1820" r="3.3"/><circle cx="938" cy="1845" r="3.3"/><circle cx="931" cy="1844" r="3.3"/><circle cx="932" cy="1816" r="3.3"/><circle cx="937" cy="1816" r="3.3"/><circle cx="960" cy="1844" r="3.3"/><circle cx="913" cy="1840" r="3.3"/><circle cx="944" cy="1829" r="3.3"/><circle cx="956" cy="1845" r="3.3"/><circle cx="941" cy="1851" r="3.3"/><circle cx="921" cy="1812" r="3.3"/><circle cx="905" cy="1829" r="3.3"/><circle cx="964" cy="1854" r="3.3"/><circle cx="928" cy="1839" r="3.3"/><circle cx="906" cy="1791" r="3.3"/><circle cx="937" cy="1847" r="3.3"/><circle cx="958" cy="1850" r="3.3"/><circle cx="939" cy="1828" r="3.3"/><circle cx="932" cy="1840" r="3.3"/><circle cx="878" cy="1769" r="3.3"/><circle cx="881" cy="1809" r="3.3"/><circle cx="912" cy="1758" r="3.3"/><circle cx="857" cy="1780" r="3.3"/><circle cx="968" cy="1858" r="3.3"/><circle cx="934" cy="1841" r="3.3"/><circle cx="953" cy="1855" r="3.3"/><circle cx="927" cy="1842" r="3.3"/><circle cx="878" cy="1793" r="3.3"/><circle cx="920" cy="1835" r="3.3"/><circle cx="938" cy="1834" r="3.3"/><circle cx="911" cy="1746" r="3.3"/><circle cx="938" cy="1846" r="3.3"/><circle cx="886" cy="1802" r="3.3"/><circle cx="926" cy="1842" r="3.3"/><circle cx="937" cy="1844" r="3.3"/><circle cx="889" cy="1822" r="3.3"/><circle cx="875" cy="1827" r="3.3"/><circle cx="931" cy="1848" r="3.3"/><circle cx="868" cy="1776" r="3.3"/><circle cx="932" cy="1838" r="3.3"/><circle cx="944" cy="1837" r="3.3"/><circle cx="911" cy="1786" r="3.3"/><circle cx="930" cy="1835" r="3.3"/><circle cx="957" cy="1857" r="3.3"/><circle cx="903" cy="1812" r="3.3"/><circle cx="939" cy="1834" r="3.3"/><circle cx="935" cy="1849" r="3.3"/><circle cx="946" cy="1842" r="3.3"/><circle cx="905" cy="1821" r="3.3"/><circle cx="898" cy="1727" r="3.3"/><circle cx="924" cy="1799" r="3.3"/><circle cx="927" cy="1828" r="3.3"/><circle cx="957" cy="1856" r="3.3"/><circle cx="944" cy="1829" r="3.3"/><circle cx="960" cy="1857" r="3.3"/><circle cx="921" cy="1826" r="3.3"/><circle cx="945" cy="1836" r="3.3"/><circle cx="942" cy="1853" r="3.3"/><circle cx="971" cy="1858" r="3.3"/><circle cx="909" cy="1831" r="3.3"/><circle cx="911" cy="1815" r="3.3"/><circle cx="956" cy="1841" r="3.3"/><circle cx="904" cy="1752" r="3.3"/><circle cx="915" cy="1815" r="3.3"/><circle cx="942" cy="1840" r="3.3"/><circle cx="941" cy="1853" r="3.3"/><circle cx="893" cy="1810" r="3.3"/><circle cx="936" cy="1849" r="3.3"/><circle cx="956" cy="1848" r="3.3"/><circle cx="902" cy="1824" r="3.3"/><circle cx="889" cy="1776" r="3.3"/><circle cx="879" cy="1725" r="3.3"/><circle cx="949" cy="1841" r="3.3"/><circle cx="897" cy="1832" r="3.3"/><circle cx="925" cy="1825" r="3.3"/><circle cx="945" cy="1837" r="3.3"/><circle cx="931" cy="1822" r="3.3"/><circle cx="962" cy="1858" r="3.3"/><circle cx="939" cy="1839" r="3.3"/><circle cx="944" cy="1845" r="3.3"/><circle cx="887" cy="1821" r="3.3"/><circle cx="943" cy="1835" r="3.3"/><circle cx="895" cy="1816" r="3.3"/><circle cx="891" cy="1825" r="3.3"/><circle cx="928" cy="1813" r="3.3"/><circle cx="938" cy="1849" r="3.3"/><circle cx="907" cy="1766" r="3.3"/><circle cx="901" cy="1828" r="3.3"/><circle cx="873" cy="1780" r="3.3"/><circle cx="953" cy="1856" r="3.3"/><circle cx="948" cy="1854" r="3.3"/><circle cx="932" cy="1842" r="3.3"/><circle cx="927" cy="1829" r="3.3"/><circle cx="970" cy="1857" r="3.3"/><circle cx="938" cy="1819" r="3.3"/><circle cx="915" cy="1819" r="3.3"/><circle cx="928" cy="1837" r="3.3"/><circle cx="967" cy="1856" r="3.3"/><circle cx="950" cy="1843" r="3.3"/><circle cx="934" cy="1846" r="3.3"/><circle cx="947" cy="1843" r="3.3"/><circle cx="935" cy="1821" r="3.3"/><circle cx="933" cy="1842" r="3.3"/><circle cx="941" cy="1828" r="3.3"/><circle cx="916" cy="1826" r="3.3"/><circle cx="940" cy="1852" r="3.3"/><circle cx="926" cy="1768" r="3.3"/><circle cx="932" cy="1835" r="3.3"/><circle cx="913" cy="1794" r="3.3"/><circle cx="950" cy="1825" r="3.3"/><circle cx="934" cy="1851" r="3.3"/><circle cx="914" cy="1807" r="3.3"/><circle cx="884" cy="1741" r="3.3"/><circle cx="910" cy="1819" r="3.3"/><circle cx="960" cy="1857" r="3.3"/><circle cx="905" cy="1797" r="3.3"/><circle cx="938" cy="1840" r="3.3"/><circle cx="920" cy="1843" r="3.3"/><circle cx="938" cy="1849" r="3.3"/><circle cx="937" cy="1822" r="3.3"/><circle cx="958" cy="1857" r="3.3"/><circle cx="967" cy="1855" r="3.3"/><circle cx="907" cy="1827" r="3.3"/><circle cx="971" cy="1857" r="3.3"/><circle cx="868" cy="1694" r="3.3"/><circle cx="941" cy="1826" r="3.3"/><circle cx="932" cy="1807" r="3.3"/><circle cx="940" cy="1845" r="3.3"/><circle cx="929" cy="1830" r="3.3"/><circle cx="919" cy="1776" r="3.3"/><circle cx="909" cy="1771" r="3.3"/><circle cx="950" cy="1855" r="3.3"/><circle cx="939" cy="1851" r="3.3"/><circle cx="961" cy="1858" r="3.3"/><circle cx="954" cy="1841" r="3.3"/><circle cx="967" cy="1856" r="3.3"/><circle cx="940" cy="1838" r="3.3"/><circle cx="952" cy="1856" r="3.3"/><circle cx="916" cy="1800" r="3.3"/><circle cx="925" cy="1823" r="3.3"/><circle cx="901" cy="1816" r="3.3"/><circle cx="889" cy="1839" r="3.3"/><circle cx="959" cy="1850" r="3.3"/><circle cx="938" cy="1845" r="3.3"/><circle cx="873" cy="1769" r="3.3"/><circle cx="928" cy="1828" r="3.3"/><circle cx="940" cy="1837" r="3.3"/><circle cx="916" cy="1809" r="3.3"/><circle cx="912" cy="1795" r="3.3"/><circle cx="968" cy="1857" r="3.3"/><circle cx="951" cy="1856" r="3.3"/><circle cx="923" cy="1824" r="3.3"/><circle cx="938" cy="1840" r="3.3"/><circle cx="936" cy="1847" r="3.3"/><circle cx="915" cy="1816" r="3.3"/><circle cx="943" cy="1845" r="3.3"/><circle cx="902" cy="1789" r="3.3"/><circle cx="947" cy="1853" r="3.3"/><circle cx="930" cy="1799" r="3.3"/><circle cx="946" cy="1855" r="3.3"/><circle cx="932" cy="1794" r="3.3"/><circle cx="911" cy="1833" r="3.3"/><circle cx="935" cy="1853" r="3.3"/><circle cx="907" cy="1827" r="3.3"/><circle cx="925" cy="1804" r="3.3"/><circle cx="909" cy="1803" r="3.3"/><circle cx="961" cy="1850" r="3.3"/><circle cx="952" cy="1815" r="3.3"/><circle cx="963" cy="1853" r="3.3"/><circle cx="881" cy="1776" r="3.3"/><circle cx="968" cy="1858" r="3.3"/><circle cx="952" cy="1838" r="3.3"/><circle cx="948" cy="1855" r="3.3"/><circle cx="924" cy="1794" r="3.3"/><circle cx="926" cy="1822" r="3.3"/><circle cx="923" cy="1830" r="3.3"/><circle cx="928" cy="1813" r="3.3"/><circle cx="927" cy="1835" r="3.3"/><circle cx="936" cy="1831" r="3.3"/><circle cx="915" cy="1826" r="3.3"/><circle cx="930" cy="1825" r="3.3"/><circle cx="960" cy="1857" r="3.3"/><circle cx="957" cy="1847" r="3.3"/><circle cx="920" cy="1805" r="3.3"/><circle cx="943" cy="1827" r="3.3"/><circle cx="951" cy="1836" r="3.3"/><circle cx="823" cy="1842" r="3.3"/><circle cx="965" cy="1855" r="3.3"/><circle cx="904" cy="1820" r="3.3"/><circle cx="926" cy="1815" r="3.3"/><circle cx="936" cy="1816" r="3.3"/><circle cx="944" cy="1835" r="3.3"/><circle cx="919" cy="1778" r="3.3"/><circle cx="926" cy="1840" r="3.3"/><circle cx="934" cy="1841" r="3.3"/><circle cx="908" cy="1720" r="3.3"/><circle cx="966" cy="1855" r="3.3"/><circle cx="943" cy="1796" r="3.3"/><circle cx="887" cy="1783" r="3.3"/><circle cx="927" cy="1852" r="3.3"/><circle cx="950" cy="1856" r="3.3"/><circle cx="933" cy="1812" r="3.3"/><circle cx="902" cy="1813" r="3.3"/><circle cx="921" cy="1830" r="3.3"/><circle cx="917" cy="1823" r="3.3"/><circle cx="929" cy="1820" r="3.3"/><circle cx="952" cy="1835" r="3.3"/><circle cx="925" cy="1819" r="3.3"/><circle cx="940" cy="1829" r="3.3"/><circle cx="937" cy="1830" r="3.3"/><circle cx="915" cy="1790" r="3.3"/><circle cx="936" cy="1814" r="3.3"/><circle cx="904" cy="1773" r="3.3"/><circle cx="904" cy="1755" r="3.3"/><circle cx="923" cy="1796" r="3.3"/><circle cx="898" cy="1823" r="3.3"/><circle cx="956" cy="1835" r="3.3"/><circle cx="895" cy="1831" r="3.3"/><circle cx="903" cy="1796" r="3.3"/><circle cx="864" cy="1743" r="3.3"/><circle cx="914" cy="1828" r="3.3"/><circle cx="924" cy="1820" r="3.3"/><circle cx="938" cy="1849" r="3.3"/><circle cx="938" cy="1829" r="3.3"/><circle cx="934" cy="1848" r="3.3"/><circle cx="946" cy="1839" r="3.3"/><circle cx="893" cy="1846" r="3.3"/><circle cx="916" cy="1807" r="3.3"/><circle cx="915" cy="1841" r="3.3"/><circle cx="933" cy="1830" r="3.3"/><circle cx="875" cy="1802" r="3.3"/><circle cx="915" cy="1833" r="3.3"/><circle cx="926" cy="1811" r="3.3"/><circle cx="914" cy="1820" r="3.3"/><circle cx="911" cy="1848" r="3.3"/><circle cx="865" cy="1762" r="3.3"/><circle cx="921" cy="1777" r="3.3"/><circle cx="946" cy="1855" r="3.3"/><circle cx="956" cy="1844" r="3.3"/><circle cx="877" cy="1833" r="3.3"/><circle cx="865" cy="1738" r="3.3"/><circle cx="954" cy="1845" r="3.3"/><circle cx="926" cy="1835" r="3.3"/><circle cx="958" cy="1850" r="3.3"/><circle cx="924" cy="1819" r="3.3"/><circle cx="919" cy="1818" r="3.3"/><circle cx="862" cy="1750" r="3.3"/><circle cx="937" cy="1848" r="3.3"/><circle cx="910" cy="1838" r="3.3"/><circle cx="971" cy="1858" r="3.3"/><circle cx="912" cy="1806" r="3.3"/><circle cx="919" cy="1817" r="3.3"/><circle cx="845" cy="1771" r="3.3"/><circle cx="905" cy="1794" r="3.3"/><circle cx="878" cy="1759" r="3.3"/><circle cx="840" cy="1801" r="3.3"/><circle cx="934" cy="1832" r="3.3"/><circle cx="933" cy="1833" r="3.3"/><circle cx="925" cy="1834" r="3.3"/><circle cx="885" cy="1819" r="3.3"/><circle cx="936" cy="1845" r="3.3"/><circle cx="952" cy="1838" r="3.3"/><circle cx="953" cy="1832" r="3.3"/><circle cx="885" cy="1803" r="3.3"/><circle cx="904" cy="1802" r="3.3"/><circle cx="890" cy="1810" r="3.3"/><circle cx="920" cy="1844" r="3.3"/><circle cx="933" cy="1840" r="3.3"/><circle cx="947" cy="1855" r="3.3"/><circle cx="949" cy="1857" r="3.3"/><circle cx="915" cy="1786" r="3.3"/><circle cx="947" cy="1828" r="3.3"/><circle cx="939" cy="1817" r="3.3"/><circle cx="934" cy="1835" r="3.3"/><circle cx="925" cy="1833" r="3.3"/><circle cx="889" cy="1804" r="3.3"/><circle cx="961" cy="1857" r="3.3"/><circle cx="946" cy="1837" r="3.3"/><circle cx="933" cy="1811" r="3.3"/><circle cx="957" cy="1848" r="3.3"/><circle cx="945" cy="1835" r="3.3"/><circle cx="934" cy="1835" r="3.3"/><circle cx="919" cy="1842" r="3.3"/><circle cx="959" cy="1849" r="3.3"/><circle cx="933" cy="1829" r="3.3"/><circle cx="971" cy="1858" r="3.3"/><circle cx="970" cy="1857" r="3.3"/><circle cx="859" cy="1808" r="3.3"/><circle cx="872" cy="1778" r="3.3"/><circle cx="942" cy="1854" r="3.3"/><circle cx="962" cy="1853" r="3.3"/><circle cx="945" cy="1827" r="3.3"/><circle cx="938" cy="1849" r="3.3"/><circle cx="900" cy="1770" r="3.3"/><circle cx="928" cy="1807" r="3.3"/><circle cx="925" cy="1818" r="3.3"/><circle cx="932" cy="1829" r="3.3"/><circle cx="936" cy="1847" r="3.3"/><circle cx="941" cy="1821" r="3.3"/><circle cx="831" cy="1723" r="3.3"/><circle cx="930" cy="1844" r="3.3"/><circle cx="910" cy="1843" r="3.3"/><circle cx="927" cy="1816" r="3.3"/><circle cx="955" cy="1831" r="3.3"/><circle cx="878" cy="1805" r="3.3"/><circle cx="953" cy="1844" r="3.3"/><circle cx="873" cy="1819" r="3.3"/><circle cx="935" cy="1835" r="3.3"/><circle cx="951" cy="1855" r="3.3"/><circle cx="902" cy="1759" r="3.3"/><circle cx="898" cy="1785" r="3.3"/><circle cx="938" cy="1819" r="3.3"/><circle cx="893" cy="1823" r="3.3"/><circle cx="925" cy="1836" r="3.3"/><circle cx="956" cy="1847" r="3.3"/><circle cx="932" cy="1845" r="3.3"/><circle cx="948" cy="1840" r="3.3"/><circle cx="907" cy="1822" r="3.3"/><circle cx="953" cy="1855" r="3.3"/><circle cx="921" cy="1799" r="3.3"/><circle cx="889" cy="1772" r="3.3"/><circle cx="968" cy="1858" r="3.3"/><circle cx="967" cy="1858" r="3.3"/><circle cx="919" cy="1799" r="3.3"/><circle cx="971" cy="1858" r="3.3"/><circle cx="921" cy="1835" r="3.3"/><circle cx="939" cy="1818" r="3.3"/><circle cx="949" cy="1856" r="3.3"/><circle cx="927" cy="1835" r="3.3"/><circle cx="900" cy="1793" r="3.3"/><circle cx="924" cy="1827" r="3.3"/><circle cx="934" cy="1810" r="3.3"/><circle cx="939" cy="1834" r="3.3"/><circle cx="969" cy="1858" r="3.3"/><circle cx="961" cy="1857" r="3.3"/><circle cx="905" cy="1807" r="3.3"/><circle cx="971" cy="1858" r="3.3"/><circle cx="888" cy="1777" r="3.3"/><circle cx="957" cy="1857" r="3.3"/><circle cx="915" cy="1829" r="3.3"/><circle cx="953" cy="1837" r="3.3"/><circle cx="951" cy="1857" r="3.3"/><circle cx="921" cy="1840" r="3.3"/><circle cx="958" cy="1850" r="3.3"/><circle cx="905" cy="1804" r="3.3"/><circle cx="936" cy="1820" r="3.3"/><circle cx="904" cy="1787" r="3.3"/><circle cx="938" cy="1835" r="3.3"/><circle cx="950" cy="1822" r="3.3"/><circle cx="936" cy="1816" r="3.3"/><circle cx="946" cy="1829" r="3.3"/><circle cx="949" cy="1819" r="3.3"/><circle cx="959" cy="1849" r="3.3"/><circle cx="930" cy="1847" r="3.3"/><circle cx="952" cy="1841" r="3.3"/><circle cx="909" cy="1733" r="3.3"/><circle cx="931" cy="1810" r="3.3"/><circle cx="867" cy="1740" r="3.3"/><circle cx="941" cy="1833" r="3.3"/><circle cx="918" cy="1813" r="3.3"/><circle cx="921" cy="1795" r="3.3"/><circle cx="957" cy="1857" r="3.3"/><circle cx="949" cy="1835" r="3.3"/><circle cx="934" cy="1822" r="3.3"/><circle cx="932" cy="1812" r="3.3"/><circle cx="914" cy="1830" r="3.3"/><circle cx="895" cy="1814" r="3.3"/><circle cx="934" cy="1833" r="3.3"/><circle cx="943" cy="1837" r="3.3"/><circle cx="928" cy="1845" r="3.3"/><circle cx="943" cy="1828" r="3.3"/><circle cx="834" cy="1785" r="3.3"/><circle cx="948" cy="1825" r="3.3"/><circle cx="912" cy="1828" r="3.3"/><circle cx="894" cy="1801" r="3.3"/><circle cx="947" cy="1819" r="3.3"/><circle cx="858" cy="1789" r="3.3"/><circle cx="971" cy="1858" r="3.3"/><circle cx="908" cy="1833" r="3.3"/><circle cx="915" cy="1803" r="3.3"/><circle cx="922" cy="1819" r="3.3"/><circle cx="924" cy="1790" r="3.3"/><circle cx="968" cy="1858" r="3.3"/><circle cx="929" cy="1809" r="3.3"/><circle cx="935" cy="1836" r="3.3"/><circle cx="969" cy="1858" r="3.3"/><circle cx="903" cy="1815" r="3.3"/><circle cx="932" cy="1836" r="3.3"/><circle cx="964" cy="1854" r="3.3"/><circle cx="934" cy="1794" r="3.3"/><circle cx="931" cy="1834" r="3.3"/><circle cx="906" cy="1798" r="3.3"/><circle cx="969" cy="1858" r="3.3"/><circle cx="913" cy="1832" r="3.3"/><circle cx="965" cy="1854" r="3.3"/><circle cx="932" cy="1820" r="3.3"/><circle cx="970" cy="1858" r="3.3"/><circle cx="968" cy="1858" r="3.3"/><circle cx="934" cy="1809" r="3.3"/><circle cx="925" cy="1850" r="3.3"/><circle cx="932" cy="1813" r="3.3"/><circle cx="899" cy="1809" r="3.3"/><circle cx="855" cy="1753" r="3.3"/><circle cx="833" cy="1772" r="3.3"/><circle cx="897" cy="1724" r="3.3"/><circle cx="949" cy="1835" r="3.3"/><circle cx="916" cy="1838" r="3.3"/><circle cx="938" cy="1832" r="3.3"/><circle cx="969" cy="1858" r="3.3"/><circle cx="920" cy="1817" r="3.3"/><circle cx="925" cy="1820" r="3.3"/><circle cx="945" cy="1856" r="3.3"/><circle cx="928" cy="1834" r="3.3"/><circle cx="890" cy="1776" r="3.3"/><circle cx="971" cy="1858" r="3.3"/><circle cx="914" cy="1813" r="3.3"/><circle cx="904" cy="1782" r="3.3"/><circle cx="930" cy="1824" r="3.3"/><circle cx="927" cy="1824" r="3.3"/><circle cx="918" cy="1798" r="3.3"/><circle cx="924" cy="1825" r="3.3"/><circle cx="953" cy="1818" r="3.3"/><circle cx="888" cy="1835" r="3.3"/><circle cx="906" cy="1777" r="3.3"/><circle cx="850" cy="1733" r="3.3"/><circle cx="904" cy="1785" r="3.3"/><circle cx="935" cy="1837" r="3.3"/><circle cx="897" cy="1737" r="3.3"/><circle cx="923" cy="1833" r="3.3"/><circle cx="921" cy="1804" r="3.3"/><circle cx="935" cy="1828" r="3.3"/><circle cx="966" cy="1855" r="3.3"/><circle cx="865" cy="1785" r="3.3"/><circle cx="904" cy="1832" r="3.3"/><circle cx="920" cy="1843" r="3.3"/><circle cx="843" cy="1671" r="3.3"/><circle cx="959" cy="1850" r="3.3"/><circle cx="929" cy="1848" r="3.3"/><circle cx="934" cy="1797" r="3.3"/><circle cx="872" cy="1787" r="3.3"/><circle cx="918" cy="1818" r="3.3"/><circle cx="924" cy="1829" r="3.3"/><circle cx="933" cy="1823" r="3.3"/><circle cx="933" cy="1828" r="3.3"/><circle cx="893" cy="1819" r="3.3"/><circle cx="937" cy="1852" r="3.3"/><circle cx="924" cy="1845" r="3.3"/><circle cx="914" cy="1822" r="3.3"/><circle cx="938" cy="1851" r="3.3"/><circle cx="926" cy="1819" r="3.3"/><circle cx="929" cy="1826" r="3.3"/><circle cx="847" cy="1732" r="3.3"/><circle cx="935" cy="1819" r="3.3"/><circle cx="934" cy="1850" r="3.3"/><circle cx="898" cy="1740" r="3.3"/><circle cx="922" cy="1837" r="3.3"/><circle cx="964" cy="1854" r="3.3"/><circle cx="914" cy="1797" r="3.3"/><circle cx="915" cy="1831" r="3.3"/><circle cx="922" cy="1820" r="3.3"/><circle cx="899" cy="1836" r="3.3"/><circle cx="932" cy="1850" r="3.3"/><circle cx="944" cy="1830" r="3.3"/><circle cx="926" cy="1844" r="3.3"/><circle cx="967" cy="1856" r="3.3"/><circle cx="927" cy="1787" r="3.3"/><circle cx="925" cy="1801" r="3.3"/><circle cx="919" cy="1823" r="3.3"/><circle cx="902" cy="1815" r="3.3"/><circle cx="926" cy="1817" r="3.3"/><circle cx="943" cy="1785" r="3.3"/><circle cx="905" cy="1838" r="3.3"/><circle cx="915" cy="1771" r="3.3"/><circle cx="956" cy="1844" r="3.3"/><circle cx="963" cy="1850" r="3.3"/><circle cx="947" cy="1834" r="3.3"/><circle cx="911" cy="1825" r="3.3"/><circle cx="816" cy="1764" r="3.3"/><circle cx="937" cy="1814" r="3.3"/><circle cx="937" cy="1830" r="3.3"/><circle cx="919" cy="1805" r="3.3"/><circle cx="971" cy="1857" r="3.3"/><circle cx="910" cy="1837" r="3.3"/><circle cx="914" cy="1824" r="3.3"/><circle cx="913" cy="1818" r="3.3"/><circle cx="949" cy="1835" r="3.3"/><circle cx="929" cy="1801" r="3.3"/><circle cx="915" cy="1778" r="3.3"/><circle cx="909" cy="1829" r="3.3"/><circle cx="970" cy="1858" r="3.3"/><circle cx="911" cy="1812" r="3.3"/><circle cx="906" cy="1813" r="3.3"/><circle cx="956" cy="1856" r="3.3"/><circle cx="928" cy="1812" r="3.3"/><circle cx="926" cy="1823" r="3.3"/><circle cx="960" cy="1845" r="3.3"/><circle cx="899" cy="1834" r="3.3"/><circle cx="907" cy="1789" r="3.3"/><circle cx="930" cy="1812" r="3.3"/><circle cx="890" cy="1794" r="3.3"/><circle cx="938" cy="1854" r="3.3"/><circle cx="914" cy="1822" r="3.3"/><circle cx="916" cy="1832" r="3.3"/><circle cx="935" cy="1830" r="3.3"/><circle cx="931" cy="1818" r="3.3"/><circle cx="926" cy="1826" r="3.3"/><circle cx="885" cy="1789" r="3.3"/><circle cx="868" cy="1783" r="3.3"/><circle cx="916" cy="1835" r="3.3"/><circle cx="942" cy="1831" r="3.3"/><circle cx="940" cy="1826" r="3.3"/><circle cx="878" cy="1794" r="3.3"/><circle cx="915" cy="1824" r="3.3"/><circle cx="906" cy="1806" r="3.3"/><circle cx="962" cy="1852" r="3.3"/><circle cx="971" cy="1858" r="3.3"/><circle cx="895" cy="1820" r="3.3"/><circle cx="930" cy="1811" r="3.3"/><circle cx="908" cy="1775" r="3.3"/><circle cx="937" cy="1734" r="3.3"/><circle cx="926" cy="1834" r="3.3"/><circle cx="925" cy="1843" r="3.3"/><circle cx="944" cy="1835" r="3.3"/><circle cx="935" cy="1814" r="3.3"/><circle cx="971" cy="1857" r="3.3"/><circle cx="916" cy="1799" r="3.3"/><circle cx="919" cy="1797" r="3.3"/><circle cx="955" cy="1840" r="3.3"/><circle cx="967" cy="1856" r="3.3"/><circle cx="901" cy="1809" r="3.3"/><circle cx="891" cy="1803" r="3.3"/><circle cx="928" cy="1824" r="3.3"/><circle cx="926" cy="1848" r="3.3"/><circle cx="888" cy="1729" r="3.3"/><circle cx="914" cy="1829" r="3.3"/><circle cx="903" cy="1793" r="3.3"/><circle cx="933" cy="1799" r="3.3"/><circle cx="915" cy="1801" r="3.3"/><circle cx="931" cy="1850" r="3.3"/><circle cx="937" cy="1851" r="3.3"/><circle cx="927" cy="1839" r="3.3"/><circle cx="941" cy="1854" r="3.3"/><circle cx="919" cy="1810" r="3.3"/><circle cx="933" cy="1810" r="3.3"/><circle cx="952" cy="1856" r="3.3"/><circle cx="923" cy="1845" r="3.3"/><circle cx="909" cy="1827" r="3.3"/><circle cx="902" cy="1832" r="3.3"/><circle cx="909" cy="1731" r="3.3"/><circle cx="932" cy="1826" r="3.3"/><circle cx="941" cy="1832" r="3.3"/><circle cx="946" cy="1821" r="3.3"/><circle cx="940" cy="1819" r="3.3"/><circle cx="955" cy="1834" r="3.3"/><circle cx="932" cy="1824" r="3.3"/><circle cx="965" cy="1852" r="3.3"/><circle cx="865" cy="1795" r="3.3"/><circle cx="945" cy="1854" r="3.3"/><circle cx="927" cy="1673" r="3.3"/><circle cx="897" cy="1812" r="3.3"/><circle cx="963" cy="1853" r="3.3"/><circle cx="922" cy="1817" r="3.3"/><circle cx="856" cy="1764" r="3.3"/><circle cx="938" cy="1823" r="3.3"/><circle cx="957" cy="1845" r="3.3"/><circle cx="934" cy="1818" r="3.3"/><circle cx="930" cy="1784" r="3.3"/><circle cx="871" cy="1776" r="3.3"/><circle cx="931" cy="1799" r="3.3"/><circle cx="922" cy="1794" r="3.3"/><circle cx="918" cy="1806" r="3.3"/><circle cx="914" cy="1824" r="3.3"/><circle cx="881" cy="1817" r="3.3"/><circle cx="900" cy="1834" r="3.3"/><circle cx="910" cy="1754" r="3.3"/><circle cx="887" cy="1810" r="3.3"/><circle cx="895" cy="1749" r="3.3"/><circle cx="922" cy="1817" r="3.3"/><circle cx="931" cy="1827" r="3.3"/><circle cx="913" cy="1745" r="3.3"/><circle cx="962" cy="1848" r="3.3"/><circle cx="914" cy="1800" r="3.3"/><circle cx="957" cy="1845" r="3.3"/><circle cx="900" cy="1813" r="3.3"/><circle cx="892" cy="1819" r="3.3"/><circle cx="858" cy="1798" r="3.3"/><circle cx="914" cy="1814" r="3.3"/><circle cx="917" cy="1823" r="3.3"/><circle cx="921" cy="1814" r="3.3"/><circle cx="904" cy="1823" r="3.3"/><circle cx="935" cy="1850" r="3.3"/><circle cx="933" cy="1848" r="3.3"/><circle cx="922" cy="1841" r="3.3"/><circle cx="959" cy="1849" r="3.3"/><circle cx="889" cy="1764" r="3.3"/><circle cx="929" cy="1846" r="3.3"/><circle cx="930" cy="1821" r="3.3"/><circle cx="873" cy="1753" r="3.3"/><circle cx="936" cy="1823" r="3.3"/><circle cx="922" cy="1810" r="3.3"/><circle cx="935" cy="1809" r="3.3"/><circle cx="936" cy="1850" r="3.3"/><circle cx="896" cy="1808" r="3.3"/><circle cx="931" cy="1850" r="3.3"/><circle cx="921" cy="1791" r="3.3"/><circle cx="947" cy="1832" r="3.3"/><circle cx="935" cy="1823" r="3.3"/><circle cx="902" cy="1809" r="3.3"/><circle cx="922" cy="1801" r="3.3"/><circle cx="933" cy="1796" r="3.3"/><circle cx="899" cy="1776" r="3.3"/><circle cx="931" cy="1768" r="3.3"/><circle cx="917" cy="1804" r="3.3"/><circle cx="910" cy="1803" r="3.3"/><circle cx="927" cy="1819" r="3.3"/><circle cx="916" cy="1804" r="3.3"/><circle cx="926" cy="1782" r="3.3"/><circle cx="874" cy="1677" r="3.3"/><circle cx="959" cy="1845" r="3.3"/><circle cx="877" cy="1806" r="3.3"/><circle cx="883" cy="1821" r="3.3"/><circle cx="919" cy="1781" r="3.3"/><circle cx="891" cy="1801" r="3.3"/><circle cx="881" cy="1802" r="3.3"/><circle cx="923" cy="1799" r="3.3"/><circle cx="906" cy="1731" r="3.3"/><circle cx="905" cy="1834" r="3.3"/><circle cx="914" cy="1835" r="3.3"/><circle cx="856" cy="1649" r="3.3"/><circle cx="918" cy="1773" r="3.3"/><circle cx="921" cy="1827" r="3.3"/><circle cx="943" cy="1855" r="3.3"/><circle cx="952" cy="1829" r="3.3"/><circle cx="940" cy="1824" r="3.3"/><circle cx="932" cy="1848" r="3.3"/><circle cx="914" cy="1804" r="3.3"/><circle cx="967" cy="1858" r="3.3"/><circle cx="919" cy="1838" r="3.3"/><circle cx="956" cy="1835" r="3.3"/><circle cx="927" cy="1839" r="3.3"/><circle cx="929" cy="1816" r="3.3"/><circle cx="913" cy="1764" r="3.3"/><circle cx="868" cy="1778" r="3.3"/><circle cx="948" cy="1827" r="3.3"/><circle cx="958" cy="1841" r="3.3"/><circle cx="955" cy="1833" r="3.3"/><circle cx="918" cy="1781" r="3.3"/><circle cx="957" cy="1844" r="3.3"/><circle cx="931" cy="1850" r="3.3"/><circle cx="922" cy="1803" r="3.3"/><circle cx="910" cy="1830" r="3.3"/><circle cx="926" cy="1800" r="3.3"/><circle cx="929" cy="1814" r="3.3"/><circle cx="942" cy="1771" r="3.3"/><circle cx="900" cy="1824" r="3.3"/><circle cx="971" cy="1858" r="3.3"/><circle cx="971" cy="1857" r="3.3"/><circle cx="930" cy="1814" r="3.3"/><circle cx="864" cy="1731" r="3.3"/><circle cx="921" cy="1824" r="3.3"/><circle cx="929" cy="1846" r="3.3"/><circle cx="913" cy="1840" r="3.3"/><circle cx="951" cy="1856" r="3.3"/><circle cx="923" cy="1838" r="3.3"/><circle cx="951" cy="1838" r="3.3"/><circle cx="936" cy="1829" r="3.3"/><circle cx="953" cy="1841" r="3.3"/><circle cx="877" cy="1798" r="3.3"/><circle cx="892" cy="1800" r="3.3"/><circle cx="923" cy="1822" r="3.3"/><circle cx="929" cy="1852" r="3.3"/><circle cx="905" cy="1771" r="3.3"/><circle cx="939" cy="1826" r="3.3"/><circle cx="920" cy="1805" r="3.3"/><circle cx="934" cy="1850" r="3.3"/><circle cx="945" cy="1796" r="3.3"/><circle cx="947" cy="1835" r="3.3"/><circle cx="914" cy="1825" r="3.3"/><circle cx="951" cy="1837" r="3.3"/><circle cx="922" cy="1842" r="3.3"/><circle cx="914" cy="1774" r="3.3"/><circle cx="919" cy="1845" r="3.3"/><circle cx="954" cy="1856" r="3.3"/><circle cx="921" cy="1821" r="3.3"/><circle cx="908" cy="1817" r="3.3"/><circle cx="905" cy="1772" r="3.3"/><circle cx="938" cy="1798" r="3.3"/><circle cx="852" cy="1798" r="3.3"/><circle cx="918" cy="1839" r="3.3"/><circle cx="833" cy="1764" r="3.3"/><circle cx="872" cy="1769" r="3.3"/><circle cx="915" cy="1830" r="3.3"/><circle cx="907" cy="1804" r="3.3"/><circle cx="919" cy="1726" r="3.3"/><circle cx="887" cy="1685" r="3.3"/><circle cx="908" cy="1843" r="3.3"/><circle cx="913" cy="1747" r="3.3"/><circle cx="897" cy="1798" r="3.3"/><circle cx="928" cy="1796" r="3.3"/><circle cx="908" cy="1832" r="3.3"/><circle cx="941" cy="1812" r="3.3"/><circle cx="921" cy="1795" r="3.3"/><circle cx="919" cy="1825" r="3.3"/><circle cx="964" cy="1853" r="3.3"/><circle cx="940" cy="1812" r="3.3"/><circle cx="945" cy="1829" r="3.3"/><circle cx="871" cy="1794" r="3.3"/><circle cx="849" cy="1755" r="3.3"/><circle cx="971" cy="1858" r="3.3"/><circle cx="931" cy="1850" r="3.3"/><circle cx="932" cy="1792" r="3.3"/><circle cx="901" cy="1803" r="3.3"/><circle cx="921" cy="1827" r="3.3"/><circle cx="895" cy="1756" r="3.3"/><circle cx="919" cy="1662" r="3.3"/><circle cx="922" cy="1793" r="3.3"/><circle cx="914" cy="1821" r="3.3"/><circle cx="926" cy="1816" r="3.3"/><circle cx="888" cy="1829" r="3.3"/><circle cx="922" cy="1846" r="3.3"/><circle cx="910" cy="1818" r="3.3"/><circle cx="910" cy="1823" r="3.3"/><circle cx="919" cy="1822" r="3.3"/><circle cx="953" cy="1779" r="3.3"/><circle cx="908" cy="1831" r="3.3"/><circle cx="884" cy="1790" r="3.3"/><circle cx="922" cy="1777" r="3.3"/><circle cx="967" cy="1858" r="3.3"/><circle cx="931" cy="1849" r="3.3"/><circle cx="931" cy="1811" r="3.3"/><circle cx="930" cy="1829" r="3.3"/><circle cx="960" cy="1858" r="3.3"/><circle cx="935" cy="1824" r="3.3"/><circle cx="968" cy="1857" r="3.3"/><circle cx="934" cy="1851" r="3.3"/><circle cx="943" cy="1815" r="3.3"/><circle cx="925" cy="1816" r="3.3"/><circle cx="923" cy="1734" r="3.3"/><circle cx="913" cy="1852" r="3.3"/><circle cx="904" cy="1806" r="3.3"/><circle cx="940" cy="1826" r="3.3"/><circle cx="937" cy="1780" r="3.3"/><circle cx="852" cy="1743" r="3.3"/><circle cx="904" cy="1829" r="3.3"/><circle cx="916" cy="1850" r="3.3"/><circle cx="903" cy="1839" r="3.3"/><circle cx="909" cy="1788" r="3.3"/><circle cx="903" cy="1811" r="3.3"/><circle cx="956" cy="1857" r="3.3"/><circle cx="904" cy="1744" r="3.3"/><circle cx="920" cy="1834" r="3.3"/><circle cx="921" cy="1808" r="3.3"/><circle cx="885" cy="1771" r="3.3"/><circle cx="880" cy="1762" r="3.3"/><circle cx="889" cy="1837" r="3.3"/><circle cx="910" cy="1834" r="3.3"/><circle cx="919" cy="1833" r="3.3"/><circle cx="916" cy="1780" r="3.3"/><circle cx="924" cy="1791" r="3.3"/><circle cx="939" cy="1852" r="3.3"/><circle cx="942" cy="1855" r="3.3"/><circle cx="950" cy="1856" r="3.3"/><circle cx="905" cy="1810" r="3.3"/><circle cx="909" cy="1810" r="3.3"/><circle cx="928" cy="1846" r="3.3"/><circle cx="895" cy="1717" r="3.3"/><circle cx="898" cy="1819" r="3.3"/><circle cx="920" cy="1841" r="3.3"/><circle cx="919" cy="1793" r="3.3"/><circle cx="929" cy="1821" r="3.3"/><circle cx="944" cy="1830" r="3.3"/><circle cx="920" cy="1795" r="3.3"/><circle cx="945" cy="1814" r="3.3"/><circle cx="896" cy="1843" r="3.3"/><circle cx="894" cy="1759" r="3.3"/><circle cx="890" cy="1788" r="3.3"/><circle cx="960" cy="1849" r="3.3"/><circle cx="904" cy="1818" r="3.3"/><circle cx="923" cy="1757" r="3.3"/><circle cx="863" cy="1778" r="3.3"/><circle cx="948" cy="1827" r="3.3"/><circle cx="918" cy="1842" r="3.3"/><circle cx="923" cy="1800" r="3.3"/><circle cx="918" cy="1780" r="3.3"/><circle cx="860" cy="1824" r="3.3"/><circle cx="926" cy="1817" r="3.3"/><circle cx="932" cy="1792" r="3.3"/><circle cx="906" cy="1768" r="3.3"/><circle cx="960" cy="1857" r="3.3"/><circle cx="927" cy="1846" r="3.3"/><circle cx="927" cy="1767" r="3.3"/><circle cx="913" cy="1827" r="3.3"/><circle cx="936" cy="1806" r="3.3"/><circle cx="877" cy="1801" r="3.3"/><circle cx="909" cy="1816" r="3.3"/><circle cx="839" cy="1745" r="3.3"/><circle cx="927" cy="1816" r="3.3"/><circle cx="918" cy="1822" r="3.3"/><circle cx="936" cy="1854" r="3.3"/><circle cx="913" cy="1822" r="3.3"/><circle cx="934" cy="1853" r="3.3"/><circle cx="895" cy="1743" r="3.3"/><circle cx="958" cy="1847" r="3.3"/><circle cx="888" cy="1750" r="3.3"/><circle cx="864" cy="1811" r="3.3"/><circle cx="946" cy="1831" r="3.3"/><circle cx="936" cy="1822" r="3.3"/><circle cx="940" cy="1826" r="3.3"/><circle cx="958" cy="1847" r="3.3"/><circle cx="923" cy="1833" r="3.3"/><circle cx="905" cy="1802" r="3.3"/><circle cx="949" cy="1833" r="3.3"/><circle cx="922" cy="1831" r="3.3"/><circle cx="947" cy="1830" r="3.3"/><circle cx="940" cy="1825" r="3.3"/><circle cx="905" cy="1836" r="3.3"/><circle cx="906" cy="1785" r="3.3"/><circle cx="900" cy="1725" r="3.3"/><circle cx="930" cy="1849" r="3.3"/><circle cx="962" cy="1849" r="3.3"/><circle cx="917" cy="1818" r="3.3"/><circle cx="903" cy="1838" r="3.3"/><circle cx="909" cy="1838" r="3.3"/><circle cx="910" cy="1826" r="3.3"/><circle cx="903" cy="1831" r="3.3"/><circle cx="852" cy="1811" r="3.3"/><circle cx="916" cy="1840" r="3.3"/><circle cx="914" cy="1798" r="3.3"/><circle cx="954" cy="1857" r="3.3"/><circle cx="931" cy="1850" r="3.3"/><circle cx="918" cy="1845" r="3.3"/><circle cx="923" cy="1748" r="3.3"/><circle cx="927" cy="1816" r="3.3"/><circle cx="912" cy="1824" r="3.3"/><circle cx="952" cy="1857" r="3.3"/><circle cx="919" cy="1832" r="3.3"/><circle cx="939" cy="1812" r="3.3"/><circle cx="914" cy="1727" r="3.3"/><circle cx="853" cy="1768" r="3.3"/><circle cx="850" cy="1711" r="3.3"/><circle cx="934" cy="1822" r="3.3"/><circle cx="950" cy="1835" r="3.3"/><circle cx="922" cy="1824" r="3.3"/><circle cx="947" cy="1831" r="3.3"/><circle cx="934" cy="1852" r="3.3"/><circle cx="899" cy="1792" r="3.3"/><circle cx="923" cy="1839" r="3.3"/><circle cx="962" cy="1850" r="3.3"/><circle cx="887" cy="1792" r="3.3"/><circle cx="945" cy="1832" r="3.3"/><circle cx="971" cy="1857" r="3.3"/><circle cx="907" cy="1782" r="3.3"/><circle cx="902" cy="1790" r="3.3"/><circle cx="951" cy="1828" r="3.3"/><circle cx="923" cy="1839" r="3.3"/><circle cx="900" cy="1792" r="3.3"/><circle cx="878" cy="1823" r="3.3"/><circle cx="971" cy="1857" r="3.3"/><circle cx="933" cy="1824" r="3.3"/><circle cx="931" cy="1797" r="3.3"/><circle cx="931" cy="1800" r="3.3"/><circle cx="937" cy="1824" r="3.3"/><circle cx="903" cy="1786" r="3.3"/><circle cx="941" cy="1854" r="3.3"/><circle cx="922" cy="1828" r="3.3"/><circle cx="899" cy="1820" r="3.3"/><circle cx="947" cy="1828" r="3.3"/><circle cx="885" cy="1806" r="3.3"/><circle cx="857" cy="1699" r="3.3"/><circle cx="927" cy="1808" r="3.3"/><circle cx="883" cy="1791" r="3.3"/><circle cx="947" cy="1829" r="3.3"/><circle cx="915" cy="1809" r="3.3"/><circle cx="906" cy="1775" r="3.3"/><circle cx="906" cy="1794" r="3.3"/><circle cx="906" cy="1764" r="3.3"/><circle cx="915" cy="1841" r="3.3"/><circle cx="924" cy="1800" r="3.3"/><circle cx="920" cy="1801" r="3.3"/><circle cx="907" cy="1842" r="3.3"/><circle cx="918" cy="1807" r="3.3"/><circle cx="878" cy="1820" r="3.3"/><circle cx="886" cy="1784" r="3.3"/><circle cx="916" cy="1786" r="3.3"/><circle cx="941" cy="1816" r="3.3"/><circle cx="912" cy="1825" r="3.3"/><circle cx="876" cy="1827" r="3.3"/><circle cx="896" cy="1820" r="3.3"/><circle cx="922" cy="1850" r="3.3"/><circle cx="971" cy="1858" r="3.3"/><circle cx="850" cy="1732" r="3.3"/><circle cx="955" cy="1857" r="3.3"/><circle cx="900" cy="1804" r="3.3"/><circle cx="951" cy="1827" r="3.3"/><circle cx="927" cy="1805" r="3.3"/><circle cx="899" cy="1812" r="3.3"/><circle cx="971" cy="1857" r="3.3"/><circle cx="941" cy="1821" r="3.3"/><circle cx="919" cy="1828" r="3.3"/><circle cx="913" cy="1829" r="3.3"/><circle cx="947" cy="1831" r="3.3"/><circle cx="884" cy="1796" r="3.3"/><circle cx="868" cy="1700" r="3.3"/><circle cx="919" cy="1830" r="3.3"/><circle cx="927" cy="1820" r="3.3"/><circle cx="908" cy="1780" r="3.3"/><circle cx="904" cy="1747" r="3.3"/><circle cx="927" cy="1813" r="3.3"/><circle cx="923" cy="1757" r="3.3"/><circle cx="880" cy="1792" r="3.3"/><circle cx="895" cy="1808" r="3.3"/><circle cx="929" cy="1821" r="3.3"/><circle cx="902" cy="1826" r="3.3"/><circle cx="923" cy="1808" r="3.3"/><circle cx="909" cy="1781" r="3.3"/><circle cx="933" cy="1806" r="3.3"/><circle cx="950" cy="1833" r="3.3"/><circle cx="931" cy="1804" r="3.3"/><circle cx="930" cy="1820" r="3.3"/><circle cx="949" cy="1828" r="3.3"/><circle cx="922" cy="1830" r="3.3"/><circle cx="945" cy="1818" r="3.3"/><circle cx="971" cy="1857" r="3.3"/><circle cx="935" cy="1851" r="3.3"/><circle cx="898" cy="1797" r="3.3"/><circle cx="924" cy="1835" r="3.3"/><circle cx="959" cy="1848" r="3.3"/><circle cx="946" cy="1814" r="3.3"/><circle cx="912" cy="1838" r="3.3"/><circle cx="922" cy="1817" r="3.3"/><circle cx="942" cy="1825" r="3.3"/><circle cx="916" cy="1838" r="3.3"/><circle cx="914" cy="1816" r="3.3"/><circle cx="955" cy="1841" r="3.3"/><circle cx="955" cy="1856" r="3.3"/><circle cx="910" cy="1795" r="3.3"/><circle cx="934" cy="1823" r="3.3"/><circle cx="943" cy="1823" r="3.3"/><circle cx="920" cy="1831" r="3.3"/><circle cx="915" cy="1837" r="3.3"/><circle cx="905" cy="1758" r="3.3"/><circle cx="915" cy="1782" r="3.3"/><circle cx="827" cy="1771" r="3.3"/><circle cx="838" cy="1740" r="3.3"/><circle cx="964" cy="1852" r="3.3"/><circle cx="947" cy="1827" r="3.3"/><circle cx="918" cy="1790" r="3.3"/><circle cx="971" cy="1858" r="3.3"/><circle cx="921" cy="1805" r="3.3"/><circle cx="905" cy="1798" r="3.3"/><circle cx="875" cy="1753" r="3.3"/><circle cx="925" cy="1816" r="3.3"/><circle cx="921" cy="1810" r="3.3"/><circle cx="845" cy="1821" r="3.3"/><circle cx="860" cy="1789" r="3.3"/><circle cx="932" cy="1815" r="3.3"/><circle cx="917" cy="1831" r="3.3"/><circle cx="913" cy="1824" r="3.3"/><circle cx="907" cy="1821" r="3.3"/><circle cx="925" cy="1762" r="3.3"/><circle cx="934" cy="1823" r="3.3"/><circle cx="934" cy="1825" r="3.3"/><circle cx="905" cy="1796" r="3.3"/><circle cx="853" cy="1765" r="3.3"/><circle cx="908" cy="1800" r="3.3"/><circle cx="943" cy="1827" r="3.3"/><circle cx="904" cy="1833" r="3.3"/><circle cx="914" cy="1820" r="3.3"/><circle cx="906" cy="1819" r="3.3"/><circle cx="944" cy="1825" r="3.3"/><circle cx="917" cy="1791" r="3.3"/><circle cx="918" cy="1818" r="3.3"/><circle cx="945" cy="1827" r="3.3"/><circle cx="938" cy="1801" r="3.3"/><circle cx="921" cy="1812" r="3.3"/><circle cx="925" cy="1802" r="3.3"/><circle cx="887" cy="1804" r="3.3"/><circle cx="857" cy="1795" r="3.3"/><circle cx="904" cy="1816" r="3.3"/><circle cx="965" cy="1855" r="3.3"/><circle cx="921" cy="1813" r="3.3"/><circle cx="911" cy="1808" r="3.3"/><circle cx="943" cy="1801" r="3.3"/><circle cx="954" cy="1856" r="3.3"/><circle cx="906" cy="1830" r="3.3"/><circle cx="921" cy="1844" r="3.3"/><circle cx="940" cy="1795" r="3.3"/><circle cx="899" cy="1759" r="3.3"/><circle cx="938" cy="1851" r="3.3"/><circle cx="944" cy="1856" r="3.3"/><circle cx="925" cy="1845" r="3.3"/><circle cx="910" cy="1822" r="3.3"/><circle cx="865" cy="1681" r="3.3"/><circle cx="903" cy="1842" r="3.3"/><circle cx="888" cy="1741" r="3.3"/><circle cx="930" cy="1807" r="3.3"/><circle cx="934" cy="1852" r="3.3"/><circle cx="920" cy="1843" r="3.3"/><circle cx="922" cy="1810" r="3.3"/><circle cx="940" cy="1806" r="3.3"/><circle cx="921" cy="1776" r="3.3"/><circle cx="906" cy="1779" r="3.3"/><circle cx="922" cy="1833" r="3.3"/><circle cx="909" cy="1845" r="3.3"/><circle cx="912" cy="1808" r="3.3"/><circle cx="905" cy="1808" r="3.3"/><circle cx="926" cy="1853" r="3.3"/><circle cx="941" cy="1823" r="3.3"/><circle cx="852" cy="1753" r="3.3"/><circle cx="955" cy="1857" r="3.3"/><circle cx="951" cy="1856" r="3.3"/><circle cx="897" cy="1787" r="3.3"/><circle cx="864" cy="1822" r="3.3"/><circle cx="869" cy="1819" r="3.3"/><circle cx="924" cy="1779" r="3.3"/><circle cx="909" cy="1733" r="3.3"/><circle cx="935" cy="1818" r="3.3"/><circle cx="923" cy="1850" r="3.3"/><circle cx="950" cy="1856" r="3.3"/><circle cx="908" cy="1822" r="3.3"/><circle cx="870" cy="1809" r="3.3"/><circle cx="914" cy="1822" r="3.3"/><circle cx="909" cy="1792" r="3.3"/><circle cx="998" cy="1843" r="3.3"/><circle cx="1045" cy="1784" r="3.3"/><circle cx="987" cy="1850" r="3.3"/><circle cx="981" cy="1852" r="3.3"/><circle cx="1015" cy="1797" r="3.3"/><circle cx="988" cy="1834" r="3.3"/><circle cx="993" cy="1846" r="3.3"/><circle cx="971" cy="1858" r="3.3"/><circle cx="979" cy="1856" r="3.3"/><circle cx="992" cy="1846" r="3.3"/><circle cx="1048" cy="1755" r="3.3"/><circle cx="981" cy="1855" r="3.3"/><circle cx="996" cy="1848" r="3.3"/><circle cx="1003" cy="1825" r="3.3"/><circle cx="1042" cy="1823" r="3.3"/><circle cx="979" cy="1856" r="3.3"/><circle cx="1008" cy="1845" r="3.3"/><circle cx="1004" cy="1821" r="3.3"/><circle cx="1012" cy="1824" r="3.3"/><circle cx="985" cy="1854" r="3.3"/><circle cx="980" cy="1854" r="3.3"/><circle cx="985" cy="1854" r="3.3"/><circle cx="992" cy="1839" r="3.3"/><circle cx="984" cy="1851" r="3.3"/><circle cx="1023" cy="1832" r="3.3"/><circle cx="989" cy="1850" r="3.3"/><circle cx="1005" cy="1850" r="3.3"/><circle cx="981" cy="1856" r="3.3"/><circle cx="981" cy="1858" r="3.3"/><circle cx="1006" cy="1849" r="3.3"/><circle cx="972" cy="1857" r="3.3"/><circle cx="988" cy="1856" r="3.3"/><circle cx="1009" cy="1852" r="3.3"/><circle cx="997" cy="1844" r="3.3"/><circle cx="984" cy="1853" r="3.3"/><circle cx="1030" cy="1837" r="3.3"/><circle cx="998" cy="1826" r="3.3"/><circle cx="1025" cy="1808" r="3.3"/><circle cx="971" cy="1858" r="3.3"/><circle cx="985" cy="1853" r="3.3"/><circle cx="1082" cy="1711" r="3.3"/><circle cx="979" cy="1857" r="3.3"/><circle cx="973" cy="1858" r="3.3"/><circle cx="1045" cy="1773" r="3.3"/><circle cx="1006" cy="1802" r="3.3"/><circle cx="985" cy="1856" r="3.3"/><circle cx="1010" cy="1798" r="3.3"/><circle cx="982" cy="1855" r="3.3"/><circle cx="975" cy="1858" r="3.3"/><circle cx="977" cy="1854" r="3.3"/><circle cx="979" cy="1857" r="3.3"/><circle cx="981" cy="1851" r="3.3"/><circle cx="983" cy="1853" r="3.3"/><circle cx="973" cy="1858" r="3.3"/><circle cx="976" cy="1857" r="3.3"/><circle cx="972" cy="1858" r="3.3"/><circle cx="998" cy="1822" r="3.3"/><circle cx="988" cy="1832" r="3.3"/><circle cx="995" cy="1831" r="3.3"/><circle cx="975" cy="1857" r="3.3"/><circle cx="993" cy="1847" r="3.3"/><circle cx="976" cy="1857" r="3.3"/><circle cx="986" cy="1850" r="3.3"/><circle cx="978" cy="1855" r="3.3"/><circle cx="1018" cy="1805" r="3.3"/><circle cx="1006" cy="1830" r="3.3"/><circle cx="1012" cy="1822" r="3.3"/><circle cx="989" cy="1855" r="3.3"/><circle cx="1028" cy="1802" r="3.3"/><circle cx="1067" cy="1730" r="3.3"/><circle cx="1018" cy="1839" r="3.3"/><circle cx="1008" cy="1841" r="3.3"/><circle cx="980" cy="1856" r="3.3"/><circle cx="981" cy="1856" r="3.3"/><circle cx="1013" cy="1843" r="3.3"/><circle cx="997" cy="1852" r="3.3"/><circle cx="998" cy="1842" r="3.3"/><circle cx="1002" cy="1835" r="3.3"/><circle cx="983" cy="1856" r="3.3"/><circle cx="997" cy="1854" r="3.3"/><circle cx="985" cy="1842" r="3.3"/><circle cx="983" cy="1855" r="3.3"/><circle cx="995" cy="1852" r="3.3"/><circle cx="983" cy="1848" r="3.3"/><circle cx="988" cy="1851" r="3.3"/><circle cx="1013" cy="1845" r="3.3"/><circle cx="1055" cy="1785" r="3.3"/><circle cx="1004" cy="1843" r="3.3"/><circle cx="977" cy="1858" r="3.3"/><circle cx="974" cy="1857" r="3.3"/><circle cx="986" cy="1855" r="3.3"/><circle cx="977" cy="1855" r="3.3"/><circle cx="985" cy="1849" r="3.3"/><circle cx="999" cy="1849" r="3.3"/><circle cx="981" cy="1857" r="3.3"/><circle cx="1008" cy="1842" r="3.3"/><circle cx="979" cy="1857" r="3.3"/><circle cx="1017" cy="1799" r="3.3"/><circle cx="1012" cy="1817" r="3.3"/><circle cx="992" cy="1845" r="3.3"/><circle cx="1015" cy="1814" r="3.3"/><circle cx="991" cy="1855" r="3.3"/><circle cx="974" cy="1858" r="3.3"/><circle cx="1032" cy="1810" r="3.3"/><circle cx="974" cy="1858" r="3.3"/><circle cx="996" cy="1846" r="3.3"/><circle cx="1033" cy="1799" r="3.3"/><circle cx="977" cy="1857" r="3.3"/><circle cx="980" cy="1857" r="3.3"/><circle cx="984" cy="1857" r="3.3"/><circle cx="990" cy="1847" r="3.3"/><circle cx="996" cy="1846" r="3.3"/><circle cx="977" cy="1855" r="3.3"/><circle cx="1010" cy="1830" r="3.3"/><circle cx="1026" cy="1810" r="3.3"/><circle cx="990" cy="1852" r="3.3"/><circle cx="989" cy="1855" r="3.3"/><circle cx="1027" cy="1825" r="3.3"/><circle cx="981" cy="1855" r="3.3"/><circle cx="980" cy="1854" r="3.3"/><circle cx="988" cy="1852" r="3.3"/><circle cx="1027" cy="1817" r="3.3"/><circle cx="998" cy="1834" r="3.3"/><circle cx="991" cy="1844" r="3.3"/><circle cx="985" cy="1853" r="3.3"/><circle cx="1011" cy="1805" r="3.3"/><circle cx="1005" cy="1804" r="3.3"/><circle cx="1028" cy="1824" r="3.3"/><circle cx="977" cy="1856" r="3.3"/><circle cx="996" cy="1840" r="3.3"/><circle cx="982" cy="1856" r="3.3"/><circle cx="976" cy="1857" r="3.3"/><circle cx="999" cy="1832" r="3.3"/><circle cx="988" cy="1853" r="3.3"/><circle cx="984" cy="1855" r="3.3"/><circle cx="994" cy="1848" r="3.3"/><circle cx="977" cy="1858" r="3.3"/><circle cx="990" cy="1851" r="3.3"/><circle cx="1004" cy="1835" r="3.3"/><circle cx="987" cy="1843" r="3.3"/><circle cx="981" cy="1856" r="3.3"/><circle cx="985" cy="1848" r="3.3"/><circle cx="1029" cy="1828" r="3.3"/><circle cx="973" cy="1858" r="3.3"/><circle cx="1018" cy="1832" r="3.3"/><circle cx="1011" cy="1838" r="3.3"/><circle cx="993" cy="1843" r="3.3"/><circle cx="984" cy="1844" r="3.3"/><circle cx="982" cy="1855" r="3.3"/><circle cx="992" cy="1845" r="3.3"/><circle cx="980" cy="1850" r="3.3"/><circle cx="1003" cy="1834" r="3.3"/><circle cx="989" cy="1849" r="3.3"/><circle cx="973" cy="1858" r="3.3"/><circle cx="979" cy="1857" r="3.3"/><circle cx="1021" cy="1821" r="3.3"/><circle cx="1003" cy="1834" r="3.3"/><circle cx="1027" cy="1829" r="3.3"/><circle cx="975" cy="1857" r="3.3"/><circle cx="995" cy="1855" r="3.3"/><circle cx="1037" cy="1804" r="3.3"/><circle cx="1039" cy="1785" r="3.3"/><circle cx="997" cy="1841" r="3.3"/><circle cx="1013" cy="1784" r="3.3"/><circle cx="1033" cy="1777" r="3.3"/><circle cx="1026" cy="1813" r="3.3"/><circle cx="983" cy="1854" r="3.3"/><circle cx="979" cy="1857" r="3.3"/><circle cx="990" cy="1838" r="3.3"/><circle cx="1001" cy="1823" r="3.3"/><circle cx="1016" cy="1821" r="3.3"/><circle cx="987" cy="1857" r="3.3"/><circle cx="984" cy="1851" r="3.3"/><circle cx="988" cy="1856" r="3.3"/><circle cx="982" cy="1854" r="3.3"/><circle cx="1030" cy="1821" r="3.3"/><circle cx="995" cy="1850" r="3.3"/><circle cx="1013" cy="1826" r="3.3"/><circle cx="1002" cy="1846" r="3.3"/><circle cx="1000" cy="1835" r="3.3"/><circle cx="1000" cy="1851" r="3.3"/><circle cx="986" cy="1850" r="3.3"/><circle cx="998" cy="1851" r="3.3"/><circle cx="1002" cy="1849" r="3.3"/><circle cx="987" cy="1847" r="3.3"/><circle cx="1001" cy="1850" r="3.3"/><circle cx="974" cy="1857" r="3.3"/><circle cx="997" cy="1854" r="3.3"/><circle cx="990" cy="1845" r="3.3"/><circle cx="997" cy="1852" r="3.3"/><circle cx="995" cy="1843" r="3.3"/><circle cx="978" cy="1856" r="3.3"/><circle cx="982" cy="1857" r="3.3"/><circle cx="1018" cy="1847" r="3.3"/><circle cx="986" cy="1856" r="3.3"/><circle cx="983" cy="1852" r="3.3"/><circle cx="991" cy="1854" r="3.3"/><circle cx="993" cy="1816" r="3.3"/><circle cx="1009" cy="1810" r="3.3"/><circle cx="979" cy="1855" r="3.3"/><circle cx="978" cy="1854" r="3.3"/><circle cx="1035" cy="1830" r="3.3"/><circle cx="979" cy="1857" r="3.3"/><circle cx="986" cy="1854" r="3.3"/><circle cx="1001" cy="1847" r="3.3"/><circle cx="1004" cy="1852" r="3.3"/><circle cx="1019" cy="1838" r="3.3"/><circle cx="973" cy="1858" r="3.3"/><circle cx="1011" cy="1818" r="3.3"/><circle cx="988" cy="1847" r="3.3"/><circle cx="998" cy="1844" r="3.3"/><circle cx="973" cy="1858" r="3.3"/><circle cx="987" cy="1847" r="3.3"/><circle cx="991" cy="1828" r="3.3"/><circle cx="999" cy="1847" r="3.3"/><circle cx="1012" cy="1821" r="3.3"/><circle cx="973" cy="1857" r="3.3"/><circle cx="1000" cy="1845" r="3.3"/><circle cx="991" cy="1846" r="3.3"/><circle cx="974" cy="1858" r="3.3"/><circle cx="981" cy="1857" r="3.3"/><circle cx="987" cy="1855" r="3.3"/><circle cx="989" cy="1823" r="3.3"/><circle cx="1065" cy="1786" r="3.3"/><circle cx="976" cy="1856" r="3.3"/><circle cx="996" cy="1831" r="3.3"/><circle cx="988" cy="1844" r="3.3"/><circle cx="998" cy="1836" r="3.3"/><circle cx="994" cy="1835" r="3.3"/><circle cx="985" cy="1849" r="3.3"/><circle cx="989" cy="1855" r="3.3"/><circle cx="1018" cy="1721" r="3.3"/><circle cx="997" cy="1852" r="3.3"/><circle cx="973" cy="1858" r="3.3"/><circle cx="992" cy="1831" r="3.3"/><circle cx="1005" cy="1792" r="3.3"/><circle cx="1057" cy="1803" r="3.3"/><circle cx="986" cy="1845" r="3.3"/><circle cx="1000" cy="1839" r="3.3"/><circle cx="989" cy="1847" r="3.3"/><circle cx="984" cy="1852" r="3.3"/><circle cx="1042" cy="1780" r="3.3"/><circle cx="977" cy="1858" r="3.3"/><circle cx="1018" cy="1819" r="3.3"/><circle cx="1000" cy="1841" r="3.3"/><circle cx="1008" cy="1821" r="3.3"/><circle cx="997" cy="1834" r="3.3"/><circle cx="990" cy="1852" r="3.3"/><circle cx="976" cy="1858" r="3.3"/><circle cx="994" cy="1851" r="3.3"/><circle cx="1035" cy="1818" r="3.3"/><circle cx="988" cy="1848" r="3.3"/><circle cx="1031" cy="1749" r="3.3"/><circle cx="1006" cy="1835" r="3.3"/><circle cx="977" cy="1858" r="3.3"/><circle cx="1008" cy="1847" r="3.3"/><circle cx="1010" cy="1798" r="3.3"/><circle cx="989" cy="1829" r="3.3"/><circle cx="982" cy="1856" r="3.3"/><circle cx="1061" cy="1785" r="3.3"/><circle cx="990" cy="1849" r="3.3"/><circle cx="1001" cy="1834" r="3.3"/><circle cx="974" cy="1858" r="3.3"/><circle cx="984" cy="1848" r="3.3"/><circle cx="995" cy="1847" r="3.3"/><circle cx="1038" cy="1721" r="3.3"/><circle cx="980" cy="1857" r="3.3"/><circle cx="1014" cy="1842" r="3.3"/><circle cx="990" cy="1854" r="3.3"/><circle cx="996" cy="1838" r="3.3"/><circle cx="975" cy="1858" r="3.3"/><circle cx="994" cy="1850" r="3.3"/><circle cx="1012" cy="1818" r="3.3"/><circle cx="987" cy="1840" r="3.3"/><circle cx="987" cy="1843" r="3.3"/><circle cx="997" cy="1849" r="3.3"/><circle cx="1005" cy="1842" r="3.3"/><circle cx="1044" cy="1823" r="3.3"/><circle cx="988" cy="1855" r="3.3"/><circle cx="989" cy="1853" r="3.3"/><circle cx="1020" cy="1801" r="3.3"/><circle cx="1043" cy="1741" r="3.3"/><circle cx="979" cy="1855" r="3.3"/><circle cx="1020" cy="1807" r="3.3"/><circle cx="983" cy="1852" r="3.3"/><circle cx="995" cy="1846" r="3.3"/><circle cx="976" cy="1855" r="3.3"/><circle cx="985" cy="1851" r="3.3"/><circle cx="995" cy="1837" r="3.3"/><circle cx="995" cy="1836" r="3.3"/><circle cx="1003" cy="1836" r="3.3"/><circle cx="1039" cy="1802" r="3.3"/><circle cx="973" cy="1858" r="3.3"/><circle cx="987" cy="1850" r="3.3"/><circle cx="996" cy="1838" r="3.3"/><circle cx="986" cy="1819" r="3.3"/><circle cx="986" cy="1856" r="3.3"/><circle cx="972" cy="1858" r="3.3"/><circle cx="983" cy="1853" r="3.3"/><circle cx="981" cy="1853" r="3.3"/><circle cx="989" cy="1855" r="3.3"/><circle cx="996" cy="1849" r="3.3"/><circle cx="990" cy="1849" r="3.3"/><circle cx="1044" cy="1750" r="3.3"/><circle cx="1003" cy="1827" r="3.3"/><circle cx="998" cy="1852" r="3.3"/><circle cx="1009" cy="1789" r="3.3"/><circle cx="1044" cy="1745" r="3.3"/><circle cx="985" cy="1856" r="3.3"/><circle cx="987" cy="1837" r="3.3"/><circle cx="1023" cy="1804" r="3.3"/><circle cx="1030" cy="1734" r="3.3"/><circle cx="999" cy="1833" r="3.3"/><circle cx="982" cy="1840" r="3.3"/><circle cx="974" cy="1858" r="3.3"/><circle cx="998" cy="1853" r="3.3"/><circle cx="997" cy="1844" r="3.3"/><circle cx="994" cy="1833" r="3.3"/><circle cx="992" cy="1850" r="3.3"/><circle cx="1017" cy="1841" r="3.3"/><circle cx="973" cy="1858" r="3.3"/><circle cx="1011" cy="1850" r="3.3"/><circle cx="982" cy="1856" r="3.3"/><circle cx="986" cy="1835" r="3.3"/><circle cx="1001" cy="1847" r="3.3"/><circle cx="1045" cy="1828" r="3.3"/><circle cx="1075" cy="1789" r="3.3"/><circle cx="993" cy="1846" r="3.3"/><circle cx="1004" cy="1790" r="3.3"/><circle cx="1025" cy="1799" r="3.3"/><circle cx="984" cy="1846" r="3.3"/><circle cx="1020" cy="1806" r="3.3"/><circle cx="989" cy="1854" r="3.3"/><circle cx="978" cy="1858" r="3.3"/><circle cx="1093" cy="1740" r="3.3"/><circle cx="996" cy="1845" r="3.3"/><circle cx="985" cy="1845" r="3.3"/><circle cx="1012" cy="1789" r="3.3"/><circle cx="999" cy="1816" r="3.3"/><circle cx="1006" cy="1832" r="3.3"/><circle cx="978" cy="1858" r="3.3"/><circle cx="1001" cy="1854" r="3.3"/><circle cx="999" cy="1810" r="3.3"/><circle cx="998" cy="1831" r="3.3"/><circle cx="987" cy="1856" r="3.3"/><circle cx="1009" cy="1834" r="3.3"/><circle cx="993" cy="1851" r="3.3"/><circle cx="1032" cy="1816" r="3.3"/><circle cx="987" cy="1856" r="3.3"/><circle cx="985" cy="1856" r="3.3"/><circle cx="984" cy="1857" r="3.3"/><circle cx="1016" cy="1833" r="3.3"/><circle cx="995" cy="1845" r="3.3"/><circle cx="1035" cy="1799" r="3.3"/><circle cx="987" cy="1834" r="3.3"/><circle cx="984" cy="1856" r="3.3"/><circle cx="977" cy="1858" r="3.3"/><circle cx="1012" cy="1839" r="3.3"/><circle cx="989" cy="1855" r="3.3"/><circle cx="981" cy="1853" r="3.3"/><circle cx="1007" cy="1835" r="3.3"/><circle cx="1011" cy="1848" r="3.3"/><circle cx="1019" cy="1847" r="3.3"/><circle cx="996" cy="1832" r="3.3"/><circle cx="1036" cy="1808" r="3.3"/><circle cx="991" cy="1845" r="3.3"/><circle cx="984" cy="1848" r="3.3"/><circle cx="975" cy="1857" r="3.3"/><circle cx="997" cy="1852" r="3.3"/><circle cx="995" cy="1849" r="3.3"/><circle cx="978" cy="1857" r="3.3"/><circle cx="985" cy="1846" r="3.3"/><circle cx="977" cy="1853" r="3.3"/><circle cx="1079" cy="1686" r="3.3"/><circle cx="990" cy="1854" r="3.3"/><circle cx="975" cy="1856" r="3.3"/><circle cx="1018" cy="1746" r="3.3"/><circle cx="981" cy="1853" r="3.3"/><circle cx="989" cy="1853" r="3.3"/><circle cx="1025" cy="1721" r="3.3"/><circle cx="1023" cy="1804" r="3.3"/><circle cx="1032" cy="1668" r="3.3"/><circle cx="1005" cy="1847" r="3.3"/><circle cx="998" cy="1850" r="3.3"/><circle cx="986" cy="1855" r="3.3"/><circle cx="1001" cy="1840" r="3.3"/><circle cx="1008" cy="1810" r="3.3"/><circle cx="997" cy="1816" r="3.3"/><circle cx="997" cy="1839" r="3.3"/><circle cx="1003" cy="1851" r="3.3"/><circle cx="1000" cy="1840" r="3.3"/><circle cx="986" cy="1856" r="3.3"/><circle cx="1005" cy="1798" r="3.3"/><circle cx="984" cy="1857" r="3.3"/><circle cx="995" cy="1848" r="3.3"/><circle cx="981" cy="1853" r="3.3"/><circle cx="989" cy="1845" r="3.3"/><circle cx="1005" cy="1821" r="3.3"/><circle cx="1102" cy="1796" r="3.3"/><circle cx="1044" cy="1832" r="3.3"/><circle cx="1021" cy="1816" r="3.3"/><circle cx="1007" cy="1824" r="3.3"/><circle cx="987" cy="1856" r="3.3"/><circle cx="1016" cy="1828" r="3.3"/><circle cx="1005" cy="1829" r="3.3"/><circle cx="997" cy="1829" r="3.3"/><circle cx="1000" cy="1842" r="3.3"/><circle cx="997" cy="1839" r="3.3"/><circle cx="1003" cy="1836" r="3.3"/><circle cx="997" cy="1839" r="3.3"/><circle cx="1000" cy="1842" r="3.3"/><circle cx="999" cy="1825" r="3.3"/><circle cx="1012" cy="1797" r="3.3"/><circle cx="1036" cy="1781" r="3.3"/><circle cx="1027" cy="1789" r="3.3"/><circle cx="996" cy="1851" r="3.3"/><circle cx="994" cy="1855" r="3.3"/><circle cx="994" cy="1844" r="3.3"/><circle cx="1008" cy="1807" r="3.3"/><circle cx="1008" cy="1832" r="3.3"/><circle cx="1022" cy="1813" r="3.3"/><circle cx="1000" cy="1850" r="3.3"/><circle cx="1007" cy="1851" r="3.3"/><circle cx="987" cy="1856" r="3.3"/><circle cx="1035" cy="1760" r="3.3"/><circle cx="1018" cy="1800" r="3.3"/><circle cx="998" cy="1827" r="3.3"/><circle cx="1013" cy="1778" r="3.3"/><circle cx="1009" cy="1817" r="3.3"/><circle cx="1006" cy="1777" r="3.3"/><circle cx="999" cy="1847" r="3.3"/><circle cx="1017" cy="1830" r="3.3"/><circle cx="1038" cy="1704" r="3.3"/><circle cx="994" cy="1844" r="3.3"/><circle cx="990" cy="1856" r="3.3"/><circle cx="987" cy="1842" r="3.3"/><circle cx="1019" cy="1719" r="3.3"/><circle cx="1047" cy="1814" r="3.3"/><circle cx="1019" cy="1829" r="3.3"/><circle cx="1016" cy="1833" r="3.3"/><circle cx="995" cy="1830" r="3.3"/><circle cx="1044" cy="1822" r="3.3"/><circle cx="1013" cy="1804" r="3.3"/><circle cx="986" cy="1848" r="3.3"/><circle cx="996" cy="1844" r="3.3"/><circle cx="1012" cy="1836" r="3.3"/><circle cx="1020" cy="1786" r="3.3"/><circle cx="990" cy="1822" r="3.3"/><circle cx="991" cy="1841" r="3.3"/><circle cx="1015" cy="1833" r="3.3"/><circle cx="1000" cy="1842" r="3.3"/><circle cx="999" cy="1836" r="3.3"/><circle cx="986" cy="1847" r="3.3"/><circle cx="1011" cy="1825" r="3.3"/><circle cx="1025" cy="1811" r="3.3"/><circle cx="984" cy="1856" r="3.3"/><circle cx="1001" cy="1842" r="3.3"/><circle cx="1035" cy="1786" r="3.3"/><circle cx="1013" cy="1845" r="3.3"/><circle cx="1017" cy="1847" r="3.3"/><circle cx="1027" cy="1827" r="3.3"/><circle cx="1062" cy="1714" r="3.3"/><circle cx="996" cy="1820" r="3.3"/><circle cx="1007" cy="1851" r="3.3"/><circle cx="995" cy="1831" r="3.3"/><circle cx="990" cy="1844" r="3.3"/><circle cx="981" cy="1856" r="3.3"/><circle cx="992" cy="1842" r="3.3"/><circle cx="1096" cy="1743" r="3.3"/><circle cx="979" cy="1853" r="3.3"/><circle cx="1007" cy="1818" r="3.3"/><circle cx="1021" cy="1817" r="3.3"/><circle cx="994" cy="1849" r="3.3"/><circle cx="1021" cy="1806" r="3.3"/><circle cx="1046" cy="1831" r="3.3"/><circle cx="996" cy="1809" r="3.3"/><circle cx="1006" cy="1821" r="3.3"/><circle cx="988" cy="1844" r="3.3"/><circle cx="1002" cy="1828" r="3.3"/><circle cx="998" cy="1847" r="3.3"/><circle cx="978" cy="1855" r="3.3"/><circle cx="999" cy="1786" r="3.3"/><circle cx="1047" cy="1829" r="3.3"/><circle cx="976" cy="1858" r="3.3"/><circle cx="1058" cy="1762" r="3.3"/><circle cx="984" cy="1857" r="3.3"/><circle cx="999" cy="1848" r="3.3"/><circle cx="1022" cy="1839" r="3.3"/><circle cx="1007" cy="1817" r="3.3"/><circle cx="998" cy="1832" r="3.3"/><circle cx="973" cy="1858" r="3.3"/><circle cx="992" cy="1842" r="3.3"/><circle cx="1040" cy="1828" r="3.3"/><circle cx="974" cy="1858" r="3.3"/><circle cx="999" cy="1849" r="3.3"/><circle cx="982" cy="1856" r="3.3"/><circle cx="1018" cy="1835" r="3.3"/><circle cx="1014" cy="1816" r="3.3"/><circle cx="1046" cy="1742" r="3.3"/><circle cx="989" cy="1833" r="3.3"/><circle cx="1006" cy="1848" r="3.3"/><circle cx="1016" cy="1843" r="3.3"/><circle cx="1002" cy="1798" r="3.3"/><circle cx="1030" cy="1802" r="3.3"/><circle cx="1012" cy="1848" r="3.3"/><circle cx="1072" cy="1809" r="3.3"/><circle cx="1023" cy="1824" r="3.3"/><circle cx="998" cy="1845" r="3.3"/><circle cx="1004" cy="1835" r="3.3"/><circle cx="1040" cy="1805" r="3.3"/><circle cx="1002" cy="1826" r="3.3"/><circle cx="990" cy="1835" r="3.3"/><circle cx="986" cy="1819" r="3.3"/><circle cx="1023" cy="1847" r="3.3"/><circle cx="981" cy="1850" r="3.3"/><circle cx="1003" cy="1843" r="3.3"/><circle cx="977" cy="1853" r="3.3"/><circle cx="981" cy="1852" r="3.3"/><circle cx="1010" cy="1834" r="3.3"/><circle cx="992" cy="1857" r="3.3"/><circle cx="1024" cy="1679" r="3.3"/><circle cx="1002" cy="1846" r="3.3"/><circle cx="1009" cy="1820" r="3.3"/><circle cx="978" cy="1858" r="3.3"/><circle cx="998" cy="1833" r="3.3"/><circle cx="1025" cy="1813" r="3.3"/><circle cx="1022" cy="1827" r="3.3"/><circle cx="1002" cy="1845" r="3.3"/><circle cx="1042" cy="1745" r="3.3"/><circle cx="985" cy="1845" r="3.3"/><circle cx="1015" cy="1797" r="3.3"/><circle cx="1014" cy="1822" r="3.3"/><circle cx="1009" cy="1797" r="3.3"/><circle cx="1015" cy="1829" r="3.3"/><circle cx="981" cy="1857" r="3.3"/><circle cx="1048" cy="1783" r="3.3"/><circle cx="979" cy="1858" r="3.3"/><circle cx="995" cy="1837" r="3.3"/><circle cx="990" cy="1820" r="3.3"/><circle cx="1006" cy="1847" r="3.3"/><circle cx="989" cy="1844" r="3.3"/><circle cx="1045" cy="1766" r="3.3"/><circle cx="993" cy="1832" r="3.3"/><circle cx="1053" cy="1741" r="3.3"/><circle cx="1014" cy="1731" r="3.3"/><circle cx="1008" cy="1820" r="3.3"/><circle cx="994" cy="1839" r="3.3"/><circle cx="1018" cy="1766" r="3.3"/><circle cx="985" cy="1847" r="3.3"/><circle cx="999" cy="1846" r="3.3"/><circle cx="1013" cy="1816" r="3.3"/><circle cx="999" cy="1849" r="3.3"/><circle cx="982" cy="1851" r="3.3"/><circle cx="995" cy="1844" r="3.3"/><circle cx="991" cy="1835" r="3.3"/><circle cx="1069" cy="1743" r="3.3"/><circle cx="979" cy="1858" r="3.3"/><circle cx="978" cy="1858" r="3.3"/><circle cx="987" cy="1842" r="3.3"/><circle cx="1000" cy="1826" r="3.3"/><circle cx="1009" cy="1843" r="3.3"/><circle cx="983" cy="1850" r="3.3"/><circle cx="993" cy="1851" r="3.3"/><circle cx="1068" cy="1761" r="3.3"/><circle cx="1025" cy="1813" r="3.3"/><circle cx="982" cy="1857" r="3.3"/><circle cx="1007" cy="1839" r="3.3"/><circle cx="1005" cy="1848" r="3.3"/><circle cx="1000" cy="1840" r="3.3"/><circle cx="1010" cy="1816" r="3.3"/><circle cx="981" cy="1857" r="3.3"/><circle cx="997" cy="1829" r="3.3"/><circle cx="980" cy="1857" r="3.3"/><circle cx="1035" cy="1797" r="3.3"/><circle cx="1029" cy="1825" r="3.3"/><circle cx="1068" cy="1781" r="3.3"/><circle cx="1000" cy="1846" r="3.3"/><circle cx="1031" cy="1785" r="3.3"/><circle cx="1016" cy="1827" r="3.3"/><circle cx="982" cy="1852" r="3.3"/><circle cx="1000" cy="1843" r="3.3"/><circle cx="1001" cy="1827" r="3.3"/><circle cx="1037" cy="1796" r="3.3"/><circle cx="1034" cy="1782" r="3.3"/><circle cx="1001" cy="1846" r="3.3"/><circle cx="1010" cy="1849" r="3.3"/><circle cx="1012" cy="1825" r="3.3"/><circle cx="1016" cy="1776" r="3.3"/><circle cx="1003" cy="1835" r="3.3"/><circle cx="1002" cy="1833" r="3.3"/><circle cx="1008" cy="1836" r="3.3"/><circle cx="1001" cy="1846" r="3.3"/><circle cx="1022" cy="1766" r="3.3"/><circle cx="981" cy="1858" r="3.3"/><circle cx="1037" cy="1805" r="3.3"/><circle cx="989" cy="1857" r="3.3"/><circle cx="1003" cy="1835" r="3.3"/><circle cx="1003" cy="1830" r="3.3"/><circle cx="1019" cy="1847" r="3.3"/><circle cx="993" cy="1855" r="3.3"/><circle cx="1015" cy="1758" r="3.3"/><circle cx="994" cy="1840" r="3.3"/><circle cx="1002" cy="1839" r="3.3"/><circle cx="1023" cy="1839" r="3.3"/><circle cx="1056" cy="1817" r="3.3"/><circle cx="1003" cy="1842" r="3.3"/><circle cx="1058" cy="1785" r="3.3"/><circle cx="1010" cy="1840" r="3.3"/><circle cx="1017" cy="1821" r="3.3"/><circle cx="1000" cy="1853" r="3.3"/><circle cx="1003" cy="1848" r="3.3"/><circle cx="1049" cy="1711" r="3.3"/><circle cx="985" cy="1836" r="3.3"/><circle cx="1008" cy="1841" r="3.3"/><circle cx="1047" cy="1739" r="3.3"/><circle cx="989" cy="1856" r="3.3"/><circle cx="1011" cy="1840" r="3.3"/><circle cx="983" cy="1856" r="3.3"/><circle cx="1021" cy="1834" r="3.3"/><circle cx="1070" cy="1770" r="3.3"/><circle cx="1002" cy="1824" r="3.3"/><circle cx="1019" cy="1768" r="3.3"/><circle cx="1006" cy="1823" r="3.3"/><circle cx="1013" cy="1797" r="3.3"/><circle cx="1004" cy="1828" r="3.3"/><circle cx="999" cy="1835" r="3.3"/><circle cx="1015" cy="1850" r="3.3"/><circle cx="1054" cy="1746" r="3.3"/><circle cx="1006" cy="1843" r="3.3"/><circle cx="1003" cy="1849" r="3.3"/><circle cx="1006" cy="1842" r="3.3"/><circle cx="1045" cy="1821" r="3.3"/><circle cx="998" cy="1822" r="3.3"/><circle cx="1007" cy="1838" r="3.3"/><circle cx="1047" cy="1723" r="3.3"/><circle cx="974" cy="1858" r="3.3"/><circle cx="1026" cy="1819" r="3.3"/><circle cx="1008" cy="1834" r="3.3"/><circle cx="1002" cy="1851" r="3.3"/><circle cx="1000" cy="1842" r="3.3"/><circle cx="1012" cy="1845" r="3.3"/><circle cx="1017" cy="1813" r="3.3"/><circle cx="1001" cy="1850" r="3.3"/><circle cx="1041" cy="1795" r="3.3"/><circle cx="1011" cy="1833" r="3.3"/><circle cx="976" cy="1856" r="3.3"/><circle cx="987" cy="1840" r="3.3"/><circle cx="1019" cy="1802" r="3.3"/><circle cx="982" cy="1857" r="3.3"/><circle cx="992" cy="1841" r="3.3"/><circle cx="1016" cy="1817" r="3.3"/><circle cx="1003" cy="1841" r="3.3"/><circle cx="1004" cy="1850" r="3.3"/><circle cx="1004" cy="1807" r="3.3"/><circle cx="995" cy="1837" r="3.3"/><circle cx="1002" cy="1833" r="3.3"/><circle cx="1038" cy="1815" r="3.3"/><circle cx="997" cy="1834" r="3.3"/><circle cx="1035" cy="1732" r="3.3"/><circle cx="1000" cy="1853" r="3.3"/><circle cx="998" cy="1834" r="3.3"/><circle cx="1048" cy="1819" r="3.3"/><circle cx="989" cy="1844" r="3.3"/><circle cx="1015" cy="1820" r="3.3"/><circle cx="1050" cy="1813" r="3.3"/><circle cx="1005" cy="1795" r="3.3"/><circle cx="1023" cy="1829" r="3.3"/><circle cx="1012" cy="1834" r="3.3"/><circle cx="1008" cy="1837" r="3.3"/><circle cx="1033" cy="1829" r="3.3"/><circle cx="1084" cy="1734" r="3.3"/><circle cx="1016" cy="1829" r="3.3"/><circle cx="1012" cy="1835" r="3.3"/><circle cx="978" cy="1855" r="3.3"/><circle cx="976" cy="1856" r="3.3"/><circle cx="1005" cy="1841" r="3.3"/><circle cx="1001" cy="1838" r="3.3"/><circle cx="1007" cy="1791" r="3.3"/><circle cx="992" cy="1844" r="3.3"/><circle cx="993" cy="1852" r="3.3"/><circle cx="981" cy="1858" r="3.3"/><circle cx="1008" cy="1825" r="3.3"/><circle cx="997" cy="1827" r="3.3"/><circle cx="1012" cy="1814" r="3.3"/><circle cx="1008" cy="1824" r="3.3"/><circle cx="1018" cy="1797" r="3.3"/><circle cx="993" cy="1854" r="3.3"/><circle cx="994" cy="1838" r="3.3"/><circle cx="1006" cy="1830" r="3.3"/><circle cx="986" cy="1846" r="3.3"/><circle cx="1041" cy="1823" r="3.3"/><circle cx="1012" cy="1788" r="3.3"/><circle cx="1005" cy="1814" r="3.3"/><circle cx="993" cy="1853" r="3.3"/><circle cx="997" cy="1831" r="3.3"/><circle cx="992" cy="1853" r="3.3"/><circle cx="1000" cy="1811" r="3.3"/><circle cx="992" cy="1854" r="3.3"/><circle cx="990" cy="1842" r="3.3"/><circle cx="982" cy="1850" r="3.3"/><circle cx="972" cy="1858" r="3.3"/><circle cx="1002" cy="1844" r="3.3"/><circle cx="1066" cy="1822" r="3.3"/><circle cx="1011" cy="1816" r="3.3"/><circle cx="1025" cy="1766" r="3.3"/><circle cx="1019" cy="1794" r="3.3"/><circle cx="999" cy="1831" r="3.3"/><circle cx="1006" cy="1824" r="3.3"/><circle cx="1006" cy="1838" r="3.3"/><circle cx="1021" cy="1821" r="3.3"/><circle cx="995" cy="1809" r="3.3"/><circle cx="985" cy="1846" r="3.3"/><circle cx="1006" cy="1832" r="3.3"/><circle cx="1018" cy="1834" r="3.3"/><circle cx="1000" cy="1836" r="3.3"/><circle cx="1001" cy="1832" r="3.3"/><circle cx="1003" cy="1837" r="3.3"/><circle cx="1019" cy="1797" r="3.3"/><circle cx="997" cy="1818" r="3.3"/><circle cx="1017" cy="1853" r="3.3"/><circle cx="985" cy="1838" r="3.3"/><circle cx="994" cy="1829" r="3.3"/><circle cx="1004" cy="1834" r="3.3"/><circle cx="1002" cy="1840" r="3.3"/><circle cx="1058" cy="1654" r="3.3"/><circle cx="1005" cy="1846" r="3.3"/><circle cx="1037" cy="1784" r="3.3"/><circle cx="1000" cy="1850" r="3.3"/><circle cx="1098" cy="1760" r="3.3"/><circle cx="1003" cy="1818" r="3.3"/><circle cx="992" cy="1837" r="3.3"/><circle cx="1005" cy="1832" r="3.3"/><circle cx="1052" cy="1805" r="3.3"/><circle cx="1008" cy="1832" r="3.3"/><circle cx="1003" cy="1817" r="3.3"/><circle cx="1005" cy="1824" r="3.3"/><circle cx="991" cy="1853" r="3.3"/><circle cx="1033" cy="1789" r="3.3"/><circle cx="1012" cy="1803" r="3.3"/><circle cx="992" cy="1827" r="3.3"/><circle cx="1059" cy="1814" r="3.3"/><circle cx="1002" cy="1822" r="3.3"/><circle cx="1006" cy="1819" r="3.3"/><circle cx="983" cy="1857" r="3.3"/><circle cx="978" cy="1854" r="3.3"/><circle cx="1015" cy="1829" r="3.3"/><circle cx="1042" cy="1798" r="3.3"/><circle cx="1011" cy="1841" r="3.3"/><circle cx="1039" cy="1828" r="3.3"/><circle cx="993" cy="1832" r="3.3"/><circle cx="1014" cy="1833" r="3.3"/><circle cx="989" cy="1857" r="3.3"/><circle cx="1019" cy="1720" r="3.3"/><circle cx="1037" cy="1808" r="3.3"/><circle cx="1054" cy="1740" r="3.3"/><circle cx="1048" cy="1761" r="3.3"/><circle cx="982" cy="1857" r="3.3"/><circle cx="1043" cy="1739" r="3.3"/><circle cx="1029" cy="1788" r="3.3"/><circle cx="993" cy="1856" r="3.3"/><circle cx="994" cy="1842" r="3.3"/><circle cx="1049" cy="1762" r="3.3"/><circle cx="994" cy="1830" r="3.3"/><circle cx="997" cy="1821" r="3.3"/><circle cx="1029" cy="1766" r="3.3"/><circle cx="1011" cy="1828" r="3.3"/><circle cx="1021" cy="1811" r="3.3"/><circle cx="1034" cy="1825" r="3.3"/><circle cx="979" cy="1854" r="3.3"/><circle cx="1064" cy="1718" r="3.3"/><circle cx="1000" cy="1830" r="3.3"/><circle cx="991" cy="1840" r="3.3"/><circle cx="1004" cy="1816" r="3.3"/><circle cx="1016" cy="1834" r="3.3"/><circle cx="1010" cy="1782" r="3.3"/><circle cx="981" cy="1858" r="3.3"/><circle cx="1010" cy="1770" r="3.3"/><circle cx="1024" cy="1843" r="3.3"/><circle cx="1040" cy="1670" r="3.3"/><circle cx="972" cy="1858" r="3.3"/><circle cx="1010" cy="1839" r="3.3"/><circle cx="1020" cy="1832" r="3.3"/><circle cx="1048" cy="1791" r="3.3"/><circle cx="1000" cy="1820" r="3.3"/><circle cx="1010" cy="1842" r="3.3"/><circle cx="1014" cy="1828" r="3.3"/><circle cx="1009" cy="1819" r="3.3"/><circle cx="1012" cy="1829" r="3.3"/><circle cx="989" cy="1830" r="3.3"/><circle cx="1017" cy="1851" r="3.3"/><circle cx="993" cy="1838" r="3.3"/><circle cx="1020" cy="1819" r="3.3"/><circle cx="972" cy="1858" r="3.3"/><circle cx="1030" cy="1792" r="3.3"/><circle cx="1068" cy="1690" r="3.3"/><circle cx="1004" cy="1849" r="3.3"/><circle cx="1006" cy="1817" r="3.3"/><circle cx="1006" cy="1847" r="3.3"/><circle cx="993" cy="1856" r="3.3"/><circle cx="975" cy="1856" r="3.3"/><circle cx="1023" cy="1794" r="3.3"/><circle cx="1021" cy="1842" r="3.3"/><circle cx="972" cy="1858" r="3.3"/><circle cx="1061" cy="1772" r="3.3"/><circle cx="1048" cy="1798" r="3.3"/><circle cx="1009" cy="1831" r="3.3"/><circle cx="1004" cy="1842" r="3.3"/><circle cx="979" cy="1858" r="3.3"/><circle cx="973" cy="1858" r="3.3"/><circle cx="1007" cy="1835" r="3.3"/><circle cx="996" cy="1835" r="3.3"/><circle cx="1021" cy="1811" r="3.3"/><circle cx="1039" cy="1781" r="3.3"/><circle cx="1019" cy="1827" r="3.3"/><circle cx="1019" cy="1838" r="3.3"/><circle cx="1046" cy="1808" r="3.3"/><circle cx="996" cy="1853" r="3.3"/><circle cx="1016" cy="1848" r="3.3"/><circle cx="987" cy="1837" r="3.3"/><circle cx="1044" cy="1776" r="3.3"/><circle cx="994" cy="1836" r="3.3"/><circle cx="1022" cy="1813" r="3.3"/><circle cx="1002" cy="1840" r="3.3"/><circle cx="1042" cy="1766" r="3.3"/><circle cx="1003" cy="1838" r="3.3"/><circle cx="973" cy="1858" r="3.3"/><circle cx="1028" cy="1736" r="3.3"/><circle cx="1003" cy="1832" r="3.3"/><circle cx="1077" cy="1772" r="3.3"/><circle cx="1017" cy="1748" r="3.3"/><circle cx="981" cy="1848" r="3.3"/><circle cx="987" cy="1845" r="3.3"/><circle cx="974" cy="1858" r="3.3"/><circle cx="1011" cy="1787" r="3.3"/><circle cx="1022" cy="1837" r="3.3"/><circle cx="1036" cy="1816" r="3.3"/><circle cx="1005" cy="1845" r="3.3"/><circle cx="1009" cy="1822" r="3.3"/><circle cx="1009" cy="1850" r="3.3"/><circle cx="1042" cy="1826" r="3.3"/><circle cx="1017" cy="1831" r="3.3"/><circle cx="998" cy="1853" r="3.3"/><circle cx="1005" cy="1843" r="3.3"/><circle cx="1027" cy="1811" r="3.3"/><circle cx="978" cy="1854" r="3.3"/><circle cx="1001" cy="1852" r="3.3"/><circle cx="1006" cy="1845" r="3.3"/><circle cx="1023" cy="1768" r="3.3"/><circle cx="987" cy="1842" r="3.3"/><circle cx="1011" cy="1813" r="3.3"/><circle cx="1025" cy="1828" r="3.3"/><circle cx="1097" cy="1702" r="3.3"/><circle cx="1061" cy="1771" r="3.3"/><circle cx="1006" cy="1842" r="3.3"/><circle cx="1042" cy="1832" r="3.3"/><circle cx="1044" cy="1771" r="3.3"/><circle cx="1052" cy="1685" r="3.3"/><circle cx="1010" cy="1827" r="3.3"/><circle cx="1054" cy="1824" r="3.3"/><circle cx="1005" cy="1821" r="3.3"/><circle cx="1080" cy="1808" r="3.3"/><circle cx="1035" cy="1827" r="3.3"/><circle cx="1015" cy="1742" r="3.3"/><circle cx="1025" cy="1800" r="3.3"/><circle cx="1009" cy="1824" r="3.3"/><circle cx="1028" cy="1827" r="3.3"/><circle cx="1006" cy="1825" r="3.3"/><circle cx="1012" cy="1835" r="3.3"/><circle cx="1026" cy="1836" r="3.3"/><circle cx="1009" cy="1817" r="3.3"/><circle cx="1002" cy="1808" r="3.3"/><circle cx="1020" cy="1831" r="3.3"/><circle cx="1008" cy="1839" r="3.3"/><circle cx="1051" cy="1747" r="3.3"/><circle cx="992" cy="1820" r="3.3"/><circle cx="1041" cy="1791" r="3.3"/><circle cx="976" cy="1856" r="3.3"/><circle cx="1025" cy="1830" r="3.3"/><circle cx="997" cy="1828" r="3.3"/><circle cx="1027" cy="1795" r="3.3"/><circle cx="1020" cy="1816" r="3.3"/><circle cx="983" cy="1857" r="3.3"/><circle cx="1055" cy="1831" r="3.3"/><circle cx="998" cy="1830" r="3.3"/><circle cx="1009" cy="1839" r="3.3"/><circle cx="1011" cy="1845" r="3.3"/><circle cx="1038" cy="1790" r="3.3"/><circle cx="985" cy="1847" r="3.3"/><circle cx="992" cy="1824" r="3.3"/><circle cx="990" cy="1839" r="3.3"/><circle cx="983" cy="1849" r="3.3"/><circle cx="1028" cy="1802" r="3.3"/><circle cx="1036" cy="1790" r="3.3"/><circle cx="1078" cy="1744" r="3.3"/><circle cx="1003" cy="1829" r="3.3"/><circle cx="1021" cy="1792" r="3.3"/><circle cx="1034" cy="1818" r="3.3"/><circle cx="1008" cy="1846" r="3.3"/><circle cx="1017" cy="1791" r="3.3"/><circle cx="1023" cy="1821" r="3.3"/><circle cx="1008" cy="1813" r="3.3"/><circle cx="1008" cy="1831" r="3.3"/><circle cx="1102" cy="1725" r="3.3"/><circle cx="1017" cy="1796" r="3.3"/><circle cx="1016" cy="1825" r="3.3"/><circle cx="1069" cy="1762" r="3.3"/><circle cx="983" cy="1857" r="3.3"/><circle cx="1032" cy="1767" r="3.3"/><circle cx="1023" cy="1830" r="3.3"/><circle cx="1021" cy="1833" r="3.3"/><circle cx="988" cy="1837" r="3.3"/><circle cx="992" cy="1825" r="3.3"/><circle cx="1032" cy="1719" r="3.3"/><circle cx="1049" cy="1714" r="3.3"/><circle cx="987" cy="1841" r="3.3"/><circle cx="979" cy="1858" r="3.3"/><circle cx="1052" cy="1758" r="3.3"/><circle cx="1027" cy="1813" r="3.3"/><circle cx="1024" cy="1666" r="3.3"/><circle cx="1029" cy="1734" r="3.3"/><circle cx="1012" cy="1800" r="3.3"/><circle cx="980" cy="1848" r="3.3"/><circle cx="1042" cy="1812" r="3.3"/><circle cx="1050" cy="1797" r="3.3"/><circle cx="1011" cy="1835" r="3.3"/><circle cx="974" cy="1858" r="3.3"/><circle cx="1003" cy="1849" r="3.3"/><circle cx="1013" cy="1816" r="3.3"/><circle cx="1060" cy="1809" r="3.3"/><circle cx="997" cy="1791" r="3.3"/><circle cx="1033" cy="1789" r="3.3"/><circle cx="1013" cy="1838" r="3.3"/><circle cx="1038" cy="1732" r="3.3"/><circle cx="1051" cy="1708" r="3.3"/><circle cx="991" cy="1839" r="3.3"/><circle cx="1013" cy="1831" r="3.3"/><circle cx="985" cy="1835" r="3.3"/><circle cx="1016" cy="1755" r="3.3"/><circle cx="1008" cy="1827" r="3.3"/><circle cx="1052" cy="1827" r="3.3"/><circle cx="1011" cy="1845" r="3.3"/><circle cx="1013" cy="1831" r="3.3"/><circle cx="1029" cy="1821" r="3.3"/><circle cx="1041" cy="1734" r="3.3"/><circle cx="1005" cy="1813" r="3.3"/><circle cx="1018" cy="1806" r="3.3"/><circle cx="998" cy="1853" r="3.3"/><circle cx="1025" cy="1823" r="3.3"/><circle cx="1025" cy="1832" r="3.3"/><circle cx="1050" cy="1775" r="3.3"/><circle cx="1064" cy="1782" r="3.3"/><circle cx="1008" cy="1831" r="3.3"/><circle cx="1011" cy="1813" r="3.3"/><circle cx="1034" cy="1799" r="3.3"/><circle cx="1023" cy="1814" r="3.3"/><circle cx="1009" cy="1855" r="3.3"/><circle cx="1005" cy="1834" r="3.3"/><circle cx="994" cy="1834" r="3.3"/><circle cx="1027" cy="1825" r="3.3"/><circle cx="990" cy="1837" r="3.3"/><circle cx="1004" cy="1828" r="3.3"/><circle cx="988" cy="1837" r="3.3"/><circle cx="1074" cy="1808" r="3.3"/><circle cx="992" cy="1832" r="3.3"/><circle cx="979" cy="1854" r="3.3"/><circle cx="1059" cy="1789" r="3.3"/><circle cx="1035" cy="1767" r="3.3"/><circle cx="1001" cy="1851" r="3.3"/><circle cx="1003" cy="1829" r="3.3"/><circle cx="988" cy="1840" r="3.3"/><circle cx="1014" cy="1833" r="3.3"/><circle cx="1075" cy="1782" r="3.3"/><circle cx="997" cy="1805" r="3.3"/><circle cx="1001" cy="1829" r="3.3"/><circle cx="997" cy="1815" r="3.3"/><circle cx="1036" cy="1822" r="3.3"/><circle cx="1073" cy="1691" r="3.3"/><circle cx="973" cy="1858" r="3.3"/><circle cx="997" cy="1829" r="3.3"/><circle cx="1026" cy="1833" r="3.3"/><circle cx="1042" cy="1746" r="3.3"/><circle cx="1078" cy="1774" r="3.3"/><circle cx="987" cy="1834" r="3.3"/><circle cx="981" cy="1852" r="3.3"/><circle cx="1016" cy="1793" r="3.3"/><circle cx="1004" cy="1816" r="3.3"/><circle cx="1016" cy="1817" r="3.3"/><circle cx="1009" cy="1825" r="3.3"/><circle cx="1028" cy="1827" r="3.3"/><circle cx="997" cy="1852" r="3.3"/><circle cx="1009" cy="1783" r="3.3"/><circle cx="995" cy="1832" r="3.3"/><circle cx="998" cy="1762" r="3.3"/><circle cx="1030" cy="1824" r="3.3"/><circle cx="1027" cy="1831" r="3.3"/><circle cx="1021" cy="1765" r="3.3"/><circle cx="1024" cy="1769" r="3.3"/><circle cx="994" cy="1806" r="3.3"/><circle cx="1045" cy="1743" r="3.3"/><circle cx="980" cy="1848" r="3.3"/><circle cx="1012" cy="1818" r="3.3"/><circle cx="1019" cy="1826" r="3.3"/><circle cx="992" cy="1855" r="3.3"/><circle cx="1031" cy="1798" r="3.3"/><circle cx="1002" cy="1788" r="3.3"/><circle cx="1003" cy="1827" r="3.3"/><circle cx="1037" cy="1787" r="3.3"/><circle cx="1024" cy="1836" r="3.3"/><circle cx="1038" cy="1741" r="3.3"/><circle cx="1046" cy="1758" r="3.3"/><circle cx="1011" cy="1841" r="3.3"/><circle cx="1016" cy="1850" r="3.3"/><circle cx="1023" cy="1766" r="3.3"/><circle cx="1053" cy="1808" r="3.3"/><circle cx="1069" cy="1741" r="3.3"/><circle cx="1032" cy="1825" r="3.3"/><circle cx="1039" cy="1807" r="3.3"/><circle cx="1005" cy="1787" r="3.3"/><circle cx="1010" cy="1836" r="3.3"/><circle cx="1025" cy="1794" r="3.3"/><circle cx="996" cy="1816" r="3.3"/><circle cx="1028" cy="1811" r="3.3"/><circle cx="1016" cy="1819" r="3.3"/><circle cx="1011" cy="1841" r="3.3"/><circle cx="1015" cy="1843" r="3.3"/><circle cx="1018" cy="1834" r="3.3"/><circle cx="1075" cy="1747" r="3.3"/><circle cx="994" cy="1837" r="3.3"/><circle cx="990" cy="1856" r="3.3"/><circle cx="1008" cy="1845" r="3.3"/><circle cx="991" cy="1830" r="3.3"/><circle cx="984" cy="1843" r="3.3"/><circle cx="1010" cy="1788" r="3.3"/><circle cx="1036" cy="1793" r="3.3"/><circle cx="1024" cy="1814" r="3.3"/><circle cx="1073" cy="1756" r="3.3"/><circle cx="1005" cy="1810" r="3.3"/><circle cx="1037" cy="1843" r="3.3"/><circle cx="1075" cy="1813" r="3.3"/><circle cx="1025" cy="1834" r="3.3"/><circle cx="1024" cy="1821" r="3.3"/><circle cx="1019" cy="1803" r="3.3"/><circle cx="1022" cy="1818" r="3.3"/><circle cx="1016" cy="1834" r="3.3"/><circle cx="1024" cy="1800" r="3.3"/><circle cx="1028" cy="1799" r="3.3"/><circle cx="1029" cy="1769" r="3.3"/><circle cx="983" cy="1849" r="3.3"/><circle cx="1028" cy="1784" r="3.3"/><circle cx="1024" cy="1801" r="3.3"/><circle cx="993" cy="1853" r="3.3"/><circle cx="1025" cy="1798" r="3.3"/><circle cx="1007" cy="1835" r="3.3"/><circle cx="975" cy="1858" r="3.3"/><circle cx="1006" cy="1826" r="3.3"/><circle cx="1013" cy="1847" r="3.3"/><circle cx="981" cy="1857" r="3.3"/><circle cx="978" cy="1853" r="3.3"/><circle cx="1027" cy="1797" r="3.3"/><circle cx="1027" cy="1815" r="3.3"/><circle cx="1026" cy="1830" r="3.3"/><circle cx="1013" cy="1818" r="3.3"/><circle cx="1013" cy="1844" r="3.3"/><circle cx="1020" cy="1792" r="3.3"/><circle cx="1014" cy="1826" r="3.3"/><circle cx="991" cy="1820" r="3.3"/><circle cx="1025" cy="1784" r="3.3"/><circle cx="1014" cy="1825" r="3.3"/><circle cx="993" cy="1835" r="3.3"/><circle cx="1024" cy="1840" r="3.3"/><circle cx="1002" cy="1821" r="3.3"/><circle cx="1081" cy="1798" r="3.3"/><circle cx="974" cy="1858" r="3.3"/><circle cx="1021" cy="1822" r="3.3"/><circle cx="993" cy="1785" r="3.3"/><circle cx="1032" cy="1784" r="3.3"/><circle cx="1090" cy="1669" r="3.3"/><circle cx="1036" cy="1824" r="3.3"/><circle cx="1019" cy="1834" r="3.3"/><circle cx="1005" cy="1849" r="3.3"/><circle cx="980" cy="1858" r="3.3"/><circle cx="1028" cy="1797" r="3.3"/><circle cx="1023" cy="1824" r="3.3"/><circle cx="1007" cy="1844" r="3.3"/><circle cx="1026" cy="1829" r="3.3"/><circle cx="1021" cy="1811" r="3.3"/><circle cx="1014" cy="1835" r="3.3"/><circle cx="991" cy="1829" r="3.3"/><circle cx="1009" cy="1809" r="3.3"/><circle cx="1025" cy="1805" r="3.3"/><circle cx="998" cy="1819" r="3.3"/><circle cx="1000" cy="1820" r="3.3"/><circle cx="986" cy="1839" r="3.3"/><circle cx="992" cy="1838" r="3.3"/><circle cx="1043" cy="1759" r="3.3"/><circle cx="1022" cy="1802" r="3.3"/><circle cx="1009" cy="1845" r="3.3"/><circle cx="1000" cy="1853" r="3.3"/><circle cx="1044" cy="1816" r="3.3"/><circle cx="1007" cy="1812" r="3.3"/><circle cx="994" cy="1772" r="3.3"/><circle cx="1017" cy="1838" r="3.3"/><circle cx="1028" cy="1811" r="3.3"/><circle cx="1012" cy="1806" r="3.3"/><circle cx="1012" cy="1810" r="3.3"/><circle cx="1018" cy="1808" r="3.3"/><circle cx="1053" cy="1776" r="3.3"/><circle cx="1006" cy="1748" r="3.3"/><circle cx="1014" cy="1834" r="3.3"/><circle cx="1003" cy="1809" r="3.3"/><circle cx="1011" cy="1812" r="3.3"/><circle cx="1035" cy="1789" r="3.3"/><circle cx="1017" cy="1771" r="3.3"/><circle cx="1025" cy="1795" r="3.3"/><circle cx="1040" cy="1739" r="3.3"/><circle cx="1024" cy="1803" r="3.3"/><circle cx="1017" cy="1822" r="3.3"/><circle cx="1008" cy="1790" r="3.3"/><circle cx="1016" cy="1806" r="3.3"/><circle cx="1012" cy="1839" r="3.3"/><circle cx="1030" cy="1791" r="3.3"/><circle cx="1008" cy="1822" r="3.3"/><circle cx="1025" cy="1833" r="3.3"/><circle cx="1001" cy="1803" r="3.3"/><circle cx="1002" cy="1820" r="3.3"/><circle cx="983" cy="1848" r="3.3"/><circle cx="1029" cy="1771" r="3.3"/><circle cx="1008" cy="1801" r="3.3"/><circle cx="986" cy="1817" r="3.3"/><circle cx="1016" cy="1800" r="3.3"/><circle cx="1003" cy="1819" r="3.3"/><circle cx="1020" cy="1807" r="3.3"/><circle cx="1010" cy="1839" r="3.3"/><circle cx="996" cy="1853" r="3.3"/><circle cx="1044" cy="1732" r="3.3"/><circle cx="1032" cy="1827" r="3.3"/><circle cx="1024" cy="1680" r="3.3"/><circle cx="1007" cy="1824" r="3.3"/><circle cx="1013" cy="1835" r="3.3"/><circle cx="1004" cy="1830" r="3.3"/><circle cx="1012" cy="1833" r="3.3"/><circle cx="1027" cy="1821" r="3.3"/><circle cx="1064" cy="1772" r="3.3"/><circle cx="1015" cy="1832" r="3.3"/><circle cx="1053" cy="1772" r="3.3"/><circle cx="1026" cy="1834" r="3.3"/><circle cx="1049" cy="1728" r="3.3"/><circle cx="977" cy="1854" r="3.3"/><circle cx="1040" cy="1770" r="3.3"/><circle cx="1055" cy="1775" r="3.3"/><circle cx="1074" cy="1690" r="3.3"/><circle cx="1017" cy="1833" r="3.3"/><circle cx="1026" cy="1763" r="3.3"/><circle cx="987" cy="1826" r="3.3"/><circle cx="1035" cy="1824" r="3.3"/><circle cx="1010" cy="1853" r="3.3"/><circle cx="1004" cy="1830" r="3.3"/><circle cx="1093" cy="1678" r="3.3"/><circle cx="1009" cy="1780" r="3.3"/><circle cx="1034" cy="1820" r="3.3"/><circle cx="1024" cy="1789" r="3.3"/><circle cx="973" cy="1858" r="3.3"/><circle cx="977" cy="1854" r="3.3"/><circle cx="1018" cy="1842" r="3.3"/><circle cx="1020" cy="1803" r="3.3"/><circle cx="1055" cy="1805" r="3.3"/><circle cx="1041" cy="1835" r="3.3"/><circle cx="1009" cy="1791" r="3.3"/><circle cx="1025" cy="1791" r="3.3"/><circle cx="978" cy="1853" r="3.3"/><circle cx="991" cy="1855" r="3.3"/><circle cx="991" cy="1856" r="3.3"/><circle cx="1019" cy="1838" r="3.3"/><circle cx="1031" cy="1835" r="3.3"/><circle cx="1004" cy="1825" r="3.3"/><circle cx="1023" cy="1778" r="3.3"/><circle cx="1068" cy="1660" r="3.3"/><circle cx="1014" cy="1789" r="3.3"/><circle cx="997" cy="1824" r="3.3"/><circle cx="1036" cy="1846" r="3.3"/><circle cx="996" cy="1824" r="3.3"/><circle cx="1081" cy="1797" r="3.3"/><circle cx="1024" cy="1830" r="3.3"/><circle cx="1035" cy="1821" r="3.3"/><circle cx="1024" cy="1744" r="3.3"/><circle cx="1024" cy="1804" r="3.3"/><circle cx="1035" cy="1822" r="3.3"/><circle cx="1006" cy="1738" r="3.3"/><circle cx="1070" cy="1781" r="3.3"/><circle cx="1015" cy="1806" r="3.3"/><circle cx="1080" cy="1805" r="3.3"/><circle cx="1025" cy="1786" r="3.3"/><circle cx="999" cy="1822" r="3.3"/><circle cx="1064" cy="1809" r="3.3"/><circle cx="1025" cy="1816" r="3.3"/><circle cx="1040" cy="1775" r="3.3"/><circle cx="986" cy="1841" r="3.3"/><circle cx="1042" cy="1816" r="3.3"/><circle cx="991" cy="1835" r="3.3"/><circle cx="1048" cy="1779" r="3.3"/><circle cx="998" cy="1828" r="3.3"/><circle cx="1035" cy="1787" r="3.3"/><circle cx="979" cy="1851" r="3.3"/><circle cx="1066" cy="1818" r="3.3"/><circle cx="1036" cy="1820" r="3.3"/><circle cx="1033" cy="1808" r="3.3"/><circle cx="1030" cy="1850" r="3.3"/><circle cx="1003" cy="1817" r="3.3"/><circle cx="987" cy="1856" r="3.3"/><circle cx="1044" cy="1819" r="3.3"/><circle cx="1030" cy="1807" r="3.3"/><circle cx="1045" cy="1771" r="3.3"/><circle cx="1004" cy="1852" r="3.3"/><circle cx="1033" cy="1814" r="3.3"/><circle cx="1010" cy="1802" r="3.3"/><circle cx="1019" cy="1823" r="3.3"/><circle cx="1029" cy="1839" r="3.3"/><circle cx="1025" cy="1819" r="3.3"/><circle cx="1011" cy="1841" r="3.3"/><circle cx="1000" cy="1823" r="3.3"/><circle cx="1069" cy="1788" r="3.3"/><circle cx="1014" cy="1818" r="3.3"/><circle cx="1021" cy="1788" r="3.3"/><circle cx="998" cy="1853" r="3.3"/><circle cx="1022" cy="1814" r="3.3"/><circle cx="1014" cy="1841" r="3.3"/><circle cx="996" cy="1823" r="3.3"/><circle cx="986" cy="1838" r="3.3"/><circle cx="1025" cy="1771" r="3.3"/><circle cx="1093" cy="1740" r="3.3"/><circle cx="1008" cy="1806" r="3.3"/><circle cx="1035" cy="1835" r="3.3"/><circle cx="1032" cy="1814" r="3.3"/><circle cx="1021" cy="1845" r="3.3"/><circle cx="1020" cy="1831" r="3.3"/><circle cx="1027" cy="1807" r="3.3"/><circle cx="984" cy="1857" r="3.3"/><circle cx="1011" cy="1822" r="3.3"/><circle cx="1018" cy="1818" r="3.3"/><circle cx="1018" cy="1784" r="3.3"/><circle cx="1034" cy="1807" r="3.3"/><circle cx="1049" cy="1821" r="3.3"/><circle cx="1026" cy="1819" r="3.3"/><circle cx="993" cy="1825" r="3.3"/><circle cx="1029" cy="1790" r="3.3"/><circle cx="1049" cy="1805" r="3.3"/><circle cx="1017" cy="1832" r="3.3"/><circle cx="1018" cy="1836" r="3.3"/><circle cx="1014" cy="1820" r="3.3"/><circle cx="1035" cy="1788" r="3.3"/><circle cx="1001" cy="1776" r="3.3"/><circle cx="1021" cy="1779" r="3.3"/><circle cx="993" cy="1828" r="3.3"/><circle cx="1008" cy="1831" r="3.3"/><circle cx="1070" cy="1766" r="3.3"/><circle cx="1015" cy="1839" r="3.3"/><circle cx="1013" cy="1826" r="3.3"/><circle cx="1033" cy="1746" r="3.3"/><circle cx="1049" cy="1785" r="3.3"/><circle cx="1061" cy="1745" r="3.3"/><circle cx="984" cy="1844" r="3.3"/><circle cx="1028" cy="1832" r="3.3"/><circle cx="1054" cy="1767" r="3.3"/><circle cx="1006" cy="1816" r="3.3"/><circle cx="1032" cy="1732" r="3.3"/><circle cx="1019" cy="1835" r="3.3"/><circle cx="1031" cy="1827" r="3.3"/><circle cx="1041" cy="1768" r="3.3"/><circle cx="1018" cy="1809" r="3.3"/><circle cx="1057" cy="1813" r="3.3"/><circle cx="1006" cy="1849" r="3.3"/><circle cx="1043" cy="1813" r="3.3"/><circle cx="979" cy="1858" r="3.3"/><circle cx="1025" cy="1795" r="3.3"/><circle cx="1032" cy="1782" r="3.3"/><circle cx="1023" cy="1823" r="3.3"/><circle cx="1038" cy="1779" r="3.3"/><circle cx="1050" cy="1784" r="3.3"/><circle cx="1045" cy="1804" r="3.3"/><circle cx="973" cy="1858" r="3.3"/><circle cx="1035" cy="1789" r="3.3"/><circle cx="994" cy="1826" r="3.3"/><circle cx="1037" cy="1822" r="3.3"/><circle cx="1040" cy="1802" r="3.3"/><circle cx="1023" cy="1827" r="3.3"/><circle cx="995" cy="1809" r="3.3"/><circle cx="1035" cy="1825" r="3.3"/><circle cx="1025" cy="1809" r="3.3"/><circle cx="1046" cy="1777" r="3.3"/><circle cx="1081" cy="1760" r="3.3"/><circle cx="1017" cy="1829" r="3.3"/><circle cx="1012" cy="1832" r="3.3"/><circle cx="1010" cy="1827" r="3.3"/><circle cx="1064" cy="1835" r="3.3"/><circle cx="1042" cy="1763" r="3.3"/><circle cx="1019" cy="1807" r="3.3"/><circle cx="1014" cy="1813" r="3.3"/><circle cx="1024" cy="1831" r="3.3"/><circle cx="1005" cy="1849" r="3.3"/><circle cx="1050" cy="1742" r="3.3"/><circle cx="1046" cy="1811" r="3.3"/><circle cx="999" cy="1805" r="3.3"/><circle cx="993" cy="1854" r="3.3"/><circle cx="1061" cy="1723" r="3.3"/><circle cx="1050" cy="1813" r="3.3"/><circle cx="1023" cy="1756" r="3.3"/><circle cx="1060" cy="1833" r="3.3"/><circle cx="1004" cy="1827" r="3.3"/><circle cx="1075" cy="1797" r="3.3"/><circle cx="1014" cy="1824" r="3.3"/><circle cx="1013" cy="1842" r="3.3"/><circle cx="1017" cy="1814" r="3.3"/><circle cx="1019" cy="1769" r="3.3"/><circle cx="1023" cy="1807" r="3.3"/><circle cx="995" cy="1821" r="3.3"/><circle cx="981" cy="1850" r="3.3"/><circle cx="1015" cy="1837" r="3.3"/><circle cx="985" cy="1841" r="3.3"/><circle cx="975" cy="1856" r="3.3"/><circle cx="994" cy="1857" r="3.3"/><circle cx="1002" cy="1769" r="3.3"/><circle cx="1007" cy="1785" r="3.3"/><circle cx="1003" cy="1729" r="3.3"/><circle cx="1004" cy="1784" r="3.3"/><circle cx="1042" cy="1759" r="3.3"/><circle cx="984" cy="1857" r="3.3"/><circle cx="1018" cy="1814" r="3.3"/><circle cx="1012" cy="1844" r="3.3"/><circle cx="1058" cy="1814" r="3.3"/><circle cx="1011" cy="1830" r="3.3"/><circle cx="991" cy="1856" r="3.3"/><circle cx="1062" cy="1810" r="3.3"/><circle cx="1017" cy="1840" r="3.3"/><circle cx="1024" cy="1833" r="3.3"/><circle cx="1010" cy="1803" r="3.3"/><circle cx="1063" cy="1827" r="3.3"/><circle cx="1018" cy="1701" r="3.3"/><circle cx="1009" cy="1813" r="3.3"/><circle cx="1019" cy="1834" r="3.3"/><circle cx="1064" cy="1827" r="3.3"/><circle cx="1026" cy="1807" r="3.3"/><circle cx="1014" cy="1812" r="3.3"/><circle cx="992" cy="1835" r="3.3"/><circle cx="995" cy="1830" r="3.3"/><circle cx="1027" cy="1789" r="3.3"/><circle cx="995" cy="1806" r="3.3"/><circle cx="1005" cy="1805" r="3.3"/><circle cx="1026" cy="1821" r="3.3"/><circle cx="1029" cy="1804" r="3.3"/><circle cx="1019" cy="1829" r="3.3"/><circle cx="1034" cy="1833" r="3.3"/><circle cx="1052" cy="1730" r="3.3"/><circle cx="1031" cy="1761" r="3.3"/><circle cx="1029" cy="1810" r="3.3"/><circle cx="1024" cy="1778" r="3.3"/><circle cx="1015" cy="1822" r="3.3"/><circle cx="1013" cy="1799" r="3.3"/><circle cx="1007" cy="1847" r="3.3"/><circle cx="1017" cy="1744" r="3.3"/><circle cx="1022" cy="1822" r="3.3"/><circle cx="1055" cy="1802" r="3.3"/><circle cx="1040" cy="1773" r="3.3"/><circle cx="1027" cy="1775" r="3.3"/><circle cx="1024" cy="1835" r="3.3"/><circle cx="1038" cy="1790" r="3.3"/><circle cx="982" cy="1847" r="3.3"/><circle cx="989" cy="1856" r="3.3"/><circle cx="1009" cy="1801" r="3.3"/><circle cx="1016" cy="1823" r="3.3"/><circle cx="1003" cy="1856" r="3.3"/><circle cx="1021" cy="1825" r="3.3"/><circle cx="1019" cy="1827" r="3.3"/><circle cx="1026" cy="1740" r="3.3"/><circle cx="1057" cy="1773" r="3.3"/><circle cx="1066" cy="1739" r="3.3"/><circle cx="1090" cy="1792" r="3.3"/><circle cx="1012" cy="1816" r="3.3"/><circle cx="1018" cy="1768" r="3.3"/><circle cx="1045" cy="1790" r="3.3"/><circle cx="1019" cy="1809" r="3.3"/><circle cx="1022" cy="1815" r="3.3"/><circle cx="984" cy="1847" r="3.3"/><circle cx="1011" cy="1822" r="3.3"/><circle cx="1024" cy="1845" r="3.3"/><circle cx="975" cy="1856" r="3.3"/><circle cx="1019" cy="1760" r="3.3"/><circle cx="994" cy="1815" r="3.3"/><circle cx="1022" cy="1739" r="3.3"/><circle cx="996" cy="1823" r="3.3"/><circle cx="1047" cy="1764" r="3.3"/><circle cx="1013" cy="1784" r="3.3"/><circle cx="1024" cy="1844" r="3.3"/><circle cx="1017" cy="1805" r="3.3"/><circle cx="1029" cy="1821" r="3.3"/><circle cx="1021" cy="1808" r="3.3"/><circle cx="1022" cy="1785" r="3.3"/><circle cx="1017" cy="1848" r="3.3"/><circle cx="973" cy="1858" r="3.3"/><circle cx="1013" cy="1791" r="3.3"/><circle cx="977" cy="1854" r="3.3"/><circle cx="1021" cy="1844" r="3.3"/><circle cx="1011" cy="1839" r="3.3"/><circle cx="1083" cy="1819" r="3.3"/><circle cx="1023" cy="1826" r="3.3"/><circle cx="1037" cy="1754" r="3.3"/><circle cx="980" cy="1847" r="3.3"/><circle cx="1002" cy="1813" r="3.3"/><circle cx="1015" cy="1825" r="3.3"/><circle cx="1028" cy="1825" r="3.3"/><circle cx="1021" cy="1800" r="3.3"/><circle cx="986" cy="1856" r="3.3"/><circle cx="1040" cy="1846" r="3.3"/><circle cx="1024" cy="1830" r="3.3"/><circle cx="1014" cy="1812" r="3.3"/><circle cx="999" cy="1823" r="3.3"/><circle cx="1007" cy="1813" r="3.3"/><circle cx="988" cy="1822" r="3.3"/><circle cx="1015" cy="1820" r="3.3"/><circle cx="1001" cy="1808" r="3.3"/><circle cx="993" cy="1803" r="3.3"/><circle cx="1003" cy="1807" r="3.3"/><circle cx="1001" cy="1812" r="3.3"/><circle cx="1014" cy="1816" r="3.3"/><circle cx="1010" cy="1780" r="3.3"/><circle cx="1022" cy="1824" r="3.3"/><circle cx="1066" cy="1745" r="3.3"/><circle cx="1017" cy="1837" r="3.3"/><circle cx="1013" cy="1795" r="3.3"/><circle cx="1015" cy="1820" r="3.3"/><circle cx="1028" cy="1801" r="3.3"/><circle cx="1011" cy="1731" r="3.3"/><circle cx="1027" cy="1837" r="3.3"/><circle cx="1053" cy="1808" r="3.3"/><circle cx="1012" cy="1839" r="3.3"/><circle cx="1007" cy="1800" r="3.3"/><circle cx="1007" cy="1802" r="3.3"/><circle cx="1053" cy="1733" r="3.3"/><circle cx="1016" cy="1828" r="3.3"/><circle cx="1054" cy="1801" r="3.3"/><circle cx="1013" cy="1797" r="3.3"/><circle cx="1011" cy="1791" r="3.3"/><circle cx="1070" cy="1778" r="3.3"/><circle cx="1018" cy="1838" r="3.3"/><circle cx="1040" cy="1753" r="3.3"/><circle cx="1021" cy="1806" r="3.3"/><circle cx="1036" cy="1802" r="3.3"/><circle cx="996" cy="1855" r="3.3"/><circle cx="1039" cy="1832" r="3.3"/><circle cx="991" cy="1824" r="3.3"/><circle cx="1070" cy="1772" r="3.3"/><circle cx="985" cy="1838" r="3.3"/><circle cx="1021" cy="1819" r="3.3"/><circle cx="995" cy="1856" r="3.3"/><circle cx="998" cy="1823" r="3.3"/><circle cx="1008" cy="1849" r="3.3"/><circle cx="1006" cy="1816" r="3.3"/><circle cx="1024" cy="1826" r="3.3"/><circle cx="1042" cy="1788" r="3.3"/><circle cx="984" cy="1847" r="3.3"/><circle cx="1009" cy="1847" r="3.3"/><circle cx="1091" cy="1766" r="3.3"/><circle cx="1039" cy="1785" r="3.3"/><circle cx="1016" cy="1809" r="3.3"/><circle cx="1009" cy="1791" r="3.3"/><circle cx="1037" cy="1822" r="3.3"/><circle cx="993" cy="1811" r="3.3"/><circle cx="1002" cy="1816" r="3.3"/><circle cx="995" cy="1763" r="3.3"/><circle cx="1073" cy="1787" r="3.3"/><circle cx="1058" cy="1754" r="3.3"/><circle cx="1071" cy="1775" r="3.3"/><circle cx="1048" cy="1649" r="3.3"/><circle cx="1015" cy="1843" r="3.3"/><circle cx="1016" cy="1814" r="3.3"/><circle cx="1055" cy="1793" r="3.3"/><circle cx="991" cy="1856" r="3.3"/><circle cx="1033" cy="1776" r="3.3"/><circle cx="1013" cy="1752" r="3.3"/><circle cx="1026" cy="1793" r="3.3"/><circle cx="1026" cy="1798" r="3.3"/><circle cx="996" cy="1813" r="3.3"/><circle cx="1019" cy="1811" r="3.3"/><circle cx="1017" cy="1806" r="3.3"/><circle cx="1022" cy="1821" r="3.3"/><circle cx="1007" cy="1815" r="3.3"/><circle cx="1008" cy="1846" r="3.3"/><circle cx="1048" cy="1765" r="3.3"/><circle cx="1021" cy="1841" r="3.3"/><circle cx="1040" cy="1787" r="3.3"/><circle cx="1041" cy="1791" r="3.3"/><circle cx="1035" cy="1813" r="3.3"/><circle cx="1023" cy="1773" r="3.3"/><circle cx="986" cy="1842" r="3.3"/><circle cx="1029" cy="1842" r="3.3"/><circle cx="1025" cy="1797" r="3.3"/><circle cx="1013" cy="1815" r="3.3"/><circle cx="983" cy="1857" r="3.3"/><circle cx="997" cy="1779" r="3.3"/><circle cx="976" cy="1858" r="3.3"/><circle cx="1024" cy="1789" r="3.3"/><circle cx="999" cy="1813" r="3.3"/><circle cx="1019" cy="1775" r="3.3"/><circle cx="1075" cy="1788" r="3.3"/><circle cx="1010" cy="1788" r="3.3"/><circle cx="1021" cy="1829" r="3.3"/><circle cx="1019" cy="1817" r="3.3"/><circle cx="1089" cy="1796" r="3.3"/><circle cx="1011" cy="1791" r="3.3"/><circle cx="1020" cy="1818" r="3.3"/><circle cx="996" cy="1801" r="3.3"/><circle cx="1001" cy="1789" r="3.3"/><circle cx="1000" cy="1818" r="3.3"/><circle cx="1070" cy="1829" r="3.3"/><circle cx="1023" cy="1800" r="3.3"/><circle cx="1017" cy="1755" r="3.3"/><circle cx="1021" cy="1805" r="3.3"/><circle cx="1007" cy="1729" r="3.3"/><circle cx="1028" cy="1834" r="3.3"/><circle cx="975" cy="1856" r="3.3"/><circle cx="1042" cy="1801" r="3.3"/><circle cx="1003" cy="1794" r="3.3"/><circle cx="1056" cy="1800" r="3.3"/><circle cx="984" cy="1842" r="3.3"/><circle cx="1049" cy="1813" r="3.3"/><circle cx="1001" cy="1852" r="3.3"/><circle cx="1025" cy="1835" r="3.3"/><circle cx="1019" cy="1774" r="3.3"/><circle cx="996" cy="1803" r="3.3"/><circle cx="1025" cy="1789" r="3.3"/><circle cx="1035" cy="1798" r="3.3"/><circle cx="1043" cy="1798" r="3.3"/><circle cx="1033" cy="1815" r="3.3"/><circle cx="1002" cy="1820" r="3.3"/><circle cx="996" cy="1807" r="3.3"/><circle cx="1052" cy="1759" r="3.3"/><circle cx="1052" cy="1791" r="3.3"/><circle cx="1025" cy="1814" r="3.3"/><circle cx="1050" cy="1813" r="3.3"/><circle cx="980" cy="1849" r="3.3"/><circle cx="1023" cy="1810" r="3.3"/><circle cx="988" cy="1836" r="3.3"/><circle cx="1052" cy="1766" r="3.3"/><circle cx="1038" cy="1804" r="3.3"/><circle cx="983" cy="1839" r="3.3"/><circle cx="989" cy="1856" r="3.3"/><circle cx="1026" cy="1835" r="3.3"/><circle cx="1021" cy="1805" r="3.3"/><circle cx="993" cy="1826" r="3.3"/><circle cx="1057" cy="1827" r="3.3"/><circle cx="1037" cy="1727" r="3.3"/><circle cx="1022" cy="1769" r="3.3"/><circle cx="991" cy="1856" r="3.3"/><circle cx="1005" cy="1806" r="3.3"/><circle cx="1034" cy="1806" r="3.3"/><circle cx="1012" cy="1802" r="3.3"/><circle cx="1017" cy="1775" r="3.3"/><circle cx="1026" cy="1823" r="3.3"/><circle cx="1054" cy="1769" r="3.3"/><circle cx="1013" cy="1844" r="3.3"/><circle cx="986" cy="1837" r="3.3"/><circle cx="1028" cy="1802" r="3.3"/><circle cx="1028" cy="1824" r="3.3"/><circle cx="1025" cy="1821" r="3.3"/><circle cx="1011" cy="1810" r="3.3"/><circle cx="1082" cy="1776" r="3.3"/><circle cx="1004" cy="1812" r="3.3"/><circle cx="1027" cy="1830" r="3.3"/><circle cx="1016" cy="1798" r="3.3"/><circle cx="1036" cy="1797" r="3.3"/><circle cx="1053" cy="1808" r="3.3"/><circle cx="1073" cy="1752" r="3.3"/><circle cx="1020" cy="1792" r="3.3"/><circle cx="1022" cy="1844" r="3.3"/><circle cx="991" cy="1833" r="3.3"/><circle cx="1012" cy="1798" r="3.3"/><circle cx="1016" cy="1790" r="3.3"/><circle cx="997" cy="1746" r="3.3"/><circle cx="1032" cy="1778" r="3.3"/><circle cx="1064" cy="1797" r="3.3"/><circle cx="1005" cy="1808" r="3.3"/><circle cx="1010" cy="1762" r="3.3"/><circle cx="1022" cy="1815" r="3.3"/><circle cx="997" cy="1854" r="3.3"/><circle cx="986" cy="1833" r="3.3"/><circle cx="1021" cy="1783" r="3.3"/><circle cx="1017" cy="1823" r="3.3"/><circle cx="1013" cy="1797" r="3.3"/><circle cx="1011" cy="1850" r="3.3"/><circle cx="1001" cy="1817" r="3.3"/><circle cx="980" cy="1851" r="3.3"/><circle cx="985" cy="1840" r="3.3"/><circle cx="1029" cy="1818" r="3.3"/><circle cx="1035" cy="1777" r="3.3"/><circle cx="974" cy="1858" r="3.3"/><circle cx="985" cy="1841" r="3.3"/><circle cx="1044" cy="1779" r="3.3"/><circle cx="1033" cy="1775" r="3.3"/><circle cx="1007" cy="1805" r="3.3"/><circle cx="1033" cy="1704" r="3.3"/><circle cx="1019" cy="1839" r="3.3"/><circle cx="1037" cy="1811" r="3.3"/><circle cx="1039" cy="1796" r="3.3"/><circle cx="1046" cy="1753" r="3.3"/><circle cx="1043" cy="1730" r="3.3"/><circle cx="1028" cy="1770" r="3.3"/><circle cx="1026" cy="1776" r="3.3"/><circle cx="1037" cy="1827" r="3.3"/><circle cx="974" cy="1856" r="3.3"/><circle cx="1064" cy="1765" r="3.3"/><circle cx="1018" cy="1825" r="3.3"/><circle cx="1018" cy="1823" r="3.3"/><circle cx="1008" cy="1812" r="3.3"/><circle cx="1017" cy="1777" r="3.3"/><circle cx="998" cy="1854" r="3.3"/><circle cx="992" cy="1824" r="3.3"/><circle cx="1027" cy="1821" r="3.3"/><circle cx="974" cy="1856" r="3.3"/><circle cx="981" cy="1857" r="3.3"/><circle cx="1025" cy="1821" r="3.3"/><circle cx="1040" cy="1805" r="3.3"/><circle cx="1044" cy="1792" r="3.3"/><circle cx="1016" cy="1800" r="3.3"/><circle cx="1070" cy="1783" r="3.3"/><circle cx="995" cy="1829" r="3.3"/><circle cx="1006" cy="1809" r="3.3"/><circle cx="1043" cy="1802" r="3.3"/><circle cx="1027" cy="1803" r="3.3"/><circle cx="996" cy="1854" r="3.3"/><circle cx="1015" cy="1825" r="3.3"/><circle cx="1020" cy="1761" r="3.3"/><circle cx="1065" cy="1725" r="3.3"/><circle cx="1038" cy="1812" r="3.3"/><circle cx="1055" cy="1728" r="3.3"/><circle cx="1020" cy="1404" r="3.3"/><circle cx="1054" cy="1449" r="3.3"/><circle cx="1057" cy="1459" r="3.3"/><circle cx="1031" cy="1525" r="3.3"/><circle cx="1044" cy="1519" r="3.3"/><circle cx="1047" cy="1528" r="3.3"/><circle cx="1081" cy="1542" r="3.3"/><circle cx="1062" cy="1577" r="3.3"/><circle cx="1144" cy="1653" r="3.3"/><circle cx="934" cy="1653" r="3.3"/><circle cx="798" cy="1702" r="3.3"/><circle cx="1018" cy="1616" r="3.3"/><circle cx="1040" cy="1611" r="3.3"/><circle cx="1045" cy="1611" r="3.3"/><circle cx="1044" cy="1622" r="3.3"/><circle cx="1060" cy="1616" r="3.3"/><circle cx="1060" cy="1620" r="3.3"/><circle cx="1067" cy="1640" r="3.3"/><circle cx="1073" cy="1653" r="3.3"/><circle cx="1044" cy="1648" r="3.3"/><circle cx="1050" cy="1650" r="3.3"/><circle cx="1031" cy="1658" r="3.3"/><circle cx="1007" cy="1677" r="3.3"/><circle cx="1011" cy="1670" r="3.3"/><circle cx="1017" cy="1668" r="3.3"/><circle cx="1024" cy="1677" r="3.3"/><circle cx="1036" cy="1685" r="3.3"/><circle cx="1031" cy="1685" r="3.3"/><circle cx="1072" cy="1685" r="3.3"/><circle cx="1080" cy="1686" r="3.3"/><circle cx="1095" cy="1694" r="3.3"/><circle cx="1016" cy="1694" r="3.3"/><circle cx="1033" cy="1701" r="3.3"/><circle cx="1052" cy="1698" r="3.3"/><circle cx="1060" cy="1703" r="3.3"/><circle cx="1008" cy="1702" r="3.3"/><circle cx="1044" cy="1710" r="3.3"/><circle cx="1047" cy="1712" r="3.3"/><circle cx="1003" cy="1724" r="3.3"/><circle cx="1012" cy="1725" r="3.3"/><circle cx="1024" cy="1724" r="3.3"/><circle cx="1054" cy="1724" r="3.3"/><circle cx="1060" cy="1731" r="3.3"/><circle cx="1089" cy="1727" r="3.3"/><circle cx="1095" cy="1725" r="3.3"/><circle cx="1033" cy="1733" r="3.3"/><circle cx="1036" cy="1735" r="3.3"/><circle cx="1077" cy="1732" r="3.3"/><circle cx="1067" cy="1732" r="3.3"/><circle cx="1006" cy="1742" r="3.3"/><circle cx="1014" cy="1747" r="3.3"/><circle cx="1110" cy="1763" r="3.3"/><circle cx="1080" cy="1755" r="3.3"/><circle cx="928" cy="1675" r="3.3"/><circle cx="908" cy="1684" r="3.3"/><circle cx="905" cy="1699" r="3.3"/><circle cx="866" cy="1695" r="3.3"/><circle cx="863" cy="1710" r="3.3"/><circle cx="919" cy="1724" r="3.3"/><circle cx="926" cy="1733" r="3.3"/><circle cx="934" cy="1747" r="3.3"/><circle cx="869" cy="1733" r="3.3"/><circle cx="866" cy="1745" r="3.3"/><circle cx="843" cy="1777" r="3.3"/><circle cx="829" cy="1789" r="3.3"/><circle cx="849" cy="1787" r="3.3"/><circle cx="813" cy="1828" r="3.3"/><circle cx="806" cy="1839" r="3.3"/><circle cx="1020" cy="1718" r="3.3"/><circle cx="1028" cy="1708" r="3.3"/><circle cx="1040" cy="1740" r="3.3"/><circle cx="1050" cy="1750" r="3.3"/><circle cx="1060" cy="1760" r="3.3"/><circle cx="1070" cy="1770" r="3.3"/><circle cx="1085" cy="1780" r="3.3"/><circle cx="1095" cy="1790" r="3.3"/><circle cx="1075" cy="1800" r="3.3"/><circle cx="1090" cy="1810" r="3.3"/><circle cx="1100" cy="1822" r="3.3"/><circle cx="880" cy="1760" r="3.3"/><circle cx="890" cy="1770" r="3.3"/><circle cx="900" cy="1742" r="3.3"/><circle cx="910" cy="1760" r="3.3"/><circle cx="920" cy="1770" r="3.3"/><circle cx="870" cy="1780" r="3.3"/><circle cx="860" cy="1800" r="3.3"/><circle cx="850" cy="1815" r="3.3"/><circle cx="840" cy="1828" r="3.3"/></g>
<circle cx="909.3" cy="1755" r="5.6" fill="#e8202a" stroke="#000" stroke-width="0.8"/>
<circle cx="930.9" cy="1826.4" r="5.6" fill="#e8202a" stroke="#000" stroke-width="0.8"/>
<circle cx="949.7" cy="1836.6" r="5.6" fill="#e8202a" stroke="#000" stroke-width="0.8"/>
<circle cx="940" cy="1841.8" r="5.6" fill="#e8202a" stroke="#000" stroke-width="0.8"/>
<circle cx="953.9" cy="1848" r="5.6" fill="#10a8e8" stroke="#000" stroke-width="0.8"/>
<circle cx="1010.4" cy="1841.8" r="5.6" fill="#10a8e8" stroke="#000" stroke-width="0.8"/>
<line x1="903" y1="1733" x2="908.3" y2="1751.5" stroke="#000" stroke-width="1.3"/>
<line x1="879.7" y1="1772" x2="928.5" y2="1822" stroke="#000" stroke-width="1.3"/>
<line x1="974.8" y1="1776.6" x2="952.2" y2="1832.4" stroke="#000" stroke-width="1.3"/>
<line x1="858.8" y1="1818.4" x2="935.4" y2="1839.3" stroke="#000" stroke-width="1.3"/>
<line x1="898.8" y1="1850.5" x2="944" y2="1851.5" stroke="#000" stroke-width="1.3"/>
<line x1="1013.9" y1="1841" x2="1069.6" y2="1835.2" stroke="#000" stroke-width="1.3"/>
<text x="813.4" y="1728.5" font-size="22.8" textLength="130.1" lengthAdjust="spacingAndGlyphs">GABARAPL2</text>
<text x="750.7" y="1773" font-size="22.8" textLength="126.5" lengthAdjust="spacingAndGlyphs">MAP1LC3B2</text>
<text x="964.4" y="1769.6" font-size="22.8" textLength="105.2" lengthAdjust="spacingAndGlyphs">GABARAP</text>
<text x="750.7" y="1813.2" font-size="22.8" textLength="125.5" lengthAdjust="spacingAndGlyphs">GABARAPL1</text>
<text x="817.6" y="1855" font-size="22.8" textLength="71.5" lengthAdjust="spacingAndGlyphs">DMXL1</text>
<text x="1071.4" y="1840" font-size="22.8" textLength="61.6" lengthAdjust="spacingAndGlyphs">WDR7</text>
<text x="703.6" y="1866.8" font-size="24" text-anchor="end">0</text>
<text x="703.6" y="1703.6" font-size="24" text-anchor="end">2</text>
<text x="703.6" y="1540.4" font-size="24" text-anchor="end">4</text>
<text x="703.6" y="1377.2" font-size="24" text-anchor="end">6</text>
<text x="724.3" y="1900.3" font-size="24" text-anchor="middle">–1.5</text>
<text x="806" y="1900.3" font-size="24" text-anchor="middle">–1.0</text>
<text x="887.6" y="1900.3" font-size="24" text-anchor="middle">–0.5</text>
<text x="971.3" y="1900.3" font-size="24" text-anchor="middle">0</text>
<text x="1053" y="1900.3" font-size="24" text-anchor="middle">0.5</text>
<text x="1134.6" y="1900.3" font-size="24" text-anchor="middle">1.0</text>
<text x="1216.2" y="1900.3" font-size="24" text-anchor="middle">1.5</text>
<text x="656.6" y="1942.2" font-size="26" textLength="637.8" lengthAdjust="spacingAndGlyphs">log<tspan font-size="17.5" dy="6">2</tspan><tspan dy="-6">(FC) (</tspan><tspan font-style="italic">ATG16L1</tspan> KO MLSA5/<tspan font-style="italic">ATG16L1</tspan> KO control)</text>
<text transform="translate(660.5 1705) rotate(-90)" x="0" y="0" font-size="26" textLength="183" lengthAdjust="spacingAndGlyphs">-log<tspan font-size="17.5" dy="6">10</tspan><tspan dy="-6">(</tspan><tspan font-style="italic">q</tspan> value)</text>
<text x="1321.4" y="1220.7" font-size="38" font-weight="bold" stroke="#000" stroke-width="1.3">e</text>
<text x="1496" y="1219.4" font-size="26" textLength="132.8" lengthAdjust="spacingAndGlyphs">TMEM192–</text>
<text x="1485.4" y="1250.6" font-size="26" textLength="151.5" lengthAdjust="spacingAndGlyphs">mRFP–3×HA</text>
<text x="1758.9" y="1219.4" font-size="26" textLength="131.9" lengthAdjust="spacingAndGlyphs">TMEM192–</text>
<text x="1748.6" y="1250.6" font-size="26" textLength="150.7" lengthAdjust="spacingAndGlyphs">mRFP–3×HA</text>
<line x1="1490.5" y1="1261.3" x2="1633.9" y2="1261.3" stroke="#000" stroke-width="1.3"/>
<line x1="1752.9" y1="1261.3" x2="1897.2" y2="1261.3" stroke="#000" stroke-width="1.3"/>
<text x="1419" y="1293.4" font-size="26" textLength="39.4" lengthAdjust="spacingAndGlyphs">WT</text>
<text x="1502" y="1293.4" font-size="26" textLength="38.6" lengthAdjust="spacingAndGlyphs">WT</text>
<text x="1674.6" y="1293.4" font-size="26" textLength="38.4" lengthAdjust="spacingAndGlyphs">WT</text>
<text x="1765.8" y="1293.4" font-size="26" textLength="37.2" lengthAdjust="spacingAndGlyphs">WT</text>
<text x="1556" y="1293.4" font-size="26" textLength="98.5" lengthAdjust="spacingAndGlyphs"><tspan font-style="italic">16L1</tspan> KO</text>
<text x="1824.8" y="1293.4" font-size="26" textLength="98.1" lengthAdjust="spacingAndGlyphs"><tspan font-style="italic">16L1</tspan> KO</text>
<line x1="1407" y1="1303.3" x2="1470" y2="1303.3" stroke="#000" stroke-width="1.3"/>
<line x1="1490.5" y1="1303.3" x2="1552.6" y2="1303.3" stroke="#000" stroke-width="1.3"/>
<line x1="1570.5" y1="1303.3" x2="1633.9" y2="1303.3" stroke="#000" stroke-width="1.3"/>
<line x1="1662.6" y1="1303.3" x2="1725" y2="1303.3" stroke="#000" stroke-width="1.3"/>
<line x1="1752.9" y1="1303.3" x2="1815.8" y2="1303.3" stroke="#000" stroke-width="1.3"/>
<line x1="1843.7" y1="1303.3" x2="1905.7" y2="1303.3" stroke="#000" stroke-width="1.3"/>
<text x="1416.9" y="1338.4" font-size="26" text-anchor="middle">–</text>
<text x="1458.4" y="1338.4" font-size="26" text-anchor="middle">+</text>
<text x="1499.9" y="1338.4" font-size="26" text-anchor="middle">–</text>
<text x="1540.6" y="1338.4" font-size="26" text-anchor="middle">+</text>
<text x="1583.4" y="1338.4" font-size="26" text-anchor="middle">–</text>
<text x="1623.2" y="1338.4" font-size="26" text-anchor="middle">+</text>
<text x="1670.7" y="1338.4" font-size="26" text-anchor="middle">–</text>
<text x="1713.5" y="1338.4" font-size="26" text-anchor="middle">+</text>
<text x="1761" y="1338.4" font-size="26" text-anchor="middle">–</text>
<text x="1806.4" y="1338.4" font-size="26" text-anchor="middle">+</text>
<text x="1854.4" y="1338.4" font-size="26" text-anchor="middle">–</text>
<text x="1893.3" y="1338.4" font-size="26" text-anchor="middle">+</text>
<text x="1937.8" y="1341.8" font-size="26" textLength="149.9" lengthAdjust="spacingAndGlyphs">MLSA5 (2 h)</text>
<text x="1320.5" y="1356.4" font-size="26" textLength="45.9" lengthAdjust="spacingAndGlyphs">kDa</text>
<clipPath id="cb1"><rect x="1392.9" y="1352.8" width="531.2" height="74.1"/></clipPath>
<g clip-path="url(#cb1)">
<rect x="1392.9" y="1352.8" width="531.2" height="74.1" fill="#cdcdcd"/>
<rect x="1434" y="1353" width="6" height="74" fill="#ffffff" opacity="0.25" filter="url(#b2)"/>
<rect x="1475.5" y="1353" width="6" height="74" fill="#ffffff" opacity="0.25" filter="url(#b2)"/>
<rect x="1517.5" y="1353" width="6" height="74" fill="#ffffff" opacity="0.25" filter="url(#b2)"/>
<rect x="1559" y="1353" width="6" height="74" fill="#ffffff" opacity="0.25" filter="url(#b2)"/>
<rect x="1600.5" y="1353" width="6" height="74" fill="#ffffff" opacity="0.25" filter="url(#b2)"/>
<rect x="1642" y="1353" width="6" height="74" fill="#ffffff" opacity="0.25" filter="url(#b2)"/>
<rect x="1400.1" y="1391.7" width="31" height="2.6" rx="1.3" fill="#1a1a1a" opacity="0.85" filter="url(#b1)"/>
<rect x="1400.1" y="1399.4" width="31" height="3.6" rx="1.8" fill="#0a0a0a" filter="url(#b1)"/>
<rect x="1442.5" y="1393.3" width="31" height="2.6" rx="1.3" fill="#1a1a1a" opacity="0.85" filter="url(#b1)"/>
<rect x="1442.5" y="1401.5" width="31" height="3.6" rx="1.8" fill="#0a0a0a" filter="url(#b1)"/>
<rect x="1484" y="1396.1" width="31" height="2.6" rx="1.3" fill="#1a1a1a" opacity="0.85" filter="url(#b1)"/>
<rect x="1484" y="1403.4" width="31" height="3.6" rx="1.8" fill="#0a0a0a" filter="url(#b1)"/>
<rect x="1525.9" y="1394.8" width="31" height="2.6" rx="1.3" fill="#1a1a1a" opacity="0.85" filter="url(#b1)"/>
<rect x="1525.9" y="1402" width="31" height="3.6" rx="1.8" fill="#0a0a0a" filter="url(#b1)"/>
<rect x="1567.5" y="1393.7" width="31" height="2.6" rx="1.3" fill="#1a1a1a" opacity="0.85" filter="url(#b1)"/>
<rect x="1567.5" y="1400.7" width="31" height="3.6" rx="1.8" fill="#0a0a0a" filter="url(#b1)"/>
<rect x="1608.4" y="1390.9" width="31" height="2.6" rx="1.3" fill="#1a1a1a" opacity="0.85" filter="url(#b1)"/>
<rect x="1608.4" y="1397.8" width="31" height="3.6" rx="1.8" fill="#0a0a0a" filter="url(#b1)"/>
<rect x="1651" y="1392" width="34" height="3" rx="1.5" fill="#333" opacity="0.12" filter="url(#b1)"/>
<rect x="1698" y="1392" width="34" height="3" rx="1.5" fill="#333" opacity="0.12" filter="url(#b1)"/>
<rect x="1745.8" y="1392" width="34" height="3" rx="1.5" fill="#333" opacity="0.14" filter="url(#b1)"/>
<rect x="1791.5" y="1392" width="34" height="3" rx="1.5" fill="#333" opacity="0.3" filter="url(#b1)"/>
<rect x="1837.4" y="1392" width="34" height="3" rx="1.5" fill="#333" opacity="0.15" filter="url(#b1)"/>
<rect x="1883.4" y="1392" width="34" height="3" rx="1.5" fill="#333" opacity="0.18" filter="url(#b1)"/>
</g>
<rect x="1392.9" y="1352.8" width="531.2" height="74.1" fill="none" stroke="#222" stroke-width="1.4"/>
<clipPath id="cb2"><rect x="1392.9" y="1435.5" width="531.2" height="50"/></clipPath>
<g clip-path="url(#cb2)">
<rect x="1392.9" y="1435.5" width="531.2" height="50" fill="#ababab"/>
<rect x="1433" y="1436" width="6" height="50" fill="#ffffff" opacity="0.3" filter="url(#b2)"/>
<rect x="1474.5" y="1436" width="6" height="50" fill="#ffffff" opacity="0.3" filter="url(#b2)"/>
<rect x="1516" y="1436" width="6" height="50" fill="#ffffff" opacity="0.3" filter="url(#b2)"/>
<rect x="1558" y="1436" width="6" height="50" fill="#ffffff" opacity="0.3" filter="url(#b2)"/>
<rect x="1599" y="1436" width="6" height="50" fill="#ffffff" opacity="0.3" filter="url(#b2)"/>
<rect x="1640" y="1436" width="6" height="50" fill="#ffffff" opacity="0.3" filter="url(#b2)"/>
<rect x="1399.6" y="1469" width="32" height="14" rx="7" fill="#888" opacity="0.5" filter="url(#b3)"/>
<rect x="1399.6" y="1456.2" width="32" height="5.5" rx="2.8" fill="#000" filter="url(#b1)"/>
<rect x="1399.6" y="1463.8" width="32" height="6.5" rx="3.2" fill="#000" filter="url(#b1)"/>
<rect x="1442" y="1469" width="32" height="14" rx="7" fill="#888" opacity="0.5" filter="url(#b3)"/>
<rect x="1442" y="1456.8" width="32" height="5.5" rx="2.8" fill="#000" filter="url(#b1)"/>
<rect x="1442" y="1464.2" width="32" height="6.5" rx="3.2" fill="#000" filter="url(#b1)"/>
<rect x="1483.5" y="1469" width="32" height="14" rx="7" fill="#888" opacity="0.5" filter="url(#b3)"/>
<rect x="1483.5" y="1458.8" width="32" height="5.5" rx="2.8" fill="#000" filter="url(#b1)"/>
<rect x="1483.5" y="1465.8" width="32" height="6.5" rx="3.2" fill="#000" filter="url(#b1)"/>
<rect x="1525.4" y="1469" width="32" height="14" rx="7" fill="#888" opacity="0.5" filter="url(#b3)"/>
<rect x="1525.4" y="1457.2" width="32" height="5.5" rx="2.8" fill="#000" filter="url(#b1)"/>
<rect x="1525.4" y="1464.2" width="32" height="6.5" rx="3.2" fill="#000" filter="url(#b1)"/>
<rect x="1567" y="1469" width="32" height="14" rx="7" fill="#888" opacity="0.5" filter="url(#b3)"/>
<rect x="1567" y="1457.2" width="32" height="5.5" rx="2.8" fill="#000" filter="url(#b1)"/>
<rect x="1567" y="1463.8" width="32" height="6.5" rx="3.2" fill="#000" filter="url(#b1)"/>
<rect x="1607.9" y="1469" width="32" height="14" rx="7" fill="#888" opacity="0.5" filter="url(#b3)"/>
<rect x="1607.9" y="1455.2" width="32" height="5.5" rx="2.8" fill="#000" filter="url(#b1)"/>
<rect x="1607.9" y="1462.2" width="32" height="6.5" rx="3.2" fill="#000" filter="url(#b1)"/>
<rect x="1651" y="1456.2" width="34" height="3" rx="1.5" fill="#333" opacity="0.3" filter="url(#b1)"/>
<rect x="1698" y="1456.2" width="34" height="3" rx="1.5" fill="#333" opacity="0.3" filter="url(#b1)"/>
<rect x="1745.8" y="1456.2" width="34" height="3" rx="1.5" fill="#333" opacity="0.3" filter="url(#b1)"/>
<rect x="1791.5" y="1456.2" width="34" height="3" rx="1.5" fill="#333" opacity="0.55" filter="url(#b1)"/>
<rect x="1837.4" y="1456.2" width="34" height="3" rx="1.5" fill="#333" opacity="0.35" filter="url(#b1)"/>
<rect x="1883.4" y="1456.2" width="34" height="3" rx="1.5" fill="#333" opacity="0.4" filter="url(#b1)"/>
</g>
<rect x="1392.9" y="1435.5" width="531.2" height="50" fill="none" stroke="#222" stroke-width="1.4"/>
<clipPath id="cb3"><rect x="1392.9" y="1492" width="531.2" height="64.2"/></clipPath>
<g clip-path="url(#cb3)">
<rect x="1392.9" y="1492" width="531.2" height="64.2" fill="#f3f3f3"/>
<rect x="1452" y="1530" width="40" height="7.5" rx="3.8" fill="#000" filter="url(#b1)"/>
<rect x="1541" y="1532.7" width="38" height="5.5" rx="2.8" fill="#000" filter="url(#b1)"/>
<rect x="1799.1" y="1527.2" width="42" height="8.5" rx="4.2" fill="#000" filter="url(#b1)"/>
<path d="M1402 1525 Q1430 1531 1452 1533" fill="none" stroke="#888" stroke-width="2" opacity="0.6" filter="url(#b1)"/>
<rect x="1500" y="1534.8" width="30" height="2.5" rx="1.2" fill="#aaa" opacity="0.6" filter="url(#b2)"/>
<rect x="1703" y="1532" width="34" height="3" rx="1.5" fill="#bbb" opacity="0.5" filter="url(#b2)"/>
<rect x="1758" y="1530.5" width="34" height="3" rx="1.5" fill="#aaa" opacity="0.5" filter="url(#b2)"/>
<rect x="1540" y="1514" width="120" height="4" rx="2" fill="#ddd" opacity="0.6" filter="url(#b2)"/>
</g>
<rect x="1392.9" y="1492" width="531.2" height="64.2" fill="none" stroke="#222" stroke-width="1.4"/>
<clipPath id="cb4"><rect x="1392.9" y="1565.6" width="531.2" height="66.8"/></clipPath>
<g clip-path="url(#cb4)">
<rect x="1392.9" y="1565.6" width="531.2" height="66.8" fill="#f4f4f4"/>
<rect x="1402.5" y="1574" width="37" height="46" fill="#777" filter="url(#b3)"/>
<rect x="1403.5" y="1583" width="35" height="24" rx="6" fill="#000" filter="url(#b3)"/>
<rect x="1447.1" y="1574" width="37" height="46" fill="#777" filter="url(#b3)"/>
<rect x="1448.1" y="1583" width="35" height="24" rx="6" fill="#000" filter="url(#b3)"/>
<rect x="1490.9" y="1574" width="37" height="46" fill="#777" filter="url(#b3)"/>
<rect x="1491.9" y="1583" width="35" height="24" rx="6" fill="#000" filter="url(#b3)"/>
<rect x="1533.4" y="1574" width="37" height="46" fill="#777" filter="url(#b3)"/>
<rect x="1534.4" y="1583" width="35" height="24" rx="6" fill="#000" filter="url(#b3)"/>
<rect x="1576.4" y="1574" width="37" height="46" fill="#777" filter="url(#b3)"/>
<rect x="1577.4" y="1583" width="35" height="24" rx="6" fill="#000" filter="url(#b3)"/>
<rect x="1619.8" y="1574" width="37" height="46" fill="#777" filter="url(#b3)"/>
<rect x="1620.8" y="1583" width="35" height="24" rx="6" fill="#000" filter="url(#b3)"/>
<rect x="1747.7" y="1574" width="37" height="46" fill="#777" filter="url(#b3)"/>
<rect x="1748.7" y="1583" width="35" height="24" rx="6" fill="#000" filter="url(#b3)"/>
<rect x="1790.9" y="1574" width="37" height="46" fill="#777" filter="url(#b3)"/>
<rect x="1791.9" y="1583" width="35" height="24" rx="6" fill="#000" filter="url(#b3)"/>
<rect x="1834.1" y="1574" width="37" height="46" fill="#777" filter="url(#b3)"/>
<rect x="1835.1" y="1583" width="35" height="24" rx="6" fill="#000" filter="url(#b3)"/>
<rect x="1879.7" y="1574" width="37" height="46" fill="#777" filter="url(#b3)"/>
<rect x="1880.7" y="1583" width="35" height="24" rx="6" fill="#000" filter="url(#b3)"/>
<rect x="1664.2" y="1586" width="34" height="24" rx="12" fill="#dddddd" filter="url(#b3)"/>
<rect x="1706.8" y="1586" width="34" height="24" rx="12" fill="#dddddd" filter="url(#b3)"/>
</g>
<rect x="1392.9" y="1565.6" width="531.2" height="66.8" fill="none" stroke="#222" stroke-width="1.4"/>
<clipPath id="cb5"><rect x="1392.9" y="1640.5" width="531.2" height="53.5"/></clipPath>
<g clip-path="url(#cb5)">
<rect x="1392.9" y="1640.5" width="531.2" height="53.5" fill="#cacaca"/>
<rect x="1402.4" y="1671" width="36" height="10" rx="5" fill="#888" opacity="0.6" filter="url(#b3)"/>
<rect x="1403.4" y="1668.4" width="34" height="6" rx="3" fill="#080808" filter="url(#b1)"/>
<rect x="1445.5" y="1671" width="36" height="10" rx="5" fill="#888" opacity="0.6" filter="url(#b3)"/>
<rect x="1446.5" y="1668.4" width="34" height="6" rx="3" fill="#080808" filter="url(#b1)"/>
<rect x="1486.2" y="1671" width="36" height="10" rx="5" fill="#888" opacity="0.6" filter="url(#b3)"/>
<rect x="1487.2" y="1668.4" width="34" height="6" rx="3" fill="#080808" filter="url(#b1)"/>
<rect x="1526.6" y="1671" width="36" height="10" rx="5" fill="#888" opacity="0.6" filter="url(#b3)"/>
<rect x="1527.6" y="1668.4" width="34" height="6" rx="3" fill="#080808" filter="url(#b1)"/>
<rect x="1567" y="1671" width="36" height="10" rx="5" fill="#888" opacity="0.6" filter="url(#b3)"/>
<rect x="1568" y="1668.4" width="34" height="6" rx="3" fill="#080808" filter="url(#b1)"/>
<rect x="1607.8" y="1671" width="36" height="10" rx="5" fill="#888" opacity="0.6" filter="url(#b3)"/>
<rect x="1608.8" y="1668.4" width="34" height="6" rx="3" fill="#080808" filter="url(#b1)"/>
<rect x="1653" y="1668.2" width="33" height="5.5" rx="2.8" fill="#333" opacity="0.15" filter="url(#b2)"/>
<rect x="1696" y="1668.2" width="36" height="5.5" rx="2.8" fill="#333" opacity="0.25" filter="url(#b2)"/>
<rect x="1739" y="1668.2" width="38" height="5.5" rx="2.8" fill="#333" opacity="0.5" filter="url(#b2)"/>
<rect x="1782.2" y="1666" width="37" height="5.5" rx="2.8" fill="#333" opacity="0.6" filter="url(#b2)"/>
<rect x="1825.5" y="1663.2" width="39" height="5.5" rx="2.8" fill="#333" opacity="0.65" filter="url(#b2)"/>
<rect x="1870.2" y="1661" width="43" height="5.5" rx="2.8" fill="#333" opacity="0.6" filter="url(#b2)"/>
</g>
<rect x="1392.9" y="1640.5" width="531.2" height="53.5" fill="none" stroke="#222" stroke-width="1.4"/>
<clipPath id="cb6"><rect x="1392.9" y="1703.5" width="531.2" height="46.2"/></clipPath>
<g clip-path="url(#cb6)">
<rect x="1392.9" y="1703.5" width="531.2" height="46.2" fill="#bcbcbc"/>
<rect x="1392.9" y="1703.5" width="257.1" height="46.2" fill="#b4b4b4"/>
<rect x="1438" y="1703.5" width="6" height="41.5" fill="#d0d0d0" opacity="0.45" filter="url(#b2)"/>
<rect x="1479" y="1703.5" width="6" height="41.5" fill="#d0d0d0" opacity="0.45" filter="url(#b2)"/>
<rect x="1520" y="1703.5" width="6" height="41.5" fill="#d0d0d0" opacity="0.45" filter="url(#b2)"/>
<rect x="1561" y="1703.5" width="6" height="41.5" fill="#d0d0d0" opacity="0.45" filter="url(#b2)"/>
<rect x="1603" y="1703.5" width="6" height="41.5" fill="#d0d0d0" opacity="0.45" filter="url(#b2)"/>
<rect x="1402.5" y="1729.2" width="34" height="7.5" rx="3.8" fill="#000" filter="url(#b1)"/>
<rect x="1444.5" y="1729.2" width="34" height="7.5" rx="3.8" fill="#000" filter="url(#b1)"/>
<rect x="1485.5" y="1729.2" width="34" height="7.5" rx="3.8" fill="#000" filter="url(#b1)"/>
<rect x="1526.3" y="1729.2" width="34" height="7.5" rx="3.8" fill="#000" filter="url(#b1)"/>
<rect x="1567.6" y="1729.2" width="34" height="7.5" rx="3.8" fill="#000" filter="url(#b1)"/>
<rect x="1610" y="1729.2" width="34" height="7.5" rx="3.8" fill="#000" filter="url(#b1)"/>
<rect x="1392.9" y="1745" width="531.2" height="4.7" fill="#c4c4c4" opacity="0.6"/>
</g>
<rect x="1392.9" y="1703.5" width="531.2" height="46.2" fill="none" stroke="#222" stroke-width="1.4"/>
<clipPath id="cb7"><rect x="1392.9" y="1759" width="531.2" height="37.4"/></clipPath>
<g clip-path="url(#cb7)">
<rect x="1392.9" y="1759" width="531.2" height="37.4" fill="#ebebeb"/>
<rect x="1400" y="1759" width="1265" height="37.4" fill="#e6e6e6"/>
<rect x="1406.2" y="1766.5" width="39" height="7" rx="3.5" fill="#000" filter="url(#b1)"/>
<rect x="1451.3" y="1768.8" width="39" height="7" rx="3.5" fill="#000" filter="url(#b1)"/>
<rect x="1494.3" y="1769.5" width="39" height="7" rx="3.5" fill="#000" filter="url(#b1)"/>
<rect x="1536.5" y="1770" width="39" height="7" rx="3.5" fill="#000" filter="url(#b1)"/>
<rect x="1579" y="1770" width="39" height="7" rx="3.5" fill="#000" filter="url(#b1)"/>
<rect x="1621.5" y="1769.5" width="39" height="7" rx="3.5" fill="#000" filter="url(#b1)"/>
<rect x="1652.5" y="1770.5" width="34" height="3" rx="1.5" fill="#999" opacity="0.3" filter="url(#b2)"/>
<rect x="1697" y="1770.5" width="34" height="3" rx="1.5" fill="#999" opacity="0.3" filter="url(#b2)"/>
<rect x="1741" y="1770.5" width="34" height="3" rx="1.5" fill="#999" opacity="0.3" filter="url(#b2)"/>
<rect x="1783.7" y="1770.5" width="34" height="3" rx="1.5" fill="#999" opacity="0.3" filter="url(#b2)"/>
<rect x="1828" y="1770.5" width="34" height="3" rx="1.5" fill="#999" opacity="0.3" filter="url(#b2)"/>
<rect x="1874.7" y="1770.5" width="34" height="3" rx="1.5" fill="#999" opacity="0.3" filter="url(#b2)"/>
</g>
<rect x="1392.9" y="1759" width="531.2" height="37.4" fill="none" stroke="#222" stroke-width="1.4"/>
<clipPath id="cb8"><rect x="1392.9" y="1806.2" width="531.2" height="49.2"/></clipPath>
<g clip-path="url(#cb8)">
<rect x="1392.9" y="1806.2" width="531.2" height="49.2" fill="#ececec"/>
<defs><linearGradient id="cxg" x1="0" y1="0" x2="0" y2="1"><stop offset="0" stop-color="#777"/><stop offset="1" stop-color="#aaa"/></linearGradient></defs>
<rect x="1402" y="1830" width="266" height="22" fill="url(#cxg)" opacity="0.9" filter="url(#b3)"/>
<rect x="1448.3" y="1834" width="5" height="21" fill="#e0e0e0" opacity="0.35" filter="url(#b2)"/>
<rect x="1495.2" y="1834" width="5" height="21" fill="#e0e0e0" opacity="0.35" filter="url(#b2)"/>
<rect x="1535.2" y="1834" width="5" height="21" fill="#e0e0e0" opacity="0.35" filter="url(#b2)"/>
<rect x="1577.5" y="1834" width="5" height="21" fill="#e0e0e0" opacity="0.35" filter="url(#b2)"/>
<rect x="1619.8" y="1834" width="5" height="21" fill="#e0e0e0" opacity="0.35" filter="url(#b2)"/>
<rect x="1401" y="1824.2" width="268" height="8.5" rx="4.2" fill="#000" filter="url(#b1)"/>
<rect x="1650.5" y="1824.8" width="38" height="4.5" rx="2.2" fill="#333" opacity="0.3" filter="url(#b2)"/>
<rect x="1695" y="1824.2" width="38" height="4.5" rx="2.2" fill="#333" opacity="0.5" filter="url(#b2)"/>
<rect x="1739" y="1824.2" width="38" height="4.5" rx="2.2" fill="#333" opacity="0.55" filter="url(#b2)"/>
<rect x="1781.7" y="1826.3" width="38" height="4.5" rx="2.2" fill="#333" opacity="0.55" filter="url(#b2)"/>
<rect x="1826" y="1827.8" width="38" height="4.5" rx="2.2" fill="#333" opacity="0.45" filter="url(#b2)"/>
<rect x="1872.7" y="1831.3" width="38" height="4.5" rx="2.2" fill="#333" opacity="0.55" filter="url(#b2)"/>
</g>
<rect x="1392.9" y="1806.2" width="531.2" height="49.2" fill="none" stroke="#222" stroke-width="1.4"/>
<text x="1937.8" y="1385.5" font-size="26" textLength="82.2" lengthAdjust="spacingAndGlyphs">DMXL1</text>
<text x="1937.8" y="1413.3" font-size="26" textLength="205.5" lengthAdjust="spacingAndGlyphs">(short exposure)</text>
<text x="1937.8" y="1457.7" font-size="26" textLength="82.2" lengthAdjust="spacingAndGlyphs">DMXL1</text>
<text x="1937.8" y="1484.5" font-size="26" textLength="197" lengthAdjust="spacingAndGlyphs">(long exposure)</text>
<text x="1937.8" y="1532.6" font-size="26" textLength="88.7" lengthAdjust="spacingAndGlyphs">LC3B-II</text>
<text x="1937.8" y="1607.5" font-size="26" textLength="162.7" lengthAdjust="spacingAndGlyphs">LAMP1 (Lyso)</text>
<text x="1937.8" y="1675.6" font-size="26" textLength="162.7" lengthAdjust="spacingAndGlyphs">YIPF4 (Golgi)</text>
<text x="1937.8" y="1735.6" font-size="26" textLength="207.7" lengthAdjust="spacingAndGlyphs">Golgin97 (Golgi)</text>
<text x="1937.8" y="1787" font-size="26" textLength="202.1" lengthAdjust="spacingAndGlyphs">Calreticulin (ER)</text>
<text x="1937.8" y="1839.2" font-size="26" textLength="171.2" lengthAdjust="spacingAndGlyphs">COX IV (Mito)</text>
<line x1="1380.5" y1="1414" x2="1392.5" y2="1414" stroke="#000" stroke-width="1.4"/>
<text x="1366.4" y="1422.2" font-size="24" text-anchor="end">250</text>
<line x1="1380.5" y1="1480.4" x2="1392.5" y2="1480.4" stroke="#000" stroke-width="1.4"/>
<text x="1366.4" y="1488.6" font-size="24" text-anchor="end">250</text>
<line x1="1380.5" y1="1521" x2="1392.5" y2="1521" stroke="#000" stroke-width="1.4"/>
<text x="1366.4" y="1529.2" font-size="24" text-anchor="end">15</text>
<line x1="1380.5" y1="1597.7" x2="1392.5" y2="1597.7" stroke="#000" stroke-width="1.4"/>
<text x="1366.4" y="1605.9" font-size="24" text-anchor="end">100</text>
<line x1="1380.5" y1="1683" x2="1392.5" y2="1683" stroke="#000" stroke-width="1.4"/>
<text x="1366.4" y="1691.2" font-size="24" text-anchor="end">25</text>
<line x1="1380.5" y1="1724" x2="1392.5" y2="1724" stroke="#000" stroke-width="1.4"/>
<text x="1366.4" y="1732.2" font-size="24" text-anchor="end">100</text>
<line x1="1380.5" y1="1777.5" x2="1392.5" y2="1777.5" stroke="#000" stroke-width="1.4"/>
<text x="1366.4" y="1785.7" font-size="24" text-anchor="end">50</text>
<line x1="1380.5" y1="1836.2" x2="1392.5" y2="1836.2" stroke="#000" stroke-width="1.4"/>
<text x="1366.4" y="1844.4" font-size="24" text-anchor="end">15</text>
<line x1="1397.6" y1="1869.6" x2="1663.9" y2="1869.6" stroke="#000" stroke-width="1.3"/>
<line x1="1669" y1="1869.6" x2="1922.9" y2="1869.6" stroke="#000" stroke-width="1.3"/>
<text x="1497.8" y="1902.5" font-size="26" textLength="64.2" lengthAdjust="spacingAndGlyphs">Input</text>
<text x="1745.2" y="1902.5" font-size="26" textLength="100.6" lengthAdjust="spacingAndGlyphs">IP: α-HA</text>
</svg>
</body></html>
